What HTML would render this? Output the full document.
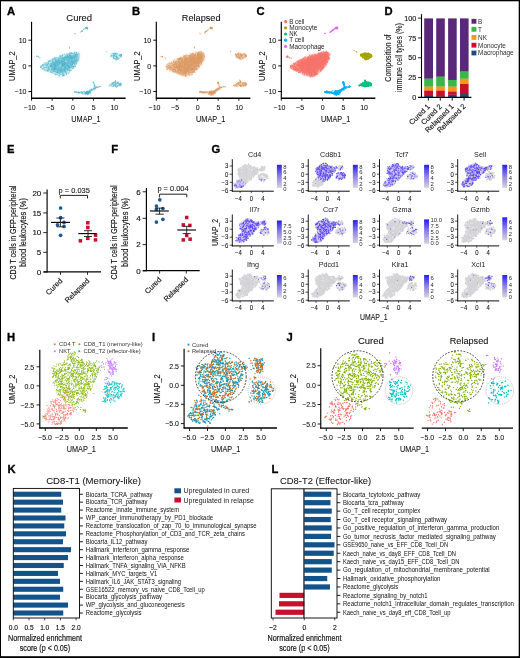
<!DOCTYPE html>
<html lang="en">
<head>
<meta charset="utf-8">
<title>Figure</title>
<style>html,body{margin:0;padding:0;background:#fff;overflow:hidden;}svg{display:block;}text{font-family:"Liberation Sans",sans-serif;}</style>
</head>
<body>
<svg width="520" height="658" viewBox="0 0 520 658" font-family='"Liberation Sans", sans-serif' fill="#111">
<rect x="0" y="0" width="520" height="658" fill="#ffffff"/>
<defs><filter id="bl" x="-10%" y="-10%" width="120%" height="120%"><feGaussianBlur stdDeviation="0.9"/></filter></defs>
<line x1="31.55" y1="21.8" x2="31.55" y2="98.8" stroke="#000" stroke-width="1.15"/>
<line x1="31.25" y1="98.25" x2="125.6" y2="98.25" stroke="#000" stroke-width="1.3"/>
<line x1="28.45" y1="40.2" x2="31.75" y2="40.2" stroke="#000" stroke-width="0.9"/>
<line x1="28.45" y1="65.9" x2="31.75" y2="65.9" stroke="#000" stroke-width="0.9"/>
<line x1="28.45" y1="91.5" x2="31.75" y2="91.5" stroke="#000" stroke-width="0.9"/>
<line x1="31.55" y1="98.2" x2="31.55" y2="100.7" stroke="#000" stroke-width="0.9"/>
<line x1="52.15" y1="98.2" x2="52.15" y2="100.7" stroke="#000" stroke-width="0.9"/>
<line x1="72.8" y1="98.2" x2="72.8" y2="100.7" stroke="#000" stroke-width="0.9"/>
<line x1="93.45" y1="98.2" x2="93.45" y2="100.7" stroke="#000" stroke-width="0.9"/>
<line x1="114.1" y1="98.2" x2="114.1" y2="100.7" stroke="#000" stroke-width="0.9"/>
<text transform="translate(26.45 42.9) scale(0.92 1)" font-size="7.6" text-anchor="end" stroke="#111" stroke-width="0.08">10</text>
<text transform="translate(26.45 68.6) scale(0.92 1)" font-size="7.6" text-anchor="end" stroke="#111" stroke-width="0.08">0</text>
<text transform="translate(26.45 94.2) scale(0.92 1)" font-size="7.6" text-anchor="end" stroke="#111" stroke-width="0.08">−10</text>
<text transform="translate(29.75 110.1) scale(0.92 1)" font-size="7.6" text-anchor="middle" stroke="#111" stroke-width="0.08">−10</text>
<text transform="translate(50.35 110.1) scale(0.92 1)" font-size="7.6" text-anchor="middle" stroke="#111" stroke-width="0.08">−5</text>
<text transform="translate(73 110.1) scale(0.92 1)" font-size="7.6" text-anchor="middle" stroke="#111" stroke-width="0.08">0</text>
<text transform="translate(93.65 110.1) scale(0.92 1)" font-size="7.6" text-anchor="middle" stroke="#111" stroke-width="0.08">5</text>
<text transform="translate(114.3 110.1) scale(0.92 1)" font-size="7.6" text-anchor="middle" stroke="#111" stroke-width="0.08">10</text>
<text transform="translate(85.9 122)" font-size="9.7" text-anchor="middle" textLength="29.2" lengthAdjust="spacingAndGlyphs" stroke="#111" stroke-width="0.1">UMAP_1</text>
<text transform="translate(14.8 66.2) rotate(-90)" font-size="9.5" text-anchor="middle" textLength="29.4" lengthAdjust="spacingAndGlyphs" stroke="#111" stroke-width="0.1">UMAP_2</text>
<text transform="translate(79.2 21.3)" font-size="8.4" text-anchor="middle" textLength="25.8" lengthAdjust="spacingAndGlyphs" stroke="#111" stroke-width="0.08">Cured</text>
<g filter="url(#bl)">
<polygon points="40.3,66.6 42,64.6 44.4,63 47.8,61.1 51.2,59.3 55,57.6 58.8,56.1 63.5,54.5 68.5,53 73,52 76.2,51.5 78.3,52.2 79.7,54.3 79.8,58 78,62.5 75.2,66.5 71.5,70.5 67.5,74 63.5,76.6 60.5,76.5 56,75 50,72.6 45,70.5 41.2,68.6" fill="#88cfdf" fill-opacity="0.3"/>
<polygon points="49,65 55,61 63,57.5 71,54.6 77,53.5 78.5,57 76,62.5 71,67.5 65,72 60,73.5 53,70.5" fill="#88cfdf" fill-opacity="0.42"/>
</g>
<path d="M58.6 65.3h0M60.6 66.7h0M65.5 71.6h0M66.2 67h0M57.1 72.6h0M59.7 68.2h0M70.8 61.2h0M76.7 63.2h0M43.2 67h0M71.4 55.8h0M48.2 70.3h0M49 60.9h0M70.8 59.9h0M43.9 66.7h0M55.4 62.8h0M63.1 73.5h0M49.7 69.9h0M64.1 59.4h0M62.2 72.7h0M76.9 56.7h0M62.4 55.4h0M67.7 66.3h0M40.5 67.5h0M43.2 64.4h0M69.7 68.3h0M54.9 68.2h0M57.1 70.9h0M64.5 60.8h0M44.3 67.5h0M69 60.7h0M58.3 72.9h0M41.2 66.6h0M67.2 63.4h0M52.3 68.8h0M57.5 74.4h0M48.4 61.5h0M74.8 61h0M46.1 63.3h0M58.2 58.8h0M64.7 64.6h0M74.6 52h0M52.7 71.4h0M73.2 57.6h0M64.8 62.3h0M67.1 56.5h0M68.5 56.4h0M67.3 64.1h0M56 71.3h0M44.8 62.3h0M55.7 65.3h0M65.9 55.9h0M65.8 70.3h0M61.1 72.1h0M74.5 60.5h0M61.9 70.8h0M72.3 52.9h0M53.7 71.5h0M61 69.1h0M77.9 54.1h0M51.4 69.4h0M73.5 65.9h0M62.5 56.4h0M55.7 71.4h0M62.5 61.6h0M51.2 63.7h0M59.3 60h0M76.9 54.7h0M67.1 60h0M44.8 70.2h0M61 62.8h0M61.4 56.1h0M65.8 64.4h0M74.1 56.6h0M75.6 60.3h0M75.4 55.5h0M73.2 61.9h0M56.5 68.7h0M77.9 54.4h0M60.2 68.9h0M61.9 64.3h0M77.8 54.3h0M58.3 71.1h0M60.6 62.3h0M68.2 73.1h0M69.6 61.9h0M67.9 72.8h0M64.7 64.1h0M69.9 70.7h0M67.8 70.4h0M68.6 53.6h0M65.6 68.1h0M66.3 59.5h0M61.9 61.3h0M68.1 70.6h0M64.6 70.4h0M62.5 64.1h0M71.7 53h0M46.8 63.8h0M77.1 62h0M54.5 58.2h0M51.5 69.6h0M45.8 71h0M70.8 52.7h0M57.6 63.4h0M60.9 74.6h0M63.8 54.1h0M57.5 68.4h0M63.4 61.5h0M69.9 58h0M71.1 67.4h0M66.9 65.4h0M70.1 57.4h0M50.9 62h0M43.2 68.3h0M55.1 63.9h0M72.3 66.9h0M57.2 57.6h0M53.1 64.4h0M57.9 61.2h0M62.5 63.4h0M71.1 54h0M68.9 69.1h0M54.3 69.9h0M69.1 65.3h0M76.5 62.2h0M53.6 61.2h0M49.9 60.9h0M56.1 61.7h0M72.1 64.6h0M47.5 70.3h0M62.4 65.6h0M71.4 52.9h0M44.1 67.9h0M66.1 58.3h0M60.6 70.9h0M59.7 64.4h0M76.7 61.3h0M61.1 68.9h0M48.1 63.2h0M44.9 67.5h0M63.6 74.4h0M49.4 69.3h0M46.9 71h0M72.5 64.4h0M75.5 59.8h0M60.3 57.3h0M71.5 61.1h0M66.7 57.5h0M54.9 71h0M73.8 63.5h0M51.2 65.5h0M68.2 54h0M74.3 58.7h0M76.6 53.5h0M62.2 65.3h0M52.9 59.5h0M58.4 69.9h0M58.8 75.3h0M67.9 57.3h0M71.6 56.5h0M55 65.4h0M55.8 68.5h0M69.7 59.6h0M69 59.7h0M67.2 69.6h0M73.6 66.5h0M76.1 62.2h0M55.5 59.9h0M56.8 69h0M66.7 66.8h0M54.1 68.1h0M60.7 70.8h0M47 70.5h0M54.6 64.6h0M68.9 73.4h0M65.3 56.6h0M62.6 69.8h0M55.3 63.9h0M61.5 65.5h0M73.1 67.1h0M49.9 65.7h0M66 58.6h0M55.4 66.3h0M48.4 63.6h0M62.5 55.8h0M62.7 59.7h0M67.3 55h0M58.4 61.4h0M69 70.5h0M55.7 62h0M60.3 65h0M69.2 66.2h0M44.8 62.7h0M42.1 68.9h0M52.4 61.6h0M66 73.6h0M48.3 69.9h0M45.2 65h0M55.9 60.4h0M53.5 63.6h0M58.7 57.6h0M75.9 56.1h0M48.6 68.1h0M69.6 58.9h0M68.2 54h0M68.5 56.7h0M66.1 71.8h0M75.3 66.6h0M52.2 68.2h0M57.6 64.7h0M64 59.4h0M70.1 58.2h0M57.8 70.9h0M59.5 55.8h0M54.6 67.6h0M60.1 72.3h0M77.9 55.6h0M63.7 57.7h0M49.7 64.3h0M63.1 69.1h0M57.4 63.3h0M62.8 64.9h0M64.8 65.2h0M47 68.2h0M59.9 70.6h0M58.6 70.3h0M75.2 55.3h0M70.5 70.2h0M61.2 57.8h0M55.2 59.9h0M54.2 68.5h0M74.7 63.6h0M55.4 71.5h0M47.7 65.5h0M48.6 63.6h0M74.3 56.7h0M67.6 60.7h0M55.8 74.4h0M77.4 59.9h0M76 52.4h0M53 70.8h0M56.1 57.5h0M52.4 62.1h0M68.1 57.5h0M51 69.6h0M74.4 57.5h0M40.6 67h0M78.4 58.2h0M48.3 67.9h0M74.5 57.3h0M57.6 61.5h0M53.2 64.2h0M56.5 63.9h0M54.1 62.5h0M68 65.3h0M56.1 60.8h0M63.3 63.5h0M75.5 66.3h0M46.9 62.6h0M55.3 65.7h0M64.7 67.3h0M51.5 72.1h0M76.5 52.8h0M52.7 60.5h0M67.7 57.4h0M55.3 57.5h0M61.3 66.9h0M78.1 60.6h0M52.5 68.9h0M46.1 67.1h0M54.9 58.2h0M44.7 69.5h0M71.2 64.2h0M74.6 53.3h0M71.7 61h0M68.2 60.3h0M62.6 61.5h0M66.8 57.4h0M63.6 75.1h0M67.2 61.7h0M51.8 69.8h0M61.5 63.9h0M51 60.9h0M67.8 65h0M77 57.8h0M62.4 54.9h0M49.1 63.8h0M75.8 59.4h0M59.6 61.5h0M42.3 64.9h0M57.8 72.2h0M54.3 70.9h0M61.3 71.2h0M56.4 71.1h0M79.6 53.9h0M68.2 57.7h0M62.8 57.5h0M65.9 72.3h0M54.6 58.3h0M69.6 56.3h0M67.3 56.1h0M54.6 62.3h0M55.3 59.3h0M53.9 71.2h0M48.9 61.5h0M51.4 68.4h0M79.1 54.9h0M65.1 56.3h0M73.6 67.3h0M67.3 62.5h0M63.9 65.9h0M64.6 62.4h0M75.9 55.6h0M69.4 58.2h0M57 74.1h0M60 56.9h0M72 64.3h0M49.7 71.9h0M74.4 57h0M43.3 65h0M50.3 71h0M62.1 74h0M55 72.2h0M48.9 66.8h0M48 68.3h0M53.5 59.2h0M64.2 69.1h0M67.8 63.4h0M69.2 60.9h0M45.4 67.7h0M55.5 62.9h0M54 69.7h0M51.4 72.6h0M77.2 60.7h0M55.9 58.9h0M51.7 68.7h0M75.3 58h0M64.3 65.7h0M54.9 69.3h0M40.8 67.5h0M58.4 59h0M72.6 66.5h0M56.4 69.2h0M48.8 61.1h0M69.9 54.1h0M64.9 70.9h0M69.5 71.3h0M62 65.3h0M52.6 64.6h0M60.6 58.6h0M48.5 62.7h0M74 53.9h0M57 66.1h0M69.6 69.8h0M66.1 72.9h0M52.8 63.1h0M59.8 74.4h0M69.2 58.3h0M58.7 60.7h0M42.4 64.6h0M54.7 59.4h0M70.3 63.8h0M63.4 76h0M54.5 58.7h0M52.1 63.9h0M72 61.9h0M52.6 69.2h0M72.8 60.4h0M72.1 67.9h0M41.3 66.9h0M68.9 61h0M76.6 53h0M69.6 61.1h0M69.9 53.8h0M66.8 65.4h0M62.5 75.1h0M62.1 73.1h0M56.9 60.2h0M59.3 69.3h0M44.7 70.6h0M63.3 64.9h0M73.2 60.3h0M78.9 59.5h0M50.3 69.7h0M54.7 69.7h0M62.8 75.8h0M59.5 57.1h0M53 72.9h0M62.6 65.5h0M72.2 53.7h0M48 64.8h0M71.2 65.6h0M68.1 60.4h0M51.7 72.7h0M61.4 58.2h0M45.5 64h0M51.4 64.1h0M64.3 64.7h0M66.4 74.3h0M54.7 71.7h0M55.4 69.6h0M62.8 61.2h0M75.7 54h0M74.7 52.9h0M42.1 65.8h0M60.7 56.1h0M59.9 56.1h0M60 65.4h0M54.6 68.7h0M63.2 68.4h0M76.2 53.5h0M72.6 68.7h0M73 62h0M50.3 66.1h0M67 63.7h0M50.4 63.2h0M49.7 68.4h0M52.1 59.2h0M72.1 65.4h0M56 59.8h0M53.4 71.6h0M63 70.2h0M76.7 55.9h0M46.1 69.3h0M46.1 68.1h0M44.6 64.6h0M70.6 64.7h0M52.9 70.4h0M63 57.9h0M58.7 66.3h0M70.7 61.6h0M47.2 70.1h0M48.4 71.6h0M64.2 60.9h0M53.2 60.1h0M56.4 65.1h0M77.1 57h0M74 55.5h0M68.7 57.3h0M78.2 59h0M53.1 65.6h0M61.1 61h0M50.6 65.6h0M43.3 64.1h0M78.5 58.6h0M72.2 56.8h0M59.3 61.9h0M59.5 64.3h0M60.3 60.4h0M67.2 70.8h0M72.1 55.6h0M53.2 70.8h0M43.7 69h0M75 59.9h0M64.9 54.5h0M62.5 74.8h0M55.7 60.4h0M71.3 56.7h0M67.6 64.7h0M47.3 66.9h0M76.8 58.6h0M53 58.4h0M61.4 63.1h0M48.2 66.4h0M54.9 64.5h0M56.7 62.2h0M77.6 54.8h0M69.8 64.7h0M74.6 57.5h0M61.2 56.1h0M46.1 66h0M69.1 58.9h0M68 63h0M59.2 75.4h0M68 62.8h0M62.5 70.5h0M67.8 67.1h0M59.1 67.3h0M59.7 62.3h0M50.4 70.9h0M54.4 62.6h0M64.7 62.5h0M58.6 63.1h0M55.8 73.9h0M56.1 68h0M65.7 68.5h0M48.1 70.6h0M54.2 69.4h0M70.4 57.8h0M43 65.4h0M55.6 65.7h0M69.8 66.7h0M62.7 65.1h0M71 58.7h0M50.7 65.7h0M47.4 66.8h0M51.5 71.8h0M63 62.8h0M62.4 76h0M67.8 68.5h0M51 60.5h0M55.3 68.3h0M71.6 70.5h0M48.5 68.8h0M74.7 57h0M57.3 71.7h0M79.4 57.7h0M53.1 62.9h0M68.8 56.4h0M49.3 61.3h0M42.9 69.3h0M61.9 66.2h0M64.2 73.2h0M66.5 69.4h0M51.5 65.9h0M52.5 66.6h0M73.4 63.2h0M64.7 67.6h0M56.2 61.3h0M61.4 64.1h0M71.7 67.3h0M67.3 68.4h0M56.9 64.5h0M60.9 58.9h0M64.7 53.9h0M57.1 70.3h0M47.6 62.8h0M48.5 62.6h0M63.4 67.4h0M66.8 57.2h0M65.7 57.5h0M71 53.1h0M58.9 75.8h0M72.6 55.7h0M76.9 52.4h0M72.8 57.6h0M59.9 76.1h0M65 60.7h0M55.6 64.9h0M63.9 74.9h0M59.8 70.6h0M48.5 70.1h0M58.3 72.2h0M71.1 69.9h0M75 61.1h0M73.8 66.5h0M48.3 67.8h0M61.8 61.3h0M60.3 61.3h0M64.6 56.4h0M75 66.6h0M77 55.2h0M55.1 69.2h0M69.6 70.3h0M48 60.8h0M55.4 66.5h0M63.9 73.8h0M70.9 52.8h0M53.2 67.1h0M50.6 60.4h0M73.5 56.4h0M67.9 57.4h0M56.7 59.7h0M69.5 62.9h0M48.4 67.1h0M68.7 64.9h0M72.1 68.4h0M64 72.4h0M67.2 69.4h0M62.8 72.2h0M51.3 70.6h0M50.2 66.6h0M65 68.6h0M51 62.9h0M55.5 74.6h0M59.4 60.5h0M67.3 55.6h0M63.8 70.8h0M54.8 73.9h0M75.4 63.8h0M42.9 68.9h0M77.7 60.5h0M66.6 62.9h0M63.9 64.2h0M49.3 68.1h0M53.5 69.3h0M46.6 65h0M50 65.6h0M69.5 70.9h0M67.6 69.8h0M72.7 63.7h0M44.9 68.8h0M71.5 66h0M56.1 68.1h0M54.5 68h0M66.6 73.1h0M76.5 59.2h0M46 67.4h0M50.5 71.4h0M54.3 63.7h0M57.1 58.4h0M65.4 71.9h0M72 66.7h0M64.4 59.6h0M75.1 66.4h0M44 65.6h0M69.6 67.8h0M66.3 55.4h0M60.5 68.9h0M77.8 59.4h0M62.7 58.2h0M70.5 66h0M60.6 56.7h0M67.2 54.4h0M62.5 66.1h0M73.7 61.7h0M78.9 55.2h0M77.5 56.9h0M76.5 63.7h0M49.7 67.1h0M57.2 63h0M58.2 68.4h0M63.1 55.3h0M55.2 59.7h0M73.5 61.2h0M49.5 69.5h0M70.5 70.4h0M54.4 63h0M64.3 75.5h0M79.5 56.3h0M52.6 62.1h0M74.8 64.4h0M52.4 61.8h0M72.7 53.9h0M56.2 65.5h0M66.5 59.9h0M52.1 59h0M74.6 60.7h0M71 65.5h0M70.2 63.4h0M66.4 63h0M61.1 72h0M69.3 66.5h0M47.2 66.2h0M59.3 70.7h0M71.6 58.7h0M69.6 52.8h0M45.1 63.3h0M56 63.6h0M58.2 67.4h0M48.6 69.7h0M68.6 62.7h0M59.8 58.2h0M53.8 68.4h0M69.3 72.4h0M60 73.9h0M66.9 67.8h0M72.1 63.5h0M67.2 65.3h0M56.1 57.9h0M57.2 68.6h0M64.1 69.6h0M67 65.8h0M64.9 67.1h0M73.6 67.1h0M76.1 61.5h0M55.8 58.2h0M52.8 61.8h0M56.4 72.6h0M48 64.9h0M51.5 63.7h0M54.4 58h0M68.4 65.9h0M46.1 65.4h0M60.9 58.2h0M43 68.6h0M52 67.3h0M50.7 72.5h0M77.7 54.2h0M72.5 64h0M61 74.5h0M68.5 69.7h0M62.8 61.8h0M53.9 71.1h0M64.8 67h0M59.1 62.8h0M52.5 72.2h0M41.6 66.7h0M67.7 56.6h0M69.6 58.5h0M55.2 74.5h0M57.3 66.8h0M57.7 72.5h0M49.9 61.3h0M62 64h0M67.9 57.5h0M51.9 65.7h0M47.3 69.6h0M64.7 63.8h0M64 66.9h0M46.8 64h0M66.3 71.9h0M72.1 57h0M70.8 63.4h0M58 73.1h0M51.6 67.2h0M46.5 66h0M73.9 63h0M71.3 65.9h0M73.3 66.4h0M73.1 65.7h0M57.8 72.5h0M62.6 61.7h0M75.2 55.4h0M50.6 66.6h0M51.2 67.4h0M66.5 74.7h0M63.1 57.7h0M65 58h0M45.9 70.8h0M63.8 74.6h0M52.8 60.9h0M65.6 72.9h0M57 72.6h0M64 64.9h0M62.4 57.7h0M51.4 65.9h0M47.6 71.5h0M60.6 55.4h0M64.7 63.3h0M58.8 69.4h0M63 75.6h0M70.3 59h0M69.7 70.5h0M40.9 65.8h0M71.2 61.9h0M65.1 64.8h0M43.8 68h0M46.7 64.5h0M75.3 55.7h0M75.9 62.4h0M58.1 73.7h0M59.1 64.9h0M63.2 58.1h0M41.8 67.8h0M57.3 61.9h0M65 62.7h0M61.9 60.5h0M57.5 69.5h0M57.2 61.3h0M62.6 65.4h0M72.9 58.5h0M60.1 72.7h0M53.3 63.7h0M74.6 66h0M49.6 60.9h0M76.9 64.1h0M72 58.3h0M60.4 69.4h0M63.8 70.3h0M60.9 56.3h0M43.7 65.4h0M71 63.2h0M57.7 64.3h0M71.4 57.5h0M45.6 64.7h0M57.8 71.8h0M70.5 64h0M66.2 74.3h0M60.5 60.9h0M69 58h0M63.7 61.9h0M71.6 65.6h0M69.3 55.3h0M79 60.8h0M70.7 53.9h0M69.9 57.3h0M64.2 64.8h0M47.4 64.4h0M65.2 65.3h0M74.4 64h0M67.6 65.5h0M66 57.4h0M64.3 62.6h0M52.5 59.5h0M65.4 69.8h0M57.8 62.4h0M72.6 61.8h0M51.5 63.4h0M72.4 58.6h0M47.7 64.4h0M59.7 72.6h0M42.1 65.8h0M56.8 74.5h0M74.7 56.5h0M63.9 75.4h0M47.9 70.1h0M61.6 58h0M54.4 66.3h0M60.3 70.5h0M64.1 68.9h0M54.1 73.7h0M67.3 55.7h0M55.3 61.3h0M53.3 69.8h0M76.9 61.8h0M54.7 59.7h0M69.7 53.6h0M73.9 67.8h0M48.7 67.5h0M57.7 59.3h0M61.6 68.3h0M52.7 69.7h0M67.2 53.9h0M70.8 55.9h0M59.8 58.5h0M61.7 61h0M56 72.5h0M62.5 55.8h0M61.4 69.6h0M46.5 67.8h0M59.3 58.2h0M51.9 61.4h0M75.5 65h0M66.7 54.3h0M56.1 68.4h0M48.1 64h0M67.3 55.9h0M64.5 68.9h0M55.6 61.3h0M58.2 58.1h0M74.3 64.1h0M64.2 63.8h0M72.2 64.6h0M73.5 68.7h0M47.3 64.3h0M65.8 69.2h0M57.5 62.7h0M58.7 69.9h0M70.3 67h0M65.2 67.7h0M69.7 54.4h0M74 67.5h0M68 56.6h0M78.4 52.9h0M71.1 58.6h0M69.9 67.2h0M59.7 76.1h0M64.7 70.8h0M75.5 60.3h0M64.2 75.4h0M70.1 55.4h0M54.3 69.8h0M71.3 53.5h0M52.1 72.2h0M41 66.4h0M42.7 65.5h0M58.9 60.4h0M57.1 66.6h0M54.9 64.3h0M65.7 71.6h0M67.6 56.3h0M69.2 60.7h0M64.6 60.5h0M72.1 62.5h0M64.3 66.7h0M59.2 67.2h0M72.1 62.8h0M65.9 57.1h0M61.9 59.2h0M72.5 56.7h0M55 65.1h0M68.6 60.3h0M59.1 71.9h0M52.7 63.6h0M66.2 59.5h0M74.1 62.9h0M75.7 58h0M62.6 73.1h0M65.4 66.6h0M67.7 58.4h0M73.9 58.5h0M66.8 65.9h0M51.7 65.8h0M78.1 56.2h0M60.1 59.9h0M64.3 57.6h0M63.1 70.3h0M71.9 60h0M54.8 62.5h0M56.7 62.7h0M68.9 67.1h0M65.8 66.5h0M77 60.2h0M58.2 67.8h0M54.4 66.4h0M51.1 65.3h0M65.1 63.6h0M61.3 68.8h0M56.4 62.6h0M76.7 55.2h0M67 69.1h0M68.4 68h0M66 60.2h0M53.2 63.7h0M66 69.9h0M59.3 63.3h0M51.8 66.2h0M54.7 62h0M54.8 65h0M61.3 60.4h0M52 66.7h0M67.9 65h0M51.7 65.6h0M75.1 56.7h0M69.9 55.6h0M56.5 62.3h0M76.1 60.5h0M70.9 61.2h0M60.4 70.6h0M62.9 65.7h0M69.9 55.3h0M57.8 61h0M75.4 56.6h0M64.6 69.2h0M59.5 62.1h0M54.6 70.9h0M72.3 60.4h0M68.5 58.3h0M64.5 70.7h0M76.7 58.7h0M64.4 63.5h0M60.9 71h0M56.7 69.2h0M62 65.5h0M63.9 69.4h0M57.7 69.1h0M65.6 55.8h0M65.3 62.3h0M50.9 64.5h0M58.9 62h0M68.9 68h0M54.5 62.3h0M70.2 55.7h0M50.7 65.5h0M67.8 62.3h0M68.6 65.8h0M61.5 71.8h0M72.1 60.4h0M58.4 69.1h0M70 59.8h0M57.9 64.3h0M50.4 63.9h0M55.2 66.2h0M51.9 65.3h0M72.8 60h0M68 60.6h0M55.3 65.4h0M58.9 72h0M72.5 58.6h0M59.3 73.5h0M69.1 62.8h0M56 67.5h0M70.8 57.6h0M59.2 63.2h0M54.7 66.2h0M73.8 58.5h0M68.5 61.3h0M62 70.3h0M55.7 67.5h0M58.6 60.4h0M75.7 56.4h0M64.9 67.6h0M74.5 56.8h0M73.7 56.5h0M69.1 67.1h0M55.6 70.1h0M70.2 64.2h0M74.1 59.8h0M75 52.4h0M58.3 65.4h0M73.8 63.2h0M60.7 70.1h0M71 59.8h0M60.6 62.4h0M61.3 63.1h0M61.3 70.9h0M58.4 68.4h0M63.5 65.5h0M53.4 65.3h0M71.5 58h0M62.5 71.6h0M59.2 62.7h0M53.7 67h0M63.2 61h0M55.4 65.4h0M68 64.3h0M66.7 58.2h0M61.9 59.6h0M62 60.1h0M57 72.2h0M65.5 70.8h0M66.9 64.1h0M60.5 69.6h0M72.1 64h0M69 60.1h0M68.5 62.6h0M74.5 63.7h0M63.8 58.8h0M57.8 64.2h0M67.6 69.1h0M68.2 56.3h0M75.4 54.6h0M52.6 66.2h0M66.2 64.1h0M67 68.1h0M73.2 62.7h0M69.6 58.1h0M63.8 62.8h0M56.1 66.6h0M62.1 66.5h0M52.8 67.7h0M57.5 72.9h0M59.3 64.4h0M63.3 63.5h0M66 64.3h0M61.6 62.9h0M57.7 64.2h0M65.9 67h0M69.3 60.7h0M73.9 55.4h0M74.3 62.6h0M60.9 67.6h0M75.3 58h0M63.2 59.5h0M65.3 61.3h0M61.7 61.9h0M65.2 66.5h0M59.7 71.5h0M66 63.7h0M69.5 65.7h0M76.6 54.3h0M56.3 68.7h0M64.6 64h0M71.8 62.1h0M63.5 61.1h0M64 61.8h0M74 58.2h0M65.8 61.9h0M64.3 60.9h0M62.6 59h0M65.1 58.8h0M77.3 54.8h0M69 58.3h0M63.2 58.8h0M73.3 58.3h0M75.7 62.1h0M61.8 61.5h0M64.1 68.6h0M68.4 58.8h0M70.7 56.9h0M72.7 57.4h0M65.1 56.7h0M56.9 65.7h0M69.6 57h0M68.3 59.9h0M54 64.5h0M75.8 60.2h0M68.8 55.5h0M63.6 58.8h0M66.8 67.8h0M64.9 59h0M71.9 59.5h0M61.9 71.6h0M67.3 60.6h0M69.5 67.9h0M71.2 60.3h0M61.1 72.4h0M76.1 61.9h0M59 67.4h0M69.9 62.8h0M60.8 67.6h0M72.3 63.7h0M70.1 57.1h0M59.1 60h0M62.4 71.3h0M69.8 67.1h0M54 70.5h0M60.6 71.6h0M65.1 62.7h0M59.5 70.5h0M74.4 62.1h0M69.4 55.7h0M71.7 60.8h0M56.9 72.1h0M76.7 57.4h0M62.6 71.6h0M54.7 65.3h0M63.2 69.2h0M63.5 72.1h0M61.8 73.2h0M66.2 63.5h0M53.8 67.5h0M59 60.4h0M60.1 61.9h0M55.4 63h0M55 68h0M64.6 63.4h0M55.5 64.6h0M73.1 60.8h0M55 63.7h0M57.2 66.2h0M69 66.7h0M74.8 62.3h0M76.4 56.9h0M71.6 60.8h0M70 57.3h0M56.6 69.6h0M52.6 65.7h0M67.4 56.9h0M70.7 67h0M56.9 64.3h0M53.4 66.9h0M59.7 67.2h0M66.7 57.2h0M53.8 68.8h0M57.1 71.8h0M56.7 63.9h0M54.4 68.2h0M65.6 62.7h0M63 68.8h0M69.4 58.6h0M67.9 68.9h0M73.6 62.3h0M53.6 63.1h0M56.5 63h0M53.8 62.9h0M69.9 64.4h0M64.4 59.2h0M69.3 67.1h0M70.5 58.1h0M55.5 69.4h0M59.4 73.4h0M59.1 59.9h0M57.7 60.4h0M58.1 67.7h0M74.4 64.6h0M52.3 66.7h0M74.9 60.5h0M65.8 66.3h0M53.5 69.1h0M50.9 65.4h0M77.7 57.1h0M62.2 64.5h0M55.6 68.7h0M56.1 65.6h0M50.3 68.1h0M53.8 66.9h0M55 69.3h0M70.2 54.1h0M54.5 66.3h0M64 60.5h0M75 61.4h0M70.3 55.7h0M60.3 63.9h0M60.9 61.9h0M59.7 69.5h0M73.6 60.9h0M63 63.6h0M62.8 63.3h0M65 58.9h0M63.1 63.8h0M63.1 61.9h0M63.4 62.1h0M66 57h0M57.3 70.1h0M70.5 63.9h0M63.9 59.7h0M64.1 63.5h0M75 63.5h0M54.2 69.5h0M60.7 69.9h0M75.7 60.7h0M60.5 61.7h0M67.7 65.8h0M69.6 67.7h0M67.4 70.3h0M55.9 63.8h0M62.2 66.8h0M69.6 61.3h0M65.2 58.3h0M58.4 62.8h0M56.1 68.1h0M58.1 61.9h0M65.4 59.5h0M62.7 64h0M52.6 68.4h0M63.8 63.7h0M55.4 62.9h0M58.2 64.7h0M60.8 63.4h0M76 61.2h0M55.2 67.1h0M68.7 66.5h0M61.7 62.4h0M63.6 59h0M59.2 70.1h0M54.9 67.4h0M68.5 63.6h0M71.7 56.8h0M51.2 64.6h0M67.2 65.6h0M67 59.5h0M61.5 62.7h0M61.8 69.1h0M59.6 63.5h0M69.7 58.3h0M67.6 58.2h0M72.9 62.1h0M69.1 55.7h0M54.8 69.5h0M64 64h0M74.3 54.7h0M56.9 61.3h0M52.2 68.2h0M49.3 65.9h0M73.9 54.8h0M69.3 61.3h0M65.3 67.3h0M74.6 64.3h0M62.4 62.1h0M70.8 62.8h0M75.2 61.9h0M65.2 58.2h0M68.3 67.7h0M74.2 56.9h0M72.2 57.8h0M72.7 62h0M54.4 65.3h0M70.3 65.3h0M66.1 65.7h0M68.5 56.2h0M63.2 66.7h0M71.3 58.6h0M66.3 64h0M70.2 55.4h0M71.6 58.9h0M63 65.6h0M72.9 66.2h0M71.9 55.7h0M58.5 65.9h0M68.3 67h0M64.3 62.5h0M52.1 63.3h0M65.6 67.9h0M68.2 63.2h0M70.8 61.4h0M74.2 59.6h0M52.7 61.6h0M50.1 66h0M70.1 57.7h0M58.7 59.8h0M76.5 58.8h0M73.5 57.6h0M63.9 65.7h0M71.4 58.1h0M62.8 59h0M65.3 58.6h0M71.4 62.4h0M61 67.9h0M67.7 58.3h0M71.9 60.4h0M64.6 69.8h0M58.8 64.3h0M75.4 54.8h0M68 66.4h0M66.3 56.4h0M72.2 66.1h0M57.1 70.4h0M62.3 65.2h0M58.6 62h0M75.5 54.8h0M55.4 65.2h0M72 57.8h0M69.5 67.8h0M75.3 56.8h0M71.7 56.9h0M62.4 63.3h0M62.2 67.5h0M71 58.6h0M55.7 66.7h0M61.3 63.4h0M58.9 69.4h0M67.9 65.2h0M56.1 61.8h0M77.4 60.1h0M64.3 71.8h0M58.9 61.8h0M64.6 64.6h0M63.7 64.7h0M62.6 58h0M56 62.6h0M70.6 55h0M54.8 69.4h0M62.1 65.5h0M58.2 71.4h0M63.5 64.6h0M71.2 58.9h0M74.9 59.1h0M57.3 63.6h0M64 61h0M73.9 62.3h0M53.7 64.1h0M57.2 66.2h0M71.7 56.9h0M66.2 60.3h0M61.4 70.4h0M76.5 54.4h0M64.4 58h0M69.2 63.3h0M72.7 61.7h0M62.2 62.4h0M53.7 65.9h0M69 68.3h0M73.7 58.8h0M59.9 67h0M72.8 57h0M73 53.7h0M62.2 65.2h0M73.6 55.4h0M78.2 57.4h0M61.9 61.8h0M61.6 71.8h0M64.3 67.3h0M69 57.5h0M65.4 69.9h0M57.8 60h0M63 64.5h0M64.7 57.5h0M62.2 69.1h0M55 68.8h0M63.5 60.5h0M62.7 69.7h0M67 61.1h0M64.9 69.5h0M75.6 59.5h0M72 59.5h0M66.3 62.7h0M57.9 60.3h0M60.9 72.8h0M64.7 66.5h0M75.5 56.3h0M54.1 68.1h0M74.4 56.1h0M63.8 71.5h0M63.2 66.7h0M70.8 56.9h0M70.9 57h0M56 66.3h0M65 63.9h0M73.2 57h0M58.6 69.3h0M69 57.3h0M61.4 60.6h0M70.5 56h0M69.9 55.6h0M75.2 54.1h0M73.1 62.3h0M68.1 62.6h0M57.1 63.3h0M62.4 66.2h0M64.6 62.3h0M54.7 63.6h0M55.7 65.7h0M70.7 62.2h0M69.6 62.7h0M64.3 59.1h0M62.9 69.5h0M70.8 68h0M72.1 58.2h0M56 66.1h0M67.3 65.7h0M53.2 62.2h0M63.3 64.5h0M54.4 64.6h0M68 66.1h0M57.3 62.9h0M60.2 63h0M66.2 68.3h0M66.1 65.6h0M65.8 64.4h0M51.1 65h0M75.1 54.6h0M58.1 65.4h0M67.9 59.2h0M64.8 71h0M61 68.4h0M67.9 65.4h0M59.6 67.7h0M58.2 65.5h0M56.5 66.1h0M53.4 69.3h0M64.8 68.3h0M63.7 65.2h0M50.8 66.3h0M54.5 63.1h0M60.9 70.4h0M69 67h0M74 53.4h0M68.2 58.5h0M64.3 65.1h0M63.1 61.3h0M71.2 64.5h0M53.2 64.4h0M59 61.2h0M50.7 66.8h0M69.4 68.2h0M76.7 60.8h0M52.5 67.9h0M60.6 68.8h0M74.3 57.2h0M59.9 59.4h0M55.2 60.9h0M53.4 64.7h0M68.1 65.9h0M61.4 67.3h0M56.6 59.9h0M60.2 61.9h0M58.1 60.4h0M61.7 59.9h0M38.6 56.6h0M36.4 56h0M37 56.4h0M36.9 56.6h0M38.1 56.2h0M37.9 56.9h0M36.8 56.1h0M38.9 57.2h0M39.9 57.8h0M39.8 57.6h0M69.4 48h0M69.5 47.9h0M69.5 48h0M69.7 47.1h0M75 33.3h0M74.3 33.7h0M75.3 33.7h0M82.5 30.8h0M81.9 31.4h0M82.4 31h0M80.8 31.6h0M83.7 29.6h0M81.6 31h0M84.3 28.9h0M83.6 29.6h0M80.2 32.4h0M84.2 28.9h0M83.6 29.5h0M82 31.1h0M84 28.9h0M81.9 31.1h0M82.1 30.9h0M81.9 31.2h0M86.1 28.2h0M85.9 28h0M86.2 27.7h0M85.7 27.4h0M86.5 28.3h0M85.7 27.7h0M87.6 27.4h0M85.8 28.1h0M86.8 27.4h0M87.1 28.3h0M87.4 28.5h0M86.8 27.3h0M87.3 28.2h0M87.7 28.1h0M86.6 27.7h0M86.5 27.8h0M87.7 28.9h0M86.8 28.7h0M87.8 27.7h0M85.8 28.1h0M86.2 28.2h0M86.8 27.4h0M86.7 27.4h0M86.7 28.4h0M87.5 28.5h0M85.9 28h0M87.3 27.9h0M114.6 54.7h0M116.1 56h0M114 57.3h0M114.9 54.7h0M111.8 54.9h0M119.1 56.3h0M121.1 54.6h0M114.6 55.3h0M117.1 53.5h0M120.8 56.4h0M115.3 56.4h0M113.7 54.4h0M120.3 55.5h0M119 54.2h0M121.4 56h0M116.9 56.6h0M113.8 54.4h0M114.9 56.2h0M116.1 59.2h0M121.1 55.6h0M113.2 56.8h0M121.1 54.9h0M114.7 52.7h0M115.5 57.2h0M117.1 53.8h0M115.2 59h0M112.2 53.7h0M120 55.4h0M113.6 55.7h0M114 58.4h0M113.8 53.5h0M117.2 57.8h0M116.2 58.6h0M116.2 55.8h0M114 55.9h0M116.2 58.8h0M113 55.1h0M119.8 56.9h0M120.2 54.3h0M120.2 54.5h0M117.7 53.9h0M116.9 56.8h0M115 56.4h0M114.7 58.7h0M117 54.4h0M113.8 56.4h0M115.5 54h0M118 58.1h0M118.1 59.1h0M115.2 56h0M116.5 58h0M112.5 55.5h0M113.5 55.2h0M113.4 57.7h0M115.1 53.6h0M120.9 57h0M114 53.8h0M111.2 56.6h0M118.2 57.6h0M115 54.8h0M119.5 55.3h0M119 55.4h0M119.7 55.3h0M116.7 56.9h0M113.7 56.2h0M111.8 56.1h0M113.2 57h0M120.5 54.6h0M116.5 57.5h0M117.8 59.3h0M115.7 53.4h0M121.3 57.2h0M114.2 53.8h0M115 58.6h0M121.2 54.4h0M112.7 57.2h0M112.4 53.7h0M112.9 53.1h0M121.7 55.3h0M120.6 56.9h0M120.9 54.4h0M116.6 56.9h0M121.5 54.7h0M115.9 55.9h0M114.6 54.6h0M115.1 53.6h0M117.9 59.4h0M118.9 55.3h0M111.2 53.5h0M121.7 54.2h0M115.1 58.8h0M112.7 56.1h0M117.9 55.8h0M116.6 57.1h0M116.1 59.2h0M117 54.5h0M116.2 56.4h0M110.7 55h0M115.7 59.9h0M121 55.4h0M113.6 53.6h0M115.2 58.7h0M121.3 56.2h0M117.5 57.7h0M117.9 56.2h0M113.7 57.9h0M113.9 58.7h0M115.5 53.4h0M116.8 58.9h0M110.6 56.6h0M121.2 55.4h0M117 59.7h0M116.4 54.8h0M119.3 57.8h0M117.6 58.2h0M113.6 57.4h0M115.3 54.1h0M111.6 55.7h0M119 58.2h0M114.1 55.2h0M114.7 55.4h0M117.4 57.8h0M116.1 52.5h0M111.7 55.8h0M110.8 56.2h0M116.8 56.4h0M115.8 53.5h0M121.1 54.8h0M120.8 56.5h0M117.1 53.5h0M116 53.6h0M114.7 53.7h0M117.5 58.8h0M114.6 57.9h0M118.7 58.9h0M116.3 56.4h0M114.4 58.7h0M113.5 55.8h0M116.4 56.8h0M116.7 56.9h0M116.6 60.3h0M113.6 58.5h0M111.6 55.6h0M107.3 52.3h0M105.9 51.4h0M114.4 82.7h0M115.7 83.6h0M117.7 86.5h0M111.9 86.3h0M117.4 82.3h0M117.4 85.8h0M116.1 86.9h0M117.9 82.8h0M114.7 85.7h0M111.4 84.4h0M113.4 86.4h0M110 85.2h0M119 84.8h0M116.8 83.6h0M115 85.9h0M115.4 84.2h0M113.3 83.3h0M118.9 85.8h0M113.2 86.1h0M115.4 86.5h0M117.9 83.3h0M117.2 82.1h0M120.6 83.4h0M116.6 84h0M115.5 85.5h0M111.2 86.2h0M119.7 84.2h0M117.9 82.5h0M117.7 83h0M115.9 84.4h0M113.4 84.3h0M119.3 83.8h0M119.9 84.7h0M118.7 83.3h0M118 84.3h0M111.2 83.4h0M116 82.6h0M114 85h0M114.9 82.1h0M118.3 84.8h0M112.2 86.3h0M113.1 82.5h0M115.4 82.8h0M114.7 85.9h0M109 86h0M116.3 85.3h0M112.2 83.4h0M114.5 85.4h0M117.8 86.3h0M120.2 83.8h0M118.6 83h0M121 85.7h0M118.1 82.5h0M120.3 83.1h0M113.2 82.8h0M119.8 83.7h0M119.5 84.2h0M120.6 84.3h0M114.2 84.7h0M115 85.2h0M118.7 82h0M115.3 82.8h0M120 85.2h0M109.2 85.9h0M121.3 83.5h0M112.1 83.1h0M121.1 84.5h0M111.9 84.8h0M115.8 84.7h0M113.3 84.2h0M114.8 84h0M121.5 85.2h0M112.7 84h0M112.7 83.6h0M112 83.7h0M117.4 85.4h0M120.2 85.4h0M121.2 82.9h0M119.1 85.5h0M113.7 86.1h0M119.2 84.1h0M117.1 83.5h0M110.2 84.9h0M111.5 85.2h0M113.4 83.6h0M113.5 85.9h0M113.6 82.8h0M109.6 84.9h0M114.7 82h0M112.9 86.1h0M117.1 85.2h0M114.9 84.1h0M116.4 86.9h0M118.8 84.8h0M114 82.7h0M120.5 85.1h0M115.2 84.4h0M115.2 83.3h0M119.4 85.9h0M115.3 86h0M113.8 82.5h0M116 81.9h0M115.8 86.3h0M113.2 85.7h0M115.8 86.2h0M110 83.9h0M116.6 83h0M112.9 83h0M120.3 84.8h0M117.2 83.4h0M112.3 83.8h0M115.5 81.5h0M116.2 87.4h0M120.8 85.4h0M116.8 86.6h0M117.2 81.9h0M116.9 86.9h0M114.8 81.9h0M113.2 86.1h0M115.6 83.4h0M121.1 83.9h0M120 84.2h0M110.8 85h0M112.6 84.4h0M117.6 85.9h0M120.3 84.3h0M115.4 81.1h0M115.2 81h0M115.4 80.5h0M115 81.1h0M79.9 92.1h0M77.1 92.3h0M78.1 91.2h0M76.3 91.7h0M78.8 92.5h0M81.4 91.9h0M82.4 92.8h0M80.7 92.8h0M78.5 92.6h0M76.5 92h0M79.1 93h0M81.3 91.9h0M79.5 92.8h0M77.2 92.4h0M75 91.9h0M75 92h0M80.8 92h0M78.9 92.7h0M82.8 93.2h0M75.1 91.8h0M77.9 92.7h0M77.1 92.6h0M82 92.4h0M76.7 92.3h0M82.1 92.3h0M81.6 92.6h0M80 92h0M77 91.9h0M80.8 92.7h0M79.1 93h0M84 92.2h0M82.1 92.4h0M81.5 92.2h0M76 91.8h0M74.9 92.3h0M77.5 92.6h0M82.3 92.6h0M82.5 92.4h0M79.6 92.6h0M83.3 91.7h0M75.4 92h0M78.7 92.9h0M78.8 92.2h0M79.7 93h0M82.5 92.8h0M82.4 92.3h0M78.8 92.5h0M74.6 91.5h0M74.8 92.4h0M84.3 91.7h0M86.1 92.7h0M87.8 92.6h0M87.1 92.3h0M88.7 93.7h0M84.3 93.9h0M87.5 93h0M88.3 93.3h0M87.3 93.3h0M84.1 93.3h0M87.2 91.8h0M86.1 93.4h0M86.2 91.9h0M86.6 92.3h0M87.1 94h0M90.2 92.9h0M87.7 91.9h0M88.1 93.4h0M86 93.6h0M86 93h0M87.4 92.9h0M87.5 93.3h0M86 93.1h0M88.1 93.8h0M85.6 92.5h0M86.3 91.6h0M87.6 94.7h0M86 92.6h0M86.3 92.8h0M85.6 94.8h0M85.3 93.5h0M88.5 93h0M89.2 91.2h0M82.3 93.5h0M87.6 92.7h0M87.3 92.1h0M85.4 92.1h0M87 93.4h0M90 92.6h0M84.3 93.8h0M86.3 91.9h0M88 91h0M84.9 94.7h0M86.1 93.3h0M89 91.7h0M87.2 94h0M88.3 94.2h0M90.9 94.9h0M88.1 92.3h0M88.3 92.2h0M84.1 91.4h0M87 92.8h0M86 93.9h0M86.7 92.1h0M86.9 92.8h0M87.9 92.8h0M88.4 92.4h0M86.7 93.4h0M85.7 93.1h0M87.2 93.9h0M83 94.1h0M86.4 92.9h0M89.2 93.4h0M84.7 92.6h0M88.1 92.6h0M87.5 93.7h0M90 92.2h0M84.4 92.1h0M86.2 93.8h0M87.3 94.1h0M87.2 91.5h0M87.5 92.2h0M87.4 91.3h0M88.1 91.9h0M86.3 93.7h0M86.5 92h0M89.3 92.5h0M88.5 92.8h0M84.1 92.7h0M87.5 92.7h0M89.6 91.2h0M85.8 93.5h0M88.7 93.7h0M85.4 93.2h0M87.7 94.6h0M90.3 93.3h0M87.9 93.6h0M86.7 93.2h0M87.5 93h0M88 92.9h0M86 94h0M88.4 92.1h0M87.9 92h0M87.4 92.2h0M86 93.3h0M85.5 93.6h0M89.5 92.6h0M85.7 93.3h0M86.5 91.4h0M90.4 92.4h0M89.8 93.7h0M88 93.3h0M86.4 93.5h0M86 93.3h0M85.5 92.9h0M82.4 92.3h0M87.5 93h0M87.4 93.4h0M89.7 92.4h0M81.2 93.4h0M87.2 92.9h0M88.1 94.4h0M87.4 92h0M88.1 92.2h0M84.5 91.8h0M86.9 91.5h0M86.3 93.3h0M83.3 94.1h0M90.1 92.7h0M86.8 92.6h0M82.2 93.1h0M91.3 89.3h0M91.8 89.2h0M91.7 90.3h0M93.1 89.3h0M89.3 91.9h0M89.6 91.4h0M94 87.7h0M95 88.4h0M96.1 87.2h0M90.2 91h0M88.7 91.9h0M89.4 91.8h0M89.3 91.6h0M94 88.7h0M94.3 90h0M88.9 92.3h0M95.1 88.3h0M91.5 90.8h0M91.8 89.5h0M90.7 89.1h0M91.4 90.4h0M89 93h0M95.8 87.7h0M94 88.4h0M90.2 90.2h0M89.8 89.8h0M94.3 89.8h0M89.8 91.7h0M95.6 88.8h0M93.3 88.6h0M93.9 88h0M87.9 92.4h0M91.8 90h0M94.4 88.4h0M93.2 88.2h0M89.5 90.8h0M95.4 88h0M89.3 91.9h0M90.6 90.1h0M88.6 92.3h0M92.4 90.2h0M91 90.3h0M89.9 90.7h0M92.8 89.4h0M90.3 91.2h0M87.7 93.1h0M96.1 86.7h0M90.2 91.8h0M95.9 87.9h0M91 89.7h0M93.8 88.7h0M93.6 88.6h0M88.9 91.2h0M87.7 92.2h0M92.2 89.1h0M94.4 89.2h0M89.8 92.4h0M92.2 89.6h0M93.8 88.6h0M91.2 90.9h0M95.4 88.9h0M88.5 92.4h0M90.6 90.9h0M93 89.5h0M88.1 92.1h0M91.4 90.3h0M98.8 86.4h0M97.7 87.3h0M97.6 87.1h0M97.3 87.3h0M100.4 86.5h0M97 86.8h0M96.4 87.2h0M99.1 86.6h0M99.9 86.4h0M100.1 86.5h0M96.4 87.7h0M98 87.2h0M96 87.6h0M99 87.2h0M97.8 87.4h0M100.2 86.5h0M95.1 86.2h0M93.9 83.6h0M95.2 86.9h0M94.6 84.6h0M95 85.1h0M94.8 85.4h0M94.2 83.3h0M94.5 84.7h0M94.4 87h0M94.4 85.4h0M94.8 87.6h0M93.9 85.3h0M94.8 86.1h0M94.1 86.5h0M94.7 86h0M94.8 86.9h0M93.8 83.1h0M92.9 82.2h0M93.6 82.3h0M93.4 82.7h0M93.4 82h0M93.8 82.5h0" stroke="#4fb6cf" stroke-width="0.84" stroke-linecap="round" fill="none" stroke-opacity="0.66"/>
<line x1="156.3" y1="21.8" x2="156.3" y2="98.8" stroke="#000" stroke-width="1.15"/>
<line x1="156" y1="98.25" x2="250.35" y2="98.25" stroke="#000" stroke-width="1.3"/>
<line x1="153.2" y1="40.2" x2="156.5" y2="40.2" stroke="#000" stroke-width="0.9"/>
<line x1="153.2" y1="65.9" x2="156.5" y2="65.9" stroke="#000" stroke-width="0.9"/>
<line x1="153.2" y1="91.5" x2="156.5" y2="91.5" stroke="#000" stroke-width="0.9"/>
<line x1="156.3" y1="98.2" x2="156.3" y2="100.7" stroke="#000" stroke-width="0.9"/>
<line x1="176.9" y1="98.2" x2="176.9" y2="100.7" stroke="#000" stroke-width="0.9"/>
<line x1="197.55" y1="98.2" x2="197.55" y2="100.7" stroke="#000" stroke-width="0.9"/>
<line x1="218.2" y1="98.2" x2="218.2" y2="100.7" stroke="#000" stroke-width="0.9"/>
<line x1="238.85" y1="98.2" x2="238.85" y2="100.7" stroke="#000" stroke-width="0.9"/>
<text transform="translate(151.2 42.9) scale(0.92 1)" font-size="7.6" text-anchor="end" stroke="#111" stroke-width="0.08">10</text>
<text transform="translate(151.2 68.6) scale(0.92 1)" font-size="7.6" text-anchor="end" stroke="#111" stroke-width="0.08">0</text>
<text transform="translate(151.2 94.2) scale(0.92 1)" font-size="7.6" text-anchor="end" stroke="#111" stroke-width="0.08">−10</text>
<text transform="translate(154.5 110.1) scale(0.92 1)" font-size="7.6" text-anchor="middle" stroke="#111" stroke-width="0.08">−10</text>
<text transform="translate(175.1 110.1) scale(0.92 1)" font-size="7.6" text-anchor="middle" stroke="#111" stroke-width="0.08">−5</text>
<text transform="translate(197.75 110.1) scale(0.92 1)" font-size="7.6" text-anchor="middle" stroke="#111" stroke-width="0.08">0</text>
<text transform="translate(218.4 110.1) scale(0.92 1)" font-size="7.6" text-anchor="middle" stroke="#111" stroke-width="0.08">5</text>
<text transform="translate(239.05 110.1) scale(0.92 1)" font-size="7.6" text-anchor="middle" stroke="#111" stroke-width="0.08">10</text>
<text transform="translate(210.65 122)" font-size="9.7" text-anchor="middle" textLength="29.2" lengthAdjust="spacingAndGlyphs" stroke="#111" stroke-width="0.1">UMAP_1</text>
<text transform="translate(139.55 66.2) rotate(-90)" font-size="9.5" text-anchor="middle" textLength="29.4" lengthAdjust="spacingAndGlyphs" stroke="#111" stroke-width="0.1">UMAP_2</text>
<text transform="translate(201.15 21.3)" font-size="8.4" text-anchor="middle" textLength="38.8" lengthAdjust="spacingAndGlyphs" stroke="#111" stroke-width="0.08">Relapsed</text>
<g filter="url(#bl)">
<polygon points="165.05,66.6 166.75,64.6 169.15,63 172.55,61.1 175.95,59.3 179.75,57.6 183.55,56.1 188.25,54.5 193.25,53 197.75,52 200.95,51.5 203.05,52.2 204.45,54.3 204.55,58 202.75,62.5 199.95,66.5 196.25,70.5 192.25,74 188.25,76.6 185.25,76.5 180.75,75 174.75,72.6 169.75,70.5 165.95,68.6" fill="#e6b084" fill-opacity="0.5"/>
<polygon points="173.75,65 179.75,61 187.75,57.5 195.75,54.6 201.75,53.5 203.25,57 200.75,62.5 195.75,67.5 189.75,72 184.75,73.5 177.75,70.5" fill="#e6b084" fill-opacity="0.55"/>
</g>
<path d="M183.7 67.8h0M175.7 71.3h0M187.4 68.4h0M167.8 69.1h0M199.1 52.3h0M189.6 55.5h0M180.5 61.8h0M178.9 60.1h0M179.6 63.9h0M182.1 64.9h0M180.8 71.2h0M172.4 69h0M179.1 67.6h0M182.9 75.7h0M195.5 60.1h0M168.1 66.9h0M178.1 70.8h0M173.6 64.8h0M200.2 56.4h0M185.3 68.7h0M192.6 69.5h0M180.6 58h0M188.1 66.7h0M194.4 61.5h0M196 66.4h0M194.7 65.7h0M186 71.4h0M179.6 59.1h0M186.8 67.5h0M192.7 61.8h0M177.9 68.8h0M177.4 68.4h0M202.4 60.8h0M191.4 60.4h0M179.4 58.9h0M185.1 69.4h0M189 73.1h0M174.1 64.6h0M192.1 68.1h0M191.9 59.9h0M184.7 60.8h0M174 65.3h0M197.3 58.5h0M180.7 73.2h0M170.3 67.1h0M195.8 61.6h0M180.8 61.3h0M197 56.1h0M179.1 70.1h0M171.4 69.7h0M199.6 67.1h0M185.7 62.7h0M196.4 63.8h0M189.7 61.5h0M193.7 58.3h0M181.4 61.3h0M198.4 54.8h0M168.7 68h0M202.7 53.1h0M183.8 56.3h0M186.5 59.6h0M189.7 75.4h0M201.6 61.5h0M189 68.3h0M184.4 69.2h0M179.3 60.2h0M183.9 56h0M180.6 67.2h0M175.5 62.4h0M189.5 55.7h0M187.7 61.3h0M185.1 63.4h0M179.9 60.2h0M177.8 68.3h0M191.6 54.8h0M171.7 63.3h0M189.9 67.2h0M201.7 61.4h0M193.3 70.9h0M193.5 63.6h0M193.2 60.5h0M200.9 54.9h0M179.3 63.3h0M186.8 71.9h0M200.7 54.1h0M191 62.5h0M180 62h0M186.1 64.9h0M187 64.8h0M200.8 51.6h0M173.9 61.1h0M185.4 70.3h0M190.7 60.8h0M203.4 54.9h0M173.7 61.3h0M187.5 68.4h0M194.7 58.2h0M190 60.7h0M181 59.5h0M186.3 76.1h0M199.6 59.4h0M191.2 69.4h0M203.1 53.5h0M198.1 68.5h0M182.3 74.5h0M191.2 63.8h0M184.4 73.8h0M191.8 62.6h0M192 66.7h0M173.3 62.3h0M191.7 64.6h0M190.5 55.1h0M178 66.5h0M194.1 63.5h0M188.9 68.8h0M200.9 55.7h0M192.2 62.4h0M182.3 73.3h0M200.9 51.5h0M182.7 74.2h0M176.8 71.4h0M175.9 70h0M171.7 65.6h0M192.5 74.4h0M192.2 73h0M192.5 67.8h0M199.6 55.6h0M177.4 58.9h0M199.3 59.6h0M193.3 56h0M170.3 67.1h0M183.2 60.8h0M193.7 54.6h0M194.5 60.4h0M171.9 64.1h0M171.1 62.8h0M193.8 69.8h0M171.5 62.2h0M199.6 52.5h0M195.5 65.7h0M198.4 65.9h0M190.5 66h0M178.1 70h0M186 69.8h0M172.5 67.5h0M200 62.8h0M181.6 63h0M185.7 68.1h0M196.1 57.4h0M182.4 67.4h0M190.6 68.8h0M186.7 55.9h0M182.5 71.7h0M169 68.1h0M187.2 69h0M201.1 56.7h0M195 67.2h0M187.7 62h0M197.8 63.8h0M202.7 59.8h0M184.9 66.8h0M185.3 68h0M199.9 62.4h0M192.3 53.7h0M188.7 66.7h0M180.2 64.6h0M176.8 73.3h0M196.4 61.4h0M180.4 57.9h0M170.7 69.6h0M194.3 70.7h0M197.8 53.8h0M175.4 63h0M178.3 61.6h0M172.2 68.1h0M200.2 58.9h0M197.5 56.2h0M187.3 70.3h0M169.8 62.6h0M194.7 65.9h0M177.3 71.7h0M193.1 61.7h0M183.7 58.9h0M189.1 64.7h0M190.3 63.1h0M170.3 67.4h0M190 59.8h0M193.2 58.5h0M174.2 65.2h0M203.7 58.4h0M179.4 58.7h0M188.4 67.9h0M198.2 62.1h0M169.8 64.2h0M173.7 66.4h0M180.5 71.9h0M202.8 53.7h0M181.9 60.2h0M168.2 63.6h0M192 53.7h0M181.5 65.8h0M185.1 59.3h0M178.6 67.9h0M182.5 74.7h0M185.3 71.3h0M181.4 74.7h0M200.5 61.4h0M197.6 66.3h0M185.7 57h0M177.8 70.7h0M180.8 69.1h0M200.4 53.9h0M188.2 62.6h0M184.6 62h0M200.3 61.3h0M192.4 65.1h0M186.8 68.9h0M176.3 68h0M197.9 58.7h0M187.1 63.8h0M178.6 72.3h0M203.7 59.1h0M182 73h0M194.8 55.9h0M190 56.9h0M179.5 61.5h0M197.6 53.8h0M194.4 63.9h0M201 57.1h0M194 71.5h0M169.3 63.9h0M177.9 63.5h0M173.8 64.5h0M169.4 66.8h0M182.5 58.4h0M184.2 69.4h0M177.7 67.8h0M196.6 68.9h0M178.2 72.4h0M194.2 59.6h0M189.9 72.5h0M198.2 59.6h0M181.7 70.5h0M202.5 56.1h0M177.8 65.7h0M180.2 58.5h0M182.1 58h0M195.3 68.1h0M185.5 62.7h0M175.1 72.2h0M185.1 60.2h0M191 68.9h0M175.4 69.8h0M180.3 70.5h0M197 57.7h0M183.5 63.5h0M186.3 60h0M191.3 57.3h0M190.2 59.1h0M167.1 67.3h0M186.6 75.3h0M194.2 70.3h0M200.6 58.2h0M189.2 67.3h0M175.2 72.3h0M184 62.2h0M173.4 67h0M179.9 74.4h0M174.7 70.9h0M176.3 61.6h0M179 66.9h0M185.9 55.5h0M193.1 70h0M181.6 60.1h0M173.8 69.5h0M189.7 56.6h0M182.5 69.7h0M198.9 58.5h0M173.1 64.1h0M201.5 57.5h0M191.3 70h0M182.2 59.3h0M204.3 56.1h0M187 57h0M186.9 57.8h0M173.7 67.8h0M174.5 62h0M200.3 53.4h0M177.1 59.8h0M201.6 53.1h0M179.9 68.3h0M198.4 57.7h0M173.8 62.3h0M179.8 69.2h0M179.6 73.3h0M194.6 56.4h0M196.2 57.3h0M192.6 58.1h0M172.6 65.6h0M203.1 52.6h0M197.7 52.8h0M189.4 62.1h0M183.7 57.7h0M168.7 67.8h0M196.8 65.9h0M198.3 61.5h0M174.8 67.1h0M198.8 55.9h0M170.7 66h0M179.8 69.8h0M198.3 61.9h0M174.3 67.5h0M188.7 73.9h0M179.9 73h0M197.5 57.9h0M178.2 73.1h0M184.8 75.6h0M171.5 70.4h0M199.2 65.8h0M178.8 73.4h0M185.7 64.2h0M192.5 57.2h0M198.3 66.5h0M178 58.7h0M192.9 72.5h0M189.1 68.8h0M188.5 73.4h0M198 55.6h0M187.1 62.8h0M203.7 54.2h0M192 62.2h0M199.1 58.3h0M182.3 62.4h0M181 75.1h0M175.7 68.1h0M197.9 54.1h0M198.6 65.5h0M173.9 69.7h0M176 61.3h0M187.4 69.4h0M173 63.7h0M198.2 53.8h0M171.8 68.6h0M173.5 66.4h0M202.4 60.5h0M204.2 57.1h0M193.9 68.5h0M195.9 57.4h0M184.9 71.6h0M184.5 72.9h0M168 66h0M179.9 70.8h0M194 58.2h0M173.4 70h0M187.6 65.1h0M196.3 68.3h0M178.8 71.1h0M179.8 58.1h0M174.1 72.3h0M184.2 73.3h0M197.9 59.4h0M185.7 57.5h0M173.6 65.3h0M196.4 59.8h0M193.6 65.1h0M188.5 71.9h0M176.1 68h0M193.5 69.2h0M172.5 70.1h0M186.9 74.8h0M192.9 53.1h0M191.2 63.2h0M170.5 66.9h0M190.1 72.7h0M175.1 65.1h0M182.2 74.2h0M195.3 57.3h0M178.7 58.9h0M178.9 59.2h0M173.4 61.5h0M198.6 65.9h0M189.3 55.6h0M198.9 66.6h0M172.8 71.1h0M200.4 54.2h0M183.4 72.2h0M172.4 71h0M186.9 70.8h0M179.9 68.3h0M189.4 57.5h0M182.5 61.6h0M183.2 56.9h0M171.2 67.5h0M178.1 73.7h0M184.2 73.6h0M202.3 55.8h0M190.9 67.6h0M177.3 71.7h0M179.4 66.8h0M188.5 57.6h0M193.2 53.8h0M199.2 59.3h0M190.7 59.6h0M191.1 70.4h0M185.8 58.4h0M190.1 65.3h0M181.2 66.5h0M195 58.5h0M178 59.6h0M176.4 62.1h0M178.4 60.7h0M178 72.4h0M201.4 62.7h0M174.2 67.5h0M168.5 65.5h0M190.6 60.7h0M195.5 69.3h0M166.6 67.1h0M197 61.5h0M191.1 64.8h0M181.3 58.5h0M182.4 62.3h0M203.9 57.8h0M200.1 63.2h0M185.8 74.6h0M191.9 58.4h0M196.5 57.6h0M197.7 55.7h0M193.2 72.5h0M195 54.7h0M183.1 67.3h0M171.4 67.8h0M169.2 65.4h0M190.4 53.3h0M196.8 69.7h0M198.8 66.1h0M201.4 57.6h0M197.4 54.9h0M191.6 68.4h0M192.9 65.8h0M195.9 69h0M202.2 56.9h0M184.1 61.3h0M189.8 68.7h0M194.3 62.7h0M190 75.4h0M204.1 55.7h0M175.3 70.1h0M189.4 58.4h0M182.4 59.5h0M202.5 57.6h0M190.3 62h0M192 59h0M185.8 57.4h0M189.9 70.8h0M192.2 61.4h0M194.5 71.9h0M169.3 69.7h0M186.8 63h0M180.3 66.4h0M175.8 63.2h0M178.7 60.9h0M202.3 61h0M195.1 69.7h0M174.9 62.4h0M190.3 60.1h0M189 67.1h0M174.8 71.4h0M169.1 68.3h0M183.2 67.8h0M177.2 68.1h0M196.8 60.8h0M193.3 53.4h0M193.6 68.3h0M195.3 66.4h0M200.3 55.6h0M190.3 63.4h0M192.4 71.4h0M200.9 61.4h0M181.1 67.5h0M172.8 69h0M189.6 74.3h0M204.3 60.3h0M197.7 54.2h0M181.2 62.1h0M203.1 56.1h0M197.9 64h0M201.4 64.3h0M192.9 71.4h0M197.7 59h0M188.4 61h0M202.3 61.5h0M182.4 72h0M189.9 73.3h0M174.6 66.5h0M192.4 54.3h0M192.5 53.9h0M203.5 59.6h0M197.7 53.6h0M197.5 61.7h0M190 65.8h0M188.9 56.8h0M198.2 62.8h0M174 71.6h0M184 69.2h0M181.3 60.5h0M199.6 53.9h0M201.2 62.9h0M190.2 58.4h0M185.1 58.5h0M198.9 57.5h0M192.4 69.1h0M201.6 59.9h0M185.6 74.6h0M197.5 54.3h0M192 69h0M186.4 57.8h0M200.4 58.2h0M199.1 59.1h0M173.9 65.4h0M167.1 66.4h0M174.8 69.5h0M201.9 58.5h0M197.9 54.8h0M175.3 63.7h0M174.6 66.3h0M192.2 72.1h0M179.1 70.1h0M186.4 71.7h0M194.1 70.8h0M182.3 63.5h0M193.4 71.1h0M192.4 63.6h0M191.6 69.6h0M171.7 65.6h0M176.9 62h0M192.1 71.6h0M179.4 59.8h0M189.2 59.9h0M188.3 68h0M174.5 67.4h0M192.5 71.3h0M177.5 66.5h0M191.3 57.4h0M177.7 70.9h0M172.8 66.9h0M199 63.6h0M201 59.6h0M196.5 62.9h0M180 59.7h0M187.3 55.4h0M168.4 66h0M193.6 61.4h0M195.2 54.7h0M186.5 72.3h0M198.6 52.3h0M183 65.7h0M172.7 70.1h0M190.4 57.9h0M191.6 72.5h0M190.5 67.6h0M195.2 64.1h0M174.2 70.1h0M172.4 64.8h0M194.9 53.9h0M198.7 64h0M199.4 51.9h0M184.4 66h0M185 73.3h0M182.2 58.6h0M170.1 71.1h0M195.1 69.7h0M184.7 74.6h0M200 57.8h0M188.2 61.7h0M200.2 56.9h0M196.4 68.8h0M184 73h0M187.5 65.1h0M179.9 68.5h0M188.1 69.2h0M193.7 65.9h0M175.1 68.8h0M186 69.4h0M166.4 67h0M186 57.9h0M201.5 56.2h0M187.6 69.2h0M179.3 61.5h0M191.2 65.1h0M181.8 74h0M192.1 70.9h0M170.2 63.9h0M191.4 55.8h0M174.9 63.8h0M193.5 56.4h0M187.7 63.9h0M175.3 69.7h0M195.3 57.7h0M180.5 71.1h0M185.3 56.6h0M166.8 65h0M197.9 55.1h0M177.7 73.2h0M179.7 61.6h0M197.3 53.8h0M199.4 62.2h0M188.6 73.9h0M185.2 61.7h0M179.7 69.8h0M198.4 57.9h0M193.4 59.5h0M175.8 63.4h0M198.3 55.9h0M180.5 58.6h0M179.8 58.7h0M188 66.6h0M184.8 59.4h0M191.3 61.6h0M179.2 67h0M167.8 64.8h0M176.8 63.8h0M193.7 66.4h0M201.6 63.9h0M190.3 72.2h0M188.1 63h0M167.4 68.9h0M172.9 71.9h0M196.6 60.9h0M170.4 68.2h0M190.6 55.4h0M182.2 62.7h0M167.8 67.9h0M202.2 57.9h0M194 71.6h0M185.6 61h0M181 73.7h0M185.3 71.1h0M197.3 53.7h0M184.2 67.4h0M186.9 64.8h0M192.7 68.6h0M188.6 73.9h0M194.4 65.9h0M182.4 64.2h0M176.2 72h0M192.7 64.7h0M182.3 60.5h0M167.2 69.2h0M185.2 56h0M174.6 69.4h0M183 75h0M180.7 72.6h0M186.8 74h0M180.3 73.7h0M194.9 59.5h0M180.9 63.1h0M187.2 71.2h0M192.4 56.9h0M198.3 65.3h0M192.6 55.5h0M197.8 62.5h0M191.6 74.8h0M185.2 61.5h0M166.9 65.6h0M177.3 65.9h0M195.7 52.9h0M186.4 55h0M203.5 54.9h0M174.5 68.3h0M191 72.2h0M175.5 62.8h0M197.5 69.2h0M184.6 62.9h0M184.9 68.6h0M172.8 63.6h0M179.8 74.5h0M196.3 66.6h0M188.3 69.2h0M194.5 55.4h0M174.4 63.6h0M180.5 59.4h0M177.7 67.1h0M187.4 66.5h0M187.5 67.7h0M187.2 71.8h0M176.2 61.4h0M192.9 72.5h0M173.6 70.2h0M196.3 69h0M204.6 56.4h0M191.4 54.1h0M175.8 70.7h0M177.3 72.5h0M189.3 63.3h0M171.5 66.8h0M189.4 69.7h0M197.2 65.2h0M202.8 59.7h0M183.8 74.9h0M200.9 57.5h0M183.8 73.1h0M177.5 59.5h0M198.4 66.6h0M196.4 69.4h0M201.5 54.8h0M200.6 64.1h0M201.4 62.4h0M187.7 71.1h0M182.7 65.3h0M193.6 62.8h0M200.1 65.5h0M182.4 67.8h0M182.7 58.4h0M185.6 65.5h0M195.3 54.4h0M182.4 62.5h0M181.6 59.3h0M186.3 62.6h0M196 57.9h0M202.2 54h0M193.4 57.5h0M193.7 59.8h0M195 72.5h0M179.6 60.1h0M189.6 64.6h0M184.8 55.5h0M184.1 72.2h0M176.3 65h0M199.3 66.7h0M198 62h0M195.3 54.4h0M194.8 67.2h0M196.9 63.7h0M184.2 55.9h0M185.1 73.3h0M186.4 71h0M194.7 65.9h0M202.2 55.6h0M196.6 57h0M185.5 75.8h0M191.8 74.1h0M185.6 76h0M179 72.5h0M195 57.8h0M183.7 59.7h0M201.6 63.3h0M204.1 57.2h0M185.5 75.2h0M190.6 55.2h0M179.6 66.1h0M173.7 69h0M178.7 58.4h0M181.5 64.4h0M169.7 67.5h0M182 59.9h0M190.4 69.3h0M188.6 61h0M185.5 76.3h0M190.8 66h0M194.6 71.9h0M198.4 52.2h0M175.6 70.2h0M193.3 54.2h0M171.6 67.4h0M181.5 72.2h0M185.3 60.5h0M175 71.4h0M191.1 59.6h0M179.8 74.2h0M199.6 54.9h0M196.1 60.2h0M190.2 65.4h0M204.1 55.2h0M200.5 53.2h0M168.9 67.7h0M196 63.3h0M177.3 59.8h0M196 61.6h0M184.6 56.6h0M190.2 63.8h0M166.8 69.5h0M183.8 64.3h0M188.9 55.6h0M185.8 70.5h0M190.7 69.1h0M195.6 63.1h0M193.8 67.1h0M179.6 58.9h0M203.2 54h0M201.1 59h0M178.2 69.5h0M170 69.7h0M200.6 60.1h0M178.1 59.4h0M174.8 64.8h0M191.1 68.5h0M182.9 64.4h0M170.4 69.2h0M190 72.7h0M182.8 74.3h0M184.3 67.4h0M198.8 62.9h0M171.8 69h0M185.1 56.2h0M172.2 69.2h0M183.4 73.3h0M186 71.5h0M180 70.5h0M185 58.3h0M184 67h0M200.2 53.7h0M185.9 64.7h0M193.7 59.8h0M187.6 59h0M191.3 56.1h0M179.9 59.2h0M178.7 61.8h0M185.9 58.9h0M188.3 68h0M174.5 59.3h0M170.3 63.6h0M185.2 72.3h0M184 67.3h0M199.7 56.2h0M200.3 61.5h0M191.5 71.1h0M183 64.8h0M201.5 52.2h0M194.2 61.1h0M193.6 57.5h0M187.9 63.4h0M201.4 58.8h0M198.6 56.2h0M180 58.9h0M185.4 60.2h0M178.9 64.2h0M197 59.7h0M181.8 66.1h0M186.6 67.8h0M197.2 60.8h0M175.3 68.8h0M185.1 62.4h0M184.8 73.8h0M180.7 71.9h0M196.3 61h0M180 64.4h0M181.2 66.9h0M181.5 69.5h0M185.9 70.6h0M189.3 72.3h0M195 70.3h0M196.5 59.8h0M191.7 68.7h0M170.2 68.3h0M180.5 57.5h0M175.5 61.4h0M182.2 70.6h0M192.4 57.6h0M181.6 57.8h0M195.5 62.1h0M186.2 63.7h0M178.8 70.9h0M186.6 58.7h0M179.8 69.3h0M184.4 68.6h0M169.4 65.5h0M188.2 61.9h0M180.5 70.2h0M197.3 67.8h0M195.8 69.1h0M196.6 52.3h0M178.4 68.6h0M183 66.4h0M188.2 74.4h0M183.8 57.2h0M176.9 65.6h0M184.5 57.6h0M194.3 54.6h0M183.4 73.9h0M184.9 64.2h0M183.3 67.3h0M193.7 63.3h0M179.8 59.4h0M176.2 66.4h0M173.4 71.5h0M180.2 69.5h0M198.7 63.9h0M180.2 67.2h0M187 74.3h0M192.4 58.8h0M191.6 58.4h0M188.3 65.6h0M181.5 71.8h0M193.2 68h0M187.8 68h0M176.4 72.2h0M174.7 64.9h0M186 60.9h0M177.3 62.1h0M195.1 63.4h0M175.1 71.4h0M169.8 67.1h0M187.8 69.1h0M180.9 72.2h0M182.6 60.3h0M196.6 62h0M176.8 70.8h0M180.8 70.3h0M179.8 72.6h0M173.7 68.3h0M170.8 66.3h0M193.9 70.2h0M174 70.4h0M179.5 58.8h0M179.1 65.6h0M195.4 66.9h0M188.1 63.3h0M202.6 57h0M193.5 68.7h0M175.6 67h0M179 67.1h0M188.1 56.1h0M178.4 70.8h0M187.9 71.3h0M197.8 66.4h0M186.9 69.5h0M198.5 55.2h0M201.5 52.2h0M189.8 57.7h0M176.6 64h0M193.1 63.6h0M181 72.6h0M184.4 68.5h0M185.8 58h0M195.8 69.5h0M191.1 66.4h0M188.7 61.4h0M190.9 67.7h0M189.1 67.2h0M186.4 69.7h0M175.4 67h0M180.1 68.8h0M182.3 67.9h0M187 68.7h0M187.3 63.1h0M184.9 65.3h0M182.5 63.1h0M187.9 62.8h0M196.1 64.6h0M184.8 71.9h0M198.5 64.9h0M191.5 59.6h0M184.5 68.4h0M191.6 69.6h0M194 61.2h0M198.4 54.8h0M178.6 69.9h0M196.8 59.6h0M194.2 66.4h0M183.1 64.9h0M195 65.3h0M175.1 64.8h0M182.4 64.2h0M188.1 58.8h0M198.2 62.2h0M188.9 60.6h0M181.9 66.3h0M199 64.3h0M184.3 71.8h0M179.7 68.4h0M198.7 59.3h0M183 60.7h0M179.8 65.9h0M185.6 72.6h0M178.8 66h0M197.5 55h0M175.9 64.2h0M195.7 63.2h0M191 59.2h0M194 59.6h0M189.1 59h0M188.8 67.3h0M180.5 65.9h0M180.5 64.4h0M189.9 61.7h0M187.5 58.6h0M186 61.3h0M179.2 61.7h0M190 68.1h0M179.4 68.5h0M191.5 65.2h0M180.8 65.3h0M188 72.2h0M190.6 67.4h0M184.2 62.1h0M202.4 57.2h0M198.5 60.5h0M198.8 58.5h0M187 68.6h0M178.1 62.4h0M176.5 66.9h0M184.4 65.4h0M188.4 71h0M189.6 64.6h0M194.4 67.8h0M186 60.8h0M200.4 59.7h0M193 68.8h0M177 66.4h0M189.6 59.8h0M185 63.4h0M193.1 69.1h0M197.8 53.3h0M198.5 58h0M189.9 63.8h0M192.9 57.1h0M179.5 67h0M201.7 57.1h0M192.5 63.3h0M199.7 62.7h0M195.8 57.8h0M196.3 58.1h0M188.9 59.3h0M178.3 62.9h0M195.7 58.3h0M187 64.1h0M185.3 70.3h0M197.8 62.6h0M184.7 64.5h0M177.5 67.5h0M188 58.9h0M195.2 55.9h0M182.7 62.3h0M179.6 68h0M178.5 64.5h0M194.2 58.8h0M190.8 56.3h0M180.6 63.6h0M185.2 72.9h0M198.6 56h0M189.1 60.1h0M187.4 59.7h0M184.3 59.4h0M176.3 66.5h0M193.1 67.1h0M181.4 62.9h0M183.8 71.2h0M182.8 70h0M185.6 70.7h0M189.8 56.7h0M180.7 68.4h0M177.7 67h0M185.8 63.2h0M201 55.2h0M190.4 58.1h0M183.1 70.2h0M186.2 63h0M200.2 55.9h0M201.8 59.3h0M200.3 60.5h0M194.1 65.2h0M185.4 61.8h0M181 69.8h0M176.7 63.7h0M190.7 60.2h0M197.5 64.3h0M180.1 71.1h0M189 67.7h0M182.9 60.3h0M193.3 58.2h0M188.6 63.6h0M178.7 63.8h0M194.2 61h0M184.8 59.6h0M178.9 60.8h0M191.6 60.7h0M199.7 61h0M197.6 59.6h0M175.6 66.9h0M181.4 71.9h0M191.7 56.7h0M184.2 71.5h0M191.4 70h0M197.2 64.6h0M186.3 72.2h0M176.8 66.4h0M202.5 56.5h0M190.8 63.3h0M191 58.8h0M191.6 65.2h0M197.8 57.8h0M201.1 61.1h0M198.6 53.7h0M196.7 62.1h0M200.8 57.4h0M184.7 64.1h0M184.6 58.6h0M193.4 66.3h0M187.1 60.7h0M202.4 55.3h0M189.2 64h0M189.1 69.3h0M195.1 65.5h0M180.9 66.3h0M200.9 60.5h0M189.2 68.2h0M186.5 60.7h0M177.1 68.7h0M201.3 57.8h0M186.4 70.3h0M195 56.7h0M180.8 69.8h0M186 65.8h0M183.8 63.2h0M201.7 58.5h0M177.5 65.1h0M182.6 65.7h0M194 62h0M183.4 70.1h0M188.2 66.2h0M199.6 56.5h0M192.6 58.9h0M181.9 67.6h0M192.9 56.9h0M182.5 62.1h0M180.1 63.9h0M189.5 71.5h0M200.3 58.6h0M180.3 70.9h0M184.6 63.1h0M185.2 64.6h0M185.2 70.9h0M187.7 70.9h0M198.4 60.3h0M189.2 67.6h0M177.3 68.2h0M179.7 66.3h0M182.6 69.5h0M197.6 54.2h0M198.2 60.8h0M189.5 61.6h0M176.2 67.5h0M186 68.5h0M192.3 63.1h0M183.9 71.2h0M187.4 62.4h0M195.6 63.4h0M190.8 56.4h0M184.9 61.6h0M194.6 64.1h0M194.5 64.5h0M186.1 71.6h0M188.4 70.2h0M192.1 64.9h0M193.8 67.3h0M200.4 54h0M190.9 60.1h0M192.5 57h0M194.1 57h0M201.5 58.6h0M187.9 59.5h0M178 70.2h0M196.5 66.3h0M200 57.1h0M202.9 59.5h0M177 65.3h0M190 70.4h0M177.5 67h0M178.1 69h0M199.6 54.4h0M199.5 56.9h0M187.6 70h0M183.5 70h0M196.4 65.4h0M190.7 63.9h0M198.9 54.9h0M186.7 58.3h0M201 58.4h0M180.7 64.9h0M198.4 55h0M193.3 61.5h0M186.8 59.2h0M190 58h0M178.4 62.6h0M183.6 68h0M184.6 60.7h0M179.2 65h0M182.3 69.6h0M181.2 67.4h0M191.6 66.5h0M194.2 61.5h0M195.8 68.1h0M195.6 61.5h0M176.6 67h0M192.2 69.4h0M187.2 60.6h0M195 66.2h0M178.7 66.2h0M190.3 62.9h0M196.2 59.6h0M196.7 66.5h0M201.4 57.9h0M185.5 69.7h0M194.1 60.2h0M181.9 65.9h0M196.2 60.7h0M187.7 63.9h0M199.4 59.1h0M190.8 67.3h0M180.5 64.4h0M179.5 69h0M188.7 58.5h0M188.9 64h0M181.8 62.6h0M197.4 61.4h0M186.6 66.5h0M194.5 67.6h0M199 55.4h0M179.5 70.3h0M194.3 59.4h0M185.5 70.3h0M184.4 70.6h0M185.1 60.5h0M194 56.9h0M191.7 60.7h0M189.4 64.5h0M194.2 57.2h0M184.9 62.9h0M192.3 60.6h0M180.6 69.1h0M199 61.1h0M190.1 61.1h0M197.9 63.4h0M196.4 63.2h0M189.3 66.2h0M191 61.5h0M192.9 62.2h0M191.9 69h0M189.7 70.9h0M191 60.8h0M193.1 58.6h0M188 69.3h0M189.5 61.9h0M192.6 66.4h0M182.9 67.1h0M199.4 63.7h0M198.1 55.2h0M194.4 68.6h0M187.3 64.8h0M182.9 62.4h0M194.1 66.5h0M191.4 59.7h0M190.3 65.9h0M190.8 58h0M182.4 65.3h0M196.8 65.2h0M185.4 70.3h0M180.9 70.8h0M177.5 70.2h0M201.4 55.4h0M187.1 61.6h0M197.6 57.4h0M186.8 57.6h0M185.7 63.1h0M194.8 63h0M200.4 62.1h0M186.6 68.4h0M196.8 66.2h0M201.7 55.2h0M184.9 68.4h0M193.7 58.9h0M185 62.8h0M177.9 66.8h0M188.9 64.8h0M187.8 66.2h0M178.4 65.8h0M176.1 64h0M194 62.5h0M200 57.6h0M200.6 58.8h0M185.4 68.4h0M181.8 69.6h0M190.6 70.6h0M183.7 72.4h0M186.3 60.9h0M198.6 59.6h0M200.7 61.1h0M199.6 57.7h0M185.7 64.9h0M185.3 66h0M193 62h0M195.5 61.1h0M195.4 55.4h0M192.1 64.6h0M193.1 55.4h0M185.6 59.9h0M185 65.1h0M201.5 56h0M189 73.1h0M184.8 63.6h0M184 70.7h0M185 63.5h0M180.6 67.8h0M179.1 65.4h0M197.4 62h0M180.8 68.9h0M181.3 61.3h0M201.7 53.9h0M200.3 53.6h0M197.7 61.4h0M179.8 62.4h0M184.6 60.1h0M192.7 67.8h0M196.5 67.3h0M180 65.2h0M199.1 58.8h0M197.1 57.4h0M190.7 61.4h0M195.7 65.1h0M189.1 62h0M184.4 71.8h0M190.3 67.4h0M196.6 66.4h0M197.6 55.9h0M185 61.3h0M194.4 61.6h0M193.2 65.2h0M185.2 67.5h0M180.9 68.3h0M193.2 58.2h0M190.9 67h0M200 58.1h0M182.8 67.7h0M191.7 56.3h0M187.2 65.7h0M177.3 68.5h0M183 67.7h0M195.5 60.6h0M188.6 71.2h0M186.4 60.9h0M193.8 64.4h0M176.4 64.6h0M190.7 63.9h0M185 61.2h0M189.8 70.3h0M185.3 72.8h0M200 62.9h0M202.1 58.4h0M187.1 62.1h0M197 60.6h0M199.5 56.2h0M191.9 63.5h0M185.3 67.7h0M179 70.7h0M196.7 64.2h0M185.1 58.3h0M199.6 59.1h0M196.1 63.6h0M195.8 55.5h0M201.8 53.7h0M182.3 60.5h0M187.3 67.9h0M185.6 63.5h0M178.7 66h0M201.7 59.8h0M191.2 65.3h0M186.4 73.1h0M187.3 59.8h0M193.2 69.4h0M192.5 57.6h0M187.8 59.5h0M197.6 58.6h0M192.7 60.4h0M193.9 59h0M188.6 65.8h0M184.7 68.5h0M184.7 66.8h0M191.8 70.3h0M197 58.6h0M197.2 57.1h0M184.5 71h0M184.2 72.2h0M192.6 61.1h0M174.9 66h0M189.4 69.4h0M198.8 57.4h0M186.7 67.3h0M185 59.5h0M192.8 63.8h0M193.2 68.9h0M178.4 65.1h0M190.4 65h0M187 59.1h0M187.7 65h0M189.2 59.9h0M180.6 63.5h0M187.7 69.8h0M191.5 69.1h0M197.2 66.7h0M188.1 71.2h0M198.6 64.1h0M180.2 70.5h0M194.1 69.4h0M178.7 64.7h0M186.2 65h0M196.9 60.1h0M196.1 61.9h0M181.7 61.2h0M181.9 63.9h0M200.4 59.2h0M180.3 63.6h0M179.4 63h0M191.2 58h0M195 65.7h0M192.3 57.6h0M188.6 67.1h0M185.6 61.3h0M186 67.1h0M190.3 58.5h0M185.2 62.5h0M188.4 70.1h0M181.7 71.6h0M199.4 60.9h0M191.2 60.4h0M183.7 61.9h0M192.2 62.7h0M193.5 61.1h0M197.9 65.2h0M184.2 68.4h0M196.4 57.1h0M192.1 55.8h0M193.6 56.7h0M196.7 62.8h0M184.7 67.9h0M187.3 66h0M196.7 56h0M184 66.7h0M191 59.1h0M183.1 62.4h0M189.1 64.5h0M199.4 55.3h0M187.3 58.7h0M190.8 60.5h0M178.5 67.4h0M196 66h0M180.7 69.8h0M184.5 66.2h0M190.5 71.3h0M192.4 57.3h0M196.9 58h0M188.8 58.4h0M201.1 58.5h0M200.6 55.2h0M198.1 55.6h0M203.2 57.8h0M189.4 65.6h0M187.3 60h0M194.3 56.9h0M199.3 61.9h0M191.7 65h0M196.2 62.8h0M185.4 72.4h0M195.1 67h0M187 72.7h0M191.9 59.9h0M182.8 64.9h0M199.6 54.1h0M199.6 57.3h0M183.2 73.1h0M199.3 53.7h0M188.8 64.7h0M191.4 65.9h0M177.1 64.9h0M197 61.6h0M182.3 70.7h0M176.4 66.6h0M179.7 66.4h0M195.1 63h0M201.6 56.5h0M189.5 57.4h0M182 66.4h0M176 65.5h0M184.7 63.8h0M192.8 58.2h0M177.1 68.3h0M182.9 67.6h0M194 55.4h0M186.5 70.3h0M190 68.7h0M185.7 60.5h0M197.8 60.4h0M182.8 71.5h0M185.3 69.8h0M196.1 58h0M187.6 59.6h0M180.8 68.5h0M199.4 57.2h0M187.5 60h0M196.5 57.5h0M186.2 66.5h0M192.5 65.1h0M186.7 62.8h0M191.4 62.7h0M190.9 69.5h0M201.1 55.7h0M199.6 61h0M193.3 58.9h0M201.5 59.4h0M178.3 66.3h0M193.7 68.3h0M198.1 54.6h0M179.7 65.2h0M184.8 73.5h0M195.6 61.3h0M182 61.8h0M192.5 60h0M181.1 59.6h0M185.2 61.6h0M184.3 69.2h0M177.4 66.8h0M182.6 61.7h0M186.2 59.7h0M193.8 63.4h0M192.2 60.5h0M198 62.2h0M180.4 70.6h0M193.7 59.8h0M181.5 69.2h0M183.7 66.5h0M196.2 64.6h0M177.6 62.6h0M180.6 63.4h0M193.6 56.1h0M198.9 61.5h0M190.1 61.3h0M195.6 65.5h0M194.2 62.6h0M191.3 62.9h0M198.9 59.4h0M191.8 55.1h0M182.3 72.2h0M193.8 59.5h0M193.7 63.7h0M189.9 58.4h0M179.7 69.7h0M192.6 68.7h0M188.8 65.1h0M199.4 60.3h0M201.9 57h0M178.7 70.9h0M196.4 62h0M194.3 60.3h0M179 62.3h0M189.7 65.1h0M178.6 64.3h0M180.2 63.9h0M195.2 59h0M185.9 73.2h0M198.5 54.6h0M161.8 56.6h0M162 56.7h0M162.5 56.3h0M160.9 56.5h0M162.3 57.4h0M162.1 56.5h0M162.5 56.5h0M162.3 56.4h0M166.1 58h0M164.1 57.2h0M165.4 58.1h0M194.1 48h0M194.4 47.7h0M194.3 47.6h0M194.4 47.1h0M199.9 33h0M199.9 33.9h0M200.3 34.1h0M207.5 30.2h0M207.4 30.2h0M206.9 30.8h0M208.8 28.9h0M205.6 32h0M205 32.7h0M209.9 28.7h0M206.4 30.9h0M205.5 31h0M205.6 31.7h0M204.9 32.6h0M205.1 31.7h0M205.7 31.7h0M206.5 31.5h0M206.1 31.5h0M206.1 31.5h0M208.3 29.9h0M204.4 33.3h0M210.6 28.1h0M210.7 28.2h0M211.1 27.1h0M210.7 27.8h0M211 27.9h0M212.1 27.7h0M211.8 28.1h0M210.2 27.6h0M210.6 27.9h0M212 28h0M211.9 28.4h0M210.4 27.2h0M211.7 27.5h0M210.4 27.4h0M212.1 29h0M210.5 28.7h0M209.9 27.8h0M210.7 27.9h0M211.3 28.8h0M212.3 28.2h0M211.3 27.5h0M212.4 28h0M211.2 28.2h0M211.1 28.5h0M210.1 27.9h0M210.7 27.9h0M211.2 27.7h0M210.5 27.5h0M211.3 28.8h0M212.3 27.8h0M239.3 57.5h0M242.8 54.6h0M240.7 54.5h0M245.3 56h0M235.8 53.8h0M243.5 57.2h0M244.7 53.5h0M235.9 57h0M245.4 55h0M244.7 55.7h0M238 57.6h0M241.7 55.8h0M239.9 54.2h0M241.8 57.2h0M242.9 57.3h0M245.4 55.2h0M236.1 57.1h0M242.1 55.5h0M237 56.4h0M245.2 54.1h0M239.5 53.8h0M235.6 54.4h0M237.8 56.5h0M242.8 54.6h0M239.5 58.6h0M236.4 55.5h0M245.1 56h0M240.2 58.9h0M245.2 54.2h0M235.9 55.4h0M242.7 57.2h0M235.9 54.1h0M240.1 56.9h0M238.4 54.1h0M245.5 55.4h0M242.8 57.9h0M239.7 58h0M239.3 58.2h0M239.7 56.9h0M236.9 55.6h0M241.2 55.4h0M236.2 56.3h0M241.7 54.2h0M240.9 56.9h0M246.5 56.5h0M235.7 54h0M237.7 53.7h0M246 56.3h0M241.2 55.4h0M236 55.1h0M240.2 53.7h0M243.2 55.9h0M238.2 54.4h0M245.9 57h0M237.3 58.1h0M240.7 54.2h0M240.2 54.7h0M246.4 55h0M246.6 55.8h0M240.6 57.2h0M236.7 54.6h0M241.2 55.8h0M240.8 56.3h0M239.3 57.5h0M240.4 55.2h0M240.3 59.6h0M238 56h0M237.9 56.8h0M238.6 53h0M245.4 57.6h0M239.9 53h0M244.9 54.8h0M241.2 54.3h0M238.7 58.1h0M240.8 58.2h0M241.5 59.2h0M240 55.7h0M243.9 53.6h0M236.1 54.5h0M238.2 54.3h0M246 55.3h0M244.8 56.5h0M238.9 56.1h0M242.6 59.6h0M239 55.7h0M244.4 57h0M236.9 54.6h0M238.6 58h0M240.7 57.5h0M243.9 54h0M239.7 55.9h0M242.7 55.8h0M242.1 55.5h0M238.5 55.3h0M244.4 54h0M236.5 56.9h0M239.2 59.1h0M236.7 55.1h0M237.8 53.4h0M239.2 56.3h0M246.3 55.6h0M240.2 58.6h0M238.7 55h0M236.6 56.9h0M239.7 57.8h0M244.1 58.7h0M242.2 53.4h0M241.5 54.3h0M237.9 53.6h0M237.5 55.9h0M242.3 55.7h0M238.1 54.8h0M245.3 55.9h0M238.5 55.1h0M241.6 56.6h0M241.3 56.7h0M244.2 56.8h0M241 55.1h0M239.6 57.3h0M237.8 54.8h0M242.6 58.2h0M237.4 57.4h0M237 56.5h0M244.9 55.9h0M240.5 55.6h0M243 57.1h0M245.3 54.7h0M244.2 54.2h0M238.2 55.1h0M236.4 55.9h0M240.7 55.5h0M242.4 57.8h0M235.5 55h0M244.7 56.9h0M243.4 58.4h0M239 56.9h0M242 57.9h0M239.3 54h0M240.3 58.5h0M241.2 53.9h0M238.1 57.1h0M242.5 55.7h0M243.5 54.2h0M241.6 54.7h0M241.6 59.2h0M238.3 56.9h0M246.1 56.5h0M240.4 54.1h0M245.9 54.6h0M242.6 57.5h0M243.8 55.8h0M238 54.2h0M239.6 57.4h0M238.3 52.9h0M241.2 56.5h0M238.6 57.5h0M230.7 51.3h0M230.7 51.7h0M240.5 82h0M242.6 84.7h0M246.5 83.5h0M241.7 84.1h0M246.1 84.7h0M236.2 85.5h0M245.7 83.7h0M240 82h0M237.2 83.6h0M240.4 81.9h0M243.4 83.5h0M236.9 86.1h0M238 83.2h0M240.8 81.6h0M239.9 85.6h0M245.1 83.6h0M239.3 85.3h0M237.6 82.9h0M246.6 84.4h0M240.2 84.5h0M238.8 82.2h0M243.3 86.2h0M240.3 86.4h0M241.9 84.9h0M244.3 84.9h0M243.6 85.3h0M244.1 85.6h0M245.2 85.6h0M240.7 83.2h0M240.2 86.4h0M245.2 83.4h0M246.5 83.9h0M244.7 83.4h0M238.9 82.9h0M240.5 82.3h0M235.3 84.3h0M234 85.6h0M242.9 83.6h0M241.9 84.7h0M242.5 82.6h0M245.2 84.2h0M245.9 84.4h0M243.2 83.1h0M244.9 86.2h0M245 82.6h0M243.9 85.7h0M238.3 83h0M236.3 83.5h0M246.1 84.7h0M243.7 83.9h0M238.5 83.9h0M239.7 83.9h0M239.7 82.4h0M240.4 86.1h0M241.4 86.5h0M246.1 84.3h0M239.1 84.5h0M242.6 86.1h0M245.3 85.1h0M233.7 85.2h0M236.2 83.9h0M235 85.9h0M244.8 83.4h0M245.5 84.8h0M241.1 83.9h0M246.2 83.3h0M237.7 85.3h0M245.1 84.7h0M239.3 82.9h0M236.7 84.6h0M245.3 83h0M242.9 85.6h0M245 85h0M240.7 86h0M233.3 85.6h0M239.9 85h0M239 85.3h0M240.6 85.3h0M235 85h0M238 83.2h0M244 84.9h0M237.9 83.7h0M235.7 85.5h0M242.4 83.8h0M236.9 85h0M240.5 81.7h0M241.5 84.3h0M242.7 84.4h0M238.5 84.6h0M235.6 85.8h0M243.4 82.9h0M238.4 84.1h0M238.4 84.4h0M245.4 82.7h0M240.4 82.2h0M242.6 83.7h0M239.2 83.5h0M243.5 86.3h0M240.3 85.7h0M240.8 81.8h0M243.7 85.6h0M240.3 81.3h0M233.5 85.6h0M241.2 85.9h0M238.1 86.3h0M244.5 82.4h0M237 83.3h0M243.2 82.7h0M235.9 85.5h0M236.5 86.6h0M240.8 85.6h0M244.3 85.2h0M243.2 84.7h0M245.3 86.2h0M246.2 85.5h0M244.7 83h0M238.2 83.1h0M242.9 85.2h0M237.2 84.7h0M240.8 84.2h0M241.8 85.6h0M244.3 85.1h0M240.9 86h0M240.3 81.8h0M242 82.6h0M237.3 83.8h0M235.4 85.2h0M238.8 82.7h0M243.6 85.4h0M240.4 85.7h0M246.8 84.4h0M234.4 86.3h0M240.6 82.5h0M241.3 82h0M234.6 85h0M239.4 85.1h0M236.9 85.9h0M239.3 82h0M240.2 80.4h0M239.5 80.2h0M239.9 80.3h0M240.1 80.4h0M200 91.7h0M201.9 91.7h0M199.5 92.5h0M206.2 92.4h0M203.6 93.3h0M203.4 92.6h0M207.1 91.6h0M200.9 91.6h0M206.2 91.7h0M199.4 91.4h0M202 92.4h0M202.4 93.1h0M207.5 92.4h0M203.7 91.9h0M201.2 91.8h0M200.2 91.9h0M207 93h0M206.6 92h0M202.5 92.7h0M202.2 92.1h0M203.3 92.4h0M205.5 92.2h0M200.9 91.8h0M204.2 92.2h0M206.6 92.7h0M206.3 92.7h0M202.4 91.4h0M201 92.5h0M207 91.5h0M207 92.3h0M199.8 91.6h0M204.3 92.7h0M204.7 92.4h0M204.9 91.9h0M200.9 92.5h0M204.6 92.2h0M203.1 92.4h0M203.5 91.9h0M204.1 91.7h0M202.6 92h0M208.4 92.3h0M203.1 92.7h0M204.3 91.8h0M204.5 92.5h0M201.7 92.7h0M205.6 92.2h0M200.7 91.3h0M205.5 92.8h0M200.3 92.7h0M201.3 91.6h0M202.1 92.2h0M205.2 93.2h0M205.2 92.2h0M201.9 92.1h0M213.2 91.7h0M210.1 92h0M211.7 93.9h0M209.9 92.3h0M212 95.6h0M211.3 94.8h0M209 93h0M211.4 92.7h0M211.6 94h0M212.9 92.9h0M209.6 92.6h0M210.5 93.2h0M210.2 93.1h0M210.6 92h0M211.7 92.9h0M209.8 92.1h0M210.6 93.3h0M211.8 93.1h0M212 94.6h0M211.1 92.5h0M210.1 92.6h0M209.3 93.1h0M208.1 94.2h0M211.9 93.6h0M213.3 93.4h0M210.6 91.8h0M210.2 93.6h0M214.6 93.7h0M211.5 91.9h0M214.5 92.5h0M213.6 93.4h0M209 94.4h0M211.6 94.8h0M211.4 93.6h0M210.1 92.5h0M212 91.7h0M211.1 92.4h0M210.5 94.1h0M213.7 92.5h0M209.4 94.9h0M212.4 92.4h0M213.2 92.3h0M214.3 91.4h0M212.9 93.8h0M211.2 95.3h0M212.4 92.3h0M214.1 92h0M210.3 92.6h0M211 93.9h0M211.6 92.7h0M211.9 93.9h0M211 91.9h0M213.4 95h0M214.6 92.9h0M211.8 92.7h0M210.9 92.7h0M209.8 94.1h0M212.3 91.8h0M213.8 94h0M211.7 93.4h0M212.5 92.3h0M209.3 91.1h0M209.2 91.7h0M215 92.9h0M211.9 93.7h0M213.7 93.1h0M214.1 90.7h0M211.1 93h0M212.4 93.5h0M208.4 93.3h0M211.8 92.6h0M210.4 92.5h0M210.7 91.8h0M211.7 92.6h0M214.7 91.8h0M210.1 92.8h0M209.9 93.4h0M212 91.8h0M214 91.9h0M212.9 92h0M211.5 92h0M215 92.7h0M211.1 92.2h0M210.2 92.2h0M208.6 94.6h0M215 92.2h0M212.8 94.9h0M209 91.8h0M207.7 92.6h0M214.6 91h0M211.2 91.5h0M211.8 90.7h0M208.8 92.4h0M209.8 93.5h0M212.4 91.4h0M209.9 91.7h0M212.9 93.3h0M209.8 91.9h0M213.6 93.8h0M212.2 92.3h0M210.4 95.7h0M211.5 92.6h0M215.4 93.7h0M211.4 93.3h0M209.4 91.5h0M211.7 92.3h0M214.1 93.1h0M210.7 94h0M211.4 93.4h0M212.4 93.2h0M211.3 92.6h0M212.9 94.4h0M210.9 93h0M208.5 93.2h0M210.2 92.2h0M211.9 91.5h0M212.5 92.7h0M210.8 90.9h0M210.9 92.7h0M210.9 90.3h0M214.5 92.5h0M211.3 93.1h0M211.3 92.7h0M212 92.9h0M212.3 91.3h0M212.5 91.5h0M211.6 93.4h0M212.5 92.4h0M212.6 92.3h0M211.9 93.4h0M210.4 93h0M209.9 94.4h0M216.7 88.8h0M213.5 93.4h0M213 91.2h0M213.2 91.9h0M217.1 89h0M218.5 88.2h0M215.6 90.6h0M218.7 88.5h0M218.7 89.1h0M217.5 90.1h0M213.6 91.2h0M214.5 90.9h0M213.1 91.7h0M214.5 91.2h0M218.9 88.9h0M218.8 90.2h0M217.8 89.1h0M216.5 90.2h0M215 91.2h0M213.6 92.3h0M220 89.1h0M215.3 89.3h0M213 92h0M212.9 92.2h0M218.3 87.7h0M216.2 90.4h0M219.8 87.7h0M219.5 88.7h0M217.6 89.9h0M213.4 92.2h0M217.5 90.7h0M215.7 90.1h0M215.7 90.2h0M217.6 89h0M214.3 91.9h0M215.8 91.2h0M215.8 92.2h0M217.9 88.8h0M216.1 89.5h0M215.6 91.1h0M217.2 89.9h0M215.6 91.7h0M220.1 88.7h0M213.1 91.5h0M216.5 90.9h0M214.3 92.6h0M215.1 91.7h0M213.8 92.5h0M216.2 90.8h0M216.1 89.7h0M217.6 88h0M212.8 92.3h0M212.5 92.8h0M214.3 92h0M216.7 89.4h0M213.9 91.5h0M215.2 90.6h0M214.9 91.7h0M217.5 90.4h0M216 90.5h0M218.1 88.8h0M213.1 93h0M215.8 92h0M215.1 91.3h0M213.7 91.1h0M219.3 89.6h0M217.7 89.3h0M217.6 90h0M214.3 91.7h0M214.5 92h0M218.9 88.3h0M218.4 89.4h0M223.1 87h0M223.8 86.6h0M220.8 87.3h0M221.7 87.6h0M221.6 87.6h0M224.7 86.6h0M221.9 87.6h0M220.4 88h0M220.8 87.6h0M221.2 87.5h0M222.1 86.3h0M225.3 86.4h0M224 87.1h0M223.1 86.9h0M225.5 87.1h0M221.5 87.1h0M219.6 87.5h0M220.1 87.1h0M218.4 83.1h0M219.3 84.9h0M218.6 85.1h0M219.6 86.2h0M218 82.2h0M219.7 87.1h0M218.1 83.6h0M218.6 83h0M218.2 83.2h0M218.7 83.5h0M219.8 87.2h0M218.5 82.9h0M218.9 86.7h0M218 83.2h0M218.4 82.8h0M220 86.3h0M218.3 82.8h0M218.6 84.7h0M218.4 82.2h0M217.7 83.2h0M217.5 82.5h0M218.1 82.6h0M217.7 82.3h0M218.1 82.6h0M218.2 82.6h0" stroke="#dc9a62" stroke-width="0.84" stroke-linecap="round" fill="none" stroke-opacity="0.8"/>
<line x1="281.3" y1="21.8" x2="281.3" y2="98.8" stroke="#000" stroke-width="1.15"/>
<line x1="281" y1="98.25" x2="375.35" y2="98.25" stroke="#000" stroke-width="1.3"/>
<line x1="278.2" y1="40.2" x2="281.5" y2="40.2" stroke="#000" stroke-width="0.9"/>
<line x1="278.2" y1="65.9" x2="281.5" y2="65.9" stroke="#000" stroke-width="0.9"/>
<line x1="278.2" y1="91.5" x2="281.5" y2="91.5" stroke="#000" stroke-width="0.9"/>
<line x1="281.3" y1="98.2" x2="281.3" y2="100.7" stroke="#000" stroke-width="0.9"/>
<line x1="301.9" y1="98.2" x2="301.9" y2="100.7" stroke="#000" stroke-width="0.9"/>
<line x1="322.55" y1="98.2" x2="322.55" y2="100.7" stroke="#000" stroke-width="0.9"/>
<line x1="343.2" y1="98.2" x2="343.2" y2="100.7" stroke="#000" stroke-width="0.9"/>
<line x1="363.85" y1="98.2" x2="363.85" y2="100.7" stroke="#000" stroke-width="0.9"/>
<text transform="translate(276.2 42.9) scale(0.92 1)" font-size="7.6" text-anchor="end" stroke="#111" stroke-width="0.08">10</text>
<text transform="translate(276.2 68.6) scale(0.92 1)" font-size="7.6" text-anchor="end" stroke="#111" stroke-width="0.08">0</text>
<text transform="translate(276.2 94.2) scale(0.92 1)" font-size="7.6" text-anchor="end" stroke="#111" stroke-width="0.08">−10</text>
<text transform="translate(279.5 110.1) scale(0.92 1)" font-size="7.6" text-anchor="middle" stroke="#111" stroke-width="0.08">−10</text>
<text transform="translate(300.1 110.1) scale(0.92 1)" font-size="7.6" text-anchor="middle" stroke="#111" stroke-width="0.08">−5</text>
<text transform="translate(322.75 110.1) scale(0.92 1)" font-size="7.6" text-anchor="middle" stroke="#111" stroke-width="0.08">0</text>
<text transform="translate(343.4 110.1) scale(0.92 1)" font-size="7.6" text-anchor="middle" stroke="#111" stroke-width="0.08">5</text>
<text transform="translate(364.05 110.1) scale(0.92 1)" font-size="7.6" text-anchor="middle" stroke="#111" stroke-width="0.08">10</text>
<text transform="translate(335.65 122)" font-size="9.7" text-anchor="middle" textLength="29.2" lengthAdjust="spacingAndGlyphs" stroke="#111" stroke-width="0.1">UMAP_1</text>
<text transform="translate(264.55 66.2) rotate(-90)" font-size="9.5" text-anchor="middle" textLength="29.4" lengthAdjust="spacingAndGlyphs" stroke="#111" stroke-width="0.1">UMAP_2</text>
<g filter="url(#bl)">
<polygon points="290.05,66.6 291.75,64.6 294.15,63 297.55,61.1 300.95,59.3 304.75,57.6 308.55,56.1 313.25,54.5 318.25,53 322.75,52 325.95,51.5 328.05,52.2 329.45,54.3 329.55,58 327.75,62.5 324.95,66.5 321.25,70.5 317.25,74 313.25,76.6 310.25,76.5 305.75,75 299.75,72.6 294.75,70.5 290.95,68.6" fill="#F8766D" fill-opacity="0.55"/>
<polygon points="298.75,65 304.75,61 312.75,57.5 320.75,54.6 326.75,53.5 328.25,57 325.75,62.5 320.75,67.5 314.75,72 309.75,73.5 302.75,70.5" fill="#F8766D" fill-opacity="0.7"/>
</g>
<path d="M300 68h0M318.8 54.7h0M302 61.9h0M308.9 70.3h0M304.4 62.5h0M312.3 70.7h0M298 65.1h0M314.3 61.8h0M293.3 67.7h0M314.6 55.9h0M305.5 70.3h0M314 70.2h0M312.6 66.8h0M303.8 59.4h0M292.3 67.5h0M301.1 66.7h0M304.9 72.5h0M309.2 75.8h0M317 59h0M300.4 68.4h0M313.3 60.8h0M320.1 56.3h0M303 58.9h0M324.3 54.1h0M302.2 61.3h0M305.2 61.7h0M292.3 65.5h0M324 55.3h0M303.8 72.2h0M310.1 74.8h0M314.7 72.5h0M295.7 64.4h0M318.6 53.4h0M307.1 66.6h0M301.8 70.8h0M300.6 71.2h0M324.4 61.9h0M308.3 58.3h0M310.9 56.7h0M298.3 66h0M313.7 58.9h0M310.8 73.1h0M315.8 62.2h0M324.2 54.9h0M326.1 58h0M300.1 64.8h0M320.1 60.2h0M318.3 61.9h0M322.8 68h0M313.8 58.4h0M314.7 66.8h0M324.9 60.6h0M313 61.7h0M327.3 59.2h0M317.5 61.1h0M306.7 70.8h0M307.1 61.5h0M328.7 53.9h0M312 73.1h0M317.9 71.3h0M291.7 67h0M320.8 55.5h0M306.6 58.2h0M311.8 74.9h0M294.3 68.5h0M328.3 57.6h0M317.3 66.2h0M325.7 54.1h0M322.2 62.8h0M325.4 52.5h0M319.5 53.7h0M315.1 74.7h0M319.8 63.6h0M315.2 61h0M303.4 62.8h0M305.5 72.1h0M320.3 62.4h0M319 69.8h0M312 56.7h0M310.1 74.2h0M319.4 62.8h0M320.4 62.3h0M305.9 71.1h0M317.6 62.2h0M306.6 74.2h0M313.7 62.6h0M321.6 67.7h0M307 74.6h0M297 69.9h0M312 57.9h0M316.1 63.7h0M318.3 53.1h0M291 66.4h0M295.5 67.1h0M310.6 70.8h0M292.9 69.6h0M314.3 58.1h0M319.5 54.3h0M316.5 72.6h0M308.3 57.5h0M322.6 66.6h0M313 62.5h0M317.9 58.9h0M324.9 54.7h0M316.5 74.5h0M324.7 62.8h0M303 70.7h0M324.8 66.4h0M312.9 69.5h0M297.6 66.1h0M308.6 68.7h0M314.6 57.2h0M327.6 52.3h0M321.5 69.7h0M326.2 54.8h0M296.2 69.8h0M311.4 57.4h0M304.5 73.3h0M320.2 55.9h0M324.5 63.1h0M316.3 73.8h0M293.4 68.1h0M308.2 62.3h0M301.6 68.9h0M303.6 72h0M303.7 66.3h0M327.6 55h0M324 53.9h0M323.1 61.5h0M298.5 65.4h0M307.5 61h0M304.4 59.4h0M315.8 75.2h0M293.2 66h0M299.1 70.3h0M303 65.2h0M306.2 67.3h0M308.1 58.6h0M308.2 66.8h0M318.5 63.1h0M323.5 66.3h0M306.4 59.7h0M307.2 71.2h0M302 62.1h0M309.9 63.7h0M320.4 59.2h0M311.9 59.9h0M298.8 65.4h0M326.1 64.5h0M318.4 66.3h0M309.6 70.8h0M316.4 60h0M327.1 58.1h0M312.5 59.8h0M314.2 75.6h0M293.2 66.5h0M325.6 53.5h0M327.3 57.8h0M313.1 59.7h0M304.8 60.3h0M323.4 55.1h0M311.3 66.2h0M310.4 61.2h0M319.2 64.3h0M313.1 69.6h0M292.8 66.7h0M316.3 73.3h0M300.2 71.9h0M308.5 69.9h0M316.2 58.8h0M306.7 67.2h0M316 67.8h0M315.7 70.6h0M310.6 62.6h0M305.3 60.1h0M313.1 65.8h0M292.7 65.3h0M308.1 62.3h0M310.7 56.9h0M328.8 59.4h0M314.7 56.6h0M312.2 74.1h0M313.1 69.3h0M312.1 64.4h0M300.5 69h0M311.1 74.2h0M296.3 68.3h0M298.2 65.7h0M309.8 75.3h0M325.3 54.4h0M304.9 63.6h0M316.5 65.1h0M326.5 59.9h0M315.7 60.7h0M312.8 58.3h0M299.4 63.7h0M319.3 59.1h0M304.9 66.1h0M321.6 60.4h0M298.7 64.6h0M311.6 56.6h0M309.5 58.3h0M304.8 70.1h0M308.2 65.1h0M299.9 72.2h0M328.2 58.4h0M310.1 55.6h0M311.4 59.9h0M310.7 75.7h0M300.1 71.8h0M321.3 58.6h0M326.5 56.1h0M313.6 75.2h0M322 63.9h0M315 73.7h0M313 59.9h0M318.3 68.7h0M314.5 73.7h0M290.6 67h0M319.3 54.8h0M297.7 61.2h0M304.5 73.3h0M305.1 66.2h0M303.8 67.4h0M304.2 62.3h0M318.9 57h0M313.4 66.1h0M310.2 70h0M308.3 73.5h0M301.8 65.9h0M293.8 70h0M301.4 59.4h0M325.6 61h0M316.9 56h0M327 55.5h0M295.7 69.2h0M322.6 69.6h0M316.2 66.3h0M323.1 68.7h0M309 72.3h0M305.7 64.1h0M310.5 60.4h0M297.6 66.2h0M320.1 64.1h0M312.2 76.7h0M307.3 70h0M293.2 67.2h0M301 60.3h0M311.5 75.5h0M313.6 72.2h0M298.5 66.5h0M309.1 56.6h0M316.8 61h0M301.1 67.4h0M323.7 64.9h0M325.2 64h0M298.6 69.4h0M321.3 61.5h0M308.9 60.5h0M316.8 73.8h0M321.3 61.4h0M326.4 51.8h0M297.2 69.6h0M305.7 66.6h0M309 62.4h0M316.5 69.3h0M303.5 69.5h0M306.1 62.1h0M307.2 64.7h0M307.8 65.7h0M311 60.1h0M321.8 58.6h0M305.8 67.1h0M312.9 62.5h0M311.4 61.5h0M294.2 66.2h0M295.9 67.7h0M319.2 64.3h0M299 70.6h0M316.3 61h0M317.7 58.8h0M301.7 62.3h0M323.5 60.9h0M304.1 58.7h0M319.3 55.4h0M301 65.2h0M304.2 70.6h0M306.4 73.8h0M297.9 69.8h0M311.1 75.3h0M304.2 62.1h0M317.2 58.6h0M323 60.7h0M304.5 62.5h0M307.6 58.2h0M308.9 61.5h0M318.1 55.6h0M311.5 59.4h0M322.9 58.1h0M316.1 64.2h0M303.1 61.4h0M326.2 59.2h0M309.9 73.4h0M321.9 56.3h0M309.9 60.2h0M301.7 70.3h0M316.5 61.4h0M321.1 55.7h0M327.9 59.3h0M296.3 67.3h0M325.1 62.8h0M313.3 58.1h0M309.8 65.6h0M315.3 58.2h0M313.5 63.7h0M291.4 66.4h0M315.1 69.7h0M319.4 55.8h0M307 68.6h0M312.5 74.4h0M312.6 62.6h0M323.3 66.5h0M298.8 64.6h0M310.2 62.2h0M312.5 66.9h0M319 67.1h0M325.9 64.1h0M315.3 69.7h0M308.1 67.6h0M302.3 68.3h0M313.3 59.1h0M321.4 53.5h0M294.8 68.8h0M315.1 54.9h0M326.9 57h0M306.9 70.3h0M314.6 60.7h0M312.5 73.6h0M310.6 68.3h0M320.3 67.8h0M329.1 54.2h0M309.8 72.3h0M319.8 72.1h0M305 65.3h0M308.8 74.7h0M313.1 69.4h0M307.6 57.4h0M317.4 63h0M304.5 72.2h0M322 62.6h0M319.3 69.4h0M300.2 65.6h0M321.5 63.8h0M299.6 70.5h0M325.9 63.2h0M312.9 57.5h0M325.2 53.3h0M308.2 59.1h0M310.1 69.5h0M318 68h0M303.6 66.1h0M307.5 62.7h0M321.8 66.8h0M311.1 74.6h0M302.8 71.5h0M314.8 60.4h0M320.1 67.3h0M311.9 58.2h0M326.4 58.7h0M326.9 55.7h0M321.1 70.7h0M298.4 63.1h0M312.3 65.6h0M322.1 52.6h0M305.4 64.8h0M320.1 57h0M298.5 63h0M305.2 57.1h0M321.7 53.1h0M312.3 67.4h0M299.6 67.4h0M294.2 66.5h0M295.4 67.5h0M325.3 55.2h0M323.6 67h0M297.7 69.4h0M317.7 66.5h0M323.6 65.2h0M305.4 59.4h0M317.8 70h0M316.9 62.6h0M318.8 67.3h0M300.9 66.3h0M323.1 61.9h0M325.4 54.3h0M317 61.4h0M313.8 75.4h0M322.8 66.6h0M319.7 62.9h0M301 64h0M325.2 51.4h0M309.7 62.4h0M303.9 58.5h0M306.8 60h0M330.2 54.5h0M315.7 65.3h0M309.1 74.1h0M309.2 60.7h0M307.7 59.7h0M302.6 62.8h0M328 52.6h0M311.3 70.6h0M310.3 75.3h0M318.1 69.8h0M324.2 67.6h0M317 73.8h0M302.6 67.4h0M327.4 59h0M298.2 72h0M308.5 58.7h0M314.5 60.3h0M320.8 71.1h0M312.5 59h0M313.2 59.4h0M310.6 67.7h0M308 69.3h0M321.7 65.1h0M323.3 68.1h0M301.8 61.6h0M290.2 67.8h0M317.2 74h0M312 74.6h0M323.5 66.3h0M323.3 60.8h0M311.8 58.7h0M323.9 65h0M318 62.3h0M312.1 75.7h0M323.1 61.3h0M327.3 62h0M304.5 69.2h0M316.3 60.1h0M304.1 64.3h0M320.7 70.4h0M307.3 61h0M298.8 61.5h0M315.6 64.3h0M303.3 68.7h0M299.7 62.8h0M307.6 71.9h0M308.3 63.1h0M303 71.9h0M316.3 74.4h0M314.2 64.7h0M323.4 67.6h0M316.1 59.1h0M306.6 74.9h0M319 61.7h0M325.8 53.9h0M315.1 71.6h0M327.4 55.1h0M322.2 56.2h0M310.1 60h0M314.7 55.4h0M314.5 61.5h0M308.7 64h0M314.8 61.9h0M303.3 72.2h0M296.5 65.4h0M326.1 57.1h0M321.1 58.1h0M325.3 52.6h0M323.8 62.7h0M297.7 64.1h0M317.8 54.9h0M306.1 73.7h0M324.2 60.5h0M316.9 65.2h0M303.8 68.9h0M297.3 64.4h0M325.1 62.4h0M326.4 60h0M315 63h0M303.2 59h0M295.6 70h0M303 64.1h0M308.2 69.5h0M325 63.6h0M316.5 59h0M301.6 64h0M319.9 65.4h0M308 61.8h0M316.1 57.8h0M329.1 55.6h0M306.1 74.2h0M319.2 69.3h0M303.1 65.3h0M307.5 69.6h0M323 52.8h0M314.5 59.7h0M320 64.4h0M296.2 68.7h0M316.1 63.4h0M314.8 72.3h0M325.2 53h0M321.6 53.3h0M327.1 60.9h0M299.2 60.4h0M320.1 69.1h0M310.7 57.6h0M308.4 69.4h0M326.4 60.4h0M294.4 64.2h0M318.5 57.8h0M304.9 69h0M322.3 67.9h0M291.4 67.9h0M311.9 65.4h0M315.5 72.8h0M314 70.5h0M313.2 67.4h0M309.4 55.4h0M298.3 69.3h0M303 73.4h0M294.7 69.7h0M311.1 59.1h0M314.1 65.1h0M302.3 59.6h0M311.8 65.3h0M314.7 60.9h0M300.3 64.1h0M304.5 65.8h0M311.4 59.8h0M315.4 67.5h0M326.8 58h0M328.7 56.7h0M320.4 57h0M297 68h0M327.7 58.1h0M316.1 60.3h0M311.6 65.1h0M328.7 56.4h0M308.3 60.7h0M322.3 56.8h0M316.2 65.4h0M309.7 68.5h0M311.2 69.6h0M313.6 68.1h0M307.3 75.4h0M302.5 61h0M298.3 68.5h0M316.1 71.9h0M316.2 68.2h0M299.1 72.6h0M312.4 68.6h0M324.7 64.7h0M311.1 62.2h0M307.2 61.6h0M313.4 62.9h0M306.2 64.2h0M322.6 54.9h0M304.1 71h0M319 56.7h0M306.1 60.6h0M316.6 72.9h0M321.7 63.2h0M318.6 65.7h0M295.7 67.4h0M299.1 69.2h0M317.6 65h0M302 63.5h0M298.6 62.9h0M323.2 54.4h0M309.1 57h0M328.1 59.2h0M309 65.5h0M308.9 66.8h0M298.8 71.9h0M302.7 61.3h0M316.5 56.8h0M323 57.9h0M313.9 57.3h0M301.8 62.4h0M299.9 59.9h0M295.1 66.3h0M310.9 69.6h0M322.5 62.2h0M311.3 70.4h0M313.6 61.1h0M305.1 65.6h0M310.8 59h0M323 60h0M323 64.4h0M314.7 71.5h0M293.4 68.7h0M297.4 65.8h0M311.5 57.7h0M324.2 57h0M304.5 74.1h0M327.7 53.4h0M295.6 63h0M312.2 66.4h0M316 69.9h0M310.1 72.6h0M305.8 66.1h0M328 54.6h0M312.6 73.9h0M321.9 57.1h0M322.4 59.4h0M316.6 61.2h0M298.9 70.5h0M304.9 61.7h0M312.6 56.8h0M301.9 66.5h0M299.2 68.5h0M309.4 58.8h0M307.6 61.8h0M294.3 65.9h0M310.8 77h0M311 72h0M313.6 65.6h0M322.1 58.6h0M327.7 58.9h0M304.5 61.3h0M315.8 73.8h0M290.6 65.6h0M327.6 58.4h0M307.5 72h0M304.9 57.3h0M310.3 66.7h0M307.3 69.8h0M313.8 65.3h0M311.3 67.4h0M316.2 55.3h0M314.4 62h0M315.3 62.3h0M300.9 66.3h0M329.1 55.4h0M314.7 55.6h0M293.3 65.4h0M323.8 52.6h0M314.4 72.3h0M318.2 53.8h0M298.3 63.1h0M303.4 67.8h0M308.3 58.7h0M317.5 64.7h0M314.2 59.1h0M309.3 62.3h0M303.1 71.4h0M327.2 57.9h0M311.8 62.9h0M319.4 53.9h0M318.8 67.1h0M327.5 55.8h0M318.8 56.5h0M307 63.7h0M290.5 66h0M301.6 64.9h0M302.5 73.6h0M312.6 67.1h0M294.8 64.3h0M300.4 63.3h0M306.7 61.5h0M320.1 55.3h0M312.3 57.9h0M321.6 62.2h0M320.4 56.9h0M305.1 61.8h0M319.7 66h0M305.1 65.3h0M312.7 61.3h0M299.8 67.2h0M324.3 64.1h0M304.7 65.5h0M327.5 58h0M322.7 56.1h0M303.6 72.1h0M305 67.7h0M300.3 68h0M299.3 64.5h0M298.7 61.7h0M304.2 62.5h0M308.8 65.7h0M306.2 68.5h0M319.5 59.5h0M309.7 68h0M313.2 67.1h0M314.9 61.3h0M309.7 76.2h0M323.2 59.6h0M314.3 56.9h0M305.2 57h0M319.9 53.2h0M320.3 53h0M315.4 74.8h0M314.4 74.1h0M311.6 72.4h0M313.4 64.1h0M311.3 66h0M322.3 69.2h0M321 60.1h0M314.5 63.9h0M320.4 70.9h0M319.4 54.6h0M301.3 66.2h0M315 58.3h0M311 59.2h0M323.8 60.9h0M299.9 65h0M299.6 66.2h0M318.4 63.3h0M325.8 55.8h0M311.1 72.6h0M302.7 72.8h0M311.9 54.9h0M307.8 62.6h0M324.1 66.4h0M327.4 60.3h0M295.7 66.5h0M323.5 60.9h0M323.3 60.7h0M312.4 69.8h0M313.8 60.5h0M311 65.5h0M306.2 68.6h0M304.5 68.4h0M312.2 62.3h0M305.5 72.8h0M309.9 72.9h0M307.6 65.1h0M318.5 62.6h0M315.7 73h0M305.5 69h0M320.7 55.9h0M303 60h0M295.8 68.4h0M306.7 74.7h0M301 69.8h0M311 63.7h0M300.7 62.6h0M326.8 52.7h0M295.1 70h0M312.8 59.7h0M302 69.3h0M327.5 61.9h0M298.1 62.9h0M309.2 62.2h0M325.3 63.2h0M320 59.6h0M308.1 57.2h0M323.1 56.3h0M311.7 75.3h0M313.7 66.6h0M300.5 60.8h0M321.9 62.5h0M304.6 59.7h0M315.5 65.5h0M317 54.4h0M314.6 65.6h0M315.5 54.9h0M300.2 68h0M297.2 70.5h0M293.7 69.3h0M308.1 63.5h0M308.1 70.1h0M295.3 66.4h0M315.4 57.9h0M297.2 71.3h0M297.7 62.9h0M308.7 70.9h0M312 58.6h0M298.6 72.5h0M314.5 71.8h0M324.8 52.8h0M313.2 67.7h0M317.9 73.8h0M323.1 56.3h0M312.6 59.1h0M322.6 60.3h0M318.3 56.9h0M322.2 55h0M300.9 71.7h0M317.3 58.2h0M325.3 61.2h0M308 62.7h0M311.2 68.1h0M317 60.1h0M318.2 65.9h0M321.2 68h0M329.3 58h0M320.9 70.8h0M311.7 56.5h0M305.6 66.1h0M305 71.4h0M323.6 66.9h0M298.8 62h0M317.2 66.4h0M303.3 72.8h0M296.1 67h0M309.5 65.8h0M319.6 61.6h0M317.1 68.1h0M315.2 55.3h0M326.6 64.1h0M301.2 59.9h0M302.9 71.3h0M307.9 73h0M315.2 66.9h0M314.4 59.2h0M314.5 67.1h0M315.1 55.8h0M316 64.5h0M300.3 66h0M316 74.8h0M307.5 68.7h0M308 73.1h0M318.4 59.7h0M322.3 66.9h0M312 63h0M304.4 72.6h0M296.8 68.3h0M310.7 68.8h0M299.8 60.3h0M314 67.5h0M324 52.1h0M323.4 66.2h0M309 70.9h0M315.5 69.9h0M317.7 59h0M326.4 51.5h0M325.1 62.8h0M313.3 65.9h0M310.4 59h0M312.8 69.2h0M302.7 64.3h0M317.3 72.2h0M321.8 65.9h0M318.6 52.8h0M314.1 69.9h0M296.8 69.3h0M322.5 61.8h0M301.4 68.2h0M325.3 59.2h0M323.5 64.3h0M306.7 66.8h0M323.8 57.6h0M312.5 69.8h0M321 69.2h0M310.5 64.9h0M298.9 66.3h0M314.4 56.2h0M327 53.9h0M316.9 67.3h0M305.5 57.8h0M293.8 67.4h0M312 57.9h0M314.7 73.7h0M312.9 65.9h0M316.2 56h0M301 62.1h0M323.2 55h0M308.7 68.5h0M311.7 67.9h0M324.6 54.9h0M299.5 66.1h0M302.6 62.9h0M296 63h0M307.8 65.2h0M316 74.5h0M324.4 53h0M295.7 68.4h0M319.2 62.8h0M299.2 71.9h0M306.2 71.4h0M308 67.6h0M308.8 75.8h0M307 74.6h0M297.3 68.9h0M310.8 65.7h0M306.1 58.6h0M308.5 71h0M310.7 65.8h0M313.4 56.2h0M301.3 67.5h0M301.9 63.8h0M307.7 59.8h0M301.3 61.3h0M310.3 71.4h0M314.8 64h0M297.8 68.6h0M305.7 68.7h0M313.4 68.8h0M320.9 58.8h0M316 70.3h0M293.9 69.5h0M304.5 61.3h0M323.7 62.7h0M306.1 64.4h0M310 73.1h0M319.4 56.8h0M319.6 65.3h0M310.6 76.7h0M295.7 63.3h0M315.8 58.6h0M310.2 67.9h0M310.2 63.7h0M326.3 56.5h0M318.7 60.4h0M308.1 65.7h0M314.4 65.1h0M301.2 68.1h0M324.1 55.8h0M320.2 53.7h0M325.7 52.9h0M305.3 68h0M307.5 69.7h0M328.2 60.9h0M315.9 71.4h0M308.5 69.7h0M315.6 64.8h0M305.3 73h0M318.5 59.8h0M302.2 71.6h0M305.5 71.4h0M316.1 64.9h0M311.6 73.8h0M318 72.5h0M310.8 69.6h0M304.2 61.9h0M328.3 56.6h0M323 64.9h0M319.6 63.6h0M308.1 72.1h0M295.6 68.4h0M325.8 55.3h0M314.9 74.4h0M308 58.6h0M320.1 61.4h0M314.8 58.7h0M302.4 74h0M316.9 61.1h0M321.5 56h0M322.9 67h0M304.3 69.9h0M321.5 55h0M309.4 60.2h0M314.8 62.1h0M304.4 70.2h0M322.6 53h0M320.5 67.3h0M314.1 76.1h0M312.1 74h0M316.2 54.9h0M293.9 63.5h0M313.2 59.7h0M314.2 68.7h0M291.7 66.3h0M302.6 62.4h0M321.4 67.4h0M304.4 67.3h0M304.3 70.6h0M302.9 65.2h0M300.2 62.3h0M303.8 64h0M307.7 64.3h0M309.7 56.6h0M326 58.4h0M323 54.2h0M306 72h0M313.2 61.8h0M310.1 66.3h0M296.7 61.7h0M300.4 66.1h0M297.3 63.6h0M297.1 70.1h0M303.9 58.1h0M305.3 66.7h0M321.5 60.6h0M316.2 72.4h0M303.7 67.5h0M312.9 76.3h0M319 66h0M306.9 70h0M304.4 64.5h0M321.1 52.5h0M326 58.9h0M312.1 57.3h0M295 69h0M293.3 68.7h0M325.1 53.2h0M327.6 56.9h0M310.1 65.6h0M315.5 54.5h0M323.2 66.5h0M325.3 65.8h0M325.2 53.2h0M313.6 72.5h0M299.7 66.7h0M316.9 61.3h0M314.8 57.7h0M318.5 63.7h0M315.4 74.9h0M305.9 64.6h0M303.5 63.5h0M323.7 64.9h0M307.9 68.7h0M330 53.6h0M320.6 63.8h0M322.1 68.4h0M323.7 64.9h0M327.5 58.3h0M321.8 54.6h0M328.2 53.1h0M313.9 57.1h0M299.1 64.4h0M325.5 59.2h0M307.7 61.8h0M325.7 62.6h0M299.9 70.7h0M314.1 61.9h0M304.9 65.4h0M299 70.4h0M327.2 57.5h0M299.3 62.8h0M318 67.9h0M318.7 58.5h0M325 61.2h0M305.3 61.8h0M315.8 70.2h0M306.9 71.9h0M300.1 64.6h0M306.4 70.3h0M311.2 60.9h0M312.2 73.3h0M304.3 64.5h0M302.5 66.7h0M304.7 65.3h0M301.1 59.6h0M313.4 72.1h0M306.9 66h0M295.9 70.9h0M302.6 73.1h0M323.5 55.4h0M318.3 53.4h0M306.1 65.2h0M301.2 70.9h0M320.6 63.9h0M302 61.1h0M297.3 67.6h0M316 73.9h0M301.2 61.9h0M304.4 74.4h0M325.3 59.2h0M322.1 56.4h0M312.2 71h0M321.4 65.4h0M324.9 65.5h0M315.6 57.2h0M326.6 56.8h0M307.6 73.2h0M301.5 71h0M309.5 58.8h0M313.5 65h0M313.4 58h0M301.4 70.4h0M310.7 60.4h0M301.8 65.2h0M303.5 63.7h0M307.5 65.8h0M315.1 58.1h0M306.7 69.2h0M310.5 67.7h0M318.3 69.1h0M308.3 57.7h0M298.6 64.5h0M303.2 65.9h0M294.8 69.5h0M297.6 66.1h0M315.9 73.5h0M323.2 57.1h0M317.9 67.8h0M320.9 60h0M314 72.5h0M303.9 66.3h0M307.5 62.3h0M300 68.9h0M308.3 65.8h0M307.1 61.8h0M323.6 67h0M321.8 67.9h0M311.8 57.2h0M301.7 63.4h0M310.6 61.1h0M323 59.7h0M304.3 59.1h0M297.4 65.4h0M319.3 59.5h0M303.5 59.2h0M320.3 60.9h0M295.5 70.1h0M298.9 61.2h0M316.8 73.5h0M313.1 72.7h0M297.9 61h0M310 66.4h0M316.9 69.3h0M316.8 66.5h0M298.5 67h0M299.2 63h0M322.4 59.4h0M322.4 65h0M316 65.3h0M312.4 71.8h0M308.2 68h0M309.2 58.2h0M328 53.6h0M317 59.1h0M320.9 56.2h0M300 61.6h0M326.7 56.3h0M295.1 68.6h0M301.5 61.3h0M297.7 70.1h0M295.2 67h0M317.2 55.2h0M301.9 64.6h0M316.2 60.7h0M305.9 69.7h0M317.9 73.9h0M315.2 64.5h0M303.1 59.8h0M298.5 70.6h0M314.5 73.9h0M319.4 63.7h0M300.9 72.7h0M314.8 65.8h0M315.6 74.1h0M311.5 67.9h0M304 70.7h0M321.8 65.2h0M303.8 67.8h0M312.3 56.8h0M301.5 59.4h0M312.5 63.6h0M322.6 69h0M310.6 74.7h0M323.7 66.9h0M328.7 56.1h0M302.7 66.3h0M324.5 52.5h0M304.5 59.4h0M322.2 67.6h0M320.6 56.1h0M327.6 56.3h0M320.1 56.4h0M308.4 61.3h0M308.4 71.6h0M323 68h0M311.1 56.7h0M325.9 61.5h0M302.4 67.8h0M310.6 59.1h0M313.3 71.4h0M296.6 69.1h0M319.2 63.8h0M327.1 55.9h0M306.2 75.2h0M311.7 61.8h0M304.5 63.5h0M322.6 68.2h0M310.9 73.1h0M307.8 60.7h0M312.4 61.6h0M320.7 62.3h0M309 73.5h0M323.8 58.1h0M324.7 61.4h0M314.9 66.7h0M322.1 58.8h0M311.6 76.4h0M293.3 65.9h0M298.7 64.7h0M315.5 55.8h0M323.5 55.5h0M302.5 58.9h0M320.5 53.5h0M290.9 68h0M295.7 69.8h0M325.5 58.7h0M309.5 57.7h0M305 61.6h0M316.4 61.8h0M328.7 55.2h0M319.8 57.2h0M328.1 54.1h0M316.5 60.6h0M302.1 67.1h0M307.7 71.7h0M302.2 59.9h0M319.8 55.6h0M326.1 65.6h0M296.5 71.2h0M322.5 53.4h0M300 66.7h0M307.8 68.5h0M311.3 68.1h0M320.3 60.8h0M311.1 58.4h0M307.1 72.4h0M309.8 72.2h0M323.7 63.7h0M322.3 66.2h0M321.7 66.5h0M311.8 66.3h0M308.8 70.6h0M302 63.2h0M311.3 58.6h0M321.7 60.8h0M300.7 62.3h0M314.2 69.3h0M316.4 69.7h0M303.7 61.8h0M313.4 74.4h0M295.1 63.8h0M328.3 57.8h0M311 69h0M301.4 67.7h0M298.7 61.7h0M296.8 70.7h0M329.5 58.5h0M308.7 58.7h0M308.3 66.2h0M304 58.1h0M301 67.3h0M322.1 59h0M308.9 69.1h0M296.8 65.4h0M325.7 62.7h0M317.1 60.1h0M321.8 67.1h0M318.4 71.5h0M301.7 67.7h0M326.3 56.2h0M316.6 60.9h0M311.4 69.1h0M306.5 58.2h0M305 70.8h0M306.2 64.4h0M293.1 68.8h0M301.1 69.7h0M322.9 59.7h0M307.4 71.1h0M317.1 64.8h0M294.9 70.2h0M302.2 70.7h0M317.8 70.8h0M297.3 62.1h0M327.9 53.3h0M308.8 65h0M298.7 60.7h0M304.6 61.1h0M312.1 65.4h0M317.4 64.1h0M325.3 62.4h0M296.4 67.5h0M314.9 64.6h0M298.6 63.1h0M307.4 68h0M302.5 73.2h0M315.5 57.5h0M300.6 71.8h0M294.6 68.2h0M300.3 63.2h0M301.1 65.6h0M326.5 52.5h0M295.2 68.9h0M313.8 72.9h0M322.7 56.9h0M300.5 70.7h0M318.6 54.9h0M310.6 61h0M316.8 60.1h0M313.4 71.8h0M314.3 69.8h0M308.9 70.6h0M310.1 75.7h0M320.3 57.8h0M296.1 64h0M313.7 58.2h0M312.3 54.9h0M314.6 59.7h0M307.3 60.1h0M325 56.9h0M310.3 67h0M327.1 61.9h0M324.2 58.7h0M312.1 71.1h0M315.2 64.3h0M301.5 60.2h0M305.7 72.1h0M316.3 67.4h0M312.6 71h0M304.8 75.5h0M302.2 65.4h0M298.6 65.1h0M315 72.7h0M308.5 62.6h0M294.7 66.7h0M298 64.3h0M321.5 67.8h0M318.7 55.1h0M298.8 65.9h0M308.6 67.4h0M311.5 63.2h0M311.9 68.8h0M319.8 65.3h0M306.2 64.9h0M314.2 74.5h0M324.6 64.1h0M309.5 69.8h0M317.9 60.9h0M321.1 61.7h0M304.5 59.2h0M306.6 68.6h0M307.1 70.5h0M313 67.3h0M314.8 57.1h0M312 75.1h0M302.1 69.1h0M301.9 62.8h0M299.8 69.1h0M301 67.7h0M313.2 69.3h0M295.9 65.1h0M304.7 65.7h0M321.2 52.8h0M291.9 68.2h0M318.9 65.3h0M325.4 61.9h0M300.9 64.6h0M328.2 58h0M312 58.4h0M307 60.9h0M303.3 62.3h0M312.3 55.1h0M321.6 53.6h0M312.2 59.8h0M312.2 57.5h0M313 58.8h0M323.5 56.6h0M309.1 72.7h0M321.8 68h0M302.7 65h0M314.9 64.9h0M313.4 74.1h0M315.2 69.7h0M319.5 57.2h0M320.6 61.5h0M306.8 58.8h0M299.3 65.7h0M294 63.6h0M310.6 74.5h0M321.2 70.4h0M304.2 65.5h0M313 69.4h0M305.1 61.4h0M307.3 67.8h0M322.6 67.7h0M309 73h0M316.2 61.9h0M310.6 65.9h0M317.2 70.7h0M311.7 69h0M311.5 73h0M291.4 68.4h0M309.1 75h0M311.6 55.8h0M317.2 57.9h0M316.7 56.4h0M296.1 66.5h0M292.3 65.6h0M290.4 66.9h0M306.7 66.9h0M307.6 70.3h0M313.4 61.4h0M299.5 64.8h0M296.9 64.2h0M320.3 64.7h0M310.4 74.6h0M298.3 67.6h0M329 58.9h0M326.6 62.3h0M321.4 68.3h0M317.3 70.7h0M298.5 66.5h0M309.3 67.2h0M305.7 69.8h0M302.2 69.5h0M312 55.3h0M315 67.3h0M309.4 55.1h0M303.7 75h0M310.5 72.3h0M326.3 57.6h0M308.5 57h0M320 57.8h0M324.5 63.6h0M309.7 62.5h0M322.8 62.8h0M306.1 65.3h0M327.3 62.5h0M308.8 62.5h0M305.7 62.1h0M320.9 68.9h0M323.5 57h0M311.4 63.4h0M309.1 61.7h0M297.4 70.3h0M325.5 63.2h0M315.4 56.5h0M315.5 72.3h0M313.5 59.9h0M320.5 54.5h0M301.1 70.7h0M316.2 69.5h0M321.6 68.1h0M294.1 69.4h0M322.3 67h0M311.8 57h0M317.8 66.1h0M320.5 70.9h0M302.8 63.4h0M305.2 68.1h0M296.4 64.9h0M325.3 56.9h0M314.4 68.5h0M310.5 60.1h0M316.1 66.2h0M293 66.3h0M314.9 70.7h0M298.6 70h0M300 62.3h0M313.4 62.8h0M327.3 53h0M292.9 65.4h0M299.3 71.3h0M322.1 61.8h0M296.2 62.4h0M301.1 62.8h0M306.2 68.8h0M303.3 70.5h0M310.8 70.5h0M314.7 74.9h0M304.3 63h0M313.2 65h0M322.5 64.4h0M312 66.2h0M324.9 53.6h0M294.7 66.4h0M323.4 52.8h0M315.2 72.3h0M320.7 55h0M325.8 63.3h0M311.5 56.4h0M296.3 70.8h0M308 66.3h0M306.2 73.1h0M316.4 62.6h0M294.6 66h0M300.3 60.6h0M311.1 56.5h0M310.8 56.3h0M307.7 61.2h0M318.5 67.2h0M323.4 56.1h0M309.7 68.9h0M314.8 54.1h0M296.7 65.5h0M314.8 64.8h0M322.8 60h0M308.8 70.7h0M319.6 57.6h0M307 64h0M320.9 54.6h0M319.2 60.7h0M310.7 75.2h0M321.1 64.8h0M307.8 74.7h0M310.4 71.9h0M326 62.9h0M321.9 62.5h0M308.7 62h0M314.5 64h0M316 73.1h0M314.5 68h0M325.3 54.1h0M323 61.4h0M302.6 68h0M321.1 61.5h0M325.5 61.3h0M321.7 64.3h0M307.3 63.9h0M302.9 60.1h0M309.8 59.6h0M295.7 68.1h0M313.3 55.3h0M314.1 54.7h0M321.9 64.8h0M310.2 62.4h0M293.3 63.6h0M309.6 57.7h0M316.4 67h0M302.5 62.2h0M307.1 63.2h0M312.8 76.4h0M324.9 58.7h0M305.8 63.2h0M315.7 61.3h0M311.6 68.9h0M314.4 76h0M313.7 60.6h0M304.8 64.9h0M307.7 57.1h0M323.6 64.7h0M312.5 60.2h0M311.3 64h0M306.2 60h0M308 63.5h0M303.5 60.9h0M321.7 61.5h0M291.4 65.3h0M302.7 60.6h0M313.4 67.6h0M313.8 58.2h0M311 65.8h0M316.5 60.6h0M312 74.7h0M308.2 68h0M323.4 51.5h0M312.9 69.6h0M303.4 69.3h0M319.8 67.2h0M328.3 58.2h0M303.2 67.2h0M323.6 66.9h0M312.9 69.7h0M300 69.6h0M324.4 58h0M293.8 64.6h0M308.1 69.2h0M320.2 68.1h0M319.4 56.1h0M307.7 60.7h0M319.4 68.1h0M305.6 64.9h0M328.2 57.9h0M321.6 52.1h0M298.4 69.7h0M294.4 63.8h0M316.3 57.8h0M304.8 70.1h0M323.5 62.9h0M320.8 57.6h0M309.4 70.2h0M324.7 55.6h0M313.3 62.8h0M312.7 57.5h0M306 63.5h0M320.2 57.9h0M313.5 63.1h0M322.6 60.7h0M304.5 63.7h0M317.4 62.9h0M309.4 58.4h0M321.8 57h0M324.8 53.8h0M324.5 57.8h0M308.6 65.1h0M300.9 66.1h0M325.8 60.3h0M319.7 64.1h0M313.6 65.2h0M319.8 59.8h0M319.8 63.1h0M316.9 70.1h0M325.1 61.4h0M315.7 67.6h0M308.5 71.9h0M303.6 65.9h0M313.8 67.2h0M328.1 54.6h0M320.9 57.6h0M315.9 63.8h0M315.1 66h0M302.7 69.3h0M304 70.1h0M319 65.9h0M308.8 70.9h0M314.9 61.5h0M318.8 56.7h0M304.7 65.2h0M310.4 73h0M306.4 61.1h0M308.7 65.1h0M323.1 66.3h0M306.9 64h0M306.8 62.5h0M313 69.9h0M316.2 64.6h0M314.1 71.2h0M311.1 65.5h0M315.2 60.9h0M312.1 64.9h0M324.1 63.1h0M317.7 66.4h0M311 71.1h0M322.2 58.7h0M325.4 55.9h0M314.2 61.6h0M305.4 63.6h0M308.4 68.6h0M319 63.5h0M300.1 64.2h0M318.6 62.1h0M312.7 61.1h0M326.8 54.4h0M314.1 70.5h0M311.1 68.7h0M318.6 55.9h0M306.5 62.2h0M323.6 64h0M311.7 69.3h0M323.7 63.1h0M319.4 60.8h0M310.4 72.2h0M312.1 69.2h0M311.1 65.4h0M313.5 72.6h0M324.1 58.2h0M313.8 67h0M319.9 56.1h0M307 69.3h0M314.3 64.6h0M320.5 62.3h0M304.9 66.1h0M320.2 65.7h0M317.5 64.2h0M324 63.4h0M315.7 68.7h0M314.4 67.1h0M303.7 68.5h0M302.8 70.4h0M308.7 70.3h0M326.2 56.9h0M307 61h0M320.4 59.4h0M320.7 68.9h0M323.8 63.1h0M313.6 64.6h0M315.3 57.1h0M316.5 64.8h0M310.7 59.4h0M310.3 67.7h0M311.9 63.8h0M316.5 67.6h0M306.4 71.9h0M323.7 63.3h0M323.8 54.6h0M314 66.3h0M317.5 62.7h0M321.6 64.3h0M308.2 59.7h0M325.5 56.4h0M309.7 72.7h0M303.4 70.1h0M306 69.5h0M325.5 59h0M312.1 64.6h0M317.9 60.9h0M314.4 69.9h0M315.4 62.2h0M320.6 64.3h0M321.8 55.6h0M325.5 57.6h0M318.1 66.7h0M309.9 60.4h0M313 69.2h0M322 55.2h0M325.3 54.9h0M325.6 54.3h0M312 62.2h0M318 67.5h0M320.6 56.2h0M313.8 64.4h0M308.8 70.9h0M316.9 64.1h0M314.1 70.1h0M310.7 64.4h0M319.8 67.6h0M322.3 59.9h0M323.3 62.6h0M309 63.3h0M304.3 70.2h0M308.9 60.2h0M302.9 64.5h0M307.1 69.1h0M318.8 63h0M299.7 65.1h0M317.3 60.3h0M327.3 55h0M306.9 66.6h0M313.6 60.6h0M301.7 66.7h0M319.7 59.4h0M302.1 69.8h0M306.6 62.2h0M315.2 63.8h0M321.3 63.3h0M316.5 66.3h0M314 59.8h0M318.4 58.1h0M306.7 62.2h0M316.8 62.7h0M306.5 65.2h0M314.1 56h0M320 66h0M310.4 70.5h0M305.7 68.5h0M311.8 72.7h0M315.7 67.6h0M318.3 64.1h0M304.3 62.3h0M317.8 58.5h0M325.3 53.4h0M314.9 57.3h0M320 66.1h0M302.7 63.9h0M315.9 70.8h0M310.7 64.2h0M320 64.5h0M319.5 64.5h0M314 71.5h0M326 56.8h0M302.4 70.7h0M302.7 68.2h0M322.8 60.1h0M317.2 60.9h0M305.7 72.2h0M310.8 71.6h0M312.7 66h0M326.6 60.3h0M327.3 55.7h0M303 63.6h0M311.7 70.3h0M314.2 61.8h0M302 66.3h0M310 68.3h0M321.4 57.4h0M325.9 59.3h0M322.6 62.9h0M302.9 64.6h0M320.1 69.5h0M317.5 62.3h0M306.8 72.3h0M308.6 70.9h0M326.6 58.3h0M302.5 69.7h0M312.5 59.3h0M312.8 67h0M310.7 61.3h0M309.6 66.7h0M318.1 61.2h0M308.8 68.9h0M307.3 64.6h0M315.6 62.8h0M316.4 68.4h0M322 60.8h0M309.3 63.9h0M311.3 73.7h0M321.4 64h0M306.4 61h0M323.8 57.3h0M323.7 54.9h0M301.7 69.6h0M314 65.1h0M307.4 64.8h0M313 64.4h0M323.1 55.9h0M321 64.2h0M328 57h0M317.1 59.9h0M303.4 67.3h0M310.7 62.5h0M307.9 69.9h0M314 69h0M324 54.4h0M309 59.7h0M312.5 63h0M308.8 68.9h0M313.8 69.7h0M308.4 60.8h0M308.6 58.3h0M307.9 61.6h0M306.6 68.4h0M303.5 69h0M320.9 54.3h0M316.9 68h0M325.1 57.8h0M319.2 67.9h0M311.6 57.7h0M308.9 63.8h0M315.7 67.8h0M320.7 55h0M314.6 64.6h0M319.9 63.6h0M307.1 61.3h0M321.3 61.6h0M320 65.2h0M315.1 62.8h0M305.9 65.5h0M311.8 67.6h0M324.3 61.8h0M303.9 67.9h0M306.6 64.5h0M314.5 69.6h0M318.5 55.5h0M315.7 59.9h0M312 70.2h0M307.6 70.6h0M318.7 63.8h0M308.9 70.1h0M321.4 64.5h0M321.6 56.3h0M311.3 69.7h0M309 68.4h0M315 71.8h0M310.2 68.6h0M301.5 64.5h0M317.5 65.1h0M315.3 63.5h0M325.1 56.7h0M300.8 66.6h0M313 67.9h0M324.6 54.9h0M321.6 59.1h0M324.1 57.4h0M319.7 59.9h0M305.7 68.9h0M309.7 66.8h0M321.4 61.1h0M327.4 58.6h0M310.3 72.3h0M320.6 54.5h0M310.2 70.8h0M307.2 63.2h0M326.6 59.6h0M307.6 60.8h0M303.2 65.2h0M322.2 63.8h0M319.6 56.2h0M318.6 65.3h0M310.2 69.4h0M311 62.1h0M307.5 66.5h0M311.5 70.1h0M320.9 58.4h0M317.7 56.9h0M318.5 66.5h0M304.5 67.8h0M309.7 59.4h0M317.5 55.8h0M321.8 56.6h0M306.5 67.8h0M299.1 64h0M307.4 65.3h0M322.7 61.3h0M308.2 59.5h0M311.3 65.2h0M310.5 68.4h0M311.8 70.8h0M304 69.4h0M311.1 72h0M317.3 55.6h0M320.4 64.9h0M325.9 57.1h0M312.6 59.4h0M319.6 55.9h0M303.2 65.2h0M325.9 61.2h0M313.9 65.5h0M305.7 60.9h0M306.8 62.9h0M316.9 61h0M317.7 62.3h0M307.6 65.2h0M310.5 61.2h0M317.3 67.1h0M313 60.6h0M306.4 64.9h0M309.1 61.9h0M304.8 66.2h0M323.1 58.7h0M324 59.1h0M308.6 65.6h0M305.1 65.7h0M324.5 56.8h0M317 67h0M311.7 69.2h0M307.2 61.1h0M309.1 64.5h0M311.6 72.5h0M317.6 68.1h0M310.1 73h0M317.6 67.5h0M303.1 64.1h0M303.8 64.3h0M321.5 54.9h0M315.8 65.8h0M307.8 66.1h0M309.3 69.9h0M299.9 65.8h0M308.5 71.2h0M307.4 61.6h0M305 62.2h0M316.8 66.8h0M311.1 68.7h0M310.2 65h0M316.5 61.2h0M311.7 71.2h0M312.2 59.8h0M320.3 59.6h0M312.7 67.3h0M318 67.8h0M323.9 62.1h0M310.4 63.5h0M312.9 63.9h0M324 59.7h0M308.4 61h0M317.2 56.6h0M320.4 59.6h0M315 66.6h0M323.7 59h0M308.4 71.2h0M301.7 64.6h0M314.9 66.3h0M313.4 63.2h0M306.7 67.7h0M315.4 67.8h0M312.3 58.9h0M309.7 59.9h0M309.1 71.2h0M313.1 62.2h0M327.3 58.1h0M304.7 69.4h0M317.3 67.1h0M308.2 65.2h0M305.3 62.2h0M320.6 56.2h0M312.5 59.2h0M324.3 57.5h0M305 60.5h0M320.4 59.6h0M324.5 56.3h0M325.1 60.5h0M316.4 61.7h0M320.6 66.2h0M322.5 56.1h0M301.2 65.9h0M308.6 67h0M317.5 56h0M306.5 71.9h0M299.3 65.5h0M317.3 61.6h0M310.6 62h0M315 64.1h0M316 64.2h0M309.9 66.5h0M311.5 61.4h0M311.2 64.1h0M313 67.8h0M301.6 70.1h0M303 67.7h0M299.8 65.7h0M319.9 66.4h0M317.9 59.1h0M308.1 72.8h0M316.8 66.9h0M319.9 55.6h0M318.7 58.5h0M316.6 62.6h0M308.8 70.3h0M324.2 59.6h0M306.5 60.8h0M320.3 61.2h0M322.7 55.1h0M306.9 63.4h0M324.8 59.5h0M313.6 61.5h0M316.7 58.2h0M309.5 72.8h0M321.4 55.3h0M317.7 60.1h0M316.9 59.5h0M311.2 61.7h0M315.9 69.7h0M305.1 64h0M320.3 55.3h0M304.9 63.3h0M304 62.3h0M322.2 62.5h0M320.7 60.8h0M314.6 65.8h0M313.3 58.3h0M314.8 69.3h0M319.8 66.9h0M319.8 62.4h0M321 64h0M320.5 65.4h0M304.9 64.3h0M312.3 58.8h0M320.3 66.6h0M314.4 65.1h0M311.4 74.9h0M315.8 57.9h0M307.5 66.9h0M316.2 56.7h0M307.9 63.7h0M313.1 60.7h0M322.2 62.6h0M309.9 67.9h0M310.9 70h0M313 59.5h0M319 62.4h0M301.4 63.6h0M318.2 68.5h0M320.8 61.4h0M313.5 72.1h0M312.5 61h0M312.5 65.5h0M322.8 59h0M311.6 62.7h0M318.7 66.8h0M310.4 67h0M307.7 62h0M321.4 59.3h0M309.8 58.5h0M323.6 61h0M305.2 70h0M323 57.2h0M303.1 62.5h0M307.3 70.2h0M324.5 56.9h0M303.6 62.8h0M326.7 57.3h0M307 71.2h0M302.3 69.5h0M324.4 55.3h0M305 66.3h0M314.6 59.1h0M312.7 65.7h0M304.5 69h0M302.7 69.9h0M325.1 63.3h0M311.2 58.6h0M307.6 64.3h0M320 65.1h0M317.1 58.6h0M310.4 70.5h0M313.4 66.6h0M311.9 73.3h0M306.4 69.9h0M322.3 58.5h0M309.2 70.4h0M309.7 64.1h0M322.2 66.4h0M311.7 69.8h0M313.5 68.9h0M315.9 57.3h0M312.3 63.3h0M314.6 68.1h0M315.7 64.4h0M325.3 59.7h0M323.9 56.3h0M304.3 66.8h0M308.3 59.7h0M327.5 55h0M317.5 65h0M309.5 61.9h0M305.2 62.5h0M319.8 58.6h0M326.6 62.4h0M315.1 63.6h0M317.7 64.6h0M313.6 69.5h0M319.7 59.7h0M301.7 68.7h0M302.9 68.4h0M312.8 71h0M304.6 66h0M308.1 70.4h0M318.2 58.7h0M310.4 64.5h0M317.6 66.3h0M311.8 72.4h0M318.2 65.3h0M313.6 64.4h0M309.6 71.8h0M316.6 63.4h0M309.3 64.4h0M314.2 60.6h0M311.7 64.4h0M319.1 63.6h0M314.2 70.2h0M314.5 72h0M310.3 71.5h0M322.2 56.2h0M306.9 71.4h0M309.5 61h0M307.1 68.5h0M305.8 62.2h0M310 60h0M313.5 63h0M306.3 69.8h0M309.8 68.5h0M301.3 66.7h0M308.6 63.2h0M325.2 55h0M309.5 62.5h0M316.1 63.5h0M321.3 64.1h0M308.5 70.7h0M325 59h0M307.1 63.4h0M320 64.7h0M317.2 66.1h0M321.4 54.5h0M321.8 60.9h0M305.8 62.2h0M302.1 65h0M307.5 61.8h0M301.3 66.1h0M315 69.7h0M323 62.2h0M305.5 64h0M315.3 67.2h0M311.4 61.9h0M309 72.2h0M315.7 61.9h0M313.3 62.7h0M321.4 56.6h0M308.4 61.9h0M309.8 65.4h0M308.8 60.9h0M302.9 65.2h0M317.2 64.8h0M309.4 69.4h0M302 66.3h0M311.5 64.3h0M308.7 72.4h0M323.1 56.8h0M314.2 58.9h0M303 70.5h0M322.5 62.9h0M327.2 57.6h0M313.1 62.6h0M313.4 68.6h0M306.8 67.3h0M320.4 65h0M304.7 62.1h0M314.7 67.5h0M318 58h0M306.9 67.5h0M311 61.5h0M313.3 58.6h0M309.2 65.3h0M317.6 67.7h0M318.8 60.1h0M309.4 62.2h0M308.9 58.9h0M327.3 57.4h0M322 61.6h0M312.1 66.9h0M303.4 66.6h0M321.3 56.1h0M324 59.9h0M315 59.5h0M316.6 61.6h0M314.6 61.6h0M321.6 58.1h0M312.3 68.3h0M310.3 66.1h0M312.7 64.7h0M313.6 65.7h0M322.4 58.6h0M320.8 59.1h0M314.6 70.6h0M314.3 70.1h0M325.9 54.2h0M321.1 56.3h0M324.2 55.3h0M316.2 67.2h0M323.8 62.1h0M310.8 74h0M314 67.6h0M319.3 60.9h0M314.9 60.1h0M313.3 58.1h0M312.4 68.8h0M313.2 63.6h0M316.6 56.3h0M317.6 60.6h0M307.7 70.4h0M306.1 61.2h0M301.5 64.9h0M315.1 57.7h0M310.1 73.7h0M322.8 65.1h0M322.4 54.3h0M303.1 66.3h0M305.7 61.9h0M319.8 64h0M320.7 55.9h0M315.3 64.9h0M312.2 66.4h0M322.9 58.1h0M304.2 68.3h0M307.9 72.4h0M324.1 62.8h0M317.5 63.7h0M299.8 64.3h0M324.3 63h0M309.1 61.2h0M309 63.9h0M310.6 59.8h0M325.1 58.8h0M305.2 64.2h0M319.7 64.6h0M315.5 57.7h0M304.4 67.7h0M317.5 56.9h0M322.3 61.7h0M320.1 64.4h0M309.9 65.8h0M323.4 60.4h0M325.5 58h0M318.5 55.5h0M311.8 71.4h0M325.6 60.8h0M318 66.2h0M311.5 61.6h0M311.3 58.5h0M315.4 70.8h0M320.2 64.9h0M308.7 59.5h0M313.6 58.9h0M318.8 58.9h0M310.5 59.9h0M316.2 58.5h0M312.9 69.8h0M325.5 58.7h0M319.4 56.1h0M326.6 56.9h0M306 60.8h0M314 57h0M301.1 63.3h0M326.8 53.1h0M307.9 69.7h0M322.3 61h0M309.2 67.9h0M316 69.6h0M301.1 66.9h0M316.4 60.6h0M326.6 58.9h0M309 64.1h0M308.8 64.6h0M311.7 67.6h0M314.8 68.9h0M301.9 64.3h0M308 67.2h0M328.3 58.9h0M305.8 70.5h0M327.1 56h0M324.1 56.3h0M304.3 64.1h0M315.4 58.7h0M318 56.4h0M310.2 62.6h0M327.5 57.2h0M307.4 66.5h0M320.4 63.4h0M314.2 61.1h0M304.6 62.6h0M317.4 61.4h0M307.1 67.2h0M317.5 59.9h0M309.7 61.7h0M305.8 62.6h0M324.9 60.8h0M307.9 69.7h0M307.1 70.6h0M307.8 64.7h0M305.7 63.7h0M309.2 65.9h0M310.8 57.4h0M326.5 56.9h0M309.7 70h0M315.5 56.7h0M315.5 68.5h0M315.7 70.2h0M312.6 70.2h0M326.2 55.1h0M324.7 60.6h0M321.5 61.5h0M313.4 68.6h0M305.4 60.8h0M320.4 58.9h0M312.7 59.9h0M308.6 67.5h0M307.3 65.8h0M320.5 60.8h0M314.1 62.7h0M309.2 60.1h0M304.8 69.3h0M325.7 56.8h0M313.2 58.4h0M317.2 65.6h0M314.7 59h0M323.1 55.8h0M320.1 59.3h0M304.4 65.5h0M308.5 65.5h0M326.5 59.8h0M306.4 64.3h0M301.6 64.6h0M320.7 59h0M312.6 60.8h0M313.9 59.4h0M303.9 68.5h0M325.4 58.1h0M318.3 62h0M321.1 67.6h0M324.8 56.9h0M312.6 59.1h0M320 57.6h0M326.3 57h0M322.2 61.3h0M323.7 64.4h0M315.9 66.5h0M307.5 67.3h0M320.2 59.1h0M309 64.7h0M316.9 68.4h0M311.9 72.3h0M297.9 65.6h0M309.8 60.6h0M322.9 58.4h0M313.3 60h0M315.3 67.9h0M305.6 62.8h0M324.1 59.4h0M320.5 63.3h0M307 68.7h0M316.7 59.3h0M313.5 61.6h0M313.5 70.1h0M308.7 65.9h0M313.3 65.3h0M319.9 64.5h0M310.2 67.6h0M325.1 57.8h0M313.4 59.9h0M307.4 65.3h0M302.7 64.5h0M312.9 71.1h0M318.6 65.1h0M305 65.5h0M320.4 56.2h0M306.9 64.7h0M319.9 58.7h0M323.9 60.4h0M300.2 64.8h0M317.9 60.6h0M326.5 57.5h0M312.8 65.6h0M325.3 57.4h0M315.3 59.6h0M315.3 62h0M328.5 56.5h0M323.5 62.5h0M321 59.4h0M310.9 64.4h0M313.3 63.7h0M325.9 53.8h0M315.1 63.6h0M309.6 66.1h0M320 62.7h0M311.8 66.3h0M318.7 66h0M305.4 61.6h0M323.4 63.8h0M308.7 68.8h0M307.6 67h0M322.5 64.4h0M324.6 58.6h0M310.2 61.7h0M301.7 68.1h0M306.1 64.9h0M312.7 63.3h0M316.7 63.1h0M319.9 55.2h0M311.1 70.4h0M323.2 55.4h0M323.5 53.6h0M306.4 61.2h0M318.1 64.4h0M307.2 63.5h0M310.8 63.5h0M309.4 59.5h0M325.5 55.7h0M314.9 66.6h0M320.7 54.3h0M320.8 64.9h0M310.9 58.4h0M317.6 57.6h0M313.7 66.2h0M303 64.9h0M320.1 64.2h0M324.5 63.8h0M306.5 69h0M315.8 68.5h0M300.4 63h0M309 69.9h0M327 58.2h0M319.4 59.4h0M314.2 72h0M322.3 56.6h0M315.9 55.9h0M315.5 69.9h0M307.4 60.9h0M323.7 57.7h0M319.2 60.4h0M319.2 55.8h0M305.5 67.6h0M316.3 62.9h0M308.2 61.7h0M304.4 69.1h0M313.1 59.1h0M306.3 61.3h0M308.9 63.3h0M319.4 55.6h0M322 58h0M311.3 60.6h0M311 60.4h0M322 65.4h0M317.9 60.6h0M314.5 64.4h0M317 63.3h0M307.6 62.8h0M313 70.8h0M322.6 63h0M308.8 68.8h0M316.6 68.5h0M320.8 55.9h0M319.8 56.9h0M309.7 66.9h0M321.3 58.2h0M314.9 71.2h0M319.8 66.1h0M311.3 58h0M321 65.2h0M327.6 53.2h0M313.8 64.5h0M326.4 55.2h0M321.1 63.8h0M316.5 66.7h0M315.2 67.6h0M318.6 65.6h0M317.5 64.9h0M322 61.6h0M318.7 56.1h0M315.8 61.2h0M325.4 58.7h0M299.5 64.8h0M304.5 71.1h0M317.9 70.6h0M323.4 57.1h0M306.6 64.2h0M319.2 58.5h0M309.8 67.7h0M313.3 67.8h0M325.8 61.4h0M312.7 71.9h0M306.5 69.8h0M313 61.4h0M313.9 64.3h0M301.1 68h0M324.6 62.3h0M305.1 69.8h0M317 57.8h0M305.2 65.8h0M316.7 71.4h0M320.3 64.9h0M303.4 65.6h0M306.9 68.9h0M305.6 59.8h0M316.4 70.4h0M327.2 54.7h0M314.2 59.6h0M314.4 63h0M312.5 64.8h0M310.5 66.5h0M304.6 69.8h0M309.4 64.2h0M311.1 70.1h0M329.4 58.1h0M319.9 64.9h0M322.5 55h0M318.7 65.4h0M310.4 68.3h0M307.5 62.5h0M300.3 66.3h0M307.6 73.4h0M310.1 65.2h0M318.9 55.9h0M309.4 67.2h0M308.4 63.6h0M321 58.2h0M312.6 71.9h0M307.9 67.6h0M312.9 69.5h0M313.1 56.5h0M323.7 59.7h0M316.7 65.3h0M303.3 66.2h0M315.6 56h0M300.8 68.3h0M321.4 63.9h0M324.2 62.1h0M305 64h0M317.2 58.6h0M320.2 60.5h0M319.4 64h0M325.7 55.7h0M300.3 65.3h0M306.4 67.6h0M317.1 61.6h0M323.9 55.8h0M316.6 59.3h0M323.5 57.9h0M315.6 62.3h0M318.1 57.7h0M315 64.4h0M310 64.3h0M308.8 63.7h0M327.7 55.4h0M300.7 66.6h0M326.4 59.5h0M313.9 70.3h0M320.2 61.8h0M318.1 63h0M303.9 68.7h0M312.2 64.2h0M308.7 67.4h0M322.8 62.2h0M313 73h0M321.8 55.1h0M316.5 64.8h0M302.2 69.5h0M309.1 66.1h0M314.8 70.9h0M324.9 55.9h0M311.4 63.5h0M309.1 63.5h0M309.4 70.8h0M319.4 60.8h0M313.8 68.2h0M315.9 58h0M310.1 63.1h0M307.6 71h0M309.9 60h0M313.5 58.5h0M317.2 65.8h0M318.8 64.6h0M303.2 66.7h0M307.6 71.8h0M320.1 63.2h0M317.2 68.5h0M319 61.5h0M316.1 60.2h0M316.3 61h0M310.6 69.6h0M321.5 54.8h0M306.7 63.5h0M304.8 65.2h0M306.4 71.6h0M304.4 66.5h0M313.8 69.3h0M319.7 63.1h0M311.7 71.9h0M287.4 57.4h0M287.5 56.8h0M287.4 56.1h0M287.2 55.8h0M286.9 56.7h0M287.7 56.4h0M286.6 56.9h0M288 56.2h0M287.3 56.8h0M287.1 56.3h0M287.7 56.6h0M286.2 57h0M287.7 56.8h0M286.7 56.9h0M289.2 58h0M288.3 56.9h0M289.5 57.7h0M291.5 58.2h0M290.9 58h0M289.1 57.1h0M319.5 47.8h0M319.3 47.9h0M319.8 48.1h0M318.9 48.4h0M319.1 47.9h0M319.5 47.8h0M318.9 48.5h0M319.6 48.3h0" stroke="#F8766D" stroke-width="0.9" stroke-linecap="round" fill="none" stroke-opacity="0.9"/>
<path d="M325.3 33.2h0M324.6 33.5h0M325 33.4h0M324.4 33.6h0M324.4 33.5h0M324.4 33.4h0M330.4 31.5h0M332.5 29.9h0M334.8 28.6h0M332.8 29.7h0M331.5 30.9h0M331.9 31.4h0M333.8 30.1h0M333.1 30.1h0M330.2 32.6h0M333.3 29.5h0M331.8 30.5h0M332.7 30.1h0M334.2 28.6h0M333.4 29.7h0M333.8 29.5h0M331.2 31.5h0M331.9 30.5h0M333.6 29.5h0M330.9 31.8h0M334.5 28.5h0M332.2 30.8h0M330.9 31.4h0M330.7 31.6h0M329.8 32.3h0M334.2 29.3h0M331.6 31.5h0M334.7 28.8h0M332.3 30.3h0M333.3 30h0M330.3 32.3h0M336.7 28.4h0M336.9 27.4h0M335 28.6h0M336.6 28.1h0M336.9 28.2h0M336.7 28.4h0M337.1 27.3h0M336.8 28.2h0M336.1 28.2h0M338.1 27.4h0M336.8 28.1h0M336.4 27.1h0M336.7 27.9h0M337.6 28.5h0M337 27.9h0M335.8 28.5h0M336.2 27.4h0M336.2 27.4h0M337.5 28.3h0M336.1 27.9h0M336.6 28.6h0M336.5 28.1h0M337.7 27.7h0M336 28.3h0M336 28.2h0M335.3 27.8h0M336.6 28.5h0M337.5 28.8h0M336.3 27.8h0M336.2 29.1h0M336 28.3h0M336 27.9h0M336.4 27.2h0M336.2 28h0M335.8 28.3h0M335.2 28.2h0M337.1 28.8h0M335.1 27.5h0M336.2 28.2h0M336.2 27.6h0M337.3 27.5h0M336.8 27.1h0M336.8 27.7h0M337.6 28.7h0M336.9 27.4h0M335.8 27.7h0M335.1 28.9h0M336.6 28.1h0M337.3 27.8h0M337.3 28.8h0" stroke="#E76BF3" stroke-width="0.9" stroke-linecap="round" fill="none"/>
<path d="M368.8 58.1h0M362.7 58.1h0M370.6 57.5h0M362.8 56h0M368.5 53.3h0M362.9 54.5h0M362.9 55.2h0M363.7 54.3h0M363 53.6h0M366.9 53.4h0M371 55.6h0M366.7 56.4h0M367.8 58.7h0M368.4 53.5h0M366.3 59.3h0M367.2 53.8h0M365.2 60.2h0M365.4 57.6h0M362.7 56h0M364.3 55.9h0M369.8 55.1h0M367 58.6h0M367.1 55.1h0M368.3 58.4h0M371.3 56.4h0M369.4 57.9h0M365.3 58.9h0M361 55.8h0M361.8 54.1h0M366 59.4h0M366.8 55.1h0M364.6 57.7h0M365.7 58.1h0M366.4 53.4h0M368.7 58h0M361.6 54.5h0M360.9 54.7h0M367.9 58.1h0M363.2 56.1h0M366.1 59.5h0M363.2 54.6h0M364.1 56.1h0M368.5 57.7h0M366.4 54.1h0M367.3 56.6h0M363.1 54.3h0M369.5 54.4h0M368.8 57.7h0M368.9 58.3h0M363.9 57.5h0M365.8 53.3h0M367.2 55.6h0M362.2 57h0M365.6 55.7h0M361 54.5h0M365 57.2h0M366.8 59.4h0M363.5 57h0M361.4 56h0M362.9 56.5h0M369.3 54.9h0M366.2 57.9h0M363.5 55.1h0M366.9 58.8h0M367.5 55.9h0M365.6 58.9h0M362.7 56.6h0M365.5 54.9h0M364.6 53.4h0M368.5 56h0M363 57.3h0M367.4 54.5h0M363.5 53.7h0M365.7 54.1h0M367.4 59h0M367.1 54.2h0M364 53.4h0M367.7 57.9h0M369.3 54.1h0M361.7 54.5h0M365.9 53.4h0M365.2 58.9h0M372 56.2h0M365 55.8h0M371.6 55.3h0M362 53.6h0M364.6 54.6h0M363.3 56.4h0M366.9 54.2h0M362.4 57.4h0M369.4 56h0M362.7 56.7h0M368.7 53.4h0M366.6 54.5h0M370.8 55.3h0M366.6 54.1h0M368.6 53.7h0M367.8 53.4h0M363.3 55.7h0M365.6 58.7h0M367.8 58.8h0M370.5 56.1h0M371.4 54.6h0M370.9 56.1h0M362.9 54.5h0M367 57.2h0M361.2 54.6h0M367.4 54.7h0M361.8 54.7h0M369.8 54.4h0M364.4 57.6h0M369.5 58.1h0M366.5 57.8h0M369.2 57.7h0M367.7 53.8h0M370.2 54.4h0M367.2 56.8h0M367.9 57.3h0M368.3 54.1h0M371.5 55.4h0M363.6 54.5h0M360.5 55.2h0M368.5 55h0M360.7 54.5h0M361.1 56.4h0M365.3 59.4h0M364.7 55.3h0M369 54.3h0M366.1 57.4h0M365 58.3h0M371.9 56.1h0M367.9 59.2h0M370 55.4h0M369.2 54h0M369.2 53.9h0M369.3 54.8h0M367.6 55.8h0M366.6 59.8h0M366 54.2h0M368.1 53.3h0M365 56.5h0M366.2 58.3h0M366.9 54.2h0M367.4 56.5h0M366.8 53.5h0M371.2 56.8h0M360.5 54.4h0M365.7 54.3h0M364 57.7h0M370.4 55.8h0M363.2 56.5h0M363.8 56.1h0M362.1 55.4h0M369 54.2h0M369.5 57.3h0M365.7 58.7h0M367.5 57.1h0M370.1 53.9h0M368.2 54.6h0M369.3 56.6h0M368.5 54.3h0M369.5 55.1h0M362.1 56h0M365.6 56.7h0M364.6 55.3h0M364.8 58.7h0M370 57h0M361.1 55.7h0M365.7 56.7h0M361.1 54.9h0M362.6 55.2h0M370.7 55.1h0M369.5 57h0M364.8 53h0M364.4 55.8h0M361.1 55.8h0M367.7 54.6h0M363.2 56h0M369.8 56.5h0M367.1 55.1h0M362.4 57h0M366.7 53.1h0M370.1 56.6h0M368.3 57.9h0M368.7 57.2h0M366.6 57.4h0M365.7 57.8h0M362.6 53.8h0M365.9 53.7h0M365.7 55h0M368.9 56h0M368.3 53.1h0M367 56.1h0M370.2 57.7h0M361.5 56h0M365.2 56.2h0M360.4 55.5h0M364.5 54.8h0M360.4 54.8h0M370.4 55.3h0M368.6 59.1h0M369.1 55.1h0M367.7 58.9h0M365.3 54.3h0M368.1 53.3h0M370.9 55h0M369.2 56.5h0M361.8 54.2h0M366.6 56.1h0M365.6 55.4h0M366.3 58.1h0M364 53h0M371.6 57.3h0M371 54.6h0M366.4 58.5h0M362.1 54.7h0M366 55.5h0M368.4 58.3h0M368.2 54.9h0M363.6 55.5h0M370.7 54.5h0M368.6 55.8h0M364.3 54.4h0M365.1 55.9h0M367.1 59h0M366.4 56.6h0M367.1 56.5h0M364.5 53.1h0M368.9 54.7h0M364.6 59.2h0M365.3 57.7h0M365.8 53.5h0M362.7 55.6h0M371.5 56.8h0M368 57.3h0M366.7 55.4h0M364.4 57.1h0M364.8 56.3h0M368.7 58.1h0M371.6 55h0M365 58.9h0M363.8 58.2h0M368.4 56.5h0M364.3 53h0M366.7 56.5h0M370.2 56.1h0M360.8 54.2h0M365.3 55h0M362.9 57.5h0M369.7 56.1h0M366.5 58h0M362.5 55.3h0M366.4 56.9h0M366 57.8h0M368.3 53.6h0M369.8 53.5h0M371.9 56h0M369.5 58.4h0M365.3 53.2h0M365.7 54.8h0M356.9 52.1h0M354.3 50.6h0M356.4 51.9h0M355.9 51.4h0" stroke="#A3A500" stroke-width="1" stroke-linecap="round" fill="none"/>
<path d="M360.9 84.9h0M368.3 84.2h0M368.9 83.3h0M363.6 85.8h0M361.2 84h0M367 85.1h0M371.5 84.3h0M366.1 82.4h0M361.9 84.2h0M365.2 84.6h0M361.1 84.4h0M369.6 82.5h0M366.7 85.5h0M367.7 85.7h0M370.8 83.7h0M364.8 85.7h0M369.1 84.7h0M364.3 84.5h0M365.9 85.6h0M366.6 84.1h0M362.5 84.2h0M367.7 82.3h0M362.6 84h0M368.2 82.5h0M369.1 84.6h0M365.7 86.6h0M362 84.5h0M362 85.2h0M365.6 81.8h0M365 83.1h0M367.6 83.6h0M363.5 85h0M371.4 85h0M367.8 84.7h0M365.1 84.7h0M366.6 85.2h0M361.8 84.7h0M366.8 82.3h0M370.4 83h0M364.4 82.5h0M369.6 83.9h0M365.8 84.8h0M370.5 85h0M368.2 86.1h0M364.7 85.3h0M365.7 86h0M365.7 84.3h0M366.9 86.2h0M364.3 82.7h0M361.7 84.8h0M360.5 84.8h0M367.6 85h0M364.2 84.7h0M366.2 82.8h0M366 85.5h0M360.3 84.4h0M368.8 85.1h0M363 84.2h0M368.2 83.8h0M363.1 85.8h0M361 85.1h0M363.3 84.1h0M366.3 85.6h0M368.9 83.4h0M368.5 85.8h0M365.5 82h0M367.2 85.3h0M369.3 84.9h0M363.7 86.4h0M362.9 83.9h0M359.6 85.4h0M364.9 84.8h0M366.5 81.8h0M361.9 83.6h0M359.2 84.3h0M366.7 84.4h0M368 82.8h0M364.9 85.8h0M364.9 83.3h0M364.7 84.1h0M364.5 85.9h0M361.5 86h0M371.1 84.5h0M364.7 83.4h0M363.6 86.3h0M362.9 86.3h0M362.7 85.6h0M362.5 85.2h0M366.2 83.3h0M369.4 82.2h0M367.4 83.5h0M365.9 86.5h0M363.2 84.4h0M366.2 85.6h0M368.6 85h0M370.9 86.4h0M366.5 82.3h0M366.8 84.5h0M366.5 84.7h0M364.2 85.8h0M370.5 84.4h0M368.9 83h0M366.5 85.1h0M361.8 85.2h0M366.8 85.8h0M365.5 85.6h0M366 86.2h0M363.2 82.2h0M363.1 84h0M361.1 84.4h0M364.7 85.2h0M368.3 84.7h0M363.1 85.1h0M366.6 82.3h0M368.9 84.3h0M364.3 85.2h0M361.8 84.5h0M364.9 82.8h0M366.6 82.9h0M363.7 85.8h0M370.8 84.3h0M370.8 84.6h0M360.3 85.3h0M368.8 85.5h0M365.9 85.3h0M364.4 81.6h0M365.3 84.6h0M368.1 84.2h0M362.7 83.1h0M360.6 84.5h0M366.9 84.3h0M366.7 84.4h0M364.9 87h0M367 86h0M367.6 84.9h0M367 84h0M370.4 85.8h0M360.9 83.9h0M362.8 82.5h0M364.5 83h0M370.2 83.5h0M364.8 86.3h0M368 83.2h0M362.2 84h0M368.3 82.1h0M367.1 83.8h0M362.4 85.5h0M365.3 86.1h0M363.5 83.4h0M364.4 82.5h0M366.2 86.1h0M366.6 85h0M364.4 84.7h0M366.7 82.7h0M365.8 82.9h0M370.3 83.1h0M370.4 82.8h0M368 86.5h0M366.1 83.4h0M368.3 84.1h0M366.7 81.9h0M365.8 83.3h0M366.1 81.6h0M368.6 83.7h0M362.5 84.2h0M363.3 84.6h0M369.3 83.1h0M364.7 82.8h0M366.8 84.2h0M370.7 85.2h0M367.4 83.7h0M371.2 84.6h0M364.8 82h0M364.6 83.5h0M363.7 82.9h0M365.9 86.2h0M360.5 85h0M358.8 85.3h0M364.7 86.4h0M370.9 83.2h0M361.9 85h0M368 82h0M369.8 85.6h0M363 86.2h0M365.8 81.7h0M371.4 83.8h0M369.7 83h0M362.8 84.3h0M367.9 85.9h0M364.2 84.9h0M368.3 82.4h0M363.6 85.6h0M365.2 85h0M365.5 82.9h0M360.9 85.5h0M366.1 82.8h0M368.3 85.8h0M359.4 86h0M366.9 86h0M371.4 85.5h0M365.6 84.8h0M359 85.8h0M363 85.3h0M360.3 85.2h0M365.9 83.6h0M364.7 82.1h0M359 85.7h0M368.7 82.9h0M370 85.7h0M361.9 83.7h0M370.7 85.2h0M368.5 85.8h0M364.9 83.7h0M366.6 85.5h0M362 83.9h0M366.4 81.8h0M368.9 85.3h0M369.5 86h0M366.1 83.7h0M367.3 82.8h0M371.1 84.7h0M368.3 86.1h0M365.1 86.6h0M364.5 85.3h0M359.5 85.5h0M366.7 85.4h0M362.7 84.7h0M371.7 83.4h0M367.8 82.3h0M364.3 85.4h0M364.9 80.4h0M364.7 80.3h0M364.5 80.4h0M365.3 80.1h0M364.7 80.6h0M365.2 81.3h0M365.3 80.5h0M365.2 81.1h0" stroke="#00BF7D" stroke-width="1" stroke-linecap="round" fill="none"/>
<path d="M327.6 92.5h0M332.1 92.2h0M332.3 92.6h0M329.6 92.8h0M327.7 91.5h0M329.9 92.4h0M327.6 92.1h0M325.1 92.7h0M328.4 92.4h0M329.8 92.2h0M331.3 92.9h0M331.9 93.5h0M326.4 91h0M330 92.4h0M325.1 91.6h0M326.2 91.6h0M329.4 92.8h0M326.6 92h0M328 92.4h0M328.7 92.5h0M326.7 92h0M329.2 92.7h0M325.5 92.2h0M328 92.8h0M328 92.6h0M329.8 92.8h0M328.8 92.6h0M324.6 91.9h0M331.2 93.2h0M329.1 92.1h0M331.3 92.3h0M329.6 92.8h0M331.9 92.3h0M328.9 91.9h0M326.4 92.6h0M327.1 91.2h0M328 92h0M329.9 92.3h0M331.9 91.1h0M328 91.6h0M328.7 92.4h0M331.2 92.3h0M331.6 92.3h0M329.4 92.6h0M330.5 92.1h0M327.6 91.3h0M332.4 92.6h0M326.4 91.9h0M326.7 92.6h0M326.9 92.9h0M326.1 91.9h0M331.6 92.4h0M330.2 92.3h0M330 92.9h0M326.9 91.8h0M327.9 93.3h0M328.4 91.5h0M329.2 92.3h0M326.3 92h0M329.1 91.7h0M329.6 92.4h0M329.2 91.6h0M330.9 93.1h0M331.4 92.4h0M332.2 93h0M326.6 92.8h0M330.7 92.6h0M325.9 91.7h0M326.8 92.4h0M325.8 92.8h0M328.1 91.7h0M325.5 92.2h0M324.5 91.4h0M326.5 92.4h0M330.3 92.7h0M329.7 92.3h0M330.6 92.2h0M329.3 92.7h0M330.5 92.5h0M328.6 92.5h0M329.6 92.9h0M326.8 91h0M328.9 92h0M331.3 92h0M327 91.6h0M327.3 91.9h0M329.4 92.3h0M325 92.1h0M325.2 92.2h0M328 92.4h0M337.5 94h0M336 93.3h0M335.3 92.4h0M334 94.3h0M335.5 90.6h0M335.6 91.5h0M337 93.8h0M334.7 92.6h0M333.2 93.6h0M337.4 92h0M337.7 92.9h0M333 93.6h0M339.3 93h0M337.1 92h0M336.1 93.5h0M335.1 94.4h0M337.1 93.9h0M338.4 92.2h0M334.4 92.2h0M334.7 92.4h0M337.2 92.2h0M336.5 91.4h0M336.4 93.3h0M338.5 91.8h0M338.1 93.9h0M335.2 91.1h0M334.8 91.6h0M334.1 93.6h0M337.7 92.1h0M338.6 93.8h0M335.1 92.5h0M335.3 92.4h0M336.1 94.3h0M336 93.7h0M337.4 91.1h0M335.5 93.4h0M337.8 94.3h0M337.1 93.5h0M337.7 93.7h0M339.1 92.7h0M334.8 94h0M333.8 93h0M335.8 91.9h0M334.1 92.5h0M334.1 92.4h0M337.4 92.3h0M336.4 91.5h0M338.9 93.1h0M337.1 93.2h0M337.1 93h0M335.8 93.6h0M337.2 92.4h0M337.8 93.2h0M337.7 92.4h0M337.6 93.8h0M335.9 93.2h0M337.7 92h0M337.7 92h0M336.3 93.2h0M336.4 92.7h0M337 92.6h0M335.9 92.7h0M338.8 94.3h0M340.4 91.4h0M334.6 92.4h0M338.5 93.2h0M337.2 93.9h0M336.1 93.8h0M336.8 92.8h0M336.4 93.3h0M337.9 92.9h0M336.1 92.6h0M336.1 91.5h0M337.7 92.5h0M336.6 91.4h0M336.1 92.2h0M332.9 90.5h0M338.7 91h0M335.2 94h0M335.3 92.4h0M338.1 93.1h0M335.7 93.6h0M335.1 92.3h0M338.3 92.7h0M336 93h0M336.1 92.4h0M334.8 94.3h0M333.9 93.5h0M336.2 94.8h0M338.1 92.4h0M337.6 93.2h0M338.6 92.2h0M336.9 93.4h0M334.8 93h0M338.7 91.1h0M338.3 94.5h0M339 93.6h0M338.9 93.6h0M335 93h0M334.9 94.4h0M338.6 93.4h0M338.3 93.6h0M334.9 92.9h0M337.1 92.6h0M335.5 94.3h0M337.2 93.6h0M337.7 91.3h0M335.4 92.7h0M337 92.5h0M336.2 94.3h0M335.3 93.8h0M335.4 91.8h0M337.6 93.5h0M335.2 91.9h0M337 94.3h0M335.4 92.8h0M338.2 93.7h0M334.4 94.5h0M339.9 90.3h0M339.9 94.6h0M338.6 92.4h0M336.5 95.4h0M336.5 93.9h0M336.8 94h0M336 92.5h0M334 92.2h0M336.1 93.4h0M335 93h0M336.7 92.3h0M336.6 92.4h0M338.5 93.8h0M333.6 93.7h0M334.9 93.3h0M335.1 95.2h0M337.3 92h0M334.2 92.5h0M337.2 93.8h0M337 92.5h0M335.8 91.5h0M335.9 92.8h0M337.4 92.9h0M333.9 93h0M337.1 91.8h0M333.9 92.7h0M337.8 94.3h0M336.2 92.4h0M336.5 92.5h0M335.1 93.7h0M337.6 94.5h0M336.7 91.9h0M336.4 92.2h0M337.1 92.1h0M336.2 92.3h0M338 93.9h0M336.5 92.7h0M335.5 93.5h0M336 92.1h0M336.4 93.5h0M335.9 92.8h0M337.4 92.7h0M334.8 94h0M338.9 91.2h0M337.7 92.7h0M337.7 93.4h0M338.3 92h0M336.2 93.2h0M337.3 93.4h0M335.7 94.3h0M333.1 92.8h0M335.6 92.4h0M335.7 93.5h0M336.1 92.8h0M336.8 92.7h0M339.5 91h0M338.5 92.4h0M334.7 92.5h0M336.7 93.2h0M337.8 92.4h0M335.5 91.2h0M336.2 93.4h0M334.3 93.5h0M334.4 93.1h0M339.1 93.4h0M336.9 90.9h0M338.2 92.2h0M336.7 93.8h0M334.5 93.2h0M337.4 93.2h0M337.5 92.2h0M336.5 91h0M337.2 93.2h0M335.1 93.1h0M334.8 91.1h0M337.1 92.3h0M334.7 92.1h0M340.1 90.9h0M338.7 92.3h0M338.1 93.7h0M334.1 92h0M338.1 90.9h0M336.3 93.1h0M336.3 93.4h0M337.4 92.6h0M337.5 91.2h0M337.5 92.1h0M336.1 92.4h0M338.8 91.1h0M340.2 92.5h0M337.3 93.3h0M336.6 91.5h0M335.4 93.6h0M336.2 95.1h0M338.6 92h0M337.9 93.6h0M338.6 93.5h0M335.3 92.7h0M335.7 93.2h0M338.4 93.1h0M336.8 93.8h0M338.7 91.4h0M341.1 90.4h0M342.8 88.8h0M344.4 89.2h0M343.6 87.4h0M341.2 89.8h0M343.1 90.1h0M342.1 89.4h0M343.1 88.7h0M344.8 88.4h0M338 91.9h0M339 92.1h0M338.9 91.5h0M338.3 91.7h0M339.4 91.2h0M343.7 89h0M339.6 91.1h0M338.4 91.6h0M338.7 92.2h0M343.3 88.1h0M342 88.7h0M345 87.6h0M340.2 90.1h0M343.7 88.4h0M340.6 90.7h0M345.8 87.6h0M337.2 93.4h0M336.9 93h0M338.4 91.5h0M338.9 91.6h0M339.9 89.8h0M342.5 88.6h0M342.2 89.1h0M340.8 90.8h0M341.4 89h0M338.9 91.7h0M340 92.3h0M345 87.5h0M342.6 88.6h0M341.4 89.6h0M342.9 88.2h0M343.3 88.7h0M342.7 89.3h0M344 88.4h0M338.7 90.6h0M345.4 87.7h0M344.3 88.1h0M339.2 91h0M340.2 91.4h0M343.9 87.7h0M339.6 90.6h0M344.9 88.3h0M344.5 88.3h0M344 90.8h0M343.4 88.9h0M337.3 90.5h0M342.2 89.4h0M346.1 88.4h0M343.4 88.6h0M337.3 92.4h0M337.7 91.5h0M338.7 91.9h0M341.5 89.5h0M340.1 91.1h0M339.9 89.6h0M341.2 91.5h0M343.6 88.8h0M341.3 90.1h0M339.4 92.6h0M339.2 91.8h0M344.8 87.3h0M340.2 90.4h0M338.5 92.7h0M342.4 89.7h0M345.3 88.5h0M339.1 92.3h0M339.9 90.7h0M340.6 90h0M344.2 88.4h0M344.4 88.8h0M338.4 92.6h0M341.5 89.4h0M342.6 88.9h0M344.6 87.5h0M340.9 89.9h0M340.2 91.4h0M344.6 88.7h0M342.7 89.5h0M339.1 91.5h0M338.6 91.3h0M343.4 89.5h0M340.8 91h0M343.5 88.6h0M339.9 91.8h0M343.3 89.5h0M340.8 90.1h0M337.7 92.4h0M340.5 90.6h0M340.5 90.4h0M339.5 91h0M338.2 91.7h0M339.3 91.7h0M339.3 91.7h0M339.8 91.4h0M341.3 90.9h0M338.1 92.4h0M345.5 87.4h0M342.2 90h0M340.3 91.5h0M342.6 89.7h0M340.1 93.3h0M339.7 90.6h0M344 87.6h0M340.3 90.2h0M345.2 88.5h0M343.5 88.5h0M343.3 89.6h0M345.4 88.2h0M343.4 89.5h0M344.2 88.6h0M342.2 89.9h0M346.7 87.7h0M345.8 87.4h0M346.9 87.1h0M346.7 87.3h0M346.2 87.5h0M349.7 86.2h0M346.7 87.3h0M349 87.4h0M347 87.3h0M346.7 87h0M349.8 87.1h0M350.2 86.5h0M348.7 87.2h0M349.8 86.7h0M347.9 87.1h0M348.9 86.8h0M346.3 87.2h0M350.3 86.4h0M349.1 86.8h0M346.9 87h0M349.5 86.6h0M349.2 85.9h0M345.5 87.2h0M349.1 87.1h0M346.6 87.2h0M346 87h0M349.5 87.4h0M345.9 87h0M347.9 86.9h0M349.5 85.8h0M344.5 85.5h0M343.7 83.9h0M344.3 86.8h0M344.7 85.7h0M344 86.3h0M344.7 86.9h0M343.8 85.2h0M343.5 83.3h0M344.3 86.6h0M343.3 83.2h0M344.6 86.6h0M344.6 84.2h0M343.8 82.7h0M343.4 83.2h0M343.7 84.9h0M344.5 85.6h0M343.1 84h0M343.6 83.1h0M344.1 84.7h0M343.9 83.3h0M344.1 85.7h0M342.9 82.7h0M343.9 82.7h0M344.1 85h0M343.3 83.3h0M344.5 83.8h0M344.1 84.9h0M344 84.9h0M343.3 82.8h0M344.2 83.8h0M342.8 82.1h0M343.7 82.9h0M343 82.8h0M343.7 81.7h0M343.1 81.7h0M344.1 82.3h0M343.1 82.2h0M343.8 84h0M343.2 82h0M343.1 82.2h0M342.3 83.1h0M343.1 81.8h0" stroke="#00B0F6" stroke-width="1" stroke-linecap="round" fill="none"/>
<circle cx="285.6" cy="21.6" r="1.6" fill="#F8766D"/>
<text transform="translate(289.2 23.75)" font-size="6.4" fill="#262626" textLength="15.3" lengthAdjust="spacingAndGlyphs">B cell</text>
<circle cx="285.6" cy="27.8" r="1.6" fill="#b7a000"/>
<text transform="translate(289.2 29.95)" font-size="6.4" fill="#262626" textLength="28.3" lengthAdjust="spacingAndGlyphs">Monocyte</text>
<circle cx="285.6" cy="34" r="1.6" fill="#00BF7D"/>
<text transform="translate(289.2 36.15)" font-size="6.4" fill="#262626" textLength="8.4" lengthAdjust="spacingAndGlyphs">NK</text>
<circle cx="285.6" cy="40.2" r="1.6" fill="#00B0F6"/>
<text transform="translate(289.2 42.35)" font-size="6.4" fill="#262626" textLength="15" lengthAdjust="spacingAndGlyphs">T cell</text>
<circle cx="285.6" cy="46.4" r="1.6" fill="#E76BF3"/>
<text transform="translate(289.2 48.55)" font-size="6.4" fill="#262626" textLength="35.4" lengthAdjust="spacingAndGlyphs">Macrophage</text>
<text transform="translate(7 15.4) scale(1.1 1)" font-size="10.2" font-weight="bold" fill="#000" stroke="#000" stroke-width="0.3">A</text>
<text transform="translate(132 15.4) scale(1.1 1)" font-size="10.2" font-weight="bold" fill="#000" stroke="#000" stroke-width="0.3">B</text>
<text transform="translate(256.6 15.4) scale(1.1 1)" font-size="10.2" font-weight="bold" fill="#000" stroke="#000" stroke-width="0.3">C</text>
<text transform="translate(384.6 15.4) scale(1.1 1)" font-size="10.2" font-weight="bold" fill="#000" stroke="#000" stroke-width="0.3">D</text>
<rect x="424.2" y="95.03" width="8.8" height="2.57" fill="#1a4c86"/>
<rect x="424.2" y="90.29" width="8.8" height="4.94" fill="#c8102e"/>
<rect x="424.2" y="86.34" width="8.8" height="4.15" fill="#f8951d"/>
<rect x="424.2" y="78.44" width="8.8" height="8.1" fill="#3cb54a"/>
<rect x="424.2" y="18.4" width="8.8" height="60.24" fill="#5a2878"/>
<line x1="428.4" y1="97.4" x2="428.4" y2="100.6" stroke="#000" stroke-width="0.9"/>
<rect x="436.2" y="96.45" width="8.6" height="1.15" fill="#1a4c86"/>
<rect x="436.2" y="90.29" width="8.6" height="6.36" fill="#c8102e"/>
<rect x="436.2" y="86.34" width="8.6" height="4.15" fill="#f8951d"/>
<rect x="436.2" y="76.47" width="8.6" height="10.07" fill="#3cb54a"/>
<rect x="436.2" y="18.4" width="8.6" height="58.27" fill="#5a2878"/>
<line x1="440.3" y1="97.4" x2="440.3" y2="100.6" stroke="#000" stroke-width="0.9"/>
<rect x="448.1" y="94.64" width="8.6" height="2.97" fill="#1a4c86"/>
<rect x="448.1" y="91.24" width="8.6" height="3.6" fill="#c8102e"/>
<rect x="448.1" y="86.34" width="8.6" height="5.1" fill="#f8951d"/>
<rect x="448.1" y="79.78" width="8.6" height="6.76" fill="#3cb54a"/>
<rect x="448.1" y="18.4" width="8.6" height="61.58" fill="#5a2878"/>
<line x1="452.2" y1="97.4" x2="452.2" y2="100.6" stroke="#000" stroke-width="0.9"/>
<rect x="460" y="94" width="8.6" height="3.6" fill="#1a4c86"/>
<rect x="460" y="83.58" width="8.6" height="10.63" fill="#c8102e"/>
<rect x="460" y="78.44" width="8.6" height="5.34" fill="#f8951d"/>
<rect x="460" y="70.94" width="8.6" height="7.7" fill="#3cb54a"/>
<rect x="460" y="18.4" width="8.6" height="52.73" fill="#5a2878"/>
<line x1="464.1" y1="97.4" x2="464.1" y2="100.6" stroke="#000" stroke-width="0.9"/>
<line x1="421.5" y1="14.2" x2="421.5" y2="98" stroke="#000" stroke-width="1.1"/>
<line x1="418" y1="97.45" x2="471.4" y2="97.45" stroke="#000" stroke-width="1.2"/>
<line x1="418" y1="77.59" x2="421.5" y2="77.59" stroke="#000" stroke-width="0.85"/>
<line x1="418" y1="57.78" x2="421.5" y2="57.78" stroke="#000" stroke-width="0.85"/>
<line x1="418" y1="37.96" x2="421.5" y2="37.96" stroke="#000" stroke-width="0.85"/>
<line x1="418" y1="18.15" x2="421.5" y2="18.15" stroke="#000" stroke-width="0.85"/>
<text transform="translate(416.3 99.95) scale(0.95 1)" font-size="7.6" text-anchor="end" stroke="#111" stroke-width="0.14">0</text>
<text transform="translate(416.3 80.14) scale(0.95 1)" font-size="7.6" text-anchor="end" stroke="#111" stroke-width="0.14">25</text>
<text transform="translate(416.3 60.33) scale(0.95 1)" font-size="7.6" text-anchor="end" stroke="#111" stroke-width="0.14">50</text>
<text transform="translate(416.3 40.51) scale(0.95 1)" font-size="7.6" text-anchor="end" stroke="#111" stroke-width="0.14">75</text>
<text transform="translate(416.3 20.7) scale(0.95 1)" font-size="7.6" text-anchor="end" stroke="#111" stroke-width="0.14">100</text>
<text transform="translate(430.4 107) rotate(-45)" font-size="7.3" text-anchor="end" stroke="#111" stroke-width="0.14">Cured 1</text>
<text transform="translate(442.3 107) rotate(-45)" font-size="7.3" text-anchor="end" stroke="#111" stroke-width="0.14">Cured 2</text>
<text transform="translate(454.2 107) rotate(-45)" font-size="7.3" text-anchor="end" stroke="#111" stroke-width="0.14">Relapsed 1</text>
<text transform="translate(466.1 107) rotate(-45)" font-size="7.3" text-anchor="end" stroke="#111" stroke-width="0.14">Relapsed 2</text>
<rect x="471.5" y="18.9" width="4.9" height="4.8" fill="#5a2878"/>
<text transform="translate(478.1 23.6)" font-size="6.4" fill="#2e2e2e">B</text>
<rect x="471.5" y="26.9" width="4.9" height="4.8" fill="#3cb54a"/>
<text transform="translate(478.1 31.6)" font-size="6.4" fill="#2e2e2e">T</text>
<rect x="471.5" y="35" width="4.9" height="4.8" fill="#f8951d"/>
<text transform="translate(478.1 39.7)" font-size="6.4" fill="#2e2e2e">NK</text>
<rect x="471.5" y="42.8" width="4.9" height="4.8" fill="#c8102e"/>
<text transform="translate(478.1 47.5)" font-size="6.4" fill="#2e2e2e">Monocyte</text>
<rect x="471.5" y="50.6" width="4.9" height="4.8" fill="#1a4c86"/>
<text transform="translate(478.1 55.3)" font-size="6.4" fill="#2e2e2e">Macrophage</text>
<text transform="translate(391 58.1) rotate(-90)" font-size="8.2" text-anchor="middle" textLength="47.3" lengthAdjust="spacingAndGlyphs" stroke="#111" stroke-width="0.1">Composition of</text>
<text transform="translate(401.5 57.6) rotate(-90)" font-size="8.2" text-anchor="middle" textLength="68.7" lengthAdjust="spacingAndGlyphs" stroke="#111" stroke-width="0.1">immune cell types (%)</text>
<text transform="translate(6.9 152.7) scale(1.1 1)" font-size="10.2" font-weight="bold" fill="#000" stroke="#000" stroke-width="0.3">E</text>
<text transform="translate(111.3 152.7) scale(1.1 1)" font-size="10.2" font-weight="bold" fill="#000" stroke="#000" stroke-width="0.3">F</text>
<text transform="translate(211.4 152.9) scale(1.1 1)" font-size="10.2" font-weight="bold" fill="#000" stroke="#000" stroke-width="0.3">G</text>
<line x1="47.1" y1="189.4" x2="47.1" y2="272.5" stroke="#000" stroke-width="1.15"/>
<line x1="43.5" y1="271.8" x2="101" y2="271.8" stroke="#000" stroke-width="1.3"/>
<line x1="43.3" y1="193" x2="46.9" y2="193" stroke="#000" stroke-width="0.85"/>
<text transform="translate(41.3 195.8)" font-size="8" text-anchor="end" stroke="#111" stroke-width="0.14">20</text>
<line x1="43.3" y1="212.9" x2="46.9" y2="212.9" stroke="#000" stroke-width="0.85"/>
<text transform="translate(41.3 215.7)" font-size="8" text-anchor="end" stroke="#111" stroke-width="0.14">15</text>
<line x1="43.3" y1="232.6" x2="46.9" y2="232.6" stroke="#000" stroke-width="0.85"/>
<text transform="translate(41.3 235.4)" font-size="8" text-anchor="end" stroke="#111" stroke-width="0.14">10</text>
<line x1="43.3" y1="252.3" x2="46.9" y2="252.3" stroke="#000" stroke-width="0.85"/>
<text transform="translate(41.3 255.1)" font-size="8" text-anchor="end" stroke="#111" stroke-width="0.14">5</text>
<line x1="43.3" y1="272" x2="46.9" y2="272" stroke="#000" stroke-width="0.85"/>
<text transform="translate(41.3 274.8)" font-size="8" text-anchor="end" stroke="#111" stroke-width="0.14">0</text>
<line x1="60.5" y1="272" x2="60.5" y2="274.8" stroke="#000" stroke-width="0.8"/>
<text transform="translate(62.8 281.3) rotate(-45)" font-size="7.35" text-anchor="end" stroke="#111" stroke-width="0.14">Cured</text>
<line x1="87.5" y1="272" x2="87.5" y2="274.8" stroke="#000" stroke-width="0.8"/>
<text transform="translate(89.8 281.3) rotate(-45)" font-size="7.35" text-anchor="end" stroke="#111" stroke-width="0.14">Relapsed</text>
<circle cx="60.6" cy="208" r="1.85" fill="#1f5a96"/>
<circle cx="60.6" cy="217.7" r="1.85" fill="#1f5a96"/>
<circle cx="57.5" cy="224.8" r="1.85" fill="#1f5a96"/>
<circle cx="64" cy="222.4" r="1.85" fill="#1f5a96"/>
<circle cx="64" cy="226.4" r="1.85" fill="#1f5a96"/>
<circle cx="60.6" cy="235.3" r="1.85" fill="#1f5a96"/>
<rect x="86.05" y="221.05" width="3.5" height="3.5" fill="#c8102e"/>
<rect x="86.05" y="225.75" width="3.5" height="3.5" fill="#c8102e"/>
<rect x="78.65" y="239.05" width="3.5" height="3.5" fill="#c8102e"/>
<rect x="86.05" y="236.55" width="3.5" height="3.5" fill="#c8102e"/>
<rect x="93.85" y="233.45" width="3.5" height="3.5" fill="#c8102e"/>
<rect x="93.75" y="238.15" width="3.5" height="3.5" fill="#c8102e"/>
<line x1="51" y1="222.4" x2="70" y2="222.4" stroke="#0a0a0a" stroke-width="1.15"/>
<line x1="60.4" y1="218" x2="60.4" y2="226.8" stroke="#1a1a1a" stroke-width="0.9"/>
<line x1="56.4" y1="218" x2="64.4" y2="218" stroke="#1a1a1a" stroke-width="0.9"/>
<line x1="56.4" y1="226.8" x2="64.4" y2="226.8" stroke="#1a1a1a" stroke-width="0.9"/>
<line x1="78.3" y1="233.6" x2="96.8" y2="233.6" stroke="#0a0a0a" stroke-width="1.15"/>
<line x1="88" y1="230.7" x2="88" y2="236.5" stroke="#1a1a1a" stroke-width="0.9"/>
<line x1="84" y1="230.7" x2="92" y2="230.7" stroke="#1a1a1a" stroke-width="0.9"/>
<line x1="84" y1="236.5" x2="92" y2="236.5" stroke="#1a1a1a" stroke-width="0.9"/>
<path d="M60.3 198.4V195.4H87.5V198.4" fill="none" stroke="#222" stroke-width="1"/>
<text transform="translate(74.2 192.8)" font-size="7.5" text-anchor="middle" textLength="31.2" lengthAdjust="spacingAndGlyphs" stroke="#111" stroke-width="0.08">p = 0.035</text>
<text transform="translate(15.6 232.6) rotate(-90)" font-size="9.8" text-anchor="middle" textLength="94" lengthAdjust="spacingAndGlyphs" stroke="#111" stroke-width="0.15">CD3 T cells in GFP-peripheral</text>
<text transform="translate(26.4 232.6) rotate(-90)" font-size="9.8" text-anchor="middle" textLength="69" lengthAdjust="spacingAndGlyphs" stroke="#111" stroke-width="0.15">blood leukocytes (%)</text>
<line x1="146.4" y1="188.1" x2="146.4" y2="271.3" stroke="#000" stroke-width="1.15"/>
<line x1="142.8" y1="270.6" x2="199.7" y2="270.6" stroke="#000" stroke-width="1.3"/>
<line x1="142.6" y1="191.8" x2="146.2" y2="191.8" stroke="#000" stroke-width="0.85"/>
<text transform="translate(140.6 194.6)" font-size="8" text-anchor="end" stroke="#111" stroke-width="0.14">6</text>
<line x1="142.6" y1="218.3" x2="146.2" y2="218.3" stroke="#000" stroke-width="0.85"/>
<text transform="translate(140.6 221.1)" font-size="8" text-anchor="end" stroke="#111" stroke-width="0.14">4</text>
<line x1="142.6" y1="244.6" x2="146.2" y2="244.6" stroke="#000" stroke-width="0.85"/>
<text transform="translate(140.6 247.4)" font-size="8" text-anchor="end" stroke="#111" stroke-width="0.14">2</text>
<line x1="142.6" y1="270.8" x2="146.2" y2="270.8" stroke="#000" stroke-width="0.85"/>
<text transform="translate(140.6 273.6)" font-size="8" text-anchor="end" stroke="#111" stroke-width="0.14">0</text>
<line x1="159.6" y1="270.8" x2="159.6" y2="273.6" stroke="#000" stroke-width="0.8"/>
<text transform="translate(161.9 280.1) rotate(-45)" font-size="7.35" text-anchor="end" stroke="#111" stroke-width="0.14">Cured</text>
<line x1="186.3" y1="270.8" x2="186.3" y2="273.6" stroke="#000" stroke-width="0.8"/>
<text transform="translate(188.6 280.1) rotate(-45)" font-size="7.35" text-anchor="end" stroke="#111" stroke-width="0.14">Relapsed</text>
<circle cx="159.8" cy="199.8" r="1.85" fill="#1f5a96"/>
<circle cx="156.4" cy="206" r="1.85" fill="#1f5a96"/>
<circle cx="156.4" cy="209.4" r="1.85" fill="#1f5a96"/>
<circle cx="162.9" cy="208.5" r="1.85" fill="#1f5a96"/>
<circle cx="156.4" cy="222.1" r="1.85" fill="#1f5a96"/>
<circle cx="162.9" cy="219.3" r="1.85" fill="#1f5a96"/>
<rect x="184.95" y="215.75" width="3.5" height="3.5" fill="#c8102e"/>
<rect x="181.55" y="223.15" width="3.5" height="3.5" fill="#c8102e"/>
<rect x="188.15" y="223.65" width="3.5" height="3.5" fill="#c8102e"/>
<rect x="184.95" y="233.75" width="3.5" height="3.5" fill="#c8102e"/>
<rect x="181.55" y="238.15" width="3.5" height="3.5" fill="#c8102e"/>
<rect x="188.35" y="237.45" width="3.5" height="3.5" fill="#c8102e"/>
<line x1="149.9" y1="211" x2="168.8" y2="211" stroke="#0a0a0a" stroke-width="1.15"/>
<line x1="159.6" y1="208.1" x2="159.6" y2="214.2" stroke="#1a1a1a" stroke-width="0.9"/>
<line x1="155.5" y1="208.1" x2="163.7" y2="208.1" stroke="#1a1a1a" stroke-width="0.9"/>
<line x1="155.5" y1="214.2" x2="163.7" y2="214.2" stroke="#1a1a1a" stroke-width="0.9"/>
<line x1="177.3" y1="230" x2="196" y2="230" stroke="#0a0a0a" stroke-width="1.15"/>
<line x1="186.7" y1="226.3" x2="186.7" y2="233.6" stroke="#1a1a1a" stroke-width="0.9"/>
<line x1="182.7" y1="226.3" x2="190.7" y2="226.3" stroke="#1a1a1a" stroke-width="0.9"/>
<line x1="182.7" y1="233.6" x2="190.7" y2="233.6" stroke="#1a1a1a" stroke-width="0.9"/>
<path d="M159.6 197.4V194.2H186.8V197.4" fill="none" stroke="#222" stroke-width="1"/>
<text transform="translate(173 191.2)" font-size="7.5" text-anchor="middle" textLength="31.2" lengthAdjust="spacingAndGlyphs" stroke="#111" stroke-width="0.08">p = 0.004</text>
<text transform="translate(117.4 232.4) rotate(-90)" font-size="9.8" text-anchor="middle" textLength="94" lengthAdjust="spacingAndGlyphs" stroke="#111" stroke-width="0.15">CD4 T cells in GFP-peripheral</text>
<text transform="translate(128.3 232.4) rotate(-90)" font-size="9.8" text-anchor="middle" textLength="69" lengthAdjust="spacingAndGlyphs" stroke="#111" stroke-width="0.15">blood leukocytes (%)</text>
<g filter="url(#bl2)">
<polygon points="237.18,169.32 241.55,166.82 244.68,164.7 248.43,164.32 250.93,166.82 255.3,167.45 259.05,168.7 257.8,172.2 255.3,174.95 252.8,177.2 250.93,179.95 248.43,181.82 245.3,183.32 242.8,181.2 240.3,178.45 238.05,174.32" fill="#dadadc" fill-opacity="0.6"/>
<polygon points="233.43,185.95 235.3,183.07 237.8,179.95 240.3,178.2 243.05,180.7 245.93,182.7 246.55,183.7 245.3,185.57 241.55,188.07 236.55,188.57" fill="#a094f0" fill-opacity="0.41"/>
<polygon points="258.8,168.32 261.55,166.2 264.68,166.82 264.8,169.95 262.18,171.82 259.68,170.7" fill="#dcdcde" fill-opacity="0.35"/>
<polygon points="258.43,174.95 261.55,173.07 265.93,173.7 268.43,176.2 267.18,179.32 264.05,181.2 259.68,180.2 257.8,179.32" fill="#dcdcde" fill-opacity="0.35"/>
</g>
<path d="M251.1 177.4h0M246.9 168.9h0M254 167.1h0M251.6 166.7h0M242.7 168.3h0M249.3 178.2h0M256.6 170.2h0M244.4 175.8h0M244.8 169.7h0M244 173.3h0M245.3 175.3h0M242.4 178.2h0M243.9 170.9h0M238.4 170.2h0M244.2 181.8h0M244.3 167.8h0M245.4 168.4h0M248.1 172.7h0M251.3 179.6h0M244.5 172.9h0M247.5 178.2h0M245 168h0M248.4 170.9h0M245.2 178.6h0M251.2 179.3h0M243.4 172.9h0M252 175.4h0M241.9 177.3h0M244.7 175.7h0M245.3 179.8h0M248.9 175.1h0M253.3 167h0M251.2 171.8h0M251.4 178.1h0M247 177.3h0M247.7 168.7h0M244.2 167.9h0M246.9 171.2h0M243.9 172.7h0M245.2 164.9h0M248.1 170.2h0M255.3 171.7h0M244.8 166.7h0M250.5 171h0M239.3 174.9h0M245.5 172.9h0M250.7 169.2h0M246.8 170.3h0M243.9 173.8h0M247 169.1h0M254.3 169.3h0M250.1 172.9h0M253.4 170h0M243.3 174.5h0M253.8 175.6h0M247.6 181.4h0M246.4 174.6h0M247.4 181.9h0M255.6 168.9h0M252.2 173.3h0M247.2 174.8h0M240.6 175.3h0M242.4 179.3h0M254.9 167.6h0M243.9 182.3h0M246.1 167.3h0M239.7 171.6h0M249.9 178.3h0M246.2 170h0M258.4 171.7h0M239.5 176.3h0M249.3 176.7h0M242.5 178.6h0M242.3 171.1h0M253.4 177.1h0M250.5 168.5h0M245 179.6h0M242.7 166.4h0M250.9 171.5h0M250.4 171.1h0M255.1 172.1h0M250.1 174.8h0M256.6 173.5h0M247.1 180.9h0M247.5 166.4h0M245.6 171.5h0M242.9 169.9h0M243.3 173.7h0M245 181.5h0M239.6 177.7h0M253.2 167.5h0M245.7 183.1h0M247.3 169h0M240.2 168h0M251.4 172.5h0M244.8 164.8h0M248.7 171.1h0M245.9 165.9h0M245 165.6h0M240.6 174.3h0M239.5 170.6h0M256.5 168.5h0M247.4 175.6h0M244.1 172.6h0M240.4 170.7h0M255.2 170.4h0M246.6 175.4h0M241.4 169.9h0M253 175.5h0M242.9 179.9h0M242.9 177.3h0M254 174.9h0M240.7 170.3h0M250.2 168.9h0M249.9 179.8h0M248.7 167.1h0M240.2 170.1h0M246.8 171.7h0M250.4 165.9h0M247.5 181.3h0M242.8 168h0M253.4 169.2h0M246.2 166.6h0M257 167.7h0M250.8 179.6h0M248.5 175.9h0M243.3 171.7h0M246.3 182.1h0M251.5 176.9h0M244.9 175.1h0M243.8 166h0M249.8 178.4h0M253.5 176.5h0M257.3 168.8h0M245.2 166.9h0M245.4 165.9h0M243.2 168.7h0M240.9 176h0M239 174.3h0M252.6 172.5h0M256.8 170.7h0M249.6 176.1h0M249.9 175.9h0M239.1 172.6h0M243.5 179.7h0M242.5 177.1h0M241.1 176.5h0M245.1 172.4h0M238.6 171.9h0M239.3 176.2h0M243.2 166.6h0M244.8 169.9h0M254.3 175.7h0M256.2 174.3h0M242.7 177.1h0M239.8 173.3h0M246 182.3h0M254.3 171.2h0M247.1 171.6h0M247.2 173.5h0M247.7 165.8h0M247.2 175.2h0M246.7 180h0M246 169.5h0M241.3 173.2h0M250.4 167.9h0M241.1 173.2h0M245.6 179.5h0M250.9 171.8h0M242.4 175.7h0M248.5 177.8h0M245.7 173.4h0M238.8 173.9h0M244.6 165.2h0M245 173.4h0M243.9 167.4h0M246.6 178.2h0M256.6 169.7h0M239.6 171h0M241.9 173h0M245 167h0M243.2 178.9h0M245.7 176.6h0M256.6 172.5h0M253.5 175h0M255.3 173.6h0M249.9 165.9h0M250.8 168.5h0M247.8 176.2h0M253.7 169.3h0M254.2 173.8h0M240.5 169.5h0M244.3 166.1h0M251.7 168h0M251.3 172.4h0M239.8 169.4h0M251.8 171.5h0M243.6 166.8h0M256.2 168.9h0M254.5 171.1h0M245.5 176.1h0M246.2 170.7h0M253 172h0M244.5 167.5h0M239.5 172.3h0M250 170.2h0M247.4 166.1h0M249.5 165.9h0M245.6 169.1h0M245.5 168.2h0M245.9 176.2h0M255 174.5h0M246.4 181.5h0M243.4 179h0M254 176h0M238.5 172.2h0M241.2 178h0M243.4 171.3h0M244.2 175.2h0M243.5 170.5h0M246.6 172.2h0M251.5 178.7h0M258.2 169.7h0M246.2 179.9h0M253 173.3h0M254.6 167.4h0M249.1 173.6h0M242.1 179.7h0M251.3 168.7h0M251.5 174.8h0M246.6 169.7h0M249.6 179h0M238.7 169.1h0M247.4 172.2h0M248.8 164.1h0M251 177.4h0M239 171h0M239.6 168.5h0M243.5 178.3h0M251.8 168.7h0M245.4 165h0M254.2 171.7h0M246.7 168.3h0M241.6 174.1h0M239.1 176h0M240.5 172.4h0M255.6 170.4h0M253.9 172.9h0M248.5 167.8h0M254.9 169.5h0M238.9 175.2h0M250.1 165.7h0M244.3 180.2h0M247.9 165.1h0M248.2 173.3h0M243.9 173.2h0M242.8 170h0M257.9 170.1h0M244.5 167.8h0M243.5 177.6h0M238.4 169h0M254.9 174.3h0M246.7 176.5h0M245.6 167.2h0M243.4 170.9h0M241 172.7h0M243.9 176.9h0M240.5 170.1h0M240.8 173.9h0M246.3 178.8h0M245.9 180.6h0M247.4 170h0M257.5 172.6h0M246.4 176.1h0M251 169h0M248.3 181.1h0M245.1 176.8h0M238.1 174.4h0M242.2 173h0M244.2 169.1h0M254.5 169.5h0M253.3 173.7h0M245.5 175.3h0M243 173.1h0M243.1 171.2h0M249.8 170.7h0M254.5 170h0M250.3 168.7h0M241.9 167.7h0M243.6 179.2h0M239.6 174.9h0M247.4 180.4h0M248 175.1h0M243.9 173.2h0M243.3 174.6h0M243.4 169.7h0M247 175.2h0M237.5 187.9h0M235.9 186h0M236.8 180.4h0M241.6 183.1h0M241.6 185.1h0M245.9 183h0M236.9 182h0M240.3 179.8h0M240.5 185.8h0M235.6 186.1h0M238.9 182h0M236.6 182.9h0M245.6 182.1h0M241.1 181.5h0M235.4 183.8h0M236.2 184.6h0M237.7 183.5h0M241.9 180.9h0M238.7 183.6h0M238.5 182.9h0M235.4 184.8h0M244.1 185.1h0M260.4 170.4h0M262.3 170.7h0M259.9 169.1h0M262.5 169.4h0M262.3 167.1h0M262.6 168.5h0M261.7 169.3h0M264.8 166.5h0M260.7 170.8h0M263.1 169.8h0M261 170.6h0M260.8 169h0M261.6 167.9h0M264.5 168.9h0M261.8 166.5h0M260.7 170h0M261.4 169.7h0M259.8 169.4h0M263.1 168.6h0M259.9 170.3h0M261.5 169h0M264.2 169.4h0M262.5 169.4h0M259.8 170.4h0M261.1 170.3h0M262.1 166.6h0M263.8 170.1h0M264.7 167.5h0M263.5 167.5h0M264.3 168h0M266.3 177h0M260.4 179.5h0M258.6 177.1h0M261.5 174.4h0M261.9 177.6h0M258.7 175.7h0M263.1 179.4h0M259.7 179.4h0M259.8 177.8h0M264.2 176.8h0M263.9 181.3h0M265.9 175.7h0M260.9 175.3h0M260.1 176.5h0M267 175.3h0M263.4 174.3h0M263.7 175.4h0M266.6 175.8h0M258.3 174.9h0M261.9 174h0M261 175h0M263.2 179.6h0M263.4 174.1h0M266.3 175.3h0M265.7 177.6h0M261.8 174.2h0M265 175.6h0M263.4 174.7h0M260.7 174.2h0M260.5 173.8h0M260.5 175.7h0M267.1 178h0M259 177.8h0M266.7 178h0M264.3 174.2h0M264.7 174.3h0M263.7 174.2h0M260.2 174.6h0M266.9 177.3h0M263.1 173.2h0M267.3 176.4h0M267.6 178.2h0M264.1 180.1h0M259.8 177.5h0M266.8 174.9h0M265.5 174.8h0M263.3 175.3h0M260.5 174.8h0M261.6 178.2h0M267.2 177.8h0M265.6 177.3h0M260.6 174.5h0M267.6 176.7h0" stroke="#d4d4d7" stroke-width="1.64" stroke-linecap="round" fill="none"/>
<path d="M246.4 169.7h0M257.5 169.4h0M253.1 171.2h0M233.8 183.5h0M238.4 183.6h0M242.2 185.5h0M240.1 185.7h0M244.7 184.5h0M237.7 181.2h0M239.6 187.5h0M236.9 184h0M238.4 182.7h0M242.2 180h0M241 186.9h0M234.8 185.6h0M242.1 180.9h0M235.5 188h0M243.2 184.5h0M237.6 186.7h0M241 186.7h0M237.5 183.5h0M239 186.6h0M234.9 186.5h0M239.3 185.7h0M236.5 186.6h0M264.3 180.5h0M261.7 181h0M262.2 179.3h0" stroke="#c4bcf0" stroke-width="1.16" stroke-linecap="round" fill="none"/>
<path d="M241.4 186.2h0M240.8 185.2h0M241.5 179.3h0M242.8 183.6h0M243.6 182.4h0M243.1 186.3h0M234.9 186.4h0M241.4 180.4h0M238.2 180.9h0M239.8 186.1h0M237.4 181.8h0M235.5 184.3h0M237.2 182h0M239.1 180.3h0M235.2 185.2h0M239.5 184.6h0M238.1 186.9h0M240.2 187.3h0M240 183.1h0M241 180.9h0M234.9 184.3h0M240.7 182h0M239 181.8h0M235.1 186.1h0M245.8 183.5h0M234.4 185.5h0M236.6 185.4h0M234 185h0M240 186.4h0M265 179.5h0M261.7 180.1h0M259.2 179.1h0M261 180.2h0M260 179h0M264.2 179.9h0M261.9 179.2h0M261.2 180.7h0" stroke="#8f80f0" stroke-width="1.16" stroke-linecap="round" fill="none"/>
<path d="M242.1 187h0M241.3 186.7h0M236.7 187.1h0M236.2 185.3h0M241.8 186.6h0M241.1 187.3h0M243.1 185.9h0" stroke="#5a46ee" stroke-width="1.16" stroke-linecap="round" fill="none"/>
<line x1="232.3" y1="159.2" x2="232.3" y2="191.65" stroke="#000" stroke-width="0.9"/>
<line x1="231.85" y1="191.2" x2="273.8" y2="191.2" stroke="#000" stroke-width="0.95"/>
<line x1="229.7" y1="166" x2="232.3" y2="166" stroke="#000" stroke-width="0.7"/>
<text transform="translate(228.4 168.3) scale(0.92 1)" font-size="6.5" text-anchor="end" stroke="#111" stroke-width="0.06">3</text>
<line x1="229.7" y1="174.2" x2="232.3" y2="174.2" stroke="#000" stroke-width="0.7"/>
<text transform="translate(228.4 176.5) scale(0.92 1)" font-size="6.5" text-anchor="end" stroke="#111" stroke-width="0.06">0</text>
<line x1="229.7" y1="182.3" x2="232.3" y2="182.3" stroke="#000" stroke-width="0.7"/>
<text transform="translate(228.4 184.6) scale(0.92 1)" font-size="6.5" text-anchor="end" stroke="#111" stroke-width="0.06">−3</text>
<line x1="229.7" y1="190.5" x2="232.3" y2="190.5" stroke="#000" stroke-width="0.7"/>
<text transform="translate(228.4 192.8) scale(0.92 1)" font-size="6.5" text-anchor="end" stroke="#111" stroke-width="0.06">−6</text>
<line x1="240.1" y1="191.2" x2="240.1" y2="193.2" stroke="#000" stroke-width="0.6"/>
<text transform="translate(238.5 200.7) scale(0.92 1)" font-size="6.5" text-anchor="middle" stroke="#111" stroke-width="0.06">−4</text>
<line x1="251.4" y1="191.2" x2="251.4" y2="193.2" stroke="#000" stroke-width="0.6"/>
<text transform="translate(251.4 200.7) scale(0.92 1)" font-size="6.5" text-anchor="middle" stroke="#111" stroke-width="0.06">0</text>
<line x1="262.8" y1="191.2" x2="262.8" y2="193.2" stroke="#000" stroke-width="0.6"/>
<text transform="translate(262.8 200.7) scale(0.92 1)" font-size="6.5" text-anchor="middle" stroke="#111" stroke-width="0.06">4</text>
<text transform="translate(254.7 156.9)" font-size="7.2" text-anchor="middle" fill="#1a1a1a">Cd4</text>
<rect x="276.9" y="164.8" width="4.9" height="23.1" fill="url(#cb)"/>
<text transform="translate(283.3 168.5)" font-size="5.9" fill="#2a2a2a">8</text>
<text transform="translate(283.3 174.2)" font-size="5.9" fill="#2a2a2a">6</text>
<text transform="translate(283.3 179.8)" font-size="5.9" fill="#2a2a2a">4</text>
<text transform="translate(283.3 185.5)" font-size="5.9" fill="#2a2a2a">2</text>
<text transform="translate(283.3 191)" font-size="5.9" fill="#2a2a2a">0</text>
<g filter="url(#bl2)">
<polygon points="315.12,168.12 319.5,165.62 322.62,163.5 326.38,163.12 328.88,165.62 333.25,166.25 337,167.5 335.75,171 333.25,173.75 330.75,176 328.88,178.75 326.38,180.62 323.25,182.12 320.75,180 318.25,177.25 316,173.12" fill="#a094f0" fill-opacity="0.52"/>
<polygon points="311.38,184.75 313.25,181.88 315.75,178.75 318.25,177 321,179.5 323.88,181.5 324.5,182.5 323.25,184.38 319.5,186.88 314.5,187.38" fill="#dadadc" fill-opacity="0.6"/>
<polygon points="336.75,167.12 339.5,165 342.62,165.62 342.75,168.75 340.12,170.62 337.62,169.5" fill="#dcdcde" fill-opacity="0.35"/>
<polygon points="336.38,173.75 339.5,171.88 343.88,172.5 346.38,175 345.12,178.12 342,180 337.62,179 335.75,178.12" fill="#a094f0" fill-opacity="0.52"/>
</g>
<path d="M329.9 172.6h0M319.7 174.8h0M327 167.5h0M323 177h0M332 171.5h0M325.9 164h0M332.4 167.8h0M321.4 164.5h0M330.7 170.8h0M320.2 165.7h0M320.7 173h0M331 173.4h0M327.9 167.9h0M330.3 167.4h0M319.3 178.9h0M316.7 183.4h0M321.3 180.8h0M319.4 184.7h0M319.4 184.4h0M321.3 185.1h0M315.9 183.2h0M316.6 183.7h0M318.7 183.5h0M316.9 183.3h0M319.6 180.8h0M314.9 185.3h0M313.8 185h0M318 181.8h0M318.3 185.9h0M319.6 180.1h0M316.9 179.8h0M313.1 185h0M318 182.6h0M315.7 180.3h0M320.8 182.2h0M322.1 183.8h0M313.9 185.9h0M316.6 178.1h0M320.9 182.5h0M322 183.9h0M317.1 182.1h0M316.8 182h0M317.9 187.8h0M319.7 184.6h0M322.9 181.8h0M317.4 181.6h0M314.5 180.9h0M318.6 180.1h0M320.7 180.5h0M313.1 185.6h0M317.9 186.1h0M313.7 186.2h0M314.9 181.3h0M318.1 186.3h0M320.2 182.2h0M321.1 180.5h0M317.1 182.3h0M320.8 184.5h0M317.3 177.8h0M317.7 181h0M312.8 182.4h0M321.9 182.6h0M320 183.7h0M316.4 185.2h0M312.6 185.4h0M322.4 181.7h0M318.8 184.7h0M315.9 181.6h0M320.4 178.8h0M320.1 182.7h0M318.4 184.1h0M317.2 181h0M315.5 179.8h0M314.7 180.6h0M319.3 183.7h0M317.3 184.8h0M318.7 186.3h0M316.5 186.1h0M319.9 180.9h0M313.7 182.8h0M319.7 179.2h0M321.1 180.8h0M320.7 184.8h0M322.7 183.2h0M313.3 180.7h0M322.7 184.8h0M323.7 181.5h0M320.1 184.9h0M322.1 184.7h0M318.4 182.4h0M313.8 185.3h0M339.3 170h0M340.2 169.3h0M341.8 166.8h0M338.2 168.6h0M338.9 166.8h0M342.1 168.1h0M341.4 165.9h0M340.1 168.7h0M340 165.7h0M340.3 166.8h0M342.3 167.4h0M341.3 167h0M340.3 170.5h0M342.5 169.2h0M337.6 168.5h0M338.3 168.1h0M342.4 167.9h0M338.6 168.9h0M343.3 167.5h0M339.3 170.1h0M341.5 167.2h0M343 167.9h0M336.5 178h0M340.7 176.3h0M339.9 174.6h0M344.5 176.2h0M343.2 177.4h0" stroke="#d4d4d7" stroke-width="1.64" stroke-linecap="round" fill="none"/>
<path d="M328 174.9h0M329.4 171.3h0M318.7 170.1h0M326.7 174.3h0M334 169.2h0M326.1 166h0M321.6 173.1h0M323.8 164.9h0M319.5 166.9h0M317.2 170.3h0M332.6 167.3h0M325 177.7h0M333.3 169.6h0M325.9 166.5h0M320.5 167.9h0M320.6 177.6h0M332.7 168.6h0M321.8 165.9h0M329.6 167.9h0M321.9 174.7h0M321.8 165.1h0M326.3 178.8h0M322.9 170h0M326.5 178.6h0M334.5 172.4h0M330.9 168.1h0M320.8 165.9h0M329 175.5h0M330.4 171.3h0M328.6 171h0M328.7 170.8h0M316.1 170.6h0M327.9 175h0M329 176.8h0M330.3 166.5h0M334.1 172.5h0M322.9 175.7h0M327.7 176.5h0M320.4 168.6h0M323.1 179.8h0M328.9 176.2h0M321.2 164.7h0M318.9 172.7h0M322.8 171.1h0M334.8 171h0M322.5 177.7h0M323.6 167h0M328.5 173.2h0M342.4 167.9h0M343.4 173.1h0M338.4 177.3h0M339.2 175.9h0M338.1 173.6h0M339.2 178.9h0M338.1 177h0M340.6 176.4h0M338.1 178.5h0M343.5 177.6h0" stroke="#c4bcf0" stroke-width="1.16" stroke-linecap="round" fill="none"/>
<path d="M318.5 167.5h0M327.9 169.2h0M316.8 172.9h0M326.4 163.7h0M323.7 169.7h0M317.9 169.2h0M336.9 168.5h0M326.6 166.5h0M316.7 171.7h0M323.9 176.2h0M320.6 177.6h0M328 171.4h0M322.8 181.2h0M325.3 177.8h0M331 173.2h0M331.4 171.1h0M323.3 174.6h0M335.7 168.2h0M329.6 170.2h0M323 174.9h0M319.5 176.3h0M323.2 163.2h0M316 169.8h0M326.3 165.5h0M317 170h0M329.3 175.7h0M332.1 170h0M331.5 173.4h0M323.4 178.6h0M327.8 176.9h0M324.5 181.5h0M326.8 168.5h0M329.1 170.5h0M325.6 179.7h0M322.9 175h0M330.1 177.6h0M317.2 168.1h0M327.6 168.8h0M321.9 166.3h0M330.5 167.6h0M321.6 174h0M318.8 168.9h0M327.7 166.5h0M320.5 179.2h0M326.2 169.7h0M326 166.8h0M330.9 170.7h0M326.1 174.9h0M316.6 173.5h0M327.5 165.4h0M322 178.3h0M325.5 166.2h0M331.3 172.1h0M329.3 168h0M319.7 167.6h0M321.9 174.1h0M320.5 175.8h0M319.5 167.5h0M332.8 170.1h0M325.7 171.7h0M323.5 176.1h0M320.3 171.8h0M328.4 166.3h0M321.5 167.2h0M316.3 168.2h0M332.2 166h0M323.5 167.8h0M331 173h0M319.8 170.2h0M329.3 170h0M325.7 171h0M315.2 183.5h0M318.9 180h0M340.1 168.7h0M342.3 166.5h0M340.9 167.3h0M336.2 178.5h0M339 178.2h0M338 175.5h0M342.1 177.8h0M337.6 172.8h0M340.1 174.6h0M340.2 174.5h0M344.9 175.2h0M344.7 176.8h0M342.2 174.4h0M336.8 176.2h0M341.9 174.1h0M339.6 174h0M338 173.4h0M340.4 173.4h0M344 177.4h0M344.6 178.3h0" stroke="#8f80f0" stroke-width="1.16" stroke-linecap="round" fill="none"/>
<path d="M320.6 172.1h0M317.3 174.7h0M320.1 165.7h0M329.1 177.3h0M326.8 170.4h0M321.5 171.9h0M320.5 174h0M335.1 170.8h0M317.9 174.3h0M329.4 175h0M330.6 174.9h0M324.3 174.9h0M334.3 168.2h0M330 175.1h0M320 174.8h0M318.8 175h0M336.5 166.9h0M318.1 172.9h0M317.4 167.9h0M323.1 167.8h0M324.6 165.8h0M318 168.2h0M322.3 177.1h0M319.9 172.4h0M319.1 169h0M327 175.4h0M337 167.4h0M327.6 174.5h0M331 170h0M329.6 166.1h0M317.2 169.5h0M323.4 173.1h0M325.7 174.7h0M331.2 171.2h0M315.4 171.6h0M330.6 167.7h0M320.7 179.4h0M326.5 167.5h0M320.3 173.3h0M321.6 166.3h0M317.8 169.7h0M319.5 166.7h0M329.1 177.7h0M329 176.8h0M320.9 170.8h0M326.7 167.8h0M320.9 169.7h0M325.9 173.4h0M329.9 171.7h0M327.4 179.4h0M317.7 172.7h0M321.7 176h0M330.2 175.5h0M323.2 163.4h0M318.6 174.9h0M327.8 176.2h0M327 175h0M324 173.7h0M329.2 175.2h0M332 175.5h0M327.5 174.5h0M326.2 170.8h0M325.5 163.5h0M318.1 176.7h0M325.1 175.8h0M327.5 164.9h0M328.8 168.2h0M321.6 166.2h0M326.3 171.7h0M319.3 171.2h0M323.1 172.4h0M330.1 175h0M328.2 172.4h0M319.3 169.6h0M326.8 165.8h0M325 172.1h0M335.3 170.7h0M324.9 169.3h0M332.1 169h0M321.9 166.9h0M318.6 168.6h0M324 169.4h0M333.7 171.1h0M331.2 166.9h0M319.6 169.1h0M327.5 180.2h0M324.2 167.8h0M316.8 169.9h0M325 177.6h0M319.7 177h0M324.9 167.5h0M324.2 167.8h0M331 172.4h0M328.5 177.4h0M317.9 169.3h0M330.6 176.5h0M324.2 176.1h0M323 175.7h0M332.3 174.9h0M328.9 178.9h0M324.8 167.8h0M325.4 165.8h0M325.5 179.6h0M326.1 170.8h0M325.6 178.2h0M334.1 168h0M325.8 163h0M318.3 177.9h0M320.8 170.1h0M334.8 169h0M326 168.1h0M332.6 171.4h0M330 176h0M331.2 171.9h0M326.2 176.1h0M326.6 171.8h0M321.3 178.5h0M321.7 166.9h0M329.1 169.8h0M317.2 174.5h0M320.8 175.1h0M336.1 166.4h0M323.8 165.6h0M319.9 166.9h0M320 165.2h0M317.7 171.9h0M325.6 176.8h0M325 172.1h0M322.5 167.9h0M317.8 172.5h0M331.6 167.8h0M328.3 178.2h0M321.2 168.7h0M322.5 176.4h0M323.4 173.8h0M323.2 179.1h0M322.4 169.2h0M321.7 170.7h0M321.9 168h0M321.2 173.3h0M319.1 166.7h0M323.1 180.9h0M326.1 174.5h0M318.3 168.3h0M323.4 163.8h0M325.6 167.5h0M328.8 176.9h0M330.8 170.9h0M324.2 179.8h0M325.2 170.4h0M334 167.6h0M325.3 175.6h0M321.6 164.5h0M327.8 178h0M328.3 178.1h0M325.4 179.8h0M330.8 166.4h0M319.8 173.8h0M329.1 172.8h0M327.4 168.6h0M323.6 168.6h0M323 174h0M330.4 176.8h0M334.9 170.8h0M317.8 172.6h0M332.5 173.6h0M319.8 175.4h0M315.9 179.1h0M342.3 166.2h0M340.9 168.5h0M340.5 169.4h0M341.6 167.6h0M342.5 175.4h0M342.2 178.5h0M341.5 172.5h0M343.2 172.5h0M342.7 173.8h0M343.5 175.3h0M339.1 179.7h0M343.1 172.9h0M344.5 173.9h0M336.1 177.2h0M336.8 176.8h0M341 172.5h0M339 179.8h0M339.2 178.6h0M339.1 178.5h0M342.1 175.3h0M336.7 177.5h0M340.6 172.9h0M341.4 179.5h0M341.9 173.7h0M337.5 176.2h0M341.6 174.5h0M336.7 173.6h0M344.8 177.3h0M345.2 175.5h0M344.7 175.7h0M343.9 175.4h0M340.8 178h0M345.4 174.9h0M340.2 178.2h0M342.6 177h0M338.4 172.8h0M344 176.3h0" stroke="#5a46ee" stroke-width="1.16" stroke-linecap="round" fill="none"/>
<line x1="308.25" y1="159.2" x2="308.25" y2="191.65" stroke="#000" stroke-width="0.9"/>
<line x1="307.8" y1="191.2" x2="349.75" y2="191.2" stroke="#000" stroke-width="0.95"/>
<line x1="305.65" y1="166" x2="308.25" y2="166" stroke="#000" stroke-width="0.7"/>
<text transform="translate(304.35 168.3) scale(0.92 1)" font-size="6.5" text-anchor="end" stroke="#111" stroke-width="0.06">3</text>
<line x1="305.65" y1="174.2" x2="308.25" y2="174.2" stroke="#000" stroke-width="0.7"/>
<text transform="translate(304.35 176.5) scale(0.92 1)" font-size="6.5" text-anchor="end" stroke="#111" stroke-width="0.06">0</text>
<line x1="305.65" y1="182.3" x2="308.25" y2="182.3" stroke="#000" stroke-width="0.7"/>
<text transform="translate(304.35 184.6) scale(0.92 1)" font-size="6.5" text-anchor="end" stroke="#111" stroke-width="0.06">−3</text>
<line x1="305.65" y1="190.5" x2="308.25" y2="190.5" stroke="#000" stroke-width="0.7"/>
<text transform="translate(304.35 192.8) scale(0.92 1)" font-size="6.5" text-anchor="end" stroke="#111" stroke-width="0.06">−6</text>
<line x1="316.05" y1="191.2" x2="316.05" y2="193.2" stroke="#000" stroke-width="0.6"/>
<text transform="translate(314.45 200.7) scale(0.92 1)" font-size="6.5" text-anchor="middle" stroke="#111" stroke-width="0.06">−4</text>
<line x1="327.35" y1="191.2" x2="327.35" y2="193.2" stroke="#000" stroke-width="0.6"/>
<text transform="translate(327.35 200.7) scale(0.92 1)" font-size="6.5" text-anchor="middle" stroke="#111" stroke-width="0.06">0</text>
<line x1="338.75" y1="191.2" x2="338.75" y2="193.2" stroke="#000" stroke-width="0.6"/>
<text transform="translate(338.75 200.7) scale(0.92 1)" font-size="6.5" text-anchor="middle" stroke="#111" stroke-width="0.06">4</text>
<text transform="translate(330.65 156.9)" font-size="7.2" text-anchor="middle" fill="#1a1a1a">Cd8b1</text>
<rect x="352.85" y="164.8" width="4.9" height="23.1" fill="url(#cb)"/>
<text transform="translate(359.25 168.5)" font-size="5.9" fill="#2a2a2a">8</text>
<text transform="translate(359.25 174.2)" font-size="5.9" fill="#2a2a2a">6</text>
<text transform="translate(359.25 179.8)" font-size="5.9" fill="#2a2a2a">4</text>
<text transform="translate(359.25 185.5)" font-size="5.9" fill="#2a2a2a">2</text>
<text transform="translate(359.25 191)" font-size="5.9" fill="#2a2a2a">0</text>
<g filter="url(#bl2)">
<polygon points="386.38,168.12 390.75,165.62 393.88,163.5 397.62,163.12 400.12,165.62 404.5,166.25 408.25,167.5 407,171 404.5,173.75 402,176 400.12,178.75 397.62,180.62 394.5,182.12 392,180 389.5,177.25 387.25,173.12" fill="#a094f0" fill-opacity="0.45"/>
<polygon points="382.62,184.75 384.5,181.88 387,178.75 389.5,177 392.25,179.5 395.12,181.5 395.75,182.5 394.5,184.38 390.75,186.88 385.75,187.38" fill="#a094f0" fill-opacity="0.45"/>
<polygon points="408,167.12 410.75,165 413.88,165.62 414,168.75 411.38,170.62 408.88,169.5" fill="#dcdcde" fill-opacity="0.35"/>
<polygon points="407.62,173.75 410.75,171.88 415.12,172.5 417.62,175 416.38,178.12 413.25,180 408.88,179 407,178.12" fill="#dcdcde" fill-opacity="0.35"/>
</g>
<path d="M388.6 173.6h0M408.1 168h0M398 178.9h0M398.4 177.9h0M393 173h0M402.8 171.9h0M403.1 170.7h0M387.3 169.2h0M392.4 174.8h0M394.4 179.8h0M399.3 167.8h0M389.7 171.9h0M396.9 171.1h0M401.7 169.9h0M398.6 168.2h0M398.3 167.2h0M393 178.1h0M391.4 173.8h0M401.2 168.8h0M407.1 167.5h0M404.5 169.9h0M407 170.1h0M394 172.2h0M402.9 169.2h0M393.6 169.9h0M392.2 183.3h0M384.6 182.2h0M384.9 184.8h0M392.6 181.4h0M387 187.2h0M384.9 184.4h0M388.5 184h0M391.9 181.9h0M386.5 186.2h0M394 182.8h0M410 167.9h0M411.3 169h0M412.2 167.3h0M412.3 168.4h0M413.9 166.9h0M409.8 167.6h0M410.9 166.9h0M413.1 165.4h0M411.2 166.8h0M412.7 166.5h0M413.6 166.9h0M409.9 166.8h0M412.1 169.3h0M408.1 174.9h0M412.6 172h0M410 176.1h0M410.5 174.2h0M408 176.5h0M408.6 176.3h0M413.6 173.6h0M408.2 175.4h0M411.2 174h0M409.7 178.7h0M414.9 178.7h0M414.6 174.8h0M415.3 173.2h0M416.2 175.4h0M416.7 176.5h0M407.2 175.2h0M417.1 175.2h0M413.7 172.6h0M411.6 174h0M411.6 173h0M415.3 176.5h0M415.4 177.4h0M413.7 176.8h0M411.9 174.9h0M410.3 174.8h0M413 179.1h0M414.7 177.6h0M416.9 177.7h0M406.9 178.6h0M415.3 172.9h0M409.9 174.6h0M410.4 179.1h0M410 179h0M407.4 175.9h0M408.1 177.7h0M413.2 172.9h0M415.3 176.3h0M408.2 178.2h0M410.5 177.8h0M411.4 176h0M412.1 173.4h0" stroke="#d4d4d7" stroke-width="1.64" stroke-linecap="round" fill="none"/>
<path d="M398.7 174.3h0M392.7 170.5h0M399.7 165.7h0M403.7 169.3h0M394.4 163.3h0M395.9 172h0M391.6 175.9h0M397.2 173.8h0M387.3 172.8h0M389.2 167h0M393.1 180.3h0M393.2 177.9h0M402 176.7h0M394.9 173.3h0M393.7 177.1h0M390.9 176.2h0M395.7 176.4h0M394.5 170.9h0M398.7 178.6h0M387.6 173.1h0M403 174.2h0M395.3 168.9h0M397.1 179.9h0M390.2 170.6h0M397.5 179h0M396.8 170.4h0M393 172.6h0M396.4 179.7h0M404 168.2h0M387.9 170h0M399.2 174.2h0M394.9 173.9h0M390.2 174.6h0M397.5 178.4h0M395.2 167h0M398.4 180.1h0M394.2 175.7h0M403.7 169.1h0M387.5 168h0M398.7 179.1h0M397.7 175.5h0M398.1 171.5h0M398.8 178.3h0M398.9 168.8h0M392.6 180.2h0M392 180h0M397.9 176.8h0M397.9 166h0M394.4 170.1h0M391.9 166.5h0M391.4 168.9h0M408.8 167.9h0M396.4 164.3h0M401.3 167.5h0M403.9 171.7h0M393.5 180.7h0M396.4 165.2h0M393.5 175.3h0M393 167.7h0M389.5 171.7h0M397.8 169.4h0M399.6 166.8h0M391.9 179.1h0M389.6 170.3h0M400 168.6h0M389.5 168.2h0M392.7 176.7h0M383.3 184.1h0M391.8 179.3h0M388.6 185.5h0M383.4 185.5h0M389 184.7h0M391.2 180.3h0M387.8 180.2h0M390.7 179.2h0M386.6 178.4h0M389.5 182.6h0M394.3 184.2h0M392.3 184.8h0M392.7 183.9h0M395.4 182.4h0M389.9 177.6h0M389.2 182.5h0M392.8 184.7h0M391.9 184.2h0M392.1 183.1h0M390.6 181.6h0M391.7 184.8h0M408.3 168.7h0M414.1 167.4h0M410.7 168.2h0M411.9 168.4h0M410.6 172.4h0M410.2 179.1h0M411.4 174.2h0" stroke="#c4bcf0" stroke-width="1.16" stroke-linecap="round" fill="none"/>
<path d="M402 175h0M395.6 168h0M399 172.1h0M395.1 180.3h0M395 174.4h0M389.7 176.3h0M387.6 173h0M393.9 177.5h0M398.3 165.5h0M397.6 171.9h0M388.3 168.1h0M395.7 166.1h0M399.1 173.9h0M392.4 166.7h0M392.3 164.7h0M387.8 166.3h0M392.6 177.3h0M399.7 175.4h0M405.1 168.4h0M393.1 166.1h0M391.9 168.4h0M391.8 166.9h0M395 165.6h0M400.9 176.3h0M402.3 170.1h0M397.3 165.8h0M398.5 176h0M396.2 170.4h0M390.2 177.8h0M393.4 179.8h0M395.9 177.5h0M402.7 171.4h0M399 178h0M392.5 167h0M388.2 169.1h0M395.8 170.2h0M398.9 172.8h0M400.8 167h0M395.7 164.5h0M391.2 173.5h0M405.1 168.5h0M398 180.2h0M393.8 170.7h0M394.6 169.6h0M390.1 168.4h0M398.3 170.5h0M392.1 175h0M391.4 168h0M397.2 179.4h0M406.2 166.6h0M399.3 173.6h0M386.8 173.4h0M396.4 173.7h0M393.9 166.6h0M393.8 164.7h0M398.4 164.1h0M399.7 172.8h0M396.4 177.9h0M396.7 174.3h0M404.8 168.2h0M405.5 171.2h0M393.3 177.3h0M389.2 172.9h0M401.8 168h0M404.7 167.3h0M396.1 175.2h0M393.3 181.4h0M401.1 176.4h0M400.7 169.5h0M399.6 171.9h0M398.2 173.3h0M395 169.5h0M401.6 172.2h0M397.3 167.9h0M400.3 177.2h0M389.8 171.3h0M404.1 173.2h0M395.5 181h0M397.7 175h0M404.4 170.6h0M400.6 175.7h0M402.3 170.9h0M398.7 174.9h0M398.6 172.1h0M391.4 173.4h0M406.8 168.5h0M399.2 178h0M393.3 177.9h0M397.2 163.4h0M391.4 176.1h0M402.4 169.2h0M407.4 169.5h0M399.5 177.5h0M390.8 168.6h0M398.9 175.6h0M389.8 168.9h0M402.4 169.3h0M392.2 175.7h0M393.5 176.5h0M389.3 173.5h0M399.6 178.8h0M388.5 170.8h0M405.4 166.9h0M401.8 170.7h0M397.3 171h0M403.9 168.7h0M396.6 169.4h0M400.2 170.8h0M391.8 172.3h0M395.9 177.5h0M389 172h0M396.6 168.8h0M397.3 167.2h0M395.5 169.8h0M390.3 173.4h0M391 176.5h0M399.9 168.6h0M395.3 166.7h0M396.1 168.9h0M389 181h0M391.6 182.4h0M385.3 183.3h0M392.3 184.3h0M390 177.7h0M390.5 178.3h0M384.6 185.4h0M393.9 180.3h0M392.3 183h0M388.3 184.7h0M389.8 182.2h0M394.9 183.6h0M390.5 181.8h0M392.4 181.3h0M389 180h0M385 185.1h0M383.5 185.2h0M385.5 181.6h0M387.4 185.5h0M389.8 180.7h0M389.3 183h0M386 182.3h0M389.9 178.9h0M389.7 180.1h0M386.8 185.7h0M389.1 183.7h0M391.9 184.2h0M388 179.9h0M389.4 182.1h0M410.6 169.8h0M408.7 167.1h0M410.8 165.6h0M410 169.6h0M410.8 169.1h0M411.3 166.3h0M409.8 165.7h0M413.3 179h0M413.7 174.2h0M412.2 176.1h0M410.5 174.5h0M411.2 177.2h0M417.1 176.7h0M411.3 178.7h0M411.5 177.9h0M412.4 172.8h0M408.8 176.6h0M409.7 174.9h0M413.2 178.5h0" stroke="#8f80f0" stroke-width="1.16" stroke-linecap="round" fill="none"/>
<path d="M394.4 175.9h0M407 171.2h0M394.3 170h0M397.2 167h0M390 168h0M395.6 174.3h0M402.4 172.1h0M390.2 178.3h0M407.5 166.6h0M394.3 170.9h0M393.1 176.5h0M396.9 166.2h0M407.6 168.3h0M392.9 178.6h0M396.1 170.3h0M403.7 174.3h0M392.6 166h0M407.4 169.3h0M395.4 165.2h0M388 171.8h0M405.2 172.2h0M402.5 172.9h0M390.2 167.9h0M391.7 174.1h0M394.4 167h0M398.6 170h0M393.7 165.4h0M403.9 172.6h0M392.3 171.7h0M389.2 171.9h0M402 167.6h0M392.1 166.1h0M405 168.6h0M390.1 174.7h0M400.6 170.8h0M393.1 177.8h0M390.8 172.8h0M397.4 167.3h0M395.4 173.3h0M388.6 168.1h0M394.5 171.7h0M401.8 168.5h0M404.9 171.7h0M403.1 173.4h0M388.1 168h0M398.2 177.9h0M397.3 163.8h0M396.6 163.9h0M389.3 166.5h0M402.5 169.3h0M396.5 178.3h0M389.1 173.8h0M388 173.2h0M398.1 172.9h0M387.6 170.3h0M389.8 172.8h0M398.5 168.3h0M394.1 175.2h0M395 175.2h0M391.3 178.2h0M392.4 178.8h0M404.1 171.8h0M398.5 166h0M395.8 170.3h0M398.3 175.2h0M398.5 175.2h0M396 168.4h0M390.8 168.9h0M401 167.7h0M389.5 169.4h0M395.6 181.4h0M394.6 177.8h0M396.9 167.4h0M395.9 178.3h0M402.3 166.4h0M402.3 175.2h0M393.5 169h0M396.3 178.1h0M402.7 167.8h0M392.6 173.9h0M392.3 166.4h0M398.3 164.4h0M403.6 170h0M403 172.8h0M394.7 172.3h0M399.7 166.5h0M388.3 171.9h0M392.8 164.6h0M405.9 171.7h0M392.1 181.5h0M391.9 180.6h0M389.1 182.9h0M385.1 181.9h0M390.8 177.6h0M384.4 183h0M388.1 180.6h0M385 186.2h0M392.3 184.9h0M389.1 178.8h0M393.1 180.7h0M386.2 184.8h0M390.6 184.2h0M393.1 181.4h0M390.1 186.2h0M388.5 178.3h0M387.8 184.2h0M386.1 185.5h0M388.7 182.7h0M390 179.4h0M409.9 167.6h0M411.1 166.1h0M413.1 167.7h0M408.6 168.9h0M408.4 167.9h0M408.7 169.3h0M414.9 174.9h0M414.8 176.8h0M413.2 178.4h0M412.5 173.3h0M411.6 176h0M412.7 175.8h0M407.6 176.7h0M413.9 174.1h0" stroke="#5a46ee" stroke-width="1.16" stroke-linecap="round" fill="none"/>
<line x1="379.5" y1="159.2" x2="379.5" y2="191.65" stroke="#000" stroke-width="0.9"/>
<line x1="379.05" y1="191.2" x2="421" y2="191.2" stroke="#000" stroke-width="0.95"/>
<line x1="376.9" y1="166" x2="379.5" y2="166" stroke="#000" stroke-width="0.7"/>
<text transform="translate(375.6 168.3) scale(0.92 1)" font-size="6.5" text-anchor="end" stroke="#111" stroke-width="0.06">3</text>
<line x1="376.9" y1="174.2" x2="379.5" y2="174.2" stroke="#000" stroke-width="0.7"/>
<text transform="translate(375.6 176.5) scale(0.92 1)" font-size="6.5" text-anchor="end" stroke="#111" stroke-width="0.06">0</text>
<line x1="376.9" y1="182.3" x2="379.5" y2="182.3" stroke="#000" stroke-width="0.7"/>
<text transform="translate(375.6 184.6) scale(0.92 1)" font-size="6.5" text-anchor="end" stroke="#111" stroke-width="0.06">−3</text>
<line x1="376.9" y1="190.5" x2="379.5" y2="190.5" stroke="#000" stroke-width="0.7"/>
<text transform="translate(375.6 192.8) scale(0.92 1)" font-size="6.5" text-anchor="end" stroke="#111" stroke-width="0.06">−6</text>
<line x1="387.3" y1="191.2" x2="387.3" y2="193.2" stroke="#000" stroke-width="0.6"/>
<text transform="translate(385.7 200.7) scale(0.92 1)" font-size="6.5" text-anchor="middle" stroke="#111" stroke-width="0.06">−4</text>
<line x1="398.6" y1="191.2" x2="398.6" y2="193.2" stroke="#000" stroke-width="0.6"/>
<text transform="translate(398.6 200.7) scale(0.92 1)" font-size="6.5" text-anchor="middle" stroke="#111" stroke-width="0.06">0</text>
<line x1="410" y1="191.2" x2="410" y2="193.2" stroke="#000" stroke-width="0.6"/>
<text transform="translate(410 200.7) scale(0.92 1)" font-size="6.5" text-anchor="middle" stroke="#111" stroke-width="0.06">4</text>
<text transform="translate(401.9 156.9)" font-size="7.2" text-anchor="middle" fill="#1a1a1a">Tcf7</text>
<rect x="424.1" y="164.8" width="4.9" height="23.1" fill="url(#cb)"/>
<text transform="translate(430.5 168.5)" font-size="5.9" fill="#2a2a2a">8</text>
<text transform="translate(430.5 174.2)" font-size="5.9" fill="#2a2a2a">6</text>
<text transform="translate(430.5 179.8)" font-size="5.9" fill="#2a2a2a">4</text>
<text transform="translate(430.5 185.5)" font-size="5.9" fill="#2a2a2a">2</text>
<text transform="translate(430.5 191)" font-size="5.9" fill="#2a2a2a">0</text>
<g filter="url(#bl2)">
<polygon points="464.57,168.12 468.95,165.62 472.07,163.5 475.82,163.12 478.32,165.62 482.7,166.25 486.45,167.5 485.2,171 482.7,173.75 480.2,176 478.32,178.75 475.82,180.62 472.7,182.12 470.2,180 467.7,177.25 465.45,173.12" fill="#a094f0" fill-opacity="0.48"/>
<polygon points="460.82,184.75 462.7,181.88 465.2,178.75 467.7,177 470.45,179.5 473.32,181.5 473.95,182.5 472.7,184.38 468.95,186.88 463.95,187.38" fill="#a094f0" fill-opacity="0.48"/>
<polygon points="486.2,167.12 488.95,165 492.07,165.62 492.2,168.75 489.57,170.62 487.07,169.5" fill="#a094f0" fill-opacity="0.48"/>
<polygon points="485.82,173.75 488.95,171.88 493.32,172.5 495.82,175 494.57,178.12 491.45,180 487.07,179 485.2,178.12" fill="#dcdcde" fill-opacity="0.35"/>
</g>
<path d="M474.1 176.8h0M480 172.9h0M467.7 169.7h0M467 167.9h0M485.8 166.5h0M482.7 166.8h0M467.8 174.5h0M467 176.6h0M470.8 170.4h0M480.7 166.4h0M480.6 167.4h0M468.8 175.4h0M477.5 175.1h0M475.6 179.1h0M478.1 169h0M480 174.9h0M468.8 165.1h0M479.6 171.6h0M471.8 180.9h0M472.5 181.8h0M465.2 182.9h0M473.1 183.1h0M471.4 182.2h0M461.3 183.7h0M464.2 181.5h0M464 181.1h0M490.1 166.3h0M488.7 167.6h0M488.9 166.7h0M487.7 167.6h0M487.7 167.4h0M487.7 168.3h0M489.2 171.1h0M491 166.1h0M491.5 166.1h0M487.4 169.5h0M492.9 173h0M494.3 178.1h0M492.4 174.8h0M490.3 172.9h0M489.8 173.1h0M486.4 177.2h0M486.9 173.5h0M488.7 178.9h0M488.7 171.5h0M487.5 177.3h0M489.8 172.8h0M486.7 175.5h0M486 176.5h0M489.1 174.8h0M490.1 178.3h0M492.8 177.2h0M493.3 177.7h0M486 173.5h0M489.9 179.9h0M490.8 173.5h0M489.5 176.9h0M489.5 172.8h0M489.8 176.2h0M487.8 173.6h0M492.2 172.2h0M487.9 178.6h0M488.2 177h0M490.1 179.4h0M491.9 175.7h0M491.4 174.8h0M488.7 176.4h0M493.7 176.2h0M493.7 172.8h0M486.4 176h0M493.1 176.5h0M489.4 179.4h0M490.6 179.9h0M487.5 178.1h0M490 176.8h0M491 177.9h0M489.3 172.9h0M489.5 172.3h0M490.4 172.9h0M491.4 174.4h0M489.1 179.4h0M491.8 175h0M486.2 175.5h0M488.1 174.5h0M494.3 177.9h0M493.7 177.1h0M491.6 178.7h0M486.9 179.6h0M494.6 175.5h0M490.1 174.9h0" stroke="#d4d4d7" stroke-width="1.64" stroke-linecap="round" fill="none"/>
<path d="M471.6 171.1h0M477.8 170.4h0M475.2 167.6h0M465.2 170h0M480 175.7h0M467.3 167.7h0M472.5 169.1h0M473.4 170.3h0M475.5 180.6h0M478.5 169.6h0M470.2 173.6h0M475.5 173.6h0M473.4 166.4h0M472.5 166h0M477.5 177.2h0M474 170.8h0M467.9 170.4h0M478.7 168.2h0M476.5 168.9h0M470.1 176.2h0M473.1 180.4h0M474.2 172.4h0M474.7 165.7h0M473.9 172.2h0M470.1 166h0M482.6 173.2h0M473.1 180.1h0M482.9 168.9h0M472.8 178.9h0M473.8 172.4h0M475.3 167.7h0M469.9 170.9h0M472 165h0M472.3 181.8h0M469.6 170.3h0M477 165.9h0M474.2 173.5h0M478.8 172.2h0M470.7 174.8h0M476.6 164.9h0M472.2 175h0M479.8 169.7h0M470.6 178.2h0M472.2 175.9h0M476.4 164.7h0M473 167.3h0M466.5 173.2h0M465.5 171.2h0M471.8 184h0M463.3 184.4h0M469.6 179.6h0M470.7 181.3h0M467.8 181h0M464 185.5h0M465.8 181.1h0M466.1 178.5h0M472.9 182.7h0M464 183.2h0M463.7 181.6h0M488.4 169.1h0M489.4 165.8h0M490.5 165.5h0M489.5 165.5h0M490.3 166.9h0M487.3 175.9h0" stroke="#c4bcf0" stroke-width="1.16" stroke-linecap="round" fill="none"/>
<path d="M474.5 167h0M470.4 167.8h0M467.7 172.9h0M471.2 167.9h0M472.4 180.1h0M477.5 167.3h0M474.6 174.6h0M476 165.7h0M474.3 180.2h0M485.9 168.3h0M472.5 175.1h0M470.7 173.9h0M471.2 169.9h0M475.2 178.4h0M475.6 175.2h0M466.7 171.4h0M479.9 169.7h0M473.3 166.4h0M475.1 180h0M470.1 168.7h0M480 177.9h0M477.8 169.9h0M476.5 178.9h0M483.2 171.5h0M483.7 171.2h0M477.3 178h0M472.7 175.5h0M469.5 178.5h0M472.8 173.2h0M474.8 172.1h0M478.4 178.1h0M470.5 178h0M471.5 166.7h0M479.2 165.5h0M470.4 167.3h0M472.4 169.4h0M484.7 169.9h0M481.2 170.3h0M472.9 177.8h0M479.3 172.4h0M475.3 174h0M469.4 169.7h0M471.8 178h0M471.1 172.5h0M469 170.8h0M473.9 173.6h0M477.1 170.5h0M471.6 167.3h0M479.7 172.3h0M479 166.8h0M471.5 167.4h0M474.5 165.2h0M467.4 172.7h0M482.1 173.5h0M476.1 178.2h0M469.9 167.1h0M476.9 172.2h0M466.3 171.2h0M477.5 169.2h0M469.6 170.9h0M476.8 173.7h0M467.6 172.2h0M474.1 178.9h0M476.4 169.2h0M482.4 173.2h0M471.8 166.2h0M479.3 176.6h0M476.5 174.1h0M465.4 169.5h0M475.2 168.4h0M473.7 175.3h0M478.6 165.8h0M485.3 170.8h0M483.7 171.9h0M470.3 176.8h0M471.5 175.3h0M467.5 168.3h0M473.3 171.1h0M481.7 168.6h0M472.2 166.8h0M478.4 171.1h0M474.2 180h0M472.9 179.3h0M471.1 178.5h0M471.1 178.3h0M475 177.6h0M476.3 175.6h0M471.8 165.8h0M473.1 172.4h0M475.4 167.9h0M474.8 180.4h0M474.9 167.8h0M478.7 175.7h0M476 165.2h0M472.4 169.5h0M475.4 162.8h0M475.1 164.4h0M472.4 184.4h0M468.2 186.6h0M462.7 183.1h0M467.7 185.7h0M463.4 184.7h0M463.9 185.9h0M461.9 184.3h0M464.6 184.9h0M462.6 185.5h0M467.9 178.9h0M468.5 181.4h0M466.9 186.1h0M468 180.4h0M466.2 178.6h0M465.8 181.4h0M462.5 185.6h0M469.2 186.4h0M467.8 182.6h0M466.2 180.9h0M466 185.3h0M466.7 185.6h0M463.4 186.7h0M465.1 180.5h0M468.3 178.1h0M468.6 178.7h0M490 166.9h0M490.5 167.3h0M487.5 170.2h0M491.2 168.1h0M488.2 167.9h0M490.5 169.1h0M491.6 166.2h0M487.3 167.1h0M491.7 173.7h0M492.8 176.9h0M490.6 173.4h0M489.5 179h0" stroke="#8f80f0" stroke-width="1.16" stroke-linecap="round" fill="none"/>
<path d="M476.5 176.5h0M474.6 170.8h0M472.1 170h0M481.8 168.1h0M476.6 175.2h0M478.5 176.2h0M467.9 170.2h0M465.7 170.8h0M480.5 174.6h0M475.6 177.4h0M470.9 175.4h0M468.8 177.5h0M476.4 167.2h0M475.6 170.3h0M475.9 175.2h0M478.1 168.9h0M482.2 168.2h0M472.6 178.3h0M469.4 168.9h0M477.9 171.4h0M470.3 166.9h0M479.2 172.4h0M479.5 171.4h0M477.6 164.4h0M470.8 173.9h0M485.2 170.6h0M467.6 168.6h0M478.6 169.4h0M484.4 168.6h0M485.8 169.3h0M468.6 167h0M473.6 175.6h0M468.4 172.9h0M481.7 168.3h0M476 163.3h0M473.7 174.4h0M470 166.1h0M468 173h0M475.5 177.2h0M479 167.6h0M477.3 168h0M470.2 174h0M474.1 166.1h0M480.3 169.7h0M479.1 176.5h0M476 165h0M479.4 173.7h0M472.3 171.3h0M469.6 177.8h0M474.6 168.5h0M478.9 173.9h0M477.6 173.4h0M470.8 178.6h0M483.6 172.5h0M468.2 173h0M472 180.2h0M474 165.3h0M479.1 174h0M478.4 165.9h0M485.2 168.7h0M474.8 165.1h0M469.7 173.1h0M471.5 171h0M474.2 165.2h0M470.4 169.8h0M477.1 172.1h0M477.5 176.8h0M469.8 178h0M472.7 172.2h0M479.2 171.6h0M476.2 168.8h0M477.4 172.6h0M484.2 170.2h0M475.8 175.5h0M479 172.9h0M474.5 177.4h0M479.5 171.7h0M473.4 167.3h0M474 166.5h0M484.2 172.1h0M473.1 178.1h0M475.9 180.5h0M474.6 177.6h0M480.7 174.7h0M476.2 179.1h0M477.7 171.8h0M473.8 169.9h0M471.7 179.4h0M465.5 169.2h0M483.8 168.8h0M486.8 169.1h0M467.9 173.5h0M465.5 168.6h0M471.8 172.8h0M470.9 175.7h0M485.3 167.7h0M474 178.1h0M478.6 177.9h0M474.2 178.3h0M473.4 180h0M471.1 166.9h0M470 178.3h0M485.2 167.7h0M473.2 174.7h0M474 165.1h0M469.6 175.5h0M467 167.8h0M468.2 170.4h0M475.1 170.4h0M467.3 174.9h0M476.9 176.1h0M481 167.1h0M481 168.2h0M473.5 176.8h0M476.9 176.5h0M471.2 165.4h0M466.8 169.5h0M466.3 168.8h0M476.5 164.7h0M477.6 173.4h0M469.7 169.6h0M476.4 171.3h0M472.2 166.6h0M477.7 172.1h0M479.6 167.8h0M483.2 172.9h0M476.4 172.7h0M468.7 178.5h0M478.3 172.4h0M466.8 175.6h0M472.4 175.6h0M477.6 168.5h0M476.1 170.8h0M470 172.6h0M483.3 171.8h0M468.9 176.5h0M468.9 180.8h0M468.6 179.2h0M465.7 181.3h0M463.9 186.7h0M466 181.8h0M467.6 181.4h0M467.1 179.1h0M472.3 183.9h0M464.2 184.3h0M465.7 183.4h0M472.7 183.4h0M463.9 186.9h0M470.7 183.5h0M466.6 181.8h0M472.3 182.3h0M473 183.1h0M462.6 181.8h0M467.7 186.3h0M467 179.8h0M467.3 180.4h0M468.3 179.7h0M465.1 183.2h0M463.1 184.6h0M468.9 178.1h0M471.1 185.5h0M463.2 182.1h0M469 186.5h0M468 178.6h0M462.7 182.9h0M471.1 184.7h0M469 179.2h0M463 183.2h0M462.9 183.2h0M469.4 183.7h0M466.6 183.5h0M467.8 180.5h0M464.4 186.2h0M490.2 165.7h0M490.8 169.1h0M486.6 168h0M486.5 167.3h0M489.2 166.3h0M491.9 165.9h0M491.6 166.3h0M488 176.4h0M492.1 175.6h0M485.9 177.5h0M490.2 176.8h0M488.5 177h0" stroke="#5a46ee" stroke-width="1.16" stroke-linecap="round" fill="none"/>
<line x1="457.7" y1="159.2" x2="457.7" y2="191.65" stroke="#000" stroke-width="0.9"/>
<line x1="457.25" y1="191.2" x2="499.2" y2="191.2" stroke="#000" stroke-width="0.95"/>
<line x1="455.1" y1="166" x2="457.7" y2="166" stroke="#000" stroke-width="0.7"/>
<text transform="translate(453.8 168.3) scale(0.92 1)" font-size="6.5" text-anchor="end" stroke="#111" stroke-width="0.06">3</text>
<line x1="455.1" y1="174.2" x2="457.7" y2="174.2" stroke="#000" stroke-width="0.7"/>
<text transform="translate(453.8 176.5) scale(0.92 1)" font-size="6.5" text-anchor="end" stroke="#111" stroke-width="0.06">0</text>
<line x1="455.1" y1="182.3" x2="457.7" y2="182.3" stroke="#000" stroke-width="0.7"/>
<text transform="translate(453.8 184.6) scale(0.92 1)" font-size="6.5" text-anchor="end" stroke="#111" stroke-width="0.06">−3</text>
<line x1="455.1" y1="190.5" x2="457.7" y2="190.5" stroke="#000" stroke-width="0.7"/>
<text transform="translate(453.8 192.8) scale(0.92 1)" font-size="6.5" text-anchor="end" stroke="#111" stroke-width="0.06">−6</text>
<line x1="465.5" y1="191.2" x2="465.5" y2="193.2" stroke="#000" stroke-width="0.6"/>
<text transform="translate(463.9 200.7) scale(0.92 1)" font-size="6.5" text-anchor="middle" stroke="#111" stroke-width="0.06">−4</text>
<line x1="476.8" y1="191.2" x2="476.8" y2="193.2" stroke="#000" stroke-width="0.6"/>
<text transform="translate(476.8 200.7) scale(0.92 1)" font-size="6.5" text-anchor="middle" stroke="#111" stroke-width="0.06">0</text>
<line x1="488.2" y1="191.2" x2="488.2" y2="193.2" stroke="#000" stroke-width="0.6"/>
<text transform="translate(488.2 200.7) scale(0.92 1)" font-size="6.5" text-anchor="middle" stroke="#111" stroke-width="0.06">4</text>
<text transform="translate(480.1 156.9)" font-size="7.2" text-anchor="middle" fill="#1a1a1a">Sell</text>
<rect x="502.3" y="164.8" width="4.9" height="23.1" fill="url(#cb)"/>
<text transform="translate(508.7 168.5)" font-size="5.9" fill="#2a2a2a">8</text>
<text transform="translate(508.7 174.2)" font-size="5.9" fill="#2a2a2a">6</text>
<text transform="translate(508.7 179.8)" font-size="5.9" fill="#2a2a2a">4</text>
<text transform="translate(508.7 185.5)" font-size="5.9" fill="#2a2a2a">2</text>
<text transform="translate(508.7 191)" font-size="5.9" fill="#2a2a2a">0</text>
<g filter="url(#bl2)">
<polygon points="239.18,223.43 243.55,220.93 246.68,218.8 250.43,218.43 252.93,220.93 257.3,221.55 261.05,222.8 259.8,226.3 257.3,229.05 254.8,231.3 252.93,234.05 250.43,235.93 247.3,237.43 244.8,235.3 242.3,232.55 240.05,228.43" fill="#a094f0" fill-opacity="0.49"/>
<polygon points="235.43,240.05 237.3,237.18 239.8,234.05 242.3,232.3 245.05,234.8 247.93,236.8 248.55,237.8 247.3,239.68 243.55,242.18 238.55,242.68" fill="#a094f0" fill-opacity="0.49"/>
<polygon points="260.8,222.43 263.55,220.3 266.68,220.93 266.8,224.05 264.18,225.93 261.68,224.8" fill="#a094f0" fill-opacity="0.49"/>
<polygon points="260.43,229.05 263.55,227.18 267.93,227.8 270.43,230.3 269.18,233.43 266.05,235.3 261.68,234.3 259.8,233.43" fill="#dcdcde" fill-opacity="0.35"/>
</g>
<path d="M258.5 224.6h0M244.7 228.9h0M245.2 219.3h0M247.1 236.4h0M248 227.8h0M250.6 232h0M248.1 237.2h0M259.3 224.3h0M243.5 222.5h0M252.9 228.1h0M253.4 225.7h0M246.1 234.2h0M246 232h0M242.2 223h0M246.8 236.8h0M253 224.7h0M247.6 237.4h0M245.3 238.6h0M238.3 239.5h0M265.2 224.4h0M265.6 224h0M264.7 220.9h0M263.1 223.9h0M262.7 222.1h0M262.7 222.7h0M267.8 234.6h0M266.6 232.8h0M268.2 231.7h0M267.6 232.7h0M261.8 230.3h0M266.3 233.1h0M268.3 231.8h0M266.3 232.1h0M262.1 231.4h0M265 233.6h0M265.7 233.4h0M268.5 230.7h0M260.2 230.7h0M269.3 233.2h0M266.9 230.5h0M266.5 232.8h0M264.5 233.5h0M265.2 228.2h0M262.7 229.6h0M262.6 229.9h0M267.1 231.4h0M267.7 232h0M266 228h0M267.3 233h0M268 232.4h0M265.4 233h0M267.9 234.1h0M267.4 230.1h0M267.3 232h0M261.1 229.6h0M268 230.4h0M266.3 230.2h0" stroke="#d4d4d7" stroke-width="1.64" stroke-linecap="round" fill="none"/>
<path d="M255.8 228.9h0M248.8 219.1h0M246.5 234h0M255.1 223.4h0M242 225.3h0M254.6 224.7h0M247.7 220.7h0M246.4 226.3h0M244.5 229.3h0M240.4 228.8h0M248.1 234.2h0M250.9 225.1h0M244.2 229.6h0M244.1 223.3h0M244.7 227.7h0M255.8 225.9h0M255 228.8h0M249.8 223.7h0M250.7 222.6h0M248.5 224.2h0M251.4 232.6h0M252.8 221.3h0M247.4 229.6h0M247.1 237.1h0M256.4 223.8h0M251.1 230.2h0M246.8 219h0M252.2 231.8h0M249.3 234.5h0M242.9 234.2h0M253.8 230.8h0M250.9 234.1h0M255.9 223.3h0M253 225.2h0M246.7 221.7h0M249.7 234.3h0M250.1 232.3h0M255.4 228.6h0M253.5 228.8h0M245.6 223.8h0M246.5 221.9h0M253.2 231.7h0M247.8 221.1h0M255.8 227.6h0M240.6 226.3h0M245.7 235.9h0M254.8 226.9h0M252.7 233.1h0M250.6 233.4h0M246.8 222.9h0M248.1 218.9h0M250.2 227.1h0M257 227h0M256.9 224.2h0M243.3 234.1h0M256.4 222.1h0M243.8 224.3h0M255.3 226.6h0M243.6 228.9h0M252 229.1h0M248.2 231.3h0M242.9 228.4h0M248.4 237.7h0M242.9 229.3h0M245.2 240.2h0M240.8 241.7h0M241.4 236.3h0M244.5 239.5h0M241.1 242.6h0M244.3 238.2h0M236.9 242h0M244.2 239.3h0M236.9 241.1h0M240 236.7h0M241.6 232.6h0M243 239.1h0M243.9 238.7h0M263.5 220.3h0M265.1 220.4h0M264 227.7h0M260.8 231.2h0M260.8 231.4h0M265.7 230h0M263.7 229.2h0M265.7 229.2h0M266.4 230h0M262.3 231.6h0M262.2 233h0" stroke="#c4bcf0" stroke-width="1.16" stroke-linecap="round" fill="none"/>
<path d="M252.2 233.1h0M246.1 220.7h0M258 225h0M253.8 221.9h0M247.2 224.8h0M256.1 224.2h0M246.8 224.7h0M247.2 235.8h0M254.3 228.4h0M246.1 220.7h0M255 227.9h0M248.4 232.7h0M256.9 224.3h0M244.2 221.3h0M247.9 234.8h0M249.3 222.6h0M252.2 234.7h0M248 234.2h0M242.1 229h0M248.7 232.7h0M245 234.4h0M251.7 231.8h0M245.8 226.4h0M251.5 232.3h0M247.8 219.5h0M253.3 234.1h0M259 224.7h0M254.8 230.1h0M248.6 225.9h0M244.9 232.8h0M251.7 225h0M244.9 231.7h0M250.5 235.2h0M251.6 230.3h0M252 225.2h0M250 236.3h0M250.7 221.2h0M244 220.9h0M250.6 224.1h0M258.6 221.6h0M246.2 232.7h0M252.4 222.1h0M254.2 221.6h0M250.2 226.3h0M252.1 220.7h0M253.7 222h0M254.8 227.9h0M245.1 230.8h0M256 225h0M258.9 224.1h0M256.1 224.4h0M242.4 226.1h0M247.4 218.7h0M243.5 234h0M245.9 229.8h0M258.1 226.1h0M244.8 229.6h0M240.1 224.1h0M258.1 222.3h0M249.4 222.2h0M253.7 223.3h0M248.8 220.6h0M249.1 226.7h0M249.7 225.1h0M249 228.1h0M241.4 224.2h0M252.6 225h0M243 222.8h0M256 224.8h0M247.8 226.8h0M245.8 220.1h0M240.2 226.9h0M246.6 222.7h0M260.1 224.6h0M247.4 232.9h0M250.7 227h0M252.8 233.4h0M245.6 235.2h0M251.4 224.8h0M244.6 225.1h0M252.4 229.6h0M243.6 225.6h0M258.6 227.6h0M247.6 219.9h0M252.4 228.2h0M245.1 234.8h0M242.1 230.1h0M245.8 229.2h0M246.1 234.4h0M247.7 224.9h0M239.7 241.7h0M238.2 240h0M240.2 239.5h0M237.8 239h0M242.2 232.8h0M245 235.6h0M241.5 240.6h0M240.1 235.4h0M237.4 240.9h0M236.5 240.4h0M240.8 240.8h0M242.8 237.5h0M240 238.3h0M237.9 240.3h0M243.4 237.6h0M247.8 238.5h0M238.3 237.1h0M235.5 240.7h0M237.6 240.7h0M242.9 237.6h0M240.4 239h0M244.2 233.4h0M240.8 236.9h0M242.1 234h0M245.1 238.5h0M243.5 241.7h0M262.6 221.9h0M261.9 224h0M262.2 222.4h0M264.1 221.8h0M264.3 225.2h0M263.1 222.1h0M262.3 224h0M262.5 223h0M261.8 231.1h0M260.6 232.2h0M261.3 229.3h0M264.1 231.8h0M263.9 229.7h0M262.9 234h0M267.9 228.7h0M260.5 233.4h0M262.2 231h0M263.1 229.9h0" stroke="#8f80f0" stroke-width="1.16" stroke-linecap="round" fill="none"/>
<path d="M255.8 228.3h0M247.9 225.8h0M251.1 219.7h0M250.5 226.9h0M246.1 231.8h0M256.1 228.1h0M246.4 222.1h0M251.7 230.8h0M245 230.5h0M249.2 221.4h0M250 234.7h0M256.7 224h0M254.9 226h0M254.3 231.5h0M246.9 220.4h0M250 225h0M252.2 233.6h0M245.6 220.8h0M244.5 228.6h0M257.6 225.3h0M248.7 226.8h0M252 220.8h0M253.5 230.4h0M248.1 223.9h0M251 220.7h0M258.2 223h0M254 230.2h0M244.5 232.1h0M244.1 228.8h0M242.1 227h0M249.1 232.9h0M245.2 222h0M252.6 226.4h0M246.8 221h0M254.4 226.2h0M251.2 221.4h0M244.7 224.7h0M253.7 228.6h0M243.4 231.3h0M249 222.2h0M249.9 228.9h0M247.9 232.2h0M245.7 228.3h0M258.4 222.9h0M254.1 229.8h0M252.4 224.6h0M245.6 236.6h0M251 225h0M242.9 227.6h0M250.9 226.7h0M245.8 223.4h0M255 228h0M247.6 220.8h0M247.1 233.8h0M252.8 224.6h0M243.3 225.6h0M246 228h0M239.5 225h0M252.5 222.7h0M255.9 223.9h0M246.4 234.3h0M253.4 231.4h0M249.4 226.9h0M251.7 220.5h0M243.2 223.8h0M248 223.7h0M255.4 228.8h0M257.1 224.4h0M246.9 236.6h0M248.7 234.7h0M246.7 225.8h0M241.9 223.8h0M248.9 228.1h0M249.7 230.9h0M254.9 223.7h0M246.9 219.3h0M249.2 232.9h0M251.9 222.3h0M239.9 228.6h0M258.6 223.7h0M243.5 230.2h0M252.7 227.5h0M245.4 234.7h0M243.5 222.4h0M249.8 233.8h0M258 225.2h0M252.1 221h0M247.8 223.4h0M251.7 226.1h0M247 235.7h0M250.9 230.2h0M245.4 229.1h0M252.4 228.6h0M241.4 228.9h0M255.8 223.9h0M257.6 223.5h0M248.6 221h0M252.6 233h0M246.5 227.6h0M250.4 227.4h0M256.6 225.1h0M253.8 225.5h0M257.1 223.1h0M246.3 232.3h0M250.3 225.6h0M243 223.7h0M250.3 230.4h0M256 229.7h0M242.2 231.5h0M251.9 227.5h0M240.5 228.6h0M256.9 225.3h0M243.5 226.4h0M246.3 222.1h0M253.4 221.9h0M250.5 220.8h0M245.4 231.9h0M242.4 229.6h0M243.6 223.3h0M253.9 222.4h0M248.6 231.4h0M246.6 228.7h0M246.4 225.5h0M250.7 226.6h0M250.3 226h0M243.2 231.2h0M254.6 228.8h0M250.5 231.1h0M247.1 220.5h0M255.7 228.9h0M239.7 242h0M246.4 239.3h0M239.2 237.4h0M244.1 237h0M238.5 238.4h0M239 240.1h0M240.5 237.9h0M244.6 236.6h0M242.8 240.3h0M244.4 239.6h0M244.8 239.8h0M239.8 239.9h0M246.4 237.5h0M240.5 234.1h0M239.1 234.7h0M236.3 237.6h0M245.6 237.3h0M246.3 237.2h0M246.6 240.4h0M241 239.6h0M246.9 235.6h0M245.5 238.8h0M243.9 241.7h0M242.3 233.6h0M242.7 235.5h0M238.8 235.4h0M243.2 239.9h0M247.9 238.4h0M246.4 237.9h0M242.4 235.1h0M243.9 236.4h0M240.6 234.7h0M238.5 239.1h0M240.3 235.4h0M242.7 240.7h0M242.5 234.3h0M247.2 236.9h0M241.8 235.2h0M263.3 223.8h0M265.7 223.8h0M262.7 222h0M264.4 224.1h0M263.2 221.8h0M264.6 224h0M264.3 221.9h0M264.8 223.1h0M262.1 223.3h0M261 221.8h0M265 224.2h0M263.9 222.1h0M263.8 222.2h0M264.5 221.4h0M267.6 229.3h0M265.4 232.7h0M264.6 228.2h0M266.6 228h0M263.8 229.8h0M263.9 235.2h0M261.4 233.2h0M268.2 232.2h0M265.5 226.8h0M260.1 232.5h0M264.6 227.4h0M268.3 229.2h0M265.3 229.3h0" stroke="#5a46ee" stroke-width="1.16" stroke-linecap="round" fill="none"/>
<line x1="232.3" y1="214.5" x2="232.3" y2="246.35" stroke="#000" stroke-width="0.9"/>
<line x1="231.85" y1="245.9" x2="273.8" y2="245.9" stroke="#000" stroke-width="0.95"/>
<line x1="229.7" y1="221.17" x2="232.3" y2="221.17" stroke="#000" stroke-width="0.7"/>
<text transform="translate(228.4 223.47) scale(0.92 1)" font-size="6.5" text-anchor="end" stroke="#111" stroke-width="0.06">3</text>
<line x1="229.7" y1="229.22" x2="232.3" y2="229.22" stroke="#000" stroke-width="0.7"/>
<text transform="translate(228.4 231.52) scale(0.92 1)" font-size="6.5" text-anchor="end" stroke="#111" stroke-width="0.06">0</text>
<line x1="229.7" y1="237.17" x2="232.3" y2="237.17" stroke="#000" stroke-width="0.7"/>
<text transform="translate(228.4 239.47) scale(0.92 1)" font-size="6.5" text-anchor="end" stroke="#111" stroke-width="0.06">−3</text>
<line x1="229.7" y1="245.21" x2="232.3" y2="245.21" stroke="#000" stroke-width="0.7"/>
<text transform="translate(228.4 247.51) scale(0.92 1)" font-size="6.5" text-anchor="end" stroke="#111" stroke-width="0.06">−6</text>
<line x1="240.1" y1="245.9" x2="240.1" y2="247.9" stroke="#000" stroke-width="0.6"/>
<text transform="translate(238.5 255.4) scale(0.92 1)" font-size="6.5" text-anchor="middle" stroke="#111" stroke-width="0.06">−4</text>
<line x1="251.4" y1="245.9" x2="251.4" y2="247.9" stroke="#000" stroke-width="0.6"/>
<text transform="translate(251.4 255.4) scale(0.92 1)" font-size="6.5" text-anchor="middle" stroke="#111" stroke-width="0.06">0</text>
<line x1="262.8" y1="245.9" x2="262.8" y2="247.9" stroke="#000" stroke-width="0.6"/>
<text transform="translate(262.8 255.4) scale(0.92 1)" font-size="6.5" text-anchor="middle" stroke="#111" stroke-width="0.06">4</text>
<text transform="translate(254.7 212.2)" font-size="7.2" text-anchor="middle" fill="#1a1a1a">Il7r</text>
<rect x="276.9" y="220.5" width="4.9" height="23.2" fill="url(#cb)"/>
<text transform="translate(283.3 228.35)" font-size="5.9" fill="#2a2a2a">7.5</text>
<text transform="translate(283.3 234.1)" font-size="5.9" fill="#2a2a2a">5.0</text>
<text transform="translate(283.3 239.6)" font-size="5.9" fill="#2a2a2a">2.5</text>
<text transform="translate(283.3 245.1)" font-size="5.9" fill="#2a2a2a">0.0</text>
<g filter="url(#bl2)">
<polygon points="315.12,223.43 319.5,220.93 322.62,218.8 326.38,218.43 328.88,220.93 333.25,221.55 337,222.8 335.75,226.3 333.25,229.05 330.75,231.3 328.88,234.05 326.38,235.93 323.25,237.43 320.75,235.3 318.25,232.55 316,228.43" fill="#a094f0" fill-opacity="0.52"/>
<polygon points="311.38,240.05 313.25,237.18 315.75,234.05 318.25,232.3 321,234.8 323.88,236.8 324.5,237.8 323.25,239.68 319.5,242.18 314.5,242.68" fill="#a094f0" fill-opacity="0.52"/>
<polygon points="336.75,222.43 339.5,220.3 342.62,220.93 342.75,224.05 340.12,225.93 337.62,224.8" fill="#dcdcde" fill-opacity="0.35"/>
<polygon points="336.38,229.05 339.5,227.18 343.88,227.8 346.38,230.3 345.12,233.43 342,235.3 337.62,234.3 335.75,233.43" fill="#dcdcde" fill-opacity="0.35"/>
</g>
<path d="M332.4 223.1h0M322.7 225.5h0M326.1 219.4h0M332.1 230.3h0M324.8 223.4h0M327.6 219.4h0M330.7 229.1h0M325.1 221.3h0M321.8 226.4h0M333.1 226.8h0M318.6 231.8h0M330.2 223.6h0M330.8 230.5h0M323.6 220.4h0M325.6 218.9h0M323.6 230.2h0M317.6 226.7h0M319.2 230.5h0M321.8 232.4h0M329.4 222h0M316.8 236.6h0M313.6 240.8h0M314.1 238.1h0M340.3 224.3h0M337.8 222h0M339.7 222.6h0M339.5 225.3h0M342.9 223.5h0M338.3 224.5h0M338.3 223h0M339.1 224.8h0M342.7 222.6h0M341.3 221.3h0M336.9 223.9h0M341.2 224.2h0M341.6 220.8h0M341.5 222.3h0M338.5 224.3h0M339.1 222.6h0M341.6 222.5h0M340 223.5h0M342.5 223.7h0M342.5 222.3h0M341.8 222.7h0M336.6 232.3h0M341.7 232.5h0M345.3 232.6h0M336 230.8h0M341.7 231.3h0M339.6 230.2h0M340.3 228.6h0M344.2 231.9h0M342 234.4h0M337.8 230.6h0M339 231.6h0M337 233.2h0M343.3 233.2h0M342.3 228.1h0M335.6 232.9h0M344.6 227.5h0M336.8 230h0M343.7 229.8h0M339.2 234.4h0M343.4 231.9h0M339.7 234.6h0M344 229.9h0M340.3 231h0M345.4 228.7h0M338.3 229.4h0M342.1 229.4h0M342.9 230.6h0M345.8 229.2h0M339.5 229.8h0M337.2 233.8h0M345.2 229h0M343.9 229h0M344.2 231.9h0M339.8 230.6h0M341.2 232.6h0M343.1 229h0M338.6 232.9h0M339 230.6h0M339.5 233.7h0M339.9 230.1h0M342.2 230.3h0M343.1 230.4h0M342.4 235.7h0M338.1 232.1h0M336.1 232.3h0M338 233h0M338.7 232.9h0M341.4 230.8h0M336.9 232h0M340 232.2h0M338.2 227.8h0M337.5 233.6h0M342.9 229h0" stroke="#d4d4d7" stroke-width="1.64" stroke-linecap="round" fill="none"/>
<path d="M336.1 223h0M325.5 226.6h0M335 226.6h0M326.8 230.2h0M333.3 225.6h0M329.8 225.4h0M327.2 228.3h0M334.2 222.7h0M329.8 226.2h0M321.3 222.9h0M326.1 223.3h0M326 224.9h0M325.8 220.9h0M326.3 226.8h0M327.3 229.1h0M331.8 223.1h0M323.2 231.9h0M334.3 226h0M323 229h0M326.3 235.4h0M322.8 231.9h0M330.7 231.9h0M328.5 228.6h0M322 220.6h0M335.7 226.8h0M327 229.2h0M316.6 223.5h0M324.8 236.2h0M328.3 223.4h0M317.9 222.6h0M321.9 228.8h0M325.9 231.8h0M325.7 227.1h0M326.6 220.9h0M326.9 228.5h0M327.2 231.2h0M322.1 224.5h0M316.3 227.6h0M333.9 223.9h0M321.9 233.3h0M319.5 231.8h0M318.9 227.9h0M334.3 223.3h0M320.9 236.5h0M318.4 239.1h0M320.4 238.7h0M317.4 237.2h0M316 241.7h0M311.9 239.7h0M315.7 240.6h0M322 236.1h0M317.5 233h0M319.1 239.3h0M313.1 238.3h0M338.7 221.9h0M343.4 233h0M340.4 233.6h0" stroke="#c4bcf0" stroke-width="1.16" stroke-linecap="round" fill="none"/>
<path d="M323.6 224.6h0M330.7 226.4h0M334.4 225h0M317.1 224.3h0M328.3 230.3h0M330.5 229.9h0M335 223.5h0M336.2 224.5h0M333.3 226.9h0M324.4 234.1h0M323.1 231.5h0M328.3 227.4h0M333.3 223.3h0M325.9 233.7h0M332.5 222.1h0M323.4 224.5h0M330.7 226.8h0M328.4 223.8h0M319.5 225h0M323.1 222.4h0M322.9 227.2h0M320.8 225.2h0M324.7 225.3h0M323.4 219.3h0M321.3 231.6h0M327.7 223.5h0M324.8 228h0M318 229.1h0M318.2 222.5h0M334.9 223.9h0M315.3 225.3h0M329.4 226.2h0M333.7 222.8h0M330.4 223.6h0M324.4 223.6h0M317.2 222.7h0M332.3 223h0M328.6 224.9h0M323.9 219.4h0M327.9 233.6h0M315.9 224.4h0M328.4 224.3h0M329.2 230.8h0M328.7 231h0M332.8 227.6h0M322.8 235.1h0M328.5 222.6h0M329.2 229h0M321.9 224.8h0M320.7 235.1h0M331.6 223.4h0M327.7 224h0M326.1 231.4h0M334.2 224.4h0M335.1 224.2h0M322.1 221.8h0M323.1 223.5h0M330.5 226.4h0M325 230.5h0M328 221.3h0M333.6 222.7h0M333.5 227.3h0M323.7 234.9h0M321.1 220.9h0M323.1 229.9h0M329.3 224.8h0M317.3 231.7h0M327 218.4h0M335.7 223h0M322.8 235.6h0M318.3 226.9h0M326.1 226.3h0M316 227.7h0M319.3 221.2h0M326.3 219.6h0M324.2 223.6h0M323.7 234.2h0M327.6 226.5h0M327 219.9h0M312.9 238.7h0M316.7 235.9h0M320.6 235h0M316.7 242.5h0M315.4 234.9h0M314.3 239.2h0M315.7 234.2h0M320.1 241.6h0M316.2 240.7h0M318.4 236.2h0M311.8 240.5h0M316 241.2h0M316.1 239.6h0M313.1 241.1h0M320 237.6h0M318.7 235.1h0M312.8 237.1h0M321.3 240.7h0M320.1 236.1h0M314.7 236.8h0M315.5 236h0M320.7 239.5h0M315 241.7h0M319.1 234.8h0M322.9 235.8h0M312.1 239.4h0M342.6 224.2h0M339.3 225.2h0M340.5 224.2h0M338.2 224.2h0M342.9 230.3h0M342.5 230.7h0M340.5 229.8h0" stroke="#8f80f0" stroke-width="1.16" stroke-linecap="round" fill="none"/>
<path d="M319.7 231.1h0M323.5 230.6h0M321.6 221.7h0M324.4 229.1h0M326.5 231.7h0M318.9 225.8h0M335.1 223.1h0M332.9 229.3h0M323.6 225.5h0M325.8 225.4h0M317.1 223.8h0M321.9 233.3h0M324.8 222.6h0M323.9 234.4h0M324.7 231.3h0M335 224.1h0M319.6 225.5h0M323.4 225.4h0M328.6 225.8h0M324.8 229.1h0M326.9 229.3h0M323.2 219.5h0M331.6 223h0M317.1 227.2h0M326.2 230.2h0M330.4 229.4h0M332.2 224.9h0M320.3 229.6h0M326.2 226.5h0M329.9 233.5h0M325.8 223.5h0M334.2 227.5h0M323 233.9h0M330.6 225.6h0M320.1 224.3h0M319.3 229.3h0M325.5 230.7h0M328.4 231.2h0M333.8 226.8h0M334.7 224h0M330.6 227.5h0M321.4 221.8h0M331 226.5h0M325.3 227.5h0M328.1 228.8h0M324.9 233.1h0M320.1 226.8h0M321 228.8h0M327.7 220.4h0M321.1 227.8h0M321.1 226.6h0M333.7 226.9h0M317.6 227.9h0M319.7 224.9h0M321.1 228.3h0M322.8 219.5h0M334.2 224.8h0M333.1 228.6h0M327.3 227.4h0M324.5 222.2h0M323.4 220.1h0M323.4 219.3h0M324.8 227.1h0M323.7 230h0M333.4 225.4h0M326.2 232.6h0M324.1 222h0M328.5 232.4h0M331 224.8h0M322.3 225.7h0M325.6 223.8h0M328 230.9h0M334 221.5h0M323 219.6h0M332.1 230.3h0M321.3 227.3h0M323.3 227.9h0M322.4 232.1h0M318.3 228.7h0M320.4 231.4h0M323.7 221.1h0M321.2 227.6h0M333.7 224.5h0M322.8 232h0M323.6 228.4h0M326.6 229.6h0M316.5 224.6h0M319.7 234.6h0M316.4 223.7h0M324.4 235.5h0M331 231h0M334.3 224.9h0M321 232.9h0M329 232.6h0M317.4 228h0M329.4 226.7h0M324.7 231.5h0M327.6 225h0M325.4 218.1h0M317.6 229.6h0M321.2 229.9h0M332.2 223.7h0M329.1 225.3h0M322.6 227.6h0M326.8 233.7h0M328.6 230.4h0M327.9 221.7h0M329.8 223.6h0M326.7 223.7h0M332.4 227.9h0M322.1 232.3h0M325 226.7h0M323.1 228.5h0M325.3 224.3h0M329.2 222.1h0M323.9 236.7h0M318.2 227.6h0M333.2 227.4h0M321.4 226.2h0M335.7 225h0M318.7 221.7h0M336.3 222.1h0M327.8 233.3h0M317.8 223.6h0M325.3 224.8h0M323.2 225.4h0M315.7 224.4h0M320.7 232.9h0M326.5 234.1h0M335.4 227.4h0M328.1 222.4h0M330.6 228.6h0M320 225.2h0M325.9 229.4h0M324.1 229.5h0M322.2 233.6h0M323.2 232.5h0M328.1 220h0M321.8 227h0M330.6 227h0M317.8 223.4h0M319.6 223.9h0M318.3 226.8h0M328.2 221.8h0M337.6 223h0M327.9 224.5h0M333.7 222.6h0M322.9 228.6h0M324.3 224.4h0M320.1 229.8h0M325.5 220.7h0M320.5 235.8h0M334.5 224.8h0M323.9 234h0M322.5 221.7h0M324.2 229.6h0M335.1 222.7h0M323.5 223.6h0M320.6 239.4h0M316 240.8h0M320 236.7h0M315 236h0M318.6 233.7h0M314.8 238.8h0M322.4 237.2h0M316.5 241.8h0M314.9 242.1h0M315.8 238.2h0M320.8 238.3h0M320.3 236.5h0M317.8 232.8h0M315.7 239.1h0M315.9 242.4h0M320.6 234.6h0M314.1 238h0M319.8 237.4h0M313.9 238.6h0M320.7 238.5h0M317.9 242.1h0M315.8 237.1h0M315.6 235.5h0M322.3 236.6h0M320 234.2h0M323.3 238.7h0M311.5 239.9h0M321.5 237.3h0M321.1 240.7h0M314 239.5h0M320.5 236h0M320.3 235.6h0M319.8 234.2h0M315.6 241.9h0M318.3 238.9h0M322.5 238.4h0M314.1 240.4h0M317.8 242.3h0M320.6 235.9h0M318.7 236.9h0M338.3 224.4h0M339.5 224.8h0M338.4 224.1h0M338.8 221h0M338.2 232.6h0M345.5 230h0M342.6 233.8h0M340.8 231h0M341.7 233.1h0M339.8 228.8h0" stroke="#5a46ee" stroke-width="1.16" stroke-linecap="round" fill="none"/>
<line x1="308.25" y1="214.5" x2="308.25" y2="246.35" stroke="#000" stroke-width="0.9"/>
<line x1="307.8" y1="245.9" x2="349.75" y2="245.9" stroke="#000" stroke-width="0.95"/>
<line x1="305.65" y1="221.17" x2="308.25" y2="221.17" stroke="#000" stroke-width="0.7"/>
<text transform="translate(304.35 223.47) scale(0.92 1)" font-size="6.5" text-anchor="end" stroke="#111" stroke-width="0.06">3</text>
<line x1="305.65" y1="229.22" x2="308.25" y2="229.22" stroke="#000" stroke-width="0.7"/>
<text transform="translate(304.35 231.52) scale(0.92 1)" font-size="6.5" text-anchor="end" stroke="#111" stroke-width="0.06">0</text>
<line x1="305.65" y1="237.17" x2="308.25" y2="237.17" stroke="#000" stroke-width="0.7"/>
<text transform="translate(304.35 239.47) scale(0.92 1)" font-size="6.5" text-anchor="end" stroke="#111" stroke-width="0.06">−3</text>
<line x1="305.65" y1="245.21" x2="308.25" y2="245.21" stroke="#000" stroke-width="0.7"/>
<text transform="translate(304.35 247.51) scale(0.92 1)" font-size="6.5" text-anchor="end" stroke="#111" stroke-width="0.06">−6</text>
<line x1="316.05" y1="245.9" x2="316.05" y2="247.9" stroke="#000" stroke-width="0.6"/>
<text transform="translate(314.45 255.4) scale(0.92 1)" font-size="6.5" text-anchor="middle" stroke="#111" stroke-width="0.06">−4</text>
<line x1="327.35" y1="245.9" x2="327.35" y2="247.9" stroke="#000" stroke-width="0.6"/>
<text transform="translate(327.35 255.4) scale(0.92 1)" font-size="6.5" text-anchor="middle" stroke="#111" stroke-width="0.06">0</text>
<line x1="338.75" y1="245.9" x2="338.75" y2="247.9" stroke="#000" stroke-width="0.6"/>
<text transform="translate(338.75 255.4) scale(0.92 1)" font-size="6.5" text-anchor="middle" stroke="#111" stroke-width="0.06">4</text>
<text transform="translate(330.65 212.2)" font-size="7.2" text-anchor="middle" fill="#1a1a1a">Ccr7</text>
<rect x="352.85" y="220.1" width="4.9" height="23.1" fill="url(#cb)"/>
<text transform="translate(359.25 223.8)" font-size="5.9" fill="#2a2a2a">8</text>
<text transform="translate(359.25 229.5)" font-size="5.9" fill="#2a2a2a">6</text>
<text transform="translate(359.25 235.1)" font-size="5.9" fill="#2a2a2a">4</text>
<text transform="translate(359.25 240.8)" font-size="5.9" fill="#2a2a2a">2</text>
<text transform="translate(359.25 246.3)" font-size="5.9" fill="#2a2a2a">0</text>
<g filter="url(#bl2)">
<polygon points="386.38,223.43 390.75,220.93 393.88,218.8 397.62,218.43 400.12,220.93 404.5,221.55 408.25,222.8 407,226.3 404.5,229.05 402,231.3 400.12,234.05 397.62,235.93 394.5,237.43 392,235.3 389.5,232.55 387.25,228.43" fill="#dadadc" fill-opacity="0.6"/>
<polygon points="382.62,240.05 384.5,237.18 387,234.05 389.5,232.3 392.25,234.8 395.12,236.8 395.75,237.8 394.5,239.68 390.75,242.18 385.75,242.68" fill="#dadadc" fill-opacity="0.6"/>
<polygon points="408,222.43 410.75,220.3 413.88,220.93 414,224.05 411.38,225.93 408.88,224.8" fill="#dcdcde" fill-opacity="0.35"/>
<polygon points="407.62,229.05 410.75,227.18 415.12,227.8 417.62,230.3 416.38,233.43 413.25,235.3 408.88,234.3 407,233.43" fill="#dcdcde" fill-opacity="0.35"/>
</g>
<path d="M391.1 232.3h0M398.1 223.4h0M392.4 230h0M393.8 224.9h0M393.4 223.8h0M401.3 230.6h0M398.1 235h0M402.7 228.5h0M403.4 227.8h0M393.1 234h0M405.6 226.5h0M402.4 221.5h0M399.4 222.2h0M387.8 228h0M405.7 224.5h0M398.4 234.1h0M398.5 230h0M394.3 237.1h0M395.1 226h0M398.8 228.9h0M399.1 228.4h0M388.7 231.3h0M398 231h0M393.9 223.6h0M395.1 231.4h0M402.9 229.1h0M394 223.4h0M390.7 225.6h0M401.5 224.9h0M399.6 232.5h0M397.5 221h0M391 228.5h0M399.6 224.5h0M401.6 221h0M399.4 225.8h0M406.5 225h0M401.8 225h0M390.5 231.8h0M392.6 234.7h0M395 229.3h0M405.9 224.6h0M406.3 223.2h0M399.8 227.7h0M391 224.6h0M396.2 230.4h0M395.9 230.6h0M395.3 230h0M395.5 227.8h0M403.2 230.1h0M388.6 225.2h0M397.4 231.5h0M394.3 232h0M391.7 230.7h0M393.1 223.4h0M390.5 224.8h0M402.4 222.5h0M403.4 229.4h0M398.1 229.8h0M402.4 227.9h0M398.3 235.8h0M394.4 231.1h0M396.1 233.4h0M390 225.7h0M394.1 235.8h0M390.3 226.5h0M395.7 222.9h0M398.9 224.3h0M406.5 226h0M393.2 231.1h0M404.1 226h0M393.3 223.6h0M395.9 218.8h0M396 233.9h0M389.7 224.1h0M393.7 223.1h0M391.1 220.8h0M402.6 231.2h0M391.1 234.3h0M402.9 222.6h0M388 227.8h0M388.9 227.1h0M394.5 224.1h0M391.1 231.1h0M390.9 224.6h0M401.9 225.6h0M399.6 229.8h0M398.3 233.1h0M395.6 236.4h0M398.4 229h0M395 232.9h0M394.8 233.9h0M401.2 231.3h0M395.1 229.7h0M397.1 233.2h0M406.1 224h0M389.6 226.6h0M387.6 228h0M397.3 221.3h0M398.5 223.4h0M395.5 234.1h0M392.1 229.9h0M395.2 231.7h0M398.3 220.3h0M395.1 221h0M389.1 231.2h0M394.9 236.4h0M405.7 224.5h0M406 225.9h0M395 224.1h0M392 223.1h0M388.8 225.2h0M391.6 232.2h0M398.1 233.5h0M389.9 221.9h0M398.5 233.3h0M395.2 228.4h0M391.7 222.6h0M394.6 226.4h0M393 224.5h0M386.7 224.1h0M399.4 225.1h0M405.6 223.6h0M397.2 228.2h0M394.9 218.3h0M403.2 225.4h0M397.9 230.3h0M387.3 229.6h0M395.5 222.2h0M391.8 223.8h0M387.7 224.3h0M401.7 226h0M391.2 232.4h0M396.2 228.7h0M393 225.2h0M400.4 220.5h0M401.6 224.2h0M407.1 224.6h0M397 222.7h0M401.3 229.9h0M399.3 224.4h0M396.7 231.7h0M397.8 227.9h0M398.7 235.1h0M394.2 229.6h0M402.1 230.2h0M398.4 231.1h0M398.7 225.9h0M396.9 222h0M395.3 224.3h0M395.9 232.8h0M398.6 225h0M392.5 219.9h0M390.6 232.5h0M407.3 224.1h0M404.6 225.9h0M389.1 225.6h0M399.3 220.5h0M394.3 224.4h0M388.9 228.4h0M395.8 233.9h0M394.2 234.9h0M402.1 222.6h0M399.4 222.9h0M391.6 221.9h0M396.1 228h0M389.6 224.8h0M395.6 231.9h0M390.9 233.1h0M387.7 226.5h0M396.2 222.6h0M395 235.9h0M397.1 226.2h0M386.9 225.1h0M388.7 228.6h0M393.8 233.4h0M395.1 233.7h0M399.1 219.3h0M390.7 230.2h0M398.2 233.8h0M389.1 222.5h0M397.2 226.9h0M393.3 234.9h0M401.2 231.4h0M387.9 228h0M406 226.2h0M400.3 230.3h0M401 229.4h0M395.8 229.1h0M407.6 222.9h0M395.6 234.7h0M386.9 226.4h0M399.7 229.6h0M392.1 227.6h0M402.1 223.4h0M397.8 228h0M390.2 230.5h0M391.9 229.6h0M395.3 227.4h0M402 230.1h0M393.7 233.2h0M406.3 222.9h0M389.5 226h0M398.6 220.6h0M408.7 223.1h0M401.3 228.4h0M390.5 233h0M386.9 227.9h0M402.1 226.8h0M390.1 232.5h0M393.1 234.6h0M396.2 225.7h0M392.1 227.3h0M393.1 221.2h0M404.2 227.7h0M405.2 222h0M399.6 234h0M387.6 224.2h0M389.9 223.1h0M389.5 228.1h0M403.6 224.3h0M400.2 224.4h0M402.7 221.8h0M400.4 224.9h0M395.4 235.5h0M390.7 223.8h0M398.1 223h0M391.8 227.1h0M386.7 224.1h0M401 226.9h0M396.3 233.5h0M397.9 229h0M396.5 226.3h0M391.1 230.7h0M388.9 224.7h0M390.8 232.1h0M393.9 231.6h0M397.2 232.4h0M395.6 222.5h0M390 227.4h0M403.2 229.3h0M397.6 227h0M392.1 225.8h0M402.7 227.4h0M386.4 223.8h0M398.5 220h0M392.3 231.6h0M392.2 226.9h0M395.7 235.5h0M399.9 229.5h0M390 222.8h0M394.3 232.8h0M400.7 229h0M392.8 222.5h0M401.9 226.2h0M394.1 234h0M389 230.6h0M398 228.4h0M388.7 228h0M391.8 228.9h0M398.1 224.7h0M397.4 222.8h0M388.8 224h0M391.1 232.3h0M394.7 225.8h0M391.6 233.5h0M388.7 226.8h0M402.6 226.7h0M393.3 224.8h0M407.2 226.2h0M388.7 227.4h0M389.8 224.2h0M403.4 224.3h0M391.1 224.2h0M397.8 228.3h0M393.4 234.9h0M397.4 225.1h0M398.7 233.5h0M391.5 226.5h0M393.2 223.9h0M394.1 221.7h0M393.4 219.8h0M388.8 231.2h0M395.2 221.6h0M394.3 237.4h0M391.2 240.8h0M384.4 241h0M387.3 236.9h0M386.2 237.8h0M388 240.2h0M384.8 238.1h0M388.5 239.5h0M391.4 237h0M390.8 234.6h0M387.5 239.1h0M383.5 238.4h0M389 237.7h0M384.5 240.2h0M391.4 241.5h0M391.8 239.7h0M389.6 242h0M390.8 240.8h0M389.8 234.2h0M390.3 240.5h0M385.3 237.2h0M387.3 237h0M392.3 235.8h0M391.8 239h0M386.7 237.5h0M388 235.8h0M388.1 240.8h0M387.4 240.5h0M392 241.2h0M387.8 238.9h0M388 239h0M388.9 236.8h0M385.7 241.3h0M390.6 236.1h0M388.8 233.3h0M388.7 233.1h0M388.6 232.1h0M390.5 241.4h0M386 238.5h0M393.8 238.1h0M393.8 238.5h0M386.6 235.9h0M385.2 239h0M383.1 239.7h0M391.4 241.7h0M385.7 240.3h0M391.2 240.2h0M391.2 240.1h0M388.9 235.7h0M387.6 237.3h0M386.7 238.9h0M392.2 235.2h0M384.1 235.5h0M387.6 235.5h0M385.2 242.5h0M390.6 237.1h0M391.9 238.2h0M388.5 236.1h0M391.8 238.2h0M394.2 235.6h0M390.8 241.1h0M384 240.6h0M391 239.3h0M392.7 240.1h0M391.6 241.1h0M391.9 236h0M388.2 241.5h0M388.8 233.2h0M386.9 242.4h0M387.5 237.5h0M389 241.8h0M388.1 233.5h0M389.4 238.5h0M386.2 238h0M412 223.1h0M410.5 225.5h0M412.7 225.4h0M410.4 222.1h0M410.6 225h0M411.6 221.7h0M408.5 222.8h0M411.1 223.6h0M412.2 221.6h0M410.4 220.3h0M410.8 223.8h0M412.3 224.5h0M413.1 223.3h0M409.4 222.3h0M413.1 221.1h0M411.1 224.9h0M411.6 223.4h0M412.4 223.9h0M409.5 223.6h0M411.6 235h0M408.8 230.4h0M413.7 230.3h0M408.1 231.8h0M416.4 231.5h0M407.9 231.8h0M416.8 232.8h0M414 232.1h0M410.7 232.8h0M415.7 229.9h0M407.9 231.7h0M412.6 227h0M408.8 233.5h0M413.9 234.7h0M408.4 230.6h0M408.2 232.1h0M408.3 232.4h0M408.5 231.6h0M406.8 232.6h0M413.8 230.1h0M418 229.7h0M413.7 232.4h0M411.7 227.6h0M416.5 232.7h0M411.8 231.7h0M408.2 232.6h0M411.8 230.1h0M411.2 233h0M408.3 229.5h0M415.7 230.7h0M410.9 232.1h0M415.5 232.9h0M412.6 228.3h0M412.2 232.8h0M415.4 230.5h0M414.2 233.5h0M415.4 228.7h0M413.1 234h0M414.1 231.4h0M415.7 229.2h0M412.9 233.4h0M411.9 232.1h0M415.5 231.1h0M409.6 233.7h0" stroke="#d4d4d7" stroke-width="1.64" stroke-linecap="round" fill="none"/>
<path d="M405.1 221.7h0M390.7 232h0M403.1 223.6h0M396 234.2h0M388.5 241.8h0M392.7 234.8h0M389.2 242.2h0M408 221.9h0M411.6 222.6h0M412.2 222h0M412 233.3h0M408.5 227.8h0M411.6 227.2h0M415.8 229.3h0" stroke="#c4bcf0" stroke-width="1.16" stroke-linecap="round" fill="none"/>
<path d="M408 223.3h0M405.8 223h0M402.2 223h0M402.5 222.3h0M399.9 233.6h0M399.7 222.1h0M384.8 237.2h0M394.6 237h0M410.7 224.6h0M411.4 221.8h0M410.8 223.2h0M411.2 223.2h0M413.8 234.5h0M412.9 227.8h0M413 234.5h0M410.6 228.5h0M408.7 233.5h0M414.3 230.5h0M406.8 233.6h0" stroke="#8f80f0" stroke-width="1.16" stroke-linecap="round" fill="none"/>
<path d="M406.8 222.5h0M404.2 221.8h0M387.7 224.8h0M395 221.7h0M406.1 223.7h0M390.4 229h0M403.9 223.2h0M386.8 239.3h0M408.9 223.2h0M409.9 223.4h0M413.3 223.4h0M411.4 224.7h0M410.2 232.7h0M416.5 229.5h0M413.6 231.2h0M414.2 230.6h0M412.3 227.6h0M407.5 231.5h0M415.5 229.7h0M412.3 231.1h0M411.4 233.6h0" stroke="#5a46ee" stroke-width="1.16" stroke-linecap="round" fill="none"/>
<line x1="379.5" y1="214.5" x2="379.5" y2="246.35" stroke="#000" stroke-width="0.9"/>
<line x1="379.05" y1="245.9" x2="421" y2="245.9" stroke="#000" stroke-width="0.95"/>
<line x1="376.9" y1="221.17" x2="379.5" y2="221.17" stroke="#000" stroke-width="0.7"/>
<text transform="translate(375.6 223.47) scale(0.92 1)" font-size="6.5" text-anchor="end" stroke="#111" stroke-width="0.06">3</text>
<line x1="376.9" y1="229.22" x2="379.5" y2="229.22" stroke="#000" stroke-width="0.7"/>
<text transform="translate(375.6 231.52) scale(0.92 1)" font-size="6.5" text-anchor="end" stroke="#111" stroke-width="0.06">0</text>
<line x1="376.9" y1="237.17" x2="379.5" y2="237.17" stroke="#000" stroke-width="0.7"/>
<text transform="translate(375.6 239.47) scale(0.92 1)" font-size="6.5" text-anchor="end" stroke="#111" stroke-width="0.06">−3</text>
<line x1="376.9" y1="245.21" x2="379.5" y2="245.21" stroke="#000" stroke-width="0.7"/>
<text transform="translate(375.6 247.51) scale(0.92 1)" font-size="6.5" text-anchor="end" stroke="#111" stroke-width="0.06">−6</text>
<line x1="387.3" y1="245.9" x2="387.3" y2="247.9" stroke="#000" stroke-width="0.6"/>
<text transform="translate(385.7 255.4) scale(0.92 1)" font-size="6.5" text-anchor="middle" stroke="#111" stroke-width="0.06">−4</text>
<line x1="398.6" y1="245.9" x2="398.6" y2="247.9" stroke="#000" stroke-width="0.6"/>
<text transform="translate(398.6 255.4) scale(0.92 1)" font-size="6.5" text-anchor="middle" stroke="#111" stroke-width="0.06">0</text>
<line x1="410" y1="245.9" x2="410" y2="247.9" stroke="#000" stroke-width="0.6"/>
<text transform="translate(410 255.4) scale(0.92 1)" font-size="6.5" text-anchor="middle" stroke="#111" stroke-width="0.06">4</text>
<text transform="translate(401.9 212.2)" font-size="7.2" text-anchor="middle" fill="#1a1a1a">Gzma</text>
<rect x="424.1" y="219.4" width="4.9" height="24.4" fill="url(#cb)"/>
<text transform="translate(430.5 221.6)" font-size="5.9" fill="#2a2a2a">10.0</text>
<text transform="translate(430.5 227.9)" font-size="5.9" fill="#2a2a2a">7.5</text>
<text transform="translate(430.5 233.9)" font-size="5.9" fill="#2a2a2a">5.0</text>
<text transform="translate(430.5 239.7)" font-size="5.9" fill="#2a2a2a">2.5</text>
<text transform="translate(430.5 245.2)" font-size="5.9" fill="#2a2a2a">0.0</text>
<g filter="url(#bl2)">
<polygon points="464.57,223.43 468.95,220.93 472.07,218.8 475.82,218.43 478.32,220.93 482.7,221.55 486.45,222.8 485.2,226.3 482.7,229.05 480.2,231.3 478.32,234.05 475.82,235.93 472.7,237.43 470.2,235.3 467.7,232.55 465.45,228.43" fill="#dadadc" fill-opacity="0.6"/>
<polygon points="460.82,240.05 462.7,237.18 465.2,234.05 467.7,232.3 470.45,234.8 473.32,236.8 473.95,237.8 472.7,239.68 468.95,242.18 463.95,242.68" fill="#dadadc" fill-opacity="0.6"/>
<polygon points="486.2,222.43 488.95,220.3 492.07,220.93 492.2,224.05 489.57,225.93 487.07,224.8" fill="#dcdcde" fill-opacity="0.35"/>
<polygon points="485.82,229.05 488.95,227.18 493.32,227.8 495.82,230.3 494.57,233.43 491.45,235.3 487.07,234.3 485.2,233.43" fill="#dcdcde" fill-opacity="0.35"/>
</g>
<path d="M479.6 230.8h0M483.9 224.9h0M478.3 232h0M477.4 229.7h0M471.8 222.2h0M475 236h0M464.5 225.6h0M478.8 223.1h0M478.7 225.7h0M467.2 222.4h0M474.8 220.8h0M466.7 229.1h0M481.7 223.7h0M480.8 223.6h0M474.6 225.4h0M470.9 226.7h0M474.2 232.1h0M470.2 221.3h0M471.1 232.7h0M481.4 222.5h0M479.3 225.5h0M470 228.7h0M469.5 221.1h0M470.9 231.7h0M469.3 228.7h0M477.5 229.9h0M467.2 222.7h0M473 221h0M466.5 231.6h0M473.1 231h0M484.9 226.3h0M465.6 231.1h0M470.4 221.1h0M470.5 229.9h0M479.1 222.4h0M467.9 222.7h0M470.9 236.5h0M475.7 227h0M481.1 229.9h0M473.3 235.2h0M477.1 228.2h0M471.6 231.2h0M474.3 234.1h0M477.4 224.8h0M468.7 230.3h0M478.5 225h0M480.1 224.3h0M472.9 229h0M476.3 224.7h0M480 224.3h0M469.6 230h0M478.7 230.1h0M471.7 226.2h0M475.4 233.2h0M481.7 224.8h0M469 232.4h0M470.9 231.1h0M474.2 219.1h0M468.7 229.6h0M475.5 219.4h0M468.2 225.1h0M475.5 235.4h0M476.9 230.6h0M474.3 224.8h0M470.5 221.1h0M470.1 219.7h0M474.4 234.9h0M480.1 225.7h0M485.5 224.6h0M471.9 229.6h0M470.8 225.4h0M472.5 229.8h0M479.5 222.8h0M469.9 219.9h0M485 223.9h0M478.7 228.5h0M470.4 221.8h0M470 225.4h0M478.1 234h0M484.7 227.6h0M480.3 221.5h0M480.1 232.4h0M481.3 227h0M485.8 222.7h0M480.8 227.3h0M472.5 233h0M471.3 232.1h0M472.9 230.9h0M476.1 222h0M467.4 231.8h0M467.5 226.8h0M476.7 222.3h0M470.7 233.7h0M477.3 227.4h0M478.2 221.4h0M475.8 227.2h0M475.3 232.5h0M478.1 227.7h0M484.5 225.5h0M476.6 228.5h0M473.6 225.2h0M480.5 223.9h0M480.3 225h0M478.1 221.8h0M473.3 223.5h0M473.8 220.6h0M474.6 225.2h0M479.1 224h0M476.3 230.3h0M472 232.7h0M472.3 224.8h0M478 223.9h0M466.1 227.6h0M472.5 232.1h0M471.5 235h0M465.6 222.6h0M476.5 225h0M476.4 228.2h0M477.1 228.1h0M467.3 227.9h0M474.5 233.6h0M472.1 226.1h0M479.1 227.9h0M478.4 227.4h0M475.6 225.9h0M478.6 228.9h0M469.5 223.6h0M475.2 219.3h0M474.7 220.5h0M485 223.3h0M474.1 226.1h0M470.4 232.5h0M471.7 234.6h0M485 225.4h0M476.2 235.3h0M473.4 224.3h0M469.7 231.2h0M464.9 225.1h0M484 227.2h0M475.2 227.1h0M472.9 221.2h0M469.2 231h0M469.3 231.9h0M480.5 226.7h0M473.5 220h0M478 226.3h0M479.6 226.2h0M481.9 225.4h0M468.4 228.8h0M475 231.9h0M474.9 226.5h0M474.6 221.7h0M465.8 225.2h0M477 223.2h0M466.5 227.8h0M469 221.3h0M471.3 221.4h0M468.6 228.5h0M475.4 226.9h0M470 232.1h0M469.9 230.3h0M470.6 229.1h0M481.5 226h0M483.4 222.3h0M479.4 230.4h0M469.7 231.3h0M478.8 228.4h0M474.5 224h0M467 225.8h0M476.2 234h0M481.1 228.8h0M477.1 224.2h0M471.7 229.8h0M479.5 225.4h0M481.9 227.5h0M467.9 224.3h0M469 232.6h0M471 229.9h0M474.8 235h0M474.4 223.2h0M483.2 224.1h0M478.7 223.9h0M479.1 228.3h0M474.8 223.4h0M482.3 229.5h0M478.8 229.2h0M474.9 225.9h0M474.6 225h0M476.4 236.4h0M469.3 229.3h0M471.4 224.4h0M480.1 224.6h0M484.3 225.6h0M479.4 229.6h0M476.2 233.6h0M470.2 220.8h0M475.2 222.4h0M470.5 224.6h0M473.5 233h0M472.9 224.5h0M473.2 230.5h0M476 228.8h0M469.6 231.1h0M468.7 228.5h0M475.4 225.2h0M472.8 225h0M474.3 235.1h0M467.6 221.3h0M466.3 225.1h0M475.4 225.2h0M468.4 230.3h0M470.1 230h0M479 231h0M472.4 232.8h0M473.4 226.4h0M479.1 228.3h0M475.1 230.6h0M474.1 225.1h0M476.3 222.6h0M467.1 222.6h0M468.8 228.4h0M467.5 229.4h0M466.6 227.2h0M473.7 230.2h0M473.7 222.7h0M469.9 222.3h0M478.4 225.8h0M480.5 231.1h0M482.9 227.2h0M471.8 221.1h0M473.7 223.4h0M483.5 221.9h0M473.4 220.9h0M478.5 225.2h0M470.4 227.6h0M474.5 218.9h0M474.9 231h0M475 228.6h0M475.4 221.6h0M468.1 225.7h0M470.9 221.4h0M483.8 226h0M474.6 234h0M466.8 227.8h0M474.6 232.1h0M472.6 233.3h0M474.2 230.3h0M473.2 228.5h0M481.1 223.1h0M483.1 222.5h0M465.8 227.8h0M471 234.4h0M482.3 224.3h0M469.8 220.3h0M476 229.6h0M469.9 229.4h0M478.1 232h0M480.8 228.9h0M467.3 228.4h0M478.9 226h0M479.1 231h0M484.5 227.6h0M471.4 227h0M476.1 223.7h0M475.3 236.2h0M476.9 224.8h0M468.1 223h0M479.7 225h0M473.3 222.9h0M476.1 229.8h0M470.9 232.9h0M483.7 225h0M482.6 223.5h0M476.6 224.5h0M470.5 224.7h0M471.6 225.6h0M475.2 231.2h0M479.7 223.3h0M471 227.6h0M479.6 226.6h0M472.3 233.1h0M478.4 229.1h0M467.7 228.8h0M475.7 219.3h0M467.7 226h0M476 231.2h0M475.9 219.4h0M483 227.9h0M477.8 223.2h0M469.1 229.9h0M476.9 233h0M470 220.2h0M468.9 227.5h0M478.6 230.6h0M468.8 238.8h0M463.3 240.5h0M467.6 240.6h0M469.6 241h0M466.8 238.9h0M466.9 236.1h0M467.4 236.9h0M468.5 242.1h0M468.2 233.9h0M464 239h0M464.2 241.9h0M471.8 238.7h0M466.8 239.8h0M470.1 240.9h0M464.3 238.6h0M468.3 235.1h0M469 237.3h0M464.4 241.3h0M464.8 235.7h0M470.2 237.3h0M467.6 239.4h0M465.8 239.9h0M469.2 234.1h0M469.1 238.9h0M472 239.5h0M470.6 237.7h0M464.9 240.7h0M465.4 240.6h0M471.2 240.8h0M463.6 240.7h0M467.6 233.2h0M472.1 238.7h0M472 239.6h0M463.3 239.1h0M467.1 237.6h0M467.4 238.4h0M462.9 237.9h0M469.7 240.6h0M465.1 241.6h0M463.8 242.1h0M464.9 240.9h0M464.5 236.9h0M465.4 236.9h0M468 236h0M472.6 236.4h0M467.4 237.6h0M473.8 238.6h0M466.2 232.5h0M467.4 237.5h0M461.6 237.5h0M470 237.6h0M466.8 239.2h0M463.3 240.9h0M462.3 241.7h0M463.7 237.8h0M467.7 240.2h0M469.8 238.4h0M462.9 238h0M466.6 241.3h0M464.9 240.4h0M465.7 235.4h0M464.3 239.5h0M471.4 238.5h0M466.9 239.6h0M468.1 235.5h0M465.9 238.7h0M468.5 241.6h0M467 238.3h0M465.6 241.2h0M463.2 240.8h0M473.5 238.5h0M468.9 236.3h0M471.9 235.7h0M464.2 235.9h0M468.2 238.8h0M471.8 237.7h0M465.3 234.1h0M467.4 233.6h0M488.2 225.5h0M487.9 225.5h0M488.3 224h0M486.2 224.3h0M487.4 222.5h0M486.3 222.3h0M488.8 220.9h0M490.4 223.6h0M487.4 224.3h0M488.2 223.9h0M489.8 225h0M489.3 223.6h0M491.8 223h0M487.1 222.7h0M490.4 220.5h0M488.4 222.5h0M489.7 222.9h0M491.3 221.8h0M488.4 221.2h0M491.3 223.4h0M490.6 223.8h0M489.9 227.7h0M488.2 232.7h0M488.5 230.3h0M487.6 234.3h0M492.9 232.3h0M490.2 233.8h0M491.4 229.4h0M489.6 233.3h0M488 229.6h0M489.1 231.5h0M488.1 234.9h0M490.9 228.9h0M486.5 229.4h0M486.1 233.3h0M494 230.6h0M491 233h0M490.3 228.1h0M485.3 233.2h0M494.8 229.8h0M488.7 229.4h0M491.7 234.3h0M491.7 229.1h0M488.6 231.9h0M489.8 229.2h0M492.2 229.5h0M488 230.6h0M485.9 231.6h0M486.1 230.5h0M493.6 227.4h0M494.4 232.4h0M490.9 234.9h0M494.9 231h0M494.9 229.2h0M493.1 231.4h0M489.6 228.9h0M488.3 230.5h0M492.5 233.1h0M491.7 227.2h0M493.4 229.5h0M489 233.4h0M486.7 229.8h0M493.2 232.9h0M486.6 229.7h0M488.2 230.9h0M494.3 232.8h0M486.8 231.4h0M492.3 230.4h0M494.2 232.9h0M486.6 230.3h0M488.2 233h0M489.5 232.6h0M489.9 234h0M489.4 232.6h0" stroke="#d4d4d7" stroke-width="1.64" stroke-linecap="round" fill="none"/>
<path d="M468.9 236.5h0M466.5 237.3h0M487.5 221.6h0M490.1 232.2h0M490.8 231.7h0M487.5 229.3h0" stroke="#c4bcf0" stroke-width="1.16" stroke-linecap="round" fill="none"/>
<path d="M473.5 229.8h0M468 227.6h0M476 229.8h0M483 221.9h0M481.3 228.1h0M487.3 223.4h0M489.8 222.6h0M490.2 224.8h0M487.4 221.5h0M492.3 229.1h0M486.4 231.3h0M488.5 234.4h0M495.1 231h0M491.4 229.1h0M491.6 229.6h0" stroke="#8f80f0" stroke-width="1.16" stroke-linecap="round" fill="none"/>
<path d="M482.6 223.3h0M491.2 223.5h0M490.3 220.7h0M492.3 223.1h0M490 223.6h0M490.7 232.4h0M491 236.1h0" stroke="#5a46ee" stroke-width="1.16" stroke-linecap="round" fill="none"/>
<line x1="457.7" y1="214.5" x2="457.7" y2="246.35" stroke="#000" stroke-width="0.9"/>
<line x1="457.25" y1="245.9" x2="499.2" y2="245.9" stroke="#000" stroke-width="0.95"/>
<line x1="455.1" y1="221.17" x2="457.7" y2="221.17" stroke="#000" stroke-width="0.7"/>
<text transform="translate(453.8 223.47) scale(0.92 1)" font-size="6.5" text-anchor="end" stroke="#111" stroke-width="0.06">3</text>
<line x1="455.1" y1="229.22" x2="457.7" y2="229.22" stroke="#000" stroke-width="0.7"/>
<text transform="translate(453.8 231.52) scale(0.92 1)" font-size="6.5" text-anchor="end" stroke="#111" stroke-width="0.06">0</text>
<line x1="455.1" y1="237.17" x2="457.7" y2="237.17" stroke="#000" stroke-width="0.7"/>
<text transform="translate(453.8 239.47) scale(0.92 1)" font-size="6.5" text-anchor="end" stroke="#111" stroke-width="0.06">−3</text>
<line x1="455.1" y1="245.21" x2="457.7" y2="245.21" stroke="#000" stroke-width="0.7"/>
<text transform="translate(453.8 247.51) scale(0.92 1)" font-size="6.5" text-anchor="end" stroke="#111" stroke-width="0.06">−6</text>
<line x1="465.5" y1="245.9" x2="465.5" y2="247.9" stroke="#000" stroke-width="0.6"/>
<text transform="translate(463.9 255.4) scale(0.92 1)" font-size="6.5" text-anchor="middle" stroke="#111" stroke-width="0.06">−4</text>
<line x1="476.8" y1="245.9" x2="476.8" y2="247.9" stroke="#000" stroke-width="0.6"/>
<text transform="translate(476.8 255.4) scale(0.92 1)" font-size="6.5" text-anchor="middle" stroke="#111" stroke-width="0.06">0</text>
<line x1="488.2" y1="245.9" x2="488.2" y2="247.9" stroke="#000" stroke-width="0.6"/>
<text transform="translate(488.2 255.4) scale(0.92 1)" font-size="6.5" text-anchor="middle" stroke="#111" stroke-width="0.06">4</text>
<text transform="translate(480.1 212.2)" font-size="7.2" text-anchor="middle" fill="#1a1a1a">Gzmb</text>
<rect x="502.3" y="217.3" width="4.9" height="22.9" fill="url(#cb)"/>
<text transform="translate(508.7 224.4)" font-size="5.9" fill="#2a2a2a">6</text>
<text transform="translate(508.7 230.2)" font-size="5.9" fill="#2a2a2a">4</text>
<text transform="translate(508.7 235.9)" font-size="5.9" fill="#2a2a2a">2</text>
<text transform="translate(508.7 241.7)" font-size="5.9" fill="#2a2a2a">0</text>
<g filter="url(#bl2)">
<polygon points="239.18,278.43 243.55,275.93 246.68,273.8 250.43,273.43 252.93,275.93 257.3,276.55 261.05,277.8 259.8,281.3 257.3,284.05 254.8,286.3 252.93,289.05 250.43,290.93 247.3,292.43 244.8,290.3 242.3,287.55 240.05,283.43" fill="#dadadc" fill-opacity="0.6"/>
<polygon points="235.43,295.05 237.3,292.18 239.8,289.05 242.3,287.3 245.05,289.8 247.93,291.8 248.55,292.8 247.3,294.68 243.55,297.18 238.55,297.68" fill="#dadadc" fill-opacity="0.6"/>
<polygon points="260.8,277.43 263.55,275.3 266.68,275.93 266.8,279.05 264.18,280.93 261.68,279.8" fill="#dcdcde" fill-opacity="0.35"/>
<polygon points="260.43,284.05 263.55,282.18 267.93,282.8 270.43,285.3 269.18,288.43 266.05,290.3 261.68,289.3 259.8,288.43" fill="#dcdcde" fill-opacity="0.35"/>
</g>
<path d="M242.2 281.9h0M248 275.5h0M242.4 279.8h0M257.5 280.3h0M251 278.2h0M251 281h0M243.1 285.8h0M246.2 281.5h0M247.1 288.8h0M251.4 275.6h0M241.4 283.5h0M246.2 277.1h0M253.3 285h0M253.7 279.2h0M247.8 278.3h0M250.3 287.2h0M253.1 283.9h0M246.2 276.9h0M247 286.6h0M251.7 289.2h0M253.1 287.2h0M244.2 275.4h0M246.7 291.6h0M250.9 281h0M242.3 284.3h0M249.5 288h0M249.6 289h0M256.5 281.8h0M241.8 281.8h0M243 278h0M247.9 289.6h0M249.5 274.5h0M252.8 283.9h0M240.4 282.8h0M251.6 288.3h0M251.7 282.9h0M243.9 286.2h0M249.7 275.9h0M252.5 281.1h0M246 290.9h0M245 277.8h0M239.2 278.8h0M248.7 288.3h0M245.5 276.3h0M252.6 282.2h0M249 284.2h0M244.7 279.1h0M248.4 286.8h0M251.9 281.4h0M245.2 282.8h0M242.9 279.4h0M252 283.9h0M254.1 277.2h0M250.9 280.8h0M256.5 281.9h0M243.9 285.3h0M246.4 283.4h0M255.6 285.7h0M244.5 282.7h0M259.3 278.3h0M251 276h0M248.9 282.1h0M249.2 282.4h0M246.7 287.8h0M246.5 287.3h0M257.7 276.9h0M245.9 277.6h0M247.5 279.3h0M249.2 288.9h0M250.8 284.9h0M249.3 276.2h0M249.5 280.8h0M257.1 277.8h0M247.5 285.9h0M252.6 280.8h0M248 284.3h0M249 291.7h0M242.4 287h0M246.7 277.9h0M242.5 281.3h0M255.8 283h0M253.4 287.7h0M256.5 283.5h0M239.9 279.7h0M240.9 281.6h0M250.6 290h0M249.3 282.6h0M248.1 286.6h0M244.2 278.8h0M241.8 280.6h0M245.9 281.2h0M248 274.3h0M244.8 278.2h0M253.1 287h0M250.8 282.6h0M252 283.6h0M248.2 284.3h0M246 286.3h0M253 280.8h0M251.7 285.9h0M245.1 281.4h0M251 278.8h0M243 285.7h0M251 289.4h0M255.6 281.2h0M251.9 287.9h0M247.6 291.4h0M248.8 281.7h0M247.2 290.7h0M242.3 278h0M245.1 284.9h0M242 281.3h0M255.6 278.2h0M242.6 277.3h0M249.2 285.5h0M251.6 287.7h0M247.5 279.8h0M242.6 288.3h0M251.5 280.9h0M248.4 287.6h0M254.5 279h0M248.5 280.5h0M253.8 280.1h0M251.5 278.7h0M253.7 284.9h0M259.3 282.1h0M243.7 282.5h0M249.8 290.3h0M255.9 285h0M251.2 282.8h0M245.1 281.1h0M242.2 284h0M244.8 284.7h0M240.7 283.9h0M249 275.4h0M247.8 287.3h0M243.9 277.5h0M247.2 289.1h0M256.8 284.7h0M249.6 278.9h0M248.3 288.1h0M247.8 287.3h0M247.7 289.6h0M255.5 282.3h0M247.2 281.3h0M248.5 285.3h0M247.8 282.3h0M245.9 279.5h0M252.8 282.5h0M252.6 280.4h0M248.9 290.8h0M244.8 285.7h0M246.6 285.2h0M256.6 283.7h0M246.5 281.7h0M252 277.1h0M250.5 284.7h0M248.6 277.6h0M247.9 283.4h0M247.3 289.4h0M248.2 291.1h0M248.2 281.3h0M250.8 280.5h0M246.1 286.4h0M243.4 281h0M240.2 279.4h0M258.2 281.7h0M260.9 277.4h0M250.4 275.8h0M255.7 278.5h0M250.3 274.5h0M249 290.6h0M254.2 284.4h0M249.3 287h0M242.8 281.6h0M243.9 284.4h0M248.5 278.2h0M245.3 287.9h0M247.6 290.3h0M245.4 288.2h0M247.2 278.6h0M253.1 281.3h0M252.8 280.7h0M242.4 284.1h0M242.3 281.6h0M255.7 285.2h0M251.6 287.9h0M253.3 280h0M246.1 291.4h0M258 281.9h0M244.5 285.7h0M256.3 283.2h0M243 287h0M253.1 278.9h0M248.8 285.8h0M258.3 280.8h0M259 278.5h0M250.2 279.1h0M245.7 280.4h0M243.6 288.3h0M245.4 283.3h0M244.9 282h0M248.9 278.7h0M242.8 286.3h0M247.2 278.4h0M245.5 287.5h0M250 281.8h0M256.9 276.1h0M241.4 281.4h0M246.9 276.4h0M249.9 286.5h0M245.1 275.2h0M251.1 277.1h0M246.9 283.6h0M249.5 287.1h0M252.3 284.8h0M242.6 282.4h0M246.8 286.7h0M246.5 277.4h0M251.6 290.6h0M256.8 282.8h0M255.6 278.5h0M248.3 287.3h0M249.6 274.4h0M250.8 277.7h0M251.6 281.8h0M243.7 276.7h0M256.1 277.9h0M248.1 285.5h0M247.8 288.3h0M247.8 282.7h0M254.5 282.5h0M245.5 281.3h0M243.3 277h0M248.6 286.8h0M242.6 285.6h0M254.1 285.2h0M245.6 285.1h0M250.4 281.3h0M248.8 289.5h0M250.8 277.2h0M247 288h0M248.5 291.4h0M248.2 275.2h0M247.8 280h0M248.8 281.4h0M253 283.2h0M249.2 275.2h0M246.6 284.8h0M251.3 275.9h0M248.9 285.5h0M248.5 288.9h0M240.6 284.3h0M251.1 282.6h0M251.6 284.7h0M251.3 288.5h0M246.1 290.2h0M246.3 280.9h0M250.2 283.7h0M251 289.5h0M255.2 282.3h0M255.1 286.9h0M249.5 286.8h0M244.9 277.6h0M244 282.4h0M252.2 285.3h0M256.8 278.4h0M252.4 288.7h0M253.4 283.4h0M246.8 282.3h0M244.5 286.3h0M251 286.5h0M244.6 285.4h0M252 278.5h0M252.4 289h0M244.5 275.5h0M243.8 280.8h0M250.7 287.5h0M255.4 279.5h0M241.2 280.9h0M244.2 286h0M245 286.1h0M250.4 277.8h0M242.8 277.2h0M242.3 281.4h0M259.9 281.5h0M260.4 278h0M244.5 285.3h0M248.8 279.2h0M255.6 278.8h0M253.4 279.5h0M244.1 277.1h0M241.5 290.5h0M241.7 293.7h0M242.1 290h0M237.7 293.7h0M239.9 297.3h0M244 291.8h0M239.6 298.2h0M236.6 295.6h0M242.1 291.5h0M239.2 293.3h0M242.3 291.7h0M243.8 294.2h0M238.8 290.6h0M244.4 290.2h0M240.6 294h0M239.6 296.2h0M247.1 294.2h0M236.2 294.4h0M238.3 297.6h0M247 295.4h0M241.8 289.4h0M247 292.1h0M237.2 293.8h0M245.4 295.1h0M242.8 296.6h0M239.4 291.8h0M244.9 289.9h0M239.6 297.6h0M237.9 294.9h0M235.8 294.8h0M242.3 291.4h0M241.9 292h0M247.4 294.6h0M239 296h0M248 292.8h0M237.3 297.8h0M241.5 289h0M244.4 289.9h0M237.7 296.4h0M244.7 294.8h0M240.6 293.4h0M244.3 294h0M242.9 289.2h0M244.6 295.6h0M239.8 295.3h0M248.1 291.4h0M240.9 292.5h0M245 294.5h0M246.2 291.9h0M246.9 291.9h0M240.9 291.1h0M244.2 294h0M243.6 291.8h0M246.2 293.4h0M246.3 294.9h0M244.1 291.9h0M239.3 295.6h0M237.7 292.8h0M240 293.4h0M245.2 292.5h0M237.6 290.8h0M239.1 289.8h0M244.2 294h0M245.8 291.7h0M238.8 290.4h0M244.7 293.8h0M238 294.7h0M238.7 290.1h0M240.6 294.9h0M242.3 296.3h0M243.2 292.4h0M237.2 294.8h0M243.5 294h0M245.8 291.3h0M240.3 293.5h0M246.4 294.6h0M246.1 294.5h0M239 291.3h0M240.3 293.6h0M264.8 276h0M262.5 279.2h0M265.3 280.3h0M265.1 277.1h0M262 279.5h0M263.8 278.8h0M263.7 279.8h0M264.2 278.8h0M264.2 278.5h0M265.9 276.8h0M266.7 278.5h0M263.6 276.4h0M261.4 278.1h0M263.2 279.1h0M264.7 279.8h0M262.7 280h0M261.4 279.1h0M259.7 287.8h0M268.2 284.4h0M267.6 282.9h0M265.6 285.8h0M269.7 287.2h0M264.7 284.7h0M261.2 289.1h0M267.4 284.2h0M261.9 286.8h0M261.9 288.7h0M267.5 284.1h0M261.1 289h0M265.2 284.8h0M266.6 289.3h0M262.3 287h0M264.9 283.9h0M263.4 283.9h0M263.1 283.3h0M260.5 288.1h0M267.9 284.4h0M266 288.8h0M265 285.3h0M266.2 288.6h0M264.7 283.5h0M263.7 283.8h0M267.4 287.7h0M264.8 281.9h0M268.5 286.3h0M264.8 284.8h0M263.5 284h0M262.6 285.3h0M269.4 284.8h0M263.2 285h0M269.1 284.7h0M262.7 283h0M264.6 287.9h0M268.3 287.8h0M264.9 284.3h0M267.1 287.1h0M263.5 283h0M267.8 285.4h0M264.7 285.7h0M261.6 286.9h0" stroke="#d4d4d7" stroke-width="1.64" stroke-linecap="round" fill="none"/>
<path d="M254.8 277.1h0M256.7 278.5h0M248.9 283.7h0M256 277.6h0M243.2 283.8h0M246.4 279.2h0M264.4 279.2h0M264.3 278.9h0M263.3 275.7h0M263.9 277.1h0M268.9 288.2h0M261 283.9h0M267.4 283.5h0M267.2 290h0M264.1 288.4h0M265 282.6h0M264.4 285.8h0" stroke="#c4bcf0" stroke-width="1.16" stroke-linecap="round" fill="none"/>
<path d="M258.5 279.4h0M263.5 277.4h0M263 279.7h0M264.8 278.6h0M261.4 278.1h0M264.5 278.8h0M262.2 288.4h0M264.9 287.3h0M266.1 289.8h0M267 285.1h0M267.6 288h0M263.1 286.5h0M263.1 289.6h0M268.8 283.3h0M263.7 283.5h0M265.6 286.2h0M262.5 286.1h0" stroke="#8f80f0" stroke-width="1.16" stroke-linecap="round" fill="none"/>
<path d="M254.7 276.5h0M239.8 290.7h0M265.4 277h0M265.3 278.6h0M265.1 276.1h0M264.9 278.9h0M269.5 286.4h0M264.4 283h0M263 288.6h0" stroke="#5a46ee" stroke-width="1.16" stroke-linecap="round" fill="none"/>
<line x1="232.3" y1="269.5" x2="232.3" y2="301.35" stroke="#000" stroke-width="0.9"/>
<line x1="231.85" y1="300.9" x2="273.8" y2="300.9" stroke="#000" stroke-width="0.95"/>
<line x1="229.7" y1="276.17" x2="232.3" y2="276.17" stroke="#000" stroke-width="0.7"/>
<text transform="translate(228.4 278.47) scale(0.92 1)" font-size="6.5" text-anchor="end" stroke="#111" stroke-width="0.06">3</text>
<line x1="229.7" y1="284.22" x2="232.3" y2="284.22" stroke="#000" stroke-width="0.7"/>
<text transform="translate(228.4 286.52) scale(0.92 1)" font-size="6.5" text-anchor="end" stroke="#111" stroke-width="0.06">0</text>
<line x1="229.7" y1="292.17" x2="232.3" y2="292.17" stroke="#000" stroke-width="0.7"/>
<text transform="translate(228.4 294.47) scale(0.92 1)" font-size="6.5" text-anchor="end" stroke="#111" stroke-width="0.06">−3</text>
<line x1="229.7" y1="300.21" x2="232.3" y2="300.21" stroke="#000" stroke-width="0.7"/>
<text transform="translate(228.4 302.51) scale(0.92 1)" font-size="6.5" text-anchor="end" stroke="#111" stroke-width="0.06">−6</text>
<line x1="240.1" y1="300.9" x2="240.1" y2="302.9" stroke="#000" stroke-width="0.6"/>
<text transform="translate(238.5 310.4) scale(0.92 1)" font-size="6.5" text-anchor="middle" stroke="#111" stroke-width="0.06">−4</text>
<line x1="251.4" y1="300.9" x2="251.4" y2="302.9" stroke="#000" stroke-width="0.6"/>
<text transform="translate(251.4 310.4) scale(0.92 1)" font-size="6.5" text-anchor="middle" stroke="#111" stroke-width="0.06">0</text>
<line x1="262.8" y1="300.9" x2="262.8" y2="302.9" stroke="#000" stroke-width="0.6"/>
<text transform="translate(262.8 310.4) scale(0.92 1)" font-size="6.5" text-anchor="middle" stroke="#111" stroke-width="0.06">4</text>
<text transform="translate(252.9 267.2)" font-size="7.2" text-anchor="middle" fill="#1a1a1a">Ifng</text>
<rect x="276.9" y="275" width="4.9" height="22.5" fill="url(#cb)"/>
<text transform="translate(283.3 280.35)" font-size="5.9" fill="#2a2a2a">6</text>
<text transform="translate(283.3 286.6)" font-size="5.9" fill="#2a2a2a">4</text>
<text transform="translate(283.3 292.85)" font-size="5.9" fill="#2a2a2a">2</text>
<text transform="translate(283.3 299.4)" font-size="5.9" fill="#2a2a2a">0</text>
<g filter="url(#bl2)">
<polygon points="315.12,278.43 319.5,275.93 322.62,273.8 326.38,273.43 328.88,275.93 333.25,276.55 337,277.8 335.75,281.3 333.25,284.05 330.75,286.3 328.88,289.05 326.38,290.93 323.25,292.43 320.75,290.3 318.25,287.55 316,283.43" fill="#dadadc" fill-opacity="0.6"/>
<polygon points="311.38,295.05 313.25,292.18 315.75,289.05 318.25,287.3 321,289.8 323.88,291.8 324.5,292.8 323.25,294.68 319.5,297.18 314.5,297.68" fill="#dadadc" fill-opacity="0.6"/>
<polygon points="336.75,277.43 339.5,275.3 342.62,275.93 342.75,279.05 340.12,280.93 337.62,279.8" fill="#dcdcde" fill-opacity="0.35"/>
<polygon points="336.38,284.05 339.5,282.18 343.88,282.8 346.38,285.3 345.12,288.43 342,290.3 337.62,289.3 335.75,288.43" fill="#dcdcde" fill-opacity="0.35"/>
</g>
<path d="M321.5 284.5h0M320.8 279.1h0M319.9 284.6h0M328.1 284.6h0M327.1 279.6h0M330.3 276.9h0M320.2 281.4h0M329.7 283.7h0M330.3 280.3h0M324.2 275.9h0M325.7 277.7h0M327.2 282.5h0M327.6 290.2h0M328.9 278h0M323.3 291h0M323.6 286.2h0M319.6 284.7h0M323.9 277.4h0M320.8 278.9h0M323.2 276h0M330 279.2h0M333.5 281.5h0M326 275.9h0M332 283.7h0M318.9 287.9h0M321.8 276.2h0M320.8 283.2h0M320.8 280.1h0M329.5 277.7h0M319.7 281.4h0M322.5 290.7h0M320.5 284.6h0M322.4 288.4h0M322.5 281.9h0M320.9 287.9h0M321.2 281.9h0M326.3 286h0M327.2 287h0M319.6 283.1h0M326.4 285h0M316.8 283.2h0M330.9 279.2h0M328.6 287.9h0M324.7 278.8h0M326.5 286.3h0M327.4 284.8h0M321.3 287.1h0M333.2 279.7h0M328.1 281.9h0M328.8 285h0M318.3 277.5h0M317.6 282.3h0M334.4 276.9h0M331.9 279.5h0M328.8 287h0M335 278.9h0M326.2 285.6h0M317.5 277.4h0M327.5 282.4h0M322.1 285h0M319.7 277.3h0M323 279.9h0M322.8 284.9h0M328 285.2h0M327.9 280.7h0M320.7 285.1h0M320.8 285.3h0M325.6 289h0M320.4 278.8h0M321.4 279.2h0M332.5 279.6h0M332.6 277.2h0M327.6 280.9h0M321 282.8h0M321.1 288.5h0M324.5 276.9h0M327.6 284h0M331.5 282.4h0M319.1 277.9h0M320 280.1h0M326.5 283.4h0M327.5 274.9h0M326 277.2h0M318 277.5h0M323.7 275.1h0M329.7 278.6h0M317.6 286h0M322.4 283h0M325.9 290.1h0M324.1 287.9h0M318 285.7h0M320.1 276.9h0M323.8 286.9h0M316 284.1h0M323.7 282.5h0M324.9 286.5h0M336.3 278.5h0M320.1 282.3h0M320.4 279.5h0M331 279.5h0M333.7 276.3h0M327.6 277h0M323.8 283.1h0M330.6 280.6h0M322.6 284.8h0M330.4 280.3h0M318.4 283.8h0M328.9 282.4h0M319.2 276.5h0M325.9 282.5h0M315.7 280.7h0M315.8 280.9h0M324.1 281.8h0M321.6 289.2h0M331.7 284.2h0M331.3 286.2h0M329.5 286.5h0M323 287.2h0M331.8 283.8h0M324.6 277.8h0M328 284.6h0M325.1 281.1h0M316.4 276.9h0M326.3 284.7h0M329 283.5h0M323.8 287.1h0M327.5 278.9h0M318.3 279.9h0M329.9 284.1h0M332 276.4h0M333.6 277.8h0M319.1 281.2h0M324.5 275.5h0M326.8 283.9h0M318.3 282.7h0M322.5 282.4h0M321.2 275.5h0M323.5 277.2h0M330.5 283.6h0M326.8 284.7h0M321.2 284.4h0M318.7 287.2h0M334.9 280h0M319.2 277.8h0M334.7 282.2h0M332.9 277.2h0M325 285.2h0M322.1 281.7h0M332.6 280.1h0M325.7 278h0M329.5 276.5h0M328.5 286.3h0M318.8 276.1h0M325.3 281.2h0M325.7 275.8h0M332.8 282.5h0M322 278.4h0M323.8 283.5h0M328 285.4h0M324.4 277.5h0M325.8 275.6h0M316 279.5h0M333.8 281.4h0M326.5 277.7h0M320.4 280.6h0M322.4 284.6h0M324 288.8h0M331 282.8h0M315.9 278.5h0M322.5 289.1h0M325.4 288.7h0M318.3 284.5h0M326.5 280.3h0M330.1 276.7h0M324.4 275.9h0M325.6 274.5h0M329.8 281.2h0M326.2 287.9h0M329 286.3h0M333.6 282.9h0M318.3 284.1h0M324.8 285.6h0M330.1 278.8h0M317 281h0M327.4 274.9h0M325.1 288.5h0M328.6 285h0M320.1 279.8h0M316.3 282h0M333.7 278.8h0M321.2 287h0M328.6 276.6h0M323 274.5h0M324.1 291.5h0M321 278.3h0M320.3 275.8h0M317.9 278.5h0M335.1 281.2h0M317.5 280.4h0M323.1 285.4h0M327.8 282.6h0M321.7 284h0M325.3 278.5h0M321.6 282.8h0M327.3 278.6h0M330.1 282.7h0M329.4 278.7h0M326.8 280.1h0M329.1 287.2h0M333.4 282h0M320.1 287.9h0M320.6 288.8h0M334.3 278.1h0M323.7 279.6h0M318.8 279.8h0M322.9 290.1h0M326.7 279.3h0M323.1 288.2h0M319.5 286h0M330.5 278.1h0M325.3 279.9h0M330 279h0M322.5 279.7h0M319.8 275.1h0M329.4 279.5h0M328.3 280h0M320.8 276.6h0M327.9 281.1h0M336.4 280.3h0M326.6 284.8h0M328.1 283.8h0M321.5 278.7h0M323.1 288.4h0M318.7 288.7h0M326.1 289.2h0M331 279.5h0M329.1 284.3h0M322.4 274h0M331.3 279.1h0M322.3 291.2h0M318.7 286h0M331.7 280.8h0M323.8 289.5h0M321 281.4h0M325 287.2h0M319.5 286.6h0M329.7 283.8h0M324.6 277.6h0M318.3 278h0M319.7 282.6h0M321.8 283.7h0M320.5 276.4h0M319 279h0M328.1 277.6h0M328 286.2h0M326.3 273.7h0M328.1 276.9h0M331.9 281.4h0M320.4 285.5h0M320.3 287.6h0M324.6 284.2h0M330.3 278.3h0M329.5 285.7h0M332.7 283.8h0M320.3 275.9h0M330.1 285.9h0M329.8 281h0M324.9 281h0M318.1 276.5h0M316.2 279.9h0M323.6 289.7h0M320.8 288h0M321.3 287.9h0M329.5 288.2h0M315.6 278.7h0M326 284.9h0M320 276.5h0M325.5 281.8h0M321.3 287.4h0M328.3 278.2h0M321.6 288.7h0M328.2 278.9h0M320.2 280.4h0M328.6 289h0M324.1 288.4h0M327.2 285.8h0M324.2 284.9h0M325 283.8h0M320.2 289.1h0M321.8 281.9h0M327 276.3h0M331.7 284h0M323.6 289.2h0M333.3 281.9h0M330.5 280.4h0M332.8 276.9h0M324.4 288.9h0M317.1 294.5h0M315.9 295.3h0M319.6 292.6h0M313.3 294.7h0M322.7 292h0M315.9 295.3h0M315.5 292.7h0M314.7 296.4h0M321.3 290h0M315.5 291h0M312.7 293.2h0M314.4 292.9h0M321.2 295.4h0M316.2 295h0M320.9 290.7h0M314.1 293.1h0M319.1 294.5h0M313.5 295.2h0M320 292.2h0M315.4 296.2h0M319.5 288.7h0M313.9 293.4h0M319.7 295h0M320 291.1h0M317.7 295.2h0M319.2 289.9h0M321.6 294.3h0M315.2 291.1h0M316.1 290.9h0M317.5 293.1h0M317.4 297.6h0M323.7 293.8h0M320.8 291.7h0M314.5 292.3h0M316.8 289.9h0M314.7 292.9h0M317.5 289.1h0M317 290.6h0M317.3 288.9h0M318.4 296.3h0M313 294.5h0M324.4 292.8h0M324 293h0M318.5 291h0M319.8 294.9h0M311.4 294h0M312.6 293.9h0M319.4 291h0M320.6 293.6h0M318.1 294.3h0M316.1 289.6h0M314.8 296.6h0M315.9 295.1h0M318.8 293h0M317.4 293.4h0M313.8 293.6h0M317.4 296.1h0M319.2 294h0M317.7 288.3h0M319.4 294.3h0M316.1 292.1h0M321.4 292.1h0M322.5 293.6h0M317.9 288h0M322.6 293.1h0M318.4 287.7h0M316.7 292.4h0M314.5 295.1h0M316.6 296.1h0M317.1 289.2h0M321.3 293.8h0M316.1 293.5h0M317.7 294.2h0M316.2 291.9h0M317.1 294.3h0M320 291.5h0M315.4 292.4h0M312.7 296.6h0M319.7 294.4h0M339 280.1h0M338.4 277.6h0M338.7 279.6h0M338.8 275.8h0M340.6 278.8h0M337.6 278.5h0M339.7 276.4h0M340.9 279.2h0M339.4 279.9h0M339.8 278.2h0M342.3 278.8h0M338.9 277.5h0M338.8 277.7h0M338 277.9h0M339.4 279.5h0M340.7 279.4h0M337.3 279.8h0M338 277.2h0M338.2 278.1h0M341 279.5h0M339.4 279.2h0M342.1 277.9h0M340.4 279.3h0M342.9 277.7h0M339.8 277.3h0M340.2 280.3h0M338.6 278.9h0M341.9 288.4h0M340.9 286.2h0M341.2 284.2h0M342.8 282.7h0M342.2 283.4h0M340.2 283.9h0M341 284.5h0M340.3 284.5h0M342.5 289h0M340.4 289.2h0M344.1 284.5h0M337.3 287.7h0M341.4 284.5h0M343.5 286.7h0M346.3 285h0M342.8 283.9h0M338 287.9h0M342.6 287.6h0M345.1 286.3h0M342.4 286.7h0M343.8 287.4h0M343.1 286.7h0M343.3 289.1h0M342.1 286.2h0M343.5 285.7h0M337.4 288.4h0M340.2 282.8h0M341.5 287.1h0M338.9 282h0M345.2 283.8h0M338.8 289.5h0M343.7 284.6h0M339.6 286.5h0M340.9 289.5h0M337.4 283.5h0M343.7 288.9h0M339.2 282.5h0M339.3 283.9h0M341.8 286.8h0M346.4 285.6h0M337.9 285.4h0M338.2 287.9h0M342.7 288.5h0M340.8 287.8h0M338.9 283.6h0M339.7 285.8h0M345 284.6h0" stroke="#d4d4d7" stroke-width="1.64" stroke-linecap="round" fill="none"/>
<path d="M329.8 282h0M323.7 290.6h0M333 281.2h0M341.6 278h0M341.8 276.4h0M338.4 283.3h0M340.7 286h0M345.2 285.8h0M341 289.8h0M339.2 289h0" stroke="#c4bcf0" stroke-width="1.16" stroke-linecap="round" fill="none"/>
<path d="M317.5 293.2h0M340.3 278.7h0M342.2 289.6h0M343.8 284.5h0M342.4 289.8h0M337.7 283.8h0M339.9 290.5h0M339.2 284.7h0M344.6 285.9h0" stroke="#8f80f0" stroke-width="1.16" stroke-linecap="round" fill="none"/>
<path d="M342 287.6h0M340 283.3h0M336.5 285.7h0M339.4 285.4h0M338.3 283.3h0" stroke="#5a46ee" stroke-width="1.16" stroke-linecap="round" fill="none"/>
<line x1="308.25" y1="269.5" x2="308.25" y2="301.35" stroke="#000" stroke-width="0.9"/>
<line x1="307.8" y1="300.9" x2="349.75" y2="300.9" stroke="#000" stroke-width="0.95"/>
<line x1="305.65" y1="276.17" x2="308.25" y2="276.17" stroke="#000" stroke-width="0.7"/>
<text transform="translate(304.35 278.47) scale(0.92 1)" font-size="6.5" text-anchor="end" stroke="#111" stroke-width="0.06">3</text>
<line x1="305.65" y1="284.22" x2="308.25" y2="284.22" stroke="#000" stroke-width="0.7"/>
<text transform="translate(304.35 286.52) scale(0.92 1)" font-size="6.5" text-anchor="end" stroke="#111" stroke-width="0.06">0</text>
<line x1="305.65" y1="292.17" x2="308.25" y2="292.17" stroke="#000" stroke-width="0.7"/>
<text transform="translate(304.35 294.47) scale(0.92 1)" font-size="6.5" text-anchor="end" stroke="#111" stroke-width="0.06">−3</text>
<line x1="305.65" y1="300.21" x2="308.25" y2="300.21" stroke="#000" stroke-width="0.7"/>
<text transform="translate(304.35 302.51) scale(0.92 1)" font-size="6.5" text-anchor="end" stroke="#111" stroke-width="0.06">−6</text>
<line x1="316.05" y1="300.9" x2="316.05" y2="302.9" stroke="#000" stroke-width="0.6"/>
<text transform="translate(314.45 310.4) scale(0.92 1)" font-size="6.5" text-anchor="middle" stroke="#111" stroke-width="0.06">−4</text>
<line x1="327.35" y1="300.9" x2="327.35" y2="302.9" stroke="#000" stroke-width="0.6"/>
<text transform="translate(327.35 310.4) scale(0.92 1)" font-size="6.5" text-anchor="middle" stroke="#111" stroke-width="0.06">0</text>
<line x1="338.75" y1="300.9" x2="338.75" y2="302.9" stroke="#000" stroke-width="0.6"/>
<text transform="translate(338.75 310.4) scale(0.92 1)" font-size="6.5" text-anchor="middle" stroke="#111" stroke-width="0.06">4</text>
<text transform="translate(328.85 267.2)" font-size="7.2" text-anchor="middle" fill="#1a1a1a">Pdcd1</text>
<rect x="352.85" y="275" width="4.9" height="22.5" fill="url(#cb)"/>
<text transform="translate(359.25 280.35)" font-size="5.9" fill="#2a2a2a">6</text>
<text transform="translate(359.25 286.6)" font-size="5.9" fill="#2a2a2a">4</text>
<text transform="translate(359.25 292.85)" font-size="5.9" fill="#2a2a2a">2</text>
<text transform="translate(359.25 299.4)" font-size="5.9" fill="#2a2a2a">0</text>
<g filter="url(#bl2)">
<polygon points="386.38,278.43 390.75,275.93 393.88,273.8 397.62,273.43 400.12,275.93 404.5,276.55 408.25,277.8 407,281.3 404.5,284.05 402,286.3 400.12,289.05 397.62,290.93 394.5,292.43 392,290.3 389.5,287.55 387.25,283.43" fill="#dadadc" fill-opacity="0.6"/>
<polygon points="382.62,295.05 384.5,292.18 387,289.05 389.5,287.3 392.25,289.8 395.12,291.8 395.75,292.8 394.5,294.68 390.75,297.18 385.75,297.68" fill="#dadadc" fill-opacity="0.6"/>
<polygon points="408,277.43 410.75,275.3 413.88,275.93 414,279.05 411.38,280.93 408.88,279.8" fill="#a094f0" fill-opacity="0.46"/>
<polygon points="407.62,284.05 410.75,282.18 415.12,282.8 417.62,285.3 416.38,288.43 413.25,290.3 408.88,289.3 407,288.43" fill="#dcdcde" fill-opacity="0.35"/>
</g>
<path d="M403.1 279.9h0M395.7 284.2h0M391.1 289.7h0M392.8 283.4h0M407.2 278.8h0M404.5 280.6h0M404.7 282.2h0M391 279.4h0M394 281.3h0M392.5 277.6h0M400 276.2h0M395.3 277h0M405 282.2h0M401.3 287h0M398.6 277.6h0M395.6 288.8h0M391.8 278.7h0M393.3 289.6h0M399.7 279.7h0M405.8 281.8h0M397.2 285.4h0M395.3 278.1h0M389.6 281.9h0M395 281.4h0M399.2 284.1h0M397.5 289.5h0M396.3 280.3h0M400.2 284.8h0M400.8 288.2h0M401.5 279.3h0M391.5 280.3h0M403.8 281.9h0M397.8 287.5h0M405.5 277h0M388.8 278.3h0M392.7 286.1h0M398.7 275.6h0M390.5 287h0M403.2 277.4h0M398 274.8h0M400.2 275.9h0M387.4 281.5h0M394.9 288.6h0M397.6 280.6h0M385.7 277.9h0M393.7 285.3h0M402.6 276.9h0M399.3 287.9h0M400.8 281.7h0M394.8 284.8h0M399.6 289.1h0M395.9 276h0M392.8 287.4h0M390 280.3h0M395.1 286.7h0M388.6 278.5h0M389.7 278.5h0M401.1 280.6h0M399.2 278.2h0M404 281.1h0M397.4 274.4h0M392.5 288.4h0M390.5 280.7h0M399.7 284.7h0M395.6 281.1h0M396.7 290.7h0M396.1 280.1h0M397.6 277h0M395 290h0M405.3 280.1h0M393.9 289.5h0M394.6 283.5h0M396.7 284.9h0M400.6 284.2h0M398.8 281.8h0M394.6 275.3h0M395 289.4h0M388.8 285.4h0M402.6 281h0M392.6 289.4h0M400.7 284.4h0M393.7 287.2h0M399.6 286.5h0M389.8 278.4h0M403.2 276.5h0M393.1 282.9h0M395.4 279.3h0M391.3 276.6h0M396.9 284.2h0M398.9 279.9h0M389.6 281.8h0M391.2 284h0M398 279.2h0M399.6 276.1h0M402 283.2h0M393 284.9h0M392.5 277.7h0M401.9 282.1h0M388.8 281.8h0M398.1 289h0M405.1 277.7h0M395 287.1h0M388.4 285.4h0M396.5 289.4h0M396.3 288h0M396.7 286.1h0M390.8 285.1h0M397.8 283.1h0M407 277.8h0M395 291.3h0M403.7 279.4h0M387.4 282.7h0M403.2 282.3h0M406.5 279h0M399 277.7h0M397.6 285.9h0M390 287.3h0M398.1 288.6h0M402 285.3h0M396.5 290.1h0M401.2 284.1h0M393.6 277.5h0M387.5 277h0M397.6 289.1h0M402 285.5h0M395.1 281h0M396.5 281h0M401.7 286.7h0M406.9 280.6h0M400.5 279.5h0M387 277.9h0M389 278h0M403.3 282.2h0M403.7 281.5h0M401.9 285h0M391.4 282.6h0M398.4 281.8h0M397.2 274.6h0M400.8 286.1h0M401.5 283.2h0M394.3 282.1h0M405 280.4h0M391.4 286h0M397.2 280.6h0M388.8 281.2h0M401.1 279.6h0M401.1 286.5h0M402.6 285.6h0M406.1 279.4h0M403.1 284.8h0M399.2 277h0M404.7 278.6h0M391.1 285.8h0M400.2 288.4h0M393.7 281.1h0M396.6 273.9h0M396.2 288.9h0M392.9 291.3h0M399.6 287.5h0M399.5 285.2h0M396.5 275.7h0M394.6 292h0M392.5 280.1h0M399.8 279.5h0M389.3 283.7h0M396 286.5h0M392.5 277h0M388.9 277.5h0M397.3 291.7h0M394.4 287.4h0M389.4 283.1h0M398.7 284.7h0M392 281h0M388.9 280.6h0M397.8 289.8h0M392.8 290.2h0M390.6 282.3h0M393.9 291.2h0M398.4 276.8h0M396.5 278.5h0M393.4 283.3h0M402.2 276.3h0M391.3 287.4h0M394.3 280h0M393.3 277.7h0M399.4 281.2h0M391 280.6h0M394.1 280.2h0M387.8 280.2h0M399.6 283.3h0M389.1 284.4h0M401.3 280.2h0M396.1 281.8h0M391.9 277.6h0M392.4 281.2h0M398.1 290.4h0M388.5 279h0M407 279.4h0M406.7 281.4h0M388.6 277.5h0M402.2 281.6h0M391.2 289.6h0M394.4 279.2h0M394.9 276.8h0M395.2 283.6h0M390.7 283.6h0M388.6 282.4h0M396.5 278.7h0M400.3 278.1h0M399.3 278.1h0M403.6 282.8h0M389.6 276.6h0M391.8 277.3h0M395.9 287.1h0M399.9 281.9h0M396.2 277.2h0M393.8 284.3h0M397.2 285.4h0M390.9 283.8h0M393.2 288.1h0M397.2 284.3h0M396.9 288.2h0M398.6 289.9h0M405.2 278.3h0M403 282.6h0M404 277.8h0M406.8 280.5h0M392.6 280.3h0M392.6 279.8h0M402 283.9h0M395.9 274.8h0M397.3 284.7h0M391.3 281.6h0M387.8 277.7h0M388.8 279.4h0M397 277.1h0M396.3 280.8h0M403.3 282.7h0M406 278.4h0M401.2 282.3h0M394.2 279.5h0M408.2 278.9h0M393.4 276.9h0M394.4 277.3h0M400.7 285.5h0M397.1 276.5h0M401.8 277.1h0M394.6 274.5h0M403.2 276h0M400.4 284h0M394 287.5h0M400.6 277.2h0M396.4 279.8h0M397.9 284.7h0M397.1 279.2h0M396 289.9h0M387.3 281.1h0M405.3 282.7h0M396 287.5h0M397.1 278.2h0M392.3 277.2h0M392.2 281.8h0M400.2 282.8h0M396.1 284.3h0M396.5 289.7h0M390.9 285.7h0M399.2 289h0M388.4 285.9h0M387.8 279.9h0M398.8 289.3h0M392.9 279.3h0M400.6 278h0M398.4 283h0M397.6 286.6h0M397 285.6h0M398.5 277.8h0M401 277.8h0M405.7 279h0M393.7 274.2h0M396.9 276.2h0M397.4 285.9h0M400.1 279.9h0M396.9 288.2h0M388.8 281.4h0M394.4 276.4h0M394.3 274.7h0M393.2 283.2h0M393 282h0M404.7 280.8h0M397.8 286.6h0M406.4 281h0M398.8 285.3h0M387.7 283.5h0M394.9 285h0M389.7 280.3h0M394.4 291.6h0M395.9 283h0M392.5 276.5h0M387.9 293.4h0M389.8 288h0M385.5 296h0M386.4 290.9h0M388.9 292h0M389.5 290.9h0M390.1 297h0M383.9 295.6h0M387.7 293.7h0M392.6 291.3h0M386.7 296.1h0M382.5 295.9h0M386.7 291.6h0M386.3 296.3h0M393.4 291.5h0M383.9 293.3h0M387.4 298.1h0M389.5 289.9h0M383.5 295.7h0M389.8 293.4h0M390.6 297.3h0M390.2 293.3h0M387.4 292.2h0M391.8 292.2h0M391.6 296.4h0M390.9 290.9h0M391.5 291.6h0M385.7 297h0M385.2 297.6h0M389 294h0M385.9 298.1h0M393.9 294.8h0M390.8 289.9h0M386.1 297.3h0M392 296.3h0M391.1 292h0M387.1 294.9h0M389.3 292.2h0M390.3 292.6h0M388.1 290.2h0M391.5 295h0M384.2 293.1h0M391.2 296.8h0M384.7 294.9h0M390.3 290.1h0M394.2 295.3h0M387.3 294.1h0M389.9 287.4h0M385.6 293.8h0M388.4 288.6h0M386.3 294.2h0M393.2 290.2h0M390.4 293.3h0M384.9 292.1h0M388.8 295.8h0M394.1 292.9h0M391.2 295.8h0M387.5 289.5h0M388.7 294h0M391.2 294h0M389.9 291.4h0M391.1 296.9h0M394.2 292h0M389.9 294.3h0M390.6 292.6h0M394.6 294.2h0M389.3 290.3h0M394 292.3h0M386.6 290.2h0M384.4 295h0M392.1 291.8h0M392.3 294.9h0M391.4 291.3h0M390.2 291.4h0M391.2 291.8h0M388.5 289.7h0M392.5 295.9h0M389.9 296h0M388.2 290.6h0M391 293.8h0M410.5 276.3h0M412.7 279.3h0M410 280.2h0M411.5 278.6h0M410.5 279.1h0M411.5 279.7h0M414 278.2h0M408 277.2h0M412.5 278.3h0M411.9 280.3h0M409.9 278.7h0M411.1 280.3h0M410.5 283.8h0M410 285.6h0M408.5 286.3h0M415.8 283.8h0M412.8 285.5h0M411.5 283.8h0M410.5 284.3h0M414.9 286.4h0M409 285.3h0M407.4 288.9h0M416.5 285.8h0M411.1 288.6h0M409.9 286.5h0M415.2 283h0M411 286h0M412.9 287.2h0M411.5 286.2h0M415.6 285.5h0M416.4 285.9h0M414 289.6h0M413.3 290.2h0M413.1 290h0M411 288.4h0M412.6 290.4h0M414.9 283.9h0M413.4 287.7h0M413.6 286.4h0M414.2 285.2h0M411.1 283.8h0M411.7 283.1h0M414 289.2h0M409.7 285.2h0M414 286.7h0M410.2 290.3h0M414.5 285.8h0M411.9 284.2h0M416.1 283.4h0M408.2 286.1h0M410.2 284.4h0M415.8 288.7h0M414.7 285.6h0M414.1 289.7h0M413.3 288.4h0M411.9 286h0M410.7 286h0M412.5 283h0M410.8 288.4h0M408.3 287.6h0M414 285.8h0M416.5 285.7h0M409.1 286.9h0M412.9 289.4h0M411.6 284h0M412.5 283.7h0M413.6 289.7h0M411.6 282.7h0M408.2 286h0M410.8 286.2h0M413.3 287.1h0M414.7 284.9h0M409.1 284h0M411.5 283.4h0" stroke="#d4d4d7" stroke-width="1.64" stroke-linecap="round" fill="none"/>
<path d="M395.7 279.5h0M407.8 277.1h0M414.2 276.5h0M409 288.6h0" stroke="#c4bcf0" stroke-width="1.16" stroke-linecap="round" fill="none"/>
<path d="M397.5 280.5h0M409.6 280.7h0M410.7 279.5h0M410.9 279h0M409.7 280.1h0M409.7 280.2h0M411.6 280.4h0M411.3 278.1h0" stroke="#8f80f0" stroke-width="1.16" stroke-linecap="round" fill="none"/>
<path d="M411.2 280.2h0M410.9 279.7h0M410.8 276.4h0M409.8 278.8h0M413.2 277.8h0M409.9 277.9h0M413.9 277.4h0M410.5 276.4h0M412.8 276.6h0M411.6 287.6h0" stroke="#5a46ee" stroke-width="1.16" stroke-linecap="round" fill="none"/>
<line x1="379.5" y1="269.5" x2="379.5" y2="301.35" stroke="#000" stroke-width="0.9"/>
<line x1="379.05" y1="300.9" x2="421" y2="300.9" stroke="#000" stroke-width="0.95"/>
<line x1="376.9" y1="276.17" x2="379.5" y2="276.17" stroke="#000" stroke-width="0.7"/>
<text transform="translate(375.6 278.47) scale(0.92 1)" font-size="6.5" text-anchor="end" stroke="#111" stroke-width="0.06">3</text>
<line x1="376.9" y1="284.22" x2="379.5" y2="284.22" stroke="#000" stroke-width="0.7"/>
<text transform="translate(375.6 286.52) scale(0.92 1)" font-size="6.5" text-anchor="end" stroke="#111" stroke-width="0.06">0</text>
<line x1="376.9" y1="292.17" x2="379.5" y2="292.17" stroke="#000" stroke-width="0.7"/>
<text transform="translate(375.6 294.47) scale(0.92 1)" font-size="6.5" text-anchor="end" stroke="#111" stroke-width="0.06">−3</text>
<line x1="376.9" y1="300.21" x2="379.5" y2="300.21" stroke="#000" stroke-width="0.7"/>
<text transform="translate(375.6 302.51) scale(0.92 1)" font-size="6.5" text-anchor="end" stroke="#111" stroke-width="0.06">−6</text>
<line x1="387.3" y1="300.9" x2="387.3" y2="302.9" stroke="#000" stroke-width="0.6"/>
<text transform="translate(385.7 310.4) scale(0.92 1)" font-size="6.5" text-anchor="middle" stroke="#111" stroke-width="0.06">−4</text>
<line x1="398.6" y1="300.9" x2="398.6" y2="302.9" stroke="#000" stroke-width="0.6"/>
<text transform="translate(398.6 310.4) scale(0.92 1)" font-size="6.5" text-anchor="middle" stroke="#111" stroke-width="0.06">0</text>
<line x1="410" y1="300.9" x2="410" y2="302.9" stroke="#000" stroke-width="0.6"/>
<text transform="translate(410 310.4) scale(0.92 1)" font-size="6.5" text-anchor="middle" stroke="#111" stroke-width="0.06">4</text>
<text transform="translate(400.1 267.2)" font-size="7.2" text-anchor="middle" fill="#1a1a1a">Klra1</text>
<rect x="424.1" y="275" width="4.9" height="22.5" fill="url(#cb)"/>
<text transform="translate(430.5 280.35)" font-size="5.9" fill="#2a2a2a">6</text>
<text transform="translate(430.5 286.6)" font-size="5.9" fill="#2a2a2a">4</text>
<text transform="translate(430.5 292.85)" font-size="5.9" fill="#2a2a2a">2</text>
<text transform="translate(430.5 299.4)" font-size="5.9" fill="#2a2a2a">0</text>
<g filter="url(#bl2)">
<polygon points="464.57,278.43 468.95,275.93 472.07,273.8 475.82,273.43 478.32,275.93 482.7,276.55 486.45,277.8 485.2,281.3 482.7,284.05 480.2,286.3 478.32,289.05 475.82,290.93 472.7,292.43 470.2,290.3 467.7,287.55 465.45,283.43" fill="#dadadc" fill-opacity="0.6"/>
<polygon points="460.82,295.05 462.7,292.18 465.2,289.05 467.7,287.3 470.45,289.8 473.32,291.8 473.95,292.8 472.7,294.68 468.95,297.18 463.95,297.68" fill="#dadadc" fill-opacity="0.6"/>
<polygon points="486.2,277.43 488.95,275.3 492.07,275.93 492.2,279.05 489.57,280.93 487.07,279.8" fill="#a094f0" fill-opacity="0.44"/>
<polygon points="485.82,284.05 488.95,282.18 493.32,282.8 495.82,285.3 494.57,288.43 491.45,290.3 487.07,289.3 485.2,288.43" fill="#dcdcde" fill-opacity="0.35"/>
</g>
<path d="M466.8 281.5h0M469.3 287.5h0M475.4 283.2h0M474.7 281.2h0M471.9 284.3h0M472.8 275.8h0M469.7 283.8h0M480.4 277.2h0M484.1 280.7h0M477 284.6h0M474.1 287.9h0M468.8 275.9h0M475 278.8h0M474.5 275.1h0M477.2 278h0M468.6 286h0M476.2 276.2h0M470.3 279.9h0M466.1 279.5h0M473.4 292.1h0M472.2 291.3h0M469.7 287.2h0M472.9 280.4h0M470.9 279.3h0M484.6 281.2h0M476.8 276.2h0M479.4 284.3h0M468.6 278.4h0M480.7 286h0M485.2 278.7h0M475.1 288.3h0M474.8 284.6h0M476.9 275.1h0M484.3 278.5h0M475.2 284.5h0M478.8 278.1h0M478 277.3h0M475.8 274.7h0M469.5 277.1h0M466.3 283.9h0M476.1 282.6h0M471.6 283.3h0M483 280.4h0M469.3 285.1h0M477 281.6h0M471.8 289.4h0M481 280.5h0M476.8 290h0M469.1 284.5h0M466.8 278.3h0M469 281.3h0M471.5 288.2h0M477.6 289.4h0M479.9 277.5h0M476.5 282.5h0M474.4 287.6h0M471.6 275.2h0M466.9 279.1h0M480 284.6h0M481.2 283.2h0M473.9 286.4h0M470.4 277.8h0M478.5 275.6h0M477.3 285.2h0M486.2 277.5h0M471.9 285.9h0M470.9 286.1h0M478.3 279.4h0M484.4 279.3h0M470.7 281.1h0M472.9 287.8h0M473.2 275.1h0M469.5 283.1h0M472.2 274.7h0M470.6 286.1h0M472.3 277h0M465.9 278.2h0M473.9 283.4h0M465.8 282.5h0M473.6 278.2h0M468.4 276.5h0M476.7 285.9h0M471.7 279.2h0M471.8 287.3h0M482.5 277.2h0M476.3 285.6h0M468 281.8h0M475.8 280.6h0M470.3 284.4h0M471.4 286.1h0M472.5 280.7h0M479.5 277.7h0M473.9 289.5h0M480.6 285.2h0M469 276.7h0M479.2 282h0M470.2 277.7h0M476.5 290.2h0M471.8 289.4h0M485.3 281.1h0M469.1 280.8h0M472.1 283.5h0M479.3 279.4h0M466.4 279h0M468.7 286.5h0M473.1 283.1h0M474.9 285.7h0M479.8 279.4h0M477.9 280.8h0M475.7 286.8h0M468.2 277.8h0M485.1 278h0M473.6 274.2h0M481.5 278.7h0M478.6 281.1h0M481.7 282.6h0M477.8 281.4h0M474 286h0M479.7 277.8h0M469.6 285.7h0M474.2 280.1h0M480.2 277.6h0M473.1 282h0M474.9 291.1h0M481.9 277.9h0M467.8 282.7h0M473.7 277.1h0M480 281h0M480.5 281.8h0M480.4 277.7h0M471 279.4h0M479.6 278.2h0M470.2 286.2h0M483 279.8h0M483.8 279.8h0M476 274.7h0M466.8 279.2h0M470.2 287.6h0M474.4 287.8h0M477.2 280.2h0M467.9 285h0M469.4 278.7h0M482 282h0M474.4 277.7h0M478.3 278.9h0M467.2 278.6h0M475.3 284.9h0M470.7 274.8h0M478.8 277.7h0M483.7 279.1h0M468.2 289.1h0M473.3 281.1h0M482.4 282.6h0M479.8 282.6h0M477.2 276.7h0M478.8 278.6h0M483.2 278.1h0M482 284.1h0M475.7 285.7h0M474.1 288h0M466.1 279.3h0M466 278.5h0M476.7 277h0M483.1 279.8h0M472.3 281.5h0M480 284.7h0M473.2 277.8h0M468.2 281.1h0M471.5 291.1h0M471.7 284.9h0M469 288.7h0M473.8 276h0M469.8 285.2h0M474.4 280.5h0M474.7 278.6h0M476.1 281.2h0M482.9 278.2h0M472.5 292.1h0M472.4 285.5h0M474.5 286.8h0M480.8 279.3h0M468.1 280.1h0M469.9 279.6h0M474.8 281.6h0M477.2 285.2h0M471.4 286.8h0M477.5 278.6h0M480.7 276.8h0M481.6 283.6h0M475.1 275.5h0M477 289h0M479.8 281.4h0M482 280.1h0M476 284.8h0M484.3 279.9h0M480.1 280h0M477.6 286.5h0M469.2 276h0M477.4 285.6h0M469.6 288.6h0M482.4 278.8h0M476.6 286.7h0M476.2 285.2h0M473.1 291.1h0M480.8 285.6h0M468 284h0M471.9 282.1h0M469.6 283.4h0M475.8 284.3h0M474.4 278.2h0M481.6 281.3h0M470.8 278h0M471.6 278.3h0M472.7 286.1h0M472.7 284.2h0M473.1 291.7h0M474.4 286.8h0M473 276.7h0M469.4 288.8h0M472.5 286.4h0M472.4 283h0M475.3 284h0M485 279.7h0M474 281.7h0M483.5 282.7h0M482.4 276.6h0M468.3 285.9h0M472.5 273.4h0M477.6 277.8h0M473.4 277.6h0M480.1 284.8h0M470.7 284.3h0M478.8 280.1h0M475.7 279.4h0M472.7 287.4h0M476 288h0M470 283.1h0M477.6 286.6h0M476.3 280.4h0M481 281.6h0M470.8 289.2h0M482.8 283.6h0M475 286.3h0M475 284.9h0M469.3 289.1h0M468.6 283.2h0M483.5 282.2h0M465.6 283.6h0M475.8 276.6h0M475.6 277.8h0M480.6 282h0M472.2 278.3h0M468.7 283.5h0M476 276.8h0M472.2 289.8h0M477.4 283.6h0M473.7 283.4h0M470 285.1h0M479 279.4h0M471.5 289.7h0M474.9 284.1h0M473.1 284h0M470.3 279.6h0M466.3 278.6h0M474 291.3h0M466.7 280.4h0M480.2 283.5h0M472.3 290.7h0M476 287.9h0M478.8 287.4h0M482.3 280.6h0M480.5 281.6h0M474.8 289.9h0M470.4 286.4h0M475.8 288.6h0M467.9 283h0M476.2 279.6h0M484 279.4h0M474.1 278.3h0M473.6 288.9h0M480.4 280h0M477.6 279h0M471 286.4h0M478 279.1h0M476.5 283.2h0M482.9 281.1h0M466.9 284.3h0M472.3 287.7h0M475.2 290.6h0M474.1 278.2h0M472.8 292.5h0M478.6 280.1h0M473.2 285h0M473.9 292.2h0M468.9 291.6h0M468.7 289.9h0M465.2 293.2h0M464.1 292.9h0M466.3 293.6h0M465.5 293.1h0M472.3 291.8h0M473.2 292.5h0M467.3 293.3h0M468.4 289.6h0M467.8 287.9h0M472 292.6h0M463.6 295.5h0M467 292.2h0M468.2 289.2h0M470.8 294h0M465.3 296.3h0M470.7 295.4h0M469.7 291h0M470.7 292.7h0M468 292h0M469.4 289.6h0M466 295.9h0M466 294.9h0M469.7 294.4h0M469.2 290.1h0M471 290.7h0M466.6 295.4h0M473.3 293.3h0M463.2 295.9h0M473.3 292.7h0M467.3 295.6h0M462.3 293h0M466.3 294.1h0M468.5 290h0M466 289.5h0M464.1 297.8h0M464.1 293.6h0M466.3 293.9h0M468.3 288.7h0M472.1 292.9h0M465.4 292.1h0M467.3 296.1h0M470.5 292.7h0M466.5 289h0M466.7 295.7h0M463.6 296.4h0M467.1 294.1h0M470.3 296.6h0M466.1 294.9h0M466.4 294.9h0M468.9 291h0M464.4 297.4h0M461.9 296h0M464.4 296.8h0M465.2 293.7h0M465.1 295.9h0M463 296.7h0M465.1 291.7h0M466.8 295h0M469.1 289.5h0M466.4 288.6h0M467.5 296.6h0M464.9 292.3h0M464.4 294.2h0M471.2 294.3h0M468.6 293.6h0M473.2 293.1h0M462.5 294.6h0M471.9 292.9h0M462.4 295.9h0M469.6 293.3h0M464.3 290.2h0M470.1 289.9h0M470.2 291.4h0M466.4 293.6h0M464.9 296.3h0M466.6 297.7h0M491 277.5h0M488.5 279.4h0M488.4 277.8h0M490.9 277.8h0M487.8 280.5h0M490.8 279.2h0M488.7 278.8h0M488.1 276.2h0M491.2 276.4h0M490.7 279.1h0M491.2 285.2h0M488.6 288.8h0M491 285.4h0M492.5 286.3h0M492.7 283.7h0M489.2 288h0M494.2 286.2h0M488.6 285.1h0M489.3 288.8h0M488.6 289h0M487.9 284.3h0M488.5 286.2h0M486 286.2h0M495.5 286.3h0M488.2 288.8h0M486.9 287.3h0M492.7 288.3h0M489.2 284h0M486.5 288.5h0M494 283.5h0M486.1 288.1h0M490 286.5h0M490.1 288.4h0M492 287.3h0M493.9 285.7h0M492.5 286.8h0M487.5 288h0M494.4 287.5h0M487.7 283.3h0M492.5 288.8h0M495.7 286.4h0M488 287.5h0M490.6 283.4h0M492.4 286.3h0M487 284.8h0M488 288.6h0M488.2 285.6h0M488.4 286.7h0M490.7 287.5h0M492 283.4h0M494.9 284.9h0M493.1 285.5h0M494.4 284.2h0M489.1 288.5h0M493.8 288.7h0M486.6 288.9h0M487.3 287.9h0M491.8 283.3h0M490.4 290.3h0M487.9 288.4h0M492.2 285.8h0" stroke="#d4d4d7" stroke-width="1.64" stroke-linecap="round" fill="none"/>
<path d="M482.5 277.7h0M468.6 293.8h0M490.8 278.4h0M486.4 278.5h0M486.8 287.5h0M487.7 287.5h0M488.6 287.9h0" stroke="#c4bcf0" stroke-width="1.16" stroke-linecap="round" fill="none"/>
<path d="M473.8 275.4h0M485.5 278.2h0M470.5 280.2h0M477.7 282.8h0M487.2 278.1h0M489.8 279.7h0M488.9 280h0M488.2 276.7h0M488.3 277h0M487.9 278.4h0M487.7 277h0M489.7 276.9h0M491.5 284.1h0M488.1 285.2h0M494.4 287.7h0M492.2 283.7h0M493.9 283.8h0" stroke="#8f80f0" stroke-width="1.16" stroke-linecap="round" fill="none"/>
<path d="M486.3 278h0M466.9 294.1h0M490.7 278.1h0M489.2 275.7h0M489.5 277.7h0M489.3 279h0M488.8 276.3h0M492.1 276.3h0M489.7 277.9h0M488.7 279.1h0M487.3 280.7h0M488.5 277.7h0M493.3 286.4h0M488.5 285.4h0M489.3 282.7h0M488.7 282.6h0M485.9 284.1h0" stroke="#5a46ee" stroke-width="1.16" stroke-linecap="round" fill="none"/>
<line x1="457.7" y1="269.5" x2="457.7" y2="301.35" stroke="#000" stroke-width="0.9"/>
<line x1="457.25" y1="300.9" x2="499.2" y2="300.9" stroke="#000" stroke-width="0.95"/>
<line x1="455.1" y1="276.17" x2="457.7" y2="276.17" stroke="#000" stroke-width="0.7"/>
<text transform="translate(453.8 278.47) scale(0.92 1)" font-size="6.5" text-anchor="end" stroke="#111" stroke-width="0.06">3</text>
<line x1="455.1" y1="284.22" x2="457.7" y2="284.22" stroke="#000" stroke-width="0.7"/>
<text transform="translate(453.8 286.52) scale(0.92 1)" font-size="6.5" text-anchor="end" stroke="#111" stroke-width="0.06">0</text>
<line x1="455.1" y1="292.17" x2="457.7" y2="292.17" stroke="#000" stroke-width="0.7"/>
<text transform="translate(453.8 294.47) scale(0.92 1)" font-size="6.5" text-anchor="end" stroke="#111" stroke-width="0.06">−3</text>
<line x1="455.1" y1="300.21" x2="457.7" y2="300.21" stroke="#000" stroke-width="0.7"/>
<text transform="translate(453.8 302.51) scale(0.92 1)" font-size="6.5" text-anchor="end" stroke="#111" stroke-width="0.06">−6</text>
<line x1="465.5" y1="300.9" x2="465.5" y2="302.9" stroke="#000" stroke-width="0.6"/>
<text transform="translate(463.9 310.4) scale(0.92 1)" font-size="6.5" text-anchor="middle" stroke="#111" stroke-width="0.06">−4</text>
<line x1="476.8" y1="300.9" x2="476.8" y2="302.9" stroke="#000" stroke-width="0.6"/>
<text transform="translate(476.8 310.4) scale(0.92 1)" font-size="6.5" text-anchor="middle" stroke="#111" stroke-width="0.06">0</text>
<line x1="488.2" y1="300.9" x2="488.2" y2="302.9" stroke="#000" stroke-width="0.6"/>
<text transform="translate(488.2 310.4) scale(0.92 1)" font-size="6.5" text-anchor="middle" stroke="#111" stroke-width="0.06">4</text>
<text transform="translate(478.3 267.2)" font-size="7.2" text-anchor="middle" fill="#1a1a1a">Xcl1</text>
<rect x="502.3" y="275" width="4.9" height="22.5" fill="url(#cb)"/>
<text transform="translate(508.7 280.35)" font-size="5.9" fill="#2a2a2a">6</text>
<text transform="translate(508.7 286.6)" font-size="5.9" fill="#2a2a2a">4</text>
<text transform="translate(508.7 292.85)" font-size="5.9" fill="#2a2a2a">2</text>
<text transform="translate(508.7 299.4)" font-size="5.9" fill="#2a2a2a">0</text>
<defs><filter id="bl2" x="-10%" y="-10%" width="120%" height="120%"><feGaussianBlur stdDeviation="0.5"/></filter><linearGradient id="cb" x1="0" y1="0" x2="0" y2="1"><stop offset="0" stop-color="#2a1cf0"/><stop offset="0.5" stop-color="#8f84e4"/><stop offset="1" stop-color="#d6d4dc"/></linearGradient></defs>
<text transform="translate(217.8 232.5) rotate(-90)" font-size="9.3" text-anchor="middle" textLength="27" lengthAdjust="spacingAndGlyphs" stroke="#111" stroke-width="0.1">UMAP_2</text>
<text transform="translate(373.8 320.3)" font-size="9.5" text-anchor="middle" textLength="27.7" lengthAdjust="spacingAndGlyphs" stroke="#111" stroke-width="0.1">UMAP_1</text>
<text transform="translate(7 341.3) scale(1.1 1)" font-size="10.2" font-weight="bold" fill="#000" stroke="#000" stroke-width="0.3">H</text>
<text transform="translate(152 341.2) scale(1.1 1)" font-size="10.2" font-weight="bold" fill="#000" stroke="#000" stroke-width="0.3">I</text>
<text transform="translate(286.6 341.4) scale(1.1 1)" font-size="10.2" font-weight="bold" fill="#000" stroke="#000" stroke-width="0.3">J</text>
<line x1="39.8" y1="349.7" x2="39.8" y2="428.6" stroke="#000" stroke-width="1.15"/>
<line x1="36.6" y1="366.8" x2="39.8" y2="366.8" stroke="#000" stroke-width="0.9"/>
<text transform="translate(34.2 369.5) scale(0.92 1)" font-size="7.6" text-anchor="end" stroke="#111" stroke-width="0.08">2.5</text>
<line x1="36.6" y1="385.9" x2="39.8" y2="385.9" stroke="#000" stroke-width="0.9"/>
<text transform="translate(34.2 388.6) scale(0.92 1)" font-size="7.6" text-anchor="end" stroke="#111" stroke-width="0.08">0.0</text>
<line x1="36.6" y1="404.9" x2="39.8" y2="404.9" stroke="#000" stroke-width="0.9"/>
<text transform="translate(34.2 407.6) scale(0.92 1)" font-size="7.6" text-anchor="end" stroke="#111" stroke-width="0.08">−2.5</text>
<line x1="36.6" y1="423.9" x2="39.8" y2="423.9" stroke="#000" stroke-width="0.9"/>
<text transform="translate(34.2 426.6) scale(0.92 1)" font-size="7.6" text-anchor="end" stroke="#111" stroke-width="0.08">−5.0</text>
<text transform="translate(15.1 389.3) rotate(-90)" font-size="9.5" text-anchor="middle" textLength="29.4" lengthAdjust="spacingAndGlyphs" stroke="#111" stroke-width="0.1">UMAP_2</text>
<line x1="39.3" y1="428" x2="127.8" y2="428" stroke="#000" stroke-width="1.3"/>
<line x1="45.3" y1="428" x2="45.3" y2="431" stroke="#000" stroke-width="0.9"/>
<text transform="translate(45 440) scale(0.92 1)" font-size="7.6" text-anchor="middle" stroke="#111" stroke-width="0.08">−5.0</text>
<line x1="62.3" y1="428" x2="62.3" y2="431" stroke="#000" stroke-width="0.9"/>
<text transform="translate(62 440) scale(0.92 1)" font-size="7.6" text-anchor="middle" stroke="#111" stroke-width="0.08">−2.5</text>
<line x1="79.3" y1="428" x2="79.3" y2="431" stroke="#000" stroke-width="0.9"/>
<text transform="translate(79.3 440) scale(0.92 1)" font-size="7.6" text-anchor="middle" stroke="#111" stroke-width="0.08">0.0</text>
<line x1="96.3" y1="428" x2="96.3" y2="431" stroke="#000" stroke-width="0.9"/>
<text transform="translate(96.3 440) scale(0.92 1)" font-size="7.6" text-anchor="middle" stroke="#111" stroke-width="0.08">2.5</text>
<line x1="113.1" y1="428" x2="113.1" y2="431" stroke="#000" stroke-width="0.9"/>
<text transform="translate(113.1 440) scale(0.92 1)" font-size="7.6" text-anchor="middle" stroke="#111" stroke-width="0.08">5.0</text>
<text transform="translate(81.3 452)" font-size="9.7" text-anchor="middle" textLength="29.2" lengthAdjust="spacingAndGlyphs" stroke="#111" stroke-width="0.1">UMAP_1</text>
<path d="M59.5 370.6h0M62.9 365h0M77.1 395.6h0M94.6 373.8h0M76.7 402.7h0M73.3 376.8h0M87.1 366.4h0M58.3 382.5h0M71 388h0M74.6 381.6h0M61.7 374.9h0M68.2 355.3h0M88.8 389h0M72.7 353.1h0M93.9 380.6h0M89.3 381.8h0M64.1 392.3h0M87.7 379.5h0M77.8 367.5h0M93 364.7h0M72.9 376.6h0M77.7 393.5h0M52.3 376.7h0M78.4 393.1h0M77.3 390.6h0M70 368.8h0M90 364h0M60.5 367.2h0M71.3 391.9h0M76.6 377.9h0M80.7 382.5h0M66 369.5h0M88.3 383.7h0M82.1 384h0M72.2 395.9h0M64.5 370.3h0M73.2 394.9h0M55 381.7h0M93.7 365.8h0M85.6 368.2h0M71.6 376.2h0M66.8 391h0M78 402.4h0M89.2 381.3h0M85.2 396.2h0M85.4 394.4h0M59.9 369.1h0M66.3 387.8h0M72.9 373.4h0M71.3 391.4h0M97.7 368.9h0M53.9 375.1h0M73.6 357.8h0M89.7 362.3h0M60.6 386.3h0M54.6 375h0M87.9 365.6h0M90.4 375.3h0M90.3 389h0M66.7 373.6h0M55.2 380.5h0M53.5 382.1h0M71.5 370.9h0M68.7 379.2h0M86.9 379.4h0M84.9 398.6h0M78.4 357.6h0M67.9 375.1h0M84 400.3h0M89.8 367.6h0M56.6 384.9h0M91.2 388.3h0M73.6 375.8h0M95.3 379.3h0M72.6 374.1h0M82.5 394.3h0M74.7 394.2h0M80.1 364.9h0M81.4 377.4h0M61.4 397.8h0M74.2 404.6h0M75.2 382h0M81.6 370.8h0M70.4 396.4h0M82.7 401.3h0M84.9 391.6h0M76.2 367.1h0M67.8 371.7h0M86.6 384.2h0M85.9 374.9h0M82 372.3h0M87.3 372.6h0M64 364h0M73 397.1h0M57.1 379.8h0M67.9 390.1h0M82 360.4h0M76.6 401.6h0M61.6 369.4h0M64.2 374.6h0M78.5 362.7h0M70.2 364.2h0M94.3 365.5h0M86.9 378.1h0M82.7 370.7h0M56.9 392h0M60.2 390.6h0M72.2 394.5h0M71.8 370.5h0M79 387.3h0M67.4 388.4h0M73.1 397.5h0M83.5 396.7h0M86.9 378.5h0M80.2 362.7h0M68.1 358.8h0M83.7 367.3h0M70.7 352.7h0M81.9 391.9h0M81.8 368.5h0M86.8 380.1h0M72.6 370.8h0M71 401.2h0M75 365.3h0M57.3 379.1h0M85.1 384.6h0M57.3 390.8h0M81.6 392.9h0M59.3 389.7h0M82.1 360.9h0M60.2 389.2h0M80.5 379h0M81.9 399.8h0M63.1 395.7h0M92.9 367.3h0M66 391h0M74.3 370.2h0M54.5 368.2h0M61.2 376.7h0M66.2 401.9h0M78.9 388.9h0M73.5 365.7h0M59.6 385h0M69.8 377.7h0M61.5 394.7h0M90.7 371.4h0M83.9 392.1h0M76.4 367.8h0M65.8 371h0M86.7 394.9h0M77.6 393.1h0M83.4 372.8h0M76.8 369.5h0M62.4 383.9h0M84.1 395.1h0M69 400.3h0M97.2 374.1h0M69.8 389.5h0M62.6 397h0M63.5 364.1h0M88.4 369.6h0M93.3 382.6h0M60.6 387.4h0M60.5 376.5h0M70.8 353.2h0M62.1 379.4h0M67.4 401.6h0M78.1 363.8h0M86.9 388.7h0M76.6 393.9h0M71.8 373.1h0M93.4 362.8h0M85.3 393.8h0M90.5 386.8h0M88.2 385.6h0M69.5 365h0M74 354h0M67.8 394.5h0M59.3 378.2h0M83.1 379.1h0M75.6 358.2h0M92.6 386.8h0M75.8 384.6h0M80.7 376.2h0M56.3 373.2h0M96.5 370.5h0M74.9 386.5h0M76 371.7h0M78 374.2h0M79.7 393.9h0M87.6 392.1h0M81.3 399.2h0M77.8 364.2h0M85.5 365.4h0M74.8 363.4h0M82.5 359.3h0M73.7 373.9h0M59.4 378.8h0M83.2 369.6h0M84 398.2h0M67.7 359.3h0M71.9 353.9h0M68.9 378.3h0M76.7 373.3h0M83.1 391h0M81.2 376.9h0M82.8 383.5h0M76.7 384.7h0M94.7 379.3h0M73.1 394.2h0M75.3 370.4h0M87.5 388.2h0M71.5 369.4h0M89.9 367.9h0M94.6 364.9h0M75.5 352.9h0M78 362.7h0M70.3 371.7h0M53.9 371.7h0M58.3 364.4h0M54.7 373.3h0M76.4 373.2h0M83.1 390.2h0M83.4 373.5h0M69.1 387.2h0M78.5 382.1h0M74.1 351.9h0M83.6 382.3h0M90.3 390.2h0M67.2 383.6h0M79.4 385.5h0M83.1 362.1h0M57.5 387.7h0M81.5 383h0M79.9 400.9h0M72.5 392.3h0M68.9 375h0M75 404.5h0M87.7 383.9h0M65.8 376.6h0M78.9 373h0M71.5 384.2h0M84.3 369.1h0M55.4 381.6h0M77.8 374.4h0M61.8 364.9h0M71.1 374.6h0M78 382.6h0M96.6 360.9h0M68.5 368.4h0M74.1 407.9h0M71.1 361.8h0M67.3 396h0M80.7 364.6h0M81.5 387.1h0M59 371.7h0M62.9 390.8h0M59.6 395.5h0M84.2 368h0M86.1 381.8h0M58.4 390.3h0M74.5 392.5h0M85.8 383.5h0M71.9 384.8h0M93 374.3h0M64.1 388.5h0M86.2 386h0M76.8 385.4h0M77.8 383.7h0M56.1 380.8h0M88.9 363.9h0M76.5 393h0M81.5 381.2h0M94.3 370.1h0M67 363.4h0M95 365.4h0M56.7 389.3h0M64.7 384.4h0M81.5 363h0M74.1 363.4h0M74.6 352.2h0M64.7 368.7h0M72 355.7h0M82.8 365.7h0M78.7 403.2h0M75.1 361.5h0M90.4 375.9h0M57.1 380.3h0M66.7 378.5h0M72.9 367.6h0M84.2 385.8h0M56.6 373.9h0M67 362.9h0M80 388.3h0M94.2 363.4h0M77.4 360.5h0M53.9 365.7h0M61 386.4h0M60.8 371.6h0M69.1 400.5h0M68.5 354h0M92.1 384.9h0M78.1 361.7h0M52.9 382.9h0M61.7 384.5h0M80 373.4h0M81.3 383.9h0M71.6 360.1h0M57.7 390.2h0M80.2 399h0M95.8 374.2h0M76 390.2h0M86.2 373.9h0M73.8 360.9h0M93.9 366.1h0M94.4 376.7h0M53.7 373.3h0M91 381.9h0M89.1 383.3h0M60.5 386h0M77.1 399.5h0M72.8 361h0M86.6 364.4h0M64.7 390.5h0M65.8 402.5h0M84.2 363.9h0M93.2 382.3h0M92.5 375.4h0M91.1 382.4h0M66.7 381h0M76.7 392.4h0M63 397.9h0M64.3 398.6h0M62.7 365.2h0M69.5 367.7h0M79.6 381.3h0M80.4 360.2h0M69.4 379.8h0M87.4 383.8h0M53.8 375.8h0M80.3 396.7h0M63.5 390h0M98.5 370.2h0M83.8 397.7h0M77.9 371.7h0M86.2 375.3h0M65.9 397.1h0M76.9 372.5h0M63.7 387.5h0M74.7 358.7h0M69.7 393.9h0M92.6 370.5h0M65.4 369.8h0M74.2 398.1h0M96.8 370.5h0M70.6 375.2h0M89.3 384.1h0M57.3 385.9h0M89.8 361.3h0M66 390h0M63.1 378.6h0M74 402h0M74.7 404.3h0M52.9 367.7h0M81.2 386.6h0M85.6 393.5h0M98.8 368.2h0M72.9 402.5h0M64.6 360.9h0M55.6 375.9h0M71 356.5h0M88.3 388.9h0M81.1 383.9h0M77.4 384.5h0M96.5 376.6h0M59.8 380.6h0M58.4 378.8h0M61.9 371.4h0M84.2 390.4h0M55.6 371.9h0M56.9 373.7h0M57.3 380.5h0M91.8 365.8h0M82.4 361.7h0M85.5 395.1h0M60.5 393.3h0M88 384.6h0M78.3 407.3h0M82.3 391.2h0M99.1 366.2h0M83.6 387.4h0M74.6 363.6h0M67.6 388.3h0M72.6 392.8h0M88.7 370.4h0M96.5 377.2h0M69.1 402.4h0M66.8 389.8h0M76.3 373.5h0M76.1 372.2h0M73 358.3h0M79.3 362.6h0M76.9 379.9h0M77.7 369h0M90.6 379.2h0M78.7 369.1h0M69.8 364.2h0M79.5 371.1h0M67.3 392.7h0M70.3 372.1h0M90.2 368.2h0M82.6 377.3h0M56.8 382.7h0M68.1 391.6h0M74.4 394.4h0M70 395.6h0M51.8 367.9h0M94.3 363.9h0M71.8 397.2h0M74.7 381.1h0M78.8 381.3h0M72.7 375.4h0M73.5 365.5h0M77 380.9h0M70 372.5h0M71.8 402.9h0M69.1 397.9h0M90.9 368.7h0M77.4 390.5h0M73.9 364.5h0M58.1 374.2h0M62.8 376.4h0M80.8 378.7h0M75.4 407.7h0M71 374.6h0M82.5 362.9h0M56.5 390h0M58 373.5h0M68 380.8h0M87.7 384.4h0M53.8 370.5h0M85.7 376.8h0M78.9 389.9h0M89.3 388.3h0M96.6 370.7h0M86.2 361.7h0M89.6 384.2h0M83.3 393.7h0M80.6 383.9h0M95.5 365.8h0M61.3 378.9h0M82.3 383.5h0M77.1 372.1h0M82.3 393.6h0M97.1 369.9h0M80.9 393.7h0M66.4 381.7h0M55 369.1h0M80.6 397h0M66 388.1h0M58.4 381.6h0M78.5 384.4h0M63.6 389.5h0M78.1 373.5h0M67.2 380.1h0M68.4 357.8h0M89.2 386.9h0M93.8 379h0M94.6 374.6h0M76 403.2h0M71.8 359.3h0M67 360h0M81.4 366.1h0M76.6 390h0M60.4 384.3h0M62.2 387.4h0M67.7 399.7h0M77.7 381.7h0M64.6 369.9h0M62 388.2h0M67.6 394.9h0M59.2 368.6h0M86.6 363.8h0M74.3 360.4h0M71.5 384.7h0M55.6 381.8h0M53.5 369.3h0M82.6 371.1h0M71.2 359.4h0M79.3 361.8h0M68.5 367.4h0M85.9 381.8h0M92.7 381.9h0M71.7 370.2h0M93.8 369.9h0M81.1 387.7h0M58.4 371.2h0M74.3 396.3h0M66 385.3h0M69 396.5h0M60.4 390.7h0M92.8 373.7h0M55.2 371.8h0M64.4 392.7h0M59 369.3h0M63.6 396.5h0M84.1 376.8h0M86.3 390.2h0M93.3 371.8h0M61.1 371.4h0M74 388.8h0M81.2 374.2h0M69.6 353.9h0M84 378.7h0M66.2 387h0M77.5 401.1h0M82.3 365h0M77.5 392.5h0M90.5 371.3h0M69.6 394h0M66.5 387.4h0M69.9 383.3h0M87.6 368.9h0M73.1 353.3h0M72.2 395.9h0M95.7 366.5h0M70.8 399.7h0M98.1 371.9h0M61.5 381.7h0M70 363.5h0M62.6 383.2h0M66.4 385.3h0M87 384.5h0M62.7 388h0M66.2 369.8h0M78.9 375.1h0M57.9 371.6h0M56.7 373.1h0M81.6 380.9h0M60.2 379.6h0M64.1 377.6h0M77.8 398.5h0M95.5 376.8h0M80.2 367.5h0M58.3 386.7h0M92.8 368.7h0M78.1 360.1h0M89.6 386.9h0M67.6 372.2h0M69.6 357.1h0M75.4 377.9h0M63 389.9h0M75.5 376.5h0M90.3 388.8h0M65.4 369.4h0M66.2 386.1h0M68.8 372.6h0M76.8 367.2h0M69.1 385.6h0M62.8 367.4h0M78.6 376.6h0M60.4 392.8h0M63.4 391.9h0M73.1 357h0M69.5 389.4h0M78.7 382.4h0M84 369h0M53.8 374.1h0M77.3 370.6h0M56.4 374.6h0M53.6 376.4h0M85.1 373.4h0M84.7 364.1h0M74.8 367.1h0M82.7 392.9h0M60.2 391.6h0M68.1 378.6h0M90.9 363.1h0M59.3 363h0M72.8 374.6h0M62.8 375.4h0M82 362.1h0M86.4 397.4h0M55.7 377.3h0M53.3 371.3h0M64.2 400h0M86.8 363.2h0M66.1 395h0M94.9 381.8h0M85.9 384.6h0M90.1 379.2h0M66.9 394.5h0M71.6 376.4h0M81.7 396.1h0M79.4 374.2h0M62 364.7h0M92.2 374.5h0M94.6 372.3h0M90.1 364.8h0M69.5 383.9h0M83.5 372.5h0M63.9 392.6h0M85.9 381.4h0M82.7 390.2h0M87.7 386.8h0M85.2 394.2h0M64.7 401.7h0M78 367.3h0M71.5 373.6h0M72.6 363.5h0M74.8 359h0M65.8 393.4h0M60.2 380.2h0M85.6 395.7h0M69.8 388.5h0M81.4 400.9h0M73.8 380.2h0M69.2 386h0M67.6 368.3h0M77.2 356.4h0M71.9 400.4h0M69 367h0M76 383.4h0M64.8 397.7h0M87.1 365h0M76 386.9h0M69.3 368.7h0M76.2 378.2h0M72.6 377.8h0M92 363.7h0M76.5 393.7h0M56.9 369.7h0M68.4 369.4h0M86.5 379.9h0M89.1 377.2h0M56.6 384.8h0M85.3 380.1h0M78.1 377.6h0M76.7 409.8h0M61 369.3h0M81.2 388.3h0M71.7 397.5h0M98 372.7h0M80.3 388.2h0M76.4 401.4h0M53.1 368.4h0M66.4 380.7h0M83.9 378.2h0M75.6 391.8h0M73.3 379.9h0M66.3 364.5h0M87.7 393.3h0M71.6 354.3h0M65.6 393.5h0M59.5 383.5h0M66.9 377h0M68.7 386h0M85 385.8h0M84.7 376.3h0M93.8 369.7h0M70.1 390.9h0M64.8 373.6h0M61.2 389.7h0M59.4 372.9h0M78.6 364.4h0M72.2 359.1h0M54.4 372.3h0M59.4 373.2h0M65.1 392.4h0M58.2 373.5h0M56 372.7h0M88.2 368.1h0M95.7 373.2h0M69.2 384.1h0M57 377.1h0M78.8 383.8h0M80.4 378h0M67.8 356.3h0M75.7 387.1h0M90.9 389.6h0M72.6 368.5h0M94.9 375h0M83.4 388.6h0M86.7 395.2h0M83.2 368h0M66.4 392.6h0M87.2 362.5h0M97.4 372h0M91.8 373.9h0M88.9 384.3h0M73.3 370.7h0M71.3 396.7h0M77.3 406.2h0M62 386.6h0M87 382.4h0M71.3 397.2h0M60.9 397.3h0M69.1 394h0M90.3 369.1h0M76.4 359.7h0M55.9 381.9h0M70.1 393.5h0M61.2 376.8h0M59.7 394.9h0M72 374.3h0M70.1 390.8h0M78.5 357.2h0M71.3 360.2h0M66 383.3h0M78.4 367.2h0M67.6 367.7h0M72 355h0M64.6 364.8h0M85.3 394.7h0M64.7 387.9h0M61.3 383.3h0M79.8 362.9h0M84.4 388.7h0M66 400.1h0M56.7 364h0M75.7 379.3h0M82 388.4h0M65.4 399.9h0M71.4 361.2h0M56.3 375h0M81.1 364.9h0M80.8 377.8h0M68.7 397.3h0M74.1 398.6h0M65.5 399.7h0M69.4 376.9h0M89.2 385.9h0M70 392.1h0M93.9 381.2h0M64.3 396.9h0M84.4 373.2h0M56.1 366.4h0M86.2 383.9h0M88.7 360.7h0M91.2 370.3h0M80 365.3h0M52.9 377.4h0M67.7 383h0M88 387h0M81.4 368.4h0M95.7 368.1h0M85.8 374.8h0M71.3 357.5h0M87.3 376.8h0M92.7 377.8h0M65.3 389.9h0M69.9 376.9h0M77 402.3h0M77.6 365.5h0M90.8 379h0M59 394.7h0M76.9 393.6h0M73.3 373h0M89.6 367.6h0M58.7 393.1h0M95.3 362.3h0M90 365.3h0M89.5 384h0M71.4 361.8h0M90.8 371.4h0M79.5 388.6h0M67.6 367.7h0M72.1 375.6h0M88 371.7h0M94.7 381.7h0M58 394h0M95.7 374.3h0M71.4 356.7h0M56.4 373h0M91.6 367.9h0M83.7 367.6h0M73.8 371.2h0M64.4 376h0M73.3 391.5h0M87.9 369.5h0M73.4 366h0M74.4 380h0M78.5 398.1h0M58.7 375.6h0M64 366h0M67.7 357.7h0M74.2 359.9h0M93 380.8h0M96.1 368.2h0M72.2 392.3h0M81.8 364.7h0M73.4 385.1h0M77.9 399.1h0M58.3 378.8h0M70.5 358.6h0M78 400.7h0M58.9 391.3h0M53.7 371.6h0M62.3 397.1h0M81.8 372.9h0M84.7 383.7h0M71.3 383h0M75.2 379.9h0M73.8 360.1h0M76.7 361h0M98.6 369.3h0M68.6 399.3h0M87.4 375.7h0M73.3 359.1h0M91.1 368.1h0M94.1 370.5h0M66.1 371.8h0M77.7 393.3h0M67.2 369.7h0M64 377.2h0M87 378.2h0M74.9 354.1h0M56.5 370.8h0M80.9 365.9h0M64.6 373.6h0M69.1 388.3h0M69.2 378.9h0M70.1 356.4h0M62.1 371.1h0M70.2 373.2h0M86.5 394.5h0M74.8 391.1h0M98.3 367.8h0M70.5 402.2h0M74.3 376.8h0M93.8 371.6h0M81.3 362.5h0M53.1 368.6h0M61.8 379h0M90.3 370.5h0M81.6 371.9h0M71.9 355.3h0M84.7 366.2h0M64.2 398.7h0M61.9 368.3h0M81.6 380.4h0M61.3 396h0M60.5 363.8h0M65.3 385.1h0M68 384.1h0M84.6 395.3h0M80.3 364.7h0M68.5 365.1h0M79.1 379.3h0M92.9 373.1h0M60.6 370.9h0M67.7 392.7h0M54.4 383.3h0M81.3 360.2h0M81.6 359.6h0M73.7 381.8h0M62.4 378.2h0M99.5 367.6h0M62 380.1h0M68.1 369.4h0M55.9 374.2h0M75.1 373.3h0M72.8 358.4h0M72.3 378.3h0M75.3 385.4h0M86.4 390.7h0M71.2 360.8h0M64.4 362.3h0M65.1 398.2h0M72.4 399.1h0M58.5 384.6h0M73.4 376.3h0M72.1 404.1h0M56.1 380h0M68.3 359.5h0M84 372.5h0M76.5 377.4h0M59.7 378h0M69.5 404.9h0M72.1 390.1h0M92.5 367.3h0M69.3 394.1h0M76.9 360.2h0M52.6 373.6h0M82.6 374.2h0M72.2 383.4h0M83.5 400.1h0M84.1 392.5h0M58.6 365.1h0M68.1 382.7h0M67.4 378.7h0M78.9 361.4h0M82.7 364.9h0M72.4 362.2h0M69.9 376.9h0M72.7 404.6h0M61.9 365.5h0M63.8 371h0M89 381.5h0M87.2 371.4h0M85.1 388.2h0M58.5 394.3h0M80.7 373.5h0M64 399.6h0M64 400.2h0M70.9 374.9h0M80.9 390.4h0M86.3 361.7h0M76.5 403.7h0M65.4 374.1h0M60.1 389.8h0M59.7 381.1h0M54.4 385.2h0M70.8 357.3h0M90.6 381.2h0M93.8 369.2h0M55.9 372.2h0M77.7 399.3h0M81.5 359.1h0M64 362.6h0M74.3 379.1h0M61.1 382.2h0M79 386.1h0M73.7 401.3h0M74 355.2h0M80.4 380.5h0M73.6 386.9h0M88.7 366h0M89.6 362.6h0M86.4 381.1h0M64.8 380.6h0M88.4 365.1h0M69.8 354h0M95.3 375.4h0M56.7 372h0M74.4 372.2h0M94.5 366.1h0M78.1 392.6h0M73.9 391.7h0M73.3 363.2h0M65.8 370.7h0M58.2 384.1h0M55.5 375.5h0M71.7 380.8h0M81.9 396h0M62.7 395h0M85.1 391.4h0M95.9 366.8h0M75.1 363.5h0M82.2 397.6h0M85.1 411h0M83.2 411.1h0M83.4 410.5h0M84.9 412.1h0M84.7 410.2h0M84.8 409.8h0M80.9 407.4h0M85.6 411.9h0M85.3 409.9h0M80.5 409.4h0M83.1 409.3h0M85.9 410.2h0M84.4 410.1h0M85.2 411.1h0M83.6 410.1h0M42.7 416h0M44.2 416.5h0M43.3 416.4h0M43.3 416.1h0M81.3 384.1h0M72.2 389.3h0M57.8 370.3h0M61.1 378.9h0M89.9 367.6h0M60.3 386.4h0M82.6 366h0M73.7 396.4h0M69.4 381.7h0M66 363.8h0M67.6 390.1h0M62.6 377.2h0M83.2 373h0M61.5 370.4h0M88 379h0M83.2 394.8h0M68.2 392.3h0M62.2 386.8h0M83.2 373.7h0M87.8 370.6h0M59.7 383.8h0M69 367.8h0M65.6 367.5h0M65.2 364.4h0M83.1 370.7h0M82 393.4h0M81.6 382.8h0M58.1 376.4h0M69.1 396.5h0M68.9 372.9h0M68.6 386.7h0M68.7 392.4h0M65.4 379.8h0M63.3 385h0M82.3 379.1h0M70.1 364.7h0M83.3 369.2h0M62.2 375.3h0M64 384h0M83.4 365h0M73.5 388.6h0M66 373.5h0M60.3 372.5h0M68.8 388.5h0M81 378.4h0M67.2 392.8h0M81.3 377h0M65.7 370.6h0M62.8 370.3h0M64.9 377.8h0M84.4 386.5h0M76.9 376.6h0M79 399.2h0M59.7 368.9h0M65.2 391.2h0M80.9 390.8h0M85 371.9h0M63.9 382.5h0M83.8 384.6h0M68.8 380.7h0M80.4 391.7h0M75 369.4h0M70.5 365.6h0M68.4 382.3h0M64.1 388.7h0M74.8 369.6h0M61.4 381.4h0M61.4 383.8h0M79.3 384h0M84.1 388.5h0M67 395.2h0M55.8 381.2h0M80.4 366.3h0M63.6 375.5h0M72.2 394h0M60.1 383.8h0M88.4 381.4h0M76.9 394.2h0M61.1 382.9h0M78.9 390.8h0M72.7 391.9h0M68.6 388h0M82.5 367.9h0M71.7 397.2h0M56.7 376.8h0M79.6 375.6h0M73.3 393.2h0M77.5 379.9h0M81.8 377.5h0M82.1 389.1h0M62.7 375.4h0M83.7 363.1h0M73.6 371.7h0M71.5 395.8h0M84.7 387h0M62.4 381.1h0M79.3 383.6h0M58.3 377.5h0M84.9 379.7h0M61.6 381.1h0M82.3 374.3h0M67.4 365.7h0M68 379.3h0M60.5 371.2h0M63.3 384.5h0M62.1 377.8h0M60.5 381.6h0M71.9 390.5h0M92.1 368.3h0M91.7 371.4h0M69.5 368.3h0M75.7 374.8h0M68.6 392.3h0M83.5 371h0M70.1 398.1h0M59.4 384.8h0M70.6 393.4h0M88.3 382.8h0M77.3 392.2h0M82.5 377.7h0M69.2 365h0M80.6 374.4h0M83.6 389.7h0M73.2 366.9h0M75.9 362.6h0M79.2 369.6h0M90.4 369.9h0M73.8 396.4h0M64.5 374.5h0M78.3 393.4h0M61.7 383.5h0M78.8 376.4h0M77.5 366h0M79.8 367h0M72.8 373.6h0" stroke="#82b30a" stroke-width="1.1" stroke-linecap="round" fill="none" stroke-opacity="0.9"/>
<path d="M60.6 422.6h0M43 417.9h0M46.2 415.7h0M58 418.1h0M59.1 421.8h0M54.9 424.2h0M73 410h0M58.1 413.7h0M61.9 417.5h0M54.6 410.7h0M70.8 414.6h0M70.6 407.4h0M67.7 413.7h0M46.1 418.2h0M53.7 402.1h0M54.5 407.2h0M45.1 414.6h0M48.4 408.1h0M53.8 410.9h0M58.2 407.7h0M66.4 406h0M55.1 424.4h0M60.8 421.3h0M56.7 400.5h0M51.8 419.6h0M45.4 419.9h0M59.6 415.6h0M64 405.4h0M68.4 404.4h0M65.1 417.4h0M70.4 407.6h0M63.4 406.1h0M56.9 410.7h0M61.6 407.8h0M68.3 408.1h0M68.3 417.9h0M47.6 414.5h0M53 406.2h0M69.3 414.4h0M67.6 413.6h0M55.4 415.7h0M59.6 405.8h0M67 404.8h0M63.7 416.6h0M47.9 412.3h0M65.5 414.8h0M47.2 413.7h0M71.1 413.4h0M63.8 404.8h0M63.4 408.7h0M45.2 415.9h0M51.8 416.3h0M63.7 416.3h0M48.1 410.4h0M52.2 419.5h0M49 413.1h0M57.9 415h0M50.3 416.7h0M55.4 401.1h0M58.2 419.2h0M51.3 408.7h0M56.3 404.4h0M49.8 409.9h0M73.2 408.7h0M70.9 410.5h0M55.5 399.3h0M59.5 423.7h0M61.6 420.7h0M60.2 408.5h0M54.2 419.1h0M52.9 401.4h0M53.3 416.4h0M54.9 400.4h0M55.7 417.7h0M64.3 418h0M60.5 417.9h0M57.6 424.6h0M52.1 422.6h0M54.9 416.6h0M54 406h0M53.1 421.2h0M63.5 414.7h0M58.5 405.9h0M60.6 424.2h0M56.5 404.2h0M54.8 412.8h0M61.8 408.5h0M58.7 402.4h0M53.8 418.9h0M55.7 414.7h0M55.3 400.9h0M69 410.7h0M47.2 409.1h0M68.3 411.1h0M63.3 419.1h0M58.2 419.3h0M67.2 414.9h0M61 413h0M55.3 401.8h0M54.9 408.6h0M49 407.9h0M64.6 418.1h0M65.6 417.4h0M58.1 413.7h0M64.7 417.8h0M63.1 409.1h0M62 405.6h0M55.7 424.1h0M44.3 417.8h0M47.2 413.5h0M73.8 411.2h0M55.4 402.2h0M45.6 418.4h0M59.1 419.1h0M53.3 419.4h0M67.2 414.1h0M52.7 399.8h0M59 409h0M47 411.3h0M64.9 408.9h0M54.6 418.1h0M62.7 412.5h0M57.5 404.8h0M56.4 409.4h0M60.2 408.5h0M58.9 410.7h0M66.1 408.3h0M59.5 407.3h0M51.1 403.3h0M52 424.3h0M60.5 417h0M65.2 421.2h0M55.7 403.8h0M63.8 416h0M64.1 414.6h0M57.4 424.4h0M61.3 410.8h0M46.1 419.8h0M58.1 423.9h0M51.6 409h0M55.6 414.5h0M68.1 406.8h0M68.5 409h0M59.5 412.1h0M55.6 400.7h0M52.7 409.1h0M54.6 421.4h0M44.8 416.1h0M52.8 417.3h0M67.2 418.5h0M68.7 411.2h0M57 414h0M53.9 402.6h0M49.9 409.8h0M70.5 414.7h0M53.3 405.8h0M56.1 402.7h0M57.8 413.9h0M65.6 404.9h0M66.4 414.4h0M48.1 421h0M65.2 418h0M62.4 405.8h0M60.3 423.6h0M46.9 419.1h0M52.6 408.7h0M52.9 423h0M62.1 417.7h0M61.9 413.6h0M51.3 401.9h0M45.7 416.7h0M49 421.9h0M58.8 408.2h0M57.3 412h0M52.8 410.4h0M56.2 421.5h0M47.2 419.3h0M54.9 416.4h0M60.4 404.6h0M56.7 423.9h0M63.2 417.6h0M58.7 405.1h0M63.6 407.8h0M60.8 422h0M51.6 409.3h0M52 415.9h0M55.8 413.6h0M67.2 413h0M71.2 414.6h0M50.2 406.7h0M48.9 411.7h0M70.6 412.7h0M53.4 404.5h0M52 413.9h0M53.8 421h0M59.5 419.9h0M60.2 409.9h0M58.4 419.8h0M63.4 411.9h0M56.2 423.6h0M50.7 415h0M50.6 417.7h0M62.3 413.4h0M61.4 413.2h0M55.8 424.1h0M55 405.6h0M69.9 408.4h0M59.3 420h0M48.8 415.7h0M65 418.4h0M71.2 412.9h0M59.5 405.1h0M55.7 414h0M60.5 410.8h0M54.6 423.1h0M60.1 405.6h0M64.3 419.5h0M64.2 408.8h0M63.7 412.5h0M53.1 404.5h0M58.6 423.5h0M65 415.6h0M65 408h0M52.7 414.3h0M48.9 419.4h0M56.4 411.4h0M45.8 413.3h0M57.9 422.9h0M61.4 422.1h0M65.7 417.1h0M64.9 420.1h0M53.8 404.9h0M70.1 413.5h0M51 419.2h0M63.4 407.1h0M61.7 420.5h0M64.7 407.1h0M67.7 410.5h0M57.2 400.1h0M58.7 399.6h0M61.5 423.4h0M51.8 404h0M45.3 415.2h0M48.9 417h0M54.2 417.3h0M49.2 411h0M50.4 405.2h0M63 419.1h0M61.3 410.5h0M63.8 412h0M50.8 401.9h0M62.9 411.6h0M50 415.8h0M64.5 420.2h0M61.4 405.9h0M49.9 418.3h0M59.8 410.9h0M71.9 407.7h0M65.1 411.1h0M62.7 405.8h0M57.2 414.2h0M55.5 413.3h0M63.1 421.1h0M61.2 417h0M56.7 417.4h0M60.6 418.1h0M72.3 410.3h0M54.9 401.9h0M51 401.2h0M49.8 419.3h0M50.7 411.5h0M58.4 417.6h0M46.7 417.2h0M71.1 412.6h0M58.6 406.3h0M58.7 418.3h0M73.4 411.7h0M47 405.4h0M57.3 404h0M68.5 408.9h0M70.1 391h0M59.6 391.7h0M64.7 392.9h0M61.5 403.7h0M64.9 396.2h0M65.3 403.7h0M64.1 394h0M65.6 391h0M68.8 389.1h0M60.4 394.7h0M65.2 400.7h0M57.3 398.4h0M71.1 405.3h0M69.3 405.3h0M58 394.5h0M59.5 402.7h0M68.7 396.5h0M66.7 391.5h0M63.7 399.4h0M74.8 409.5h0M69.8 407.3h0M72.4 405.9h0M68.4 398h0M68.9 395.7h0M60.4 400.6h0M62.4 397.1h0M73.9 407.7h0M72.3 405.6h0" stroke="#F8766D" stroke-width="1.1" stroke-linecap="round" fill="none" stroke-opacity="0.9"/>
<path d="M111.7 394.5h0M116.2 387.5h0M114.5 384h0M118.1 392.3h0M106.6 390.5h0M107.1 383.4h0M105.1 402.2h0M111.3 387.6h0M114.4 397.8h0M117.1 392.9h0M113.9 397.8h0M115.5 387.5h0M114 388.3h0M117.5 385.2h0M102.3 401.5h0M123.2 389.8h0M120.6 391.3h0M113.9 381.8h0M122.2 385h0M114.4 384.8h0M110.6 398.3h0M120.9 395.8h0M115.3 395h0M122.9 390h0M119 397.4h0M109.2 389.5h0M106.4 391.4h0M104.6 400.5h0M107.4 383.4h0M117.7 396.2h0M115.4 389.1h0M117.3 392.6h0M104.9 388.6h0M112.6 381.6h0M120.2 394.9h0M108.8 381.8h0M113.1 395.1h0M111.5 394.2h0M108.2 391h0M117.8 392.8h0M113.8 394.6h0M106.8 394.8h0M110.5 384.5h0M117.5 383.2h0M118.2 397.4h0M110.2 384.8h0M120.4 394.4h0M107.6 389.4h0M106.5 386.9h0M120.5 383.5h0M114.7 396.8h0M105.1 401.2h0M122.8 391.3h0M108.5 385.4h0M116 386.8h0M107.6 395.3h0M119.6 383.7h0M118.6 388.5h0M115.4 383.1h0M107.4 387.4h0M118.4 390.2h0M108.6 395.8h0M116.3 394.3h0M105.4 398.1h0M118.1 398.6h0M121.4 394.5h0M110 393.8h0M122.8 389.9h0M107.2 390.6h0M115 387.9h0M116.9 395h0M109.5 391.9h0M111.2 384.4h0M108 396.4h0M121.1 392.7h0M106.3 387.9h0M120.9 393.7h0M105.1 391.3h0M107.7 392h0M115.5 383.3h0M111.5 398.9h0M119.4 391.7h0M118.7 383.8h0M114.6 390.2h0M114.4 387.2h0M110.8 394.9h0M123.4 388.8h0M110.5 388.7h0M121.7 388.3h0M109.1 383.4h0M119.1 390h0M121.3 391.4h0M116 384.3h0M119.3 396.6h0M110.4 388.3h0M112.4 391.4h0M111.5 392h0M105.3 388h0M114.9 392.2h0M118 386.2h0M117 383.8h0M105.6 399h0M116 390h0M115.4 396h0M118.4 391.1h0M111.5 399.1h0M109.1 382.4h0M115.2 395.8h0M107.5 399.5h0M105.9 392.9h0M118.2 395.8h0M121.3 386.7h0M107.7 389.8h0M105.3 383.5h0M108.5 394.4h0M104.7 401.3h0M106.2 389h0M110.8 387.8h0M106.7 395.6h0M104.8 399.3h0M107.8 392.9h0M117.2 396.6h0M112 387.4h0M105.9 391.8h0M114 395.3h0M105.1 386.2h0M107.6 384.1h0M105 401.2h0M113.9 392.4h0M107.1 395.1h0M119 386.4h0M119.3 384.4h0M105.2 397.6h0M109.5 400.9h0M114.6 383.3h0M111.2 399.9h0M109.4 389.9h0M124.6 391.6h0M107.1 394.3h0M105.6 388.6h0M112 384.4h0M110.6 402.5h0M111.5 398.9h0M122.1 385.8h0M118.8 387.9h0M110.8 395.9h0M109.3 384.6h0M113.4 398.3h0M113.9 385.8h0M120.8 395.9h0M117.4 388.9h0M107.3 400.4h0M119.4 387.5h0M116.2 387.5h0M106.2 388.1h0M113.2 382.7h0M108 389.1h0M115.5 396.9h0M119 387.8h0M105.6 391.9h0M111 388.7h0M109.1 390.6h0M109.3 395.8h0M109 390.1h0M122.3 393.2h0M117.8 397.4h0M123.4 391.4h0M105.1 386.5h0M106.7 385.8h0M117.1 396h0M111 402h0M110 384h0M113 399.8h0M106.8 400.3h0M114.9 401.6h0M121.4 394.5h0M118.2 394.8h0M105.9 401.2h0M120.7 391.7h0M108.2 396.9h0M107.7 389.1h0M121.7 386.1h0M104.5 389.2h0M109.2 389.6h0M121.5 387.1h0M107.3 397.5h0M113 397.1h0M105.2 400h0M109.9 399.9h0M120.8 395.3h0M111.4 389.6h0M106.5 385.7h0M118.1 393.7h0M107.7 393.4h0M106.4 386.6h0M112 395.9h0M103.3 397.5h0M114.6 382.5h0M107.1 396.4h0M113.4 397.9h0M107.3 391h0M116.7 394.3h0M112.6 386.2h0M119.2 398.3h0M118.8 383.2h0M109.5 399.9h0M116.2 385h0M104.7 392.4h0M103.7 401.1h0M113.8 385.5h0M114.9 400.9h0M117.4 389.1h0M111.2 383.8h0M121.4 395.9h0M105.4 394.8h0M124 388.6h0M113.7 389.2h0M117.2 386.7h0M122.1 384.3h0M104.8 400h0M108.9 394.4h0M104.6 386.6h0M116.6 382.9h0M113.4 400.1h0M124.2 390h0M110.3 390.1h0M103.9 398.4h0M116.8 388h0M109 396.8h0M112 382.1h0M115.2 396.4h0M110.3 387.5h0M120.3 394.5h0M106 398.8h0M106.8 383.8h0M113.4 397.7h0M115 383h0M109 385.1h0M107 400.3h0M106 402h0" stroke="#00BFC4" stroke-width="1.1" stroke-linecap="round" fill="none" stroke-opacity="0.9"/>
<path d="M114.2 363.3h0M111.9 369.1h0M114 362.7h0M114.4 368.4h0M113 366h0M112.6 365.9h0M113.6 367.7h0M109.4 364.2h0M113.7 369.5h0M109.4 371.2h0M109.3 361.8h0M111.1 361.5h0M110 361.1h0M113.2 374.4h0M112.4 368.4h0M113.6 364.2h0M114.8 362.4h0M108.1 369.9h0M112.8 374.4h0M108.1 363.4h0M111.4 363.4h0M110.3 365.7h0M113.7 371.6h0M115.6 371h0M112.8 369.9h0M111.7 359.2h0M112.8 364.3h0M115.1 366.9h0M110.2 371.8h0M115 369.6h0M108.7 363h0M112.7 371.3h0M109.2 363.1h0M115.6 363.9h0M110.7 367.4h0M109 372.2h0M110 369.5h0M112.5 372.3h0M114.2 367.5h0M110.3 360.8h0M107.9 365.7h0M110.2 363.9h0M111.5 368.3h0M110.7 360.6h0M111.6 369h0M109 361.5h0M109 365.8h0M116.9 364.5h0M108.9 365.3h0M112 364.8h0M109.9 366.1h0M109.7 368.8h0M112 366.7h0M108.2 361.9h0M108.2 363.2h0M114.5 369h0M108.6 371.4h0M110.3 366.7h0M110.2 374.4h0M112.4 373.3h0M110.1 368.1h0M110.6 368.1h0M116.1 362.5h0M111.5 375.9h0M111.2 365.4h0M111 373.1h0M112.2 370.2h0M110.6 373.9h0M112.2 368.4h0M111.7 369.3h0M110.4 367.1h0M115.6 368.8h0M112.9 373.8h0M111.3 364.5h0M110 362.7h0M109 361.2h0M111.7 363.3h0M110.4 367.8h0M107.5 360.8h0M116.6 369.4h0M110.8 362.4h0M115.7 368.5h0M115.5 368.9h0M111.3 367.7h0M109.8 361.3h0M111.3 363.4h0M111.7 364.3h0M110.5 362.1h0M107.8 361.8h0M114.4 362.2h0M108.6 365.3h0M110.6 366.8h0M108.7 363.8h0M111.1 372.9h0M113.2 367.4h0M112 373h0M110.8 361.4h0M109.7 361.2h0M109.3 367.8h0M114.2 361.5h0M115.4 365.7h0M115.5 366.2h0M108.3 362h0M113.6 369.1h0M110.6 363.7h0M109.5 366.4h0M109.6 372.5h0M112 368.9h0M113.2 371h0M112.7 358.7h0M107.9 360h0M116.5 371.1h0M112.3 370.8h0M108.8 362.4h0M115 367.1h0M104.2 367.1h0M101.5 367.4h0M105.6 363.9h0M103.4 363.9h0M103.1 367h0M103.6 363.6h0M102.8 361.5h0M101.6 365.3h0M102.1 362.6h0M100.6 370.3h0M100.8 366.1h0M104.5 369.4h0M106.9 358.4h0M106 362.4h0M107.5 378.4h0M106.9 377.3h0M107.1 382h0M104.8 379.5h0M108.1 384.1h0M104.9 379.6h0M105 382.3h0M109 378.7h0M107.4 377.9h0" stroke="#C77CFF" stroke-width="1.1" stroke-linecap="round" fill="none" stroke-opacity="0.9"/>
<path d="M70.5 357.6h0M61.5 384.5h0M93.8 393.5h0M87 396.5h0M75.5 403.5h0M79.5 399.5h0M110.5 398h0M58.5 378.5h0" stroke="#F8766D" stroke-width="1.08" stroke-linecap="round" fill="none"/>
<path d="M95.5 366.5h0M97 372h0M92.5 376h0M95 378.5h0M99 362h0M54.8 406.5h0M106.2 379.5h0M113.5 373h0" stroke="#00BFC4" stroke-width="1.08" stroke-linecap="round" fill="none"/>
<path d="M44 417h0M44.8 418.3h0M103 401.5h0M112 383.5h0" stroke="#82b30a" stroke-width="1.08" stroke-linecap="round" fill="none"/>
<path d="M103.5 389.5h0M102.8 392h0M106 377.5h0" stroke="#C77CFF" stroke-width="1.08" stroke-linecap="round" fill="none"/>
<circle cx="54.8" cy="344.3" r="1.05" fill="#F8766D"/>
<text transform="translate(59.1 346.4)" font-size="6" fill="#333" textLength="16.5" lengthAdjust="spacingAndGlyphs">CD4 T</text>
<circle cx="54.8" cy="351.2" r="1.05" fill="#C77CFF"/>
<text transform="translate(59.1 353.3)" font-size="6" fill="#333" textLength="11.5" lengthAdjust="spacingAndGlyphs">NKT</text>
<circle cx="79.3" cy="344.3" r="1.05" fill="#82b30a"/>
<text transform="translate(83.6 346.4)" font-size="6" fill="#333" textLength="59.2" lengthAdjust="spacingAndGlyphs">CD8_T1 (memory-like)</text>
<circle cx="79.3" cy="351.2" r="1.05" fill="#00BFC4"/>
<text transform="translate(83.6 353.3)" font-size="6" fill="#333" textLength="57" lengthAdjust="spacingAndGlyphs">CD8_T2 (effector-like)</text>
<line x1="184.1" y1="348.7" x2="184.1" y2="428.6" stroke="#000" stroke-width="1.15"/>
<line x1="180.9" y1="366" x2="184.1" y2="366" stroke="#000" stroke-width="0.9"/>
<text transform="translate(179 368.7) scale(0.92 1)" font-size="7.6" text-anchor="end" stroke="#111" stroke-width="0.08">2.5</text>
<line x1="180.9" y1="385.3" x2="184.1" y2="385.3" stroke="#000" stroke-width="0.9"/>
<text transform="translate(179 388) scale(0.92 1)" font-size="7.6" text-anchor="end" stroke="#111" stroke-width="0.08">0.0</text>
<line x1="180.9" y1="404.3" x2="184.1" y2="404.3" stroke="#000" stroke-width="0.9"/>
<text transform="translate(179 407) scale(0.92 1)" font-size="7.6" text-anchor="end" stroke="#111" stroke-width="0.08">−2.5</text>
<line x1="180.9" y1="423.6" x2="184.1" y2="423.6" stroke="#000" stroke-width="0.9"/>
<text transform="translate(179 426.3) scale(0.92 1)" font-size="7.6" text-anchor="end" stroke="#111" stroke-width="0.08">−5.0</text>
<text transform="translate(160 389) rotate(-90)" font-size="9.5" text-anchor="middle" textLength="29.4" lengthAdjust="spacingAndGlyphs" stroke="#111" stroke-width="0.1">UMAP_2</text>
<line x1="183.6" y1="428" x2="277" y2="428" stroke="#000" stroke-width="1.3"/>
<line x1="189.6" y1="428" x2="189.6" y2="431" stroke="#000" stroke-width="0.9"/>
<text transform="translate(189.3 440) scale(0.92 1)" font-size="7.6" text-anchor="middle" stroke="#111" stroke-width="0.08">−5.0</text>
<line x1="207.5" y1="428" x2="207.5" y2="431" stroke="#000" stroke-width="0.9"/>
<text transform="translate(207.2 440) scale(0.92 1)" font-size="7.6" text-anchor="middle" stroke="#111" stroke-width="0.08">−2.5</text>
<line x1="225.4" y1="428" x2="225.4" y2="431" stroke="#000" stroke-width="0.9"/>
<text transform="translate(225.4 440) scale(0.92 1)" font-size="7.6" text-anchor="middle" stroke="#111" stroke-width="0.08">0.0</text>
<line x1="243.3" y1="428" x2="243.3" y2="431" stroke="#000" stroke-width="0.9"/>
<text transform="translate(243.3 440) scale(0.92 1)" font-size="7.6" text-anchor="middle" stroke="#111" stroke-width="0.08">2.5</text>
<line x1="261.1" y1="428" x2="261.1" y2="431" stroke="#000" stroke-width="0.9"/>
<text transform="translate(261.1 440) scale(0.92 1)" font-size="7.6" text-anchor="middle" stroke="#111" stroke-width="0.08">5.0</text>
<text transform="translate(225.7 451.9)" font-size="9.7" text-anchor="middle" textLength="29.2" lengthAdjust="spacingAndGlyphs" stroke="#111" stroke-width="0.1">UMAP_1</text>
<path d="M222.2 378.3h0M203.4 414.2h0M224 355.5h0M204.3 410.7h0M229.1 409.7h0M221.7 385.6h0M194.4 420.3h0M226.5 384h0M257.4 383.6h0M222.5 359.3h0M218.9 400.6h0M226.6 372.3h0M198.6 383.7h0M258.2 368.4h0M236.5 374h0M207.8 371.6h0M201.1 408.8h0M217.3 362.4h0M214.2 405.9h0M217.3 374.1h0M210.7 377h0M203.4 395.2h0M203.1 386.6h0M234.9 370.6h0M226.2 374.8h0M217.7 381.7h0M209.6 367.5h0M224.9 358.5h0M219.9 361.4h0M232.4 368.7h0M219.5 373h0M259.6 402.2h0M226.3 385.6h0M263.4 392.2h0M223.5 403h0M255.5 398.2h0M234.7 364.7h0M235.8 382.9h0M209.3 405.1h0M201.4 367.8h0M257.6 362h0M215.7 397.6h0M223.2 381.2h0M202.1 419.1h0M190.2 415.4h0M219.6 353.6h0M204.2 370.9h0M264.1 398.4h0M227.3 381.6h0M236.9 366.4h0M235 365h0M236.8 364.2h0M202.2 376.9h0M214.6 367.7h0M203 368.2h0M229.1 393.9h0M260.7 360h0M197 412.2h0M270.8 384.7h0M227.3 363.5h0M209.1 372.6h0M220.5 375.7h0M266.6 389.9h0M234.5 383.2h0M237 369.6h0M214.7 406.5h0M191 413.6h0M197.9 368.6h0M272.6 391.2h0M210.4 376.7h0M212.9 393h0M206 411.5h0M210.7 400.1h0M220.5 372.3h0M238.4 387.2h0M238.3 380.2h0M241.8 369.2h0M262.9 396.9h0M210 423.4h0M223.7 407.4h0M196.4 420.8h0M211.8 369.4h0M258.2 397h0M257.4 398.5h0M201.8 413.7h0M224 376.3h0M194.6 420.5h0M258 367.1h0M222.6 402.5h0M232.3 394.4h0M196 419.7h0M271.7 387h0M252.8 382.7h0M212.1 415.8h0M204.7 396.3h0M203 408.3h0M245.9 366.2h0M223 371.3h0M203.2 382.1h0M207.5 390.8h0M214.4 406.9h0M199.5 365.7h0M269.8 394.4h0M226.3 393.2h0M231 369.8h0M237.9 378.1h0M202 417.8h0M234.5 382h0M258.7 388.2h0M206.5 411.9h0M216.5 383h0M269.6 393.4h0M265.9 387.6h0M264.2 398.3h0M190.6 412.8h0M228 395.5h0M193.1 409.2h0M209.3 418.9h0M199 408.2h0M216 355.9h0M272.1 390.2h0M264.8 390.8h0M196.3 405.9h0M205.3 377.6h0M214.6 400.4h0M237.5 369.1h0M241.2 378.3h0M225.9 376.1h0M252.9 386h0M220.1 367.6h0M216.9 402.8h0M200.5 414.3h0M228 368.7h0M259.4 400.1h0M214.4 357.2h0M267.2 384.7h0M193.2 413h0M233.4 384.2h0M201.6 401.9h0M262.4 367.6h0M210.5 370.1h0M207.1 367.7h0M224 354.5h0M270.1 384.9h0M207 382.8h0M212.1 411.4h0M256.7 367.6h0M230.8 379.5h0M204.2 394.3h0M265.2 382.8h0M204.6 392.7h0M235.6 381.8h0M203 420.7h0M253.9 393.2h0M214.2 361.4h0M240 376.7h0M214.7 401.2h0M209.7 405.6h0M239.5 366.2h0M241.4 375.1h0M218.5 389.7h0M256.8 360.8h0M220.7 373.8h0M213.7 380h0M238.3 378.8h0M269.6 386.1h0M205 422.2h0M195.6 415.2h0M206.7 380.9h0M260.9 367.2h0M216.8 409.1h0M201.9 414.5h0M227.6 366.8h0M206.3 385.8h0M238.2 368.8h0M256.9 367.7h0M206.9 374.4h0M259.9 372.2h0M207.2 406.3h0M210.5 416.4h0M210.8 388h0M195.7 404.8h0M224.7 384.1h0M262.4 400.5h0M211.6 368.1h0M219.3 375.9h0M205.9 407.2h0M207.4 365.9h0M259.7 372.8h0M222.6 387.7h0M238.5 384.5h0M207.2 383.6h0M224.4 376.6h0M233.4 368.6h0M254.3 396.2h0M206.4 369.8h0M228.2 385.4h0M199 381h0M264.2 362.7h0M202.6 367h0M257.7 393.2h0M215.8 407.4h0M208.6 418.4h0M223.8 354.8h0M216.2 390.1h0M210.6 376.5h0M262.3 369.5h0M191 417.9h0M193 412.5h0M209.5 406.7h0M216.8 379.5h0M204.2 390h0M200.1 372.7h0M219.5 389.6h0M214.5 406.9h0M231.8 371.2h0M221.3 384.6h0M233.7 371.7h0M217.2 386.2h0M235.9 381.5h0M219.8 361h0M218.7 369.5h0M222.6 363.5h0M265 389.5h0M197.1 408h0M232.9 381.3h0M224.5 372.8h0M194.7 411.9h0M208.2 376.6h0M192.7 421.2h0M232.4 380.6h0M251.1 369.6h0M207.1 396.2h0M255 373.6h0M229.1 383.2h0M214.7 368.5h0M239.6 381.1h0M240.9 375.8h0M218.2 391.2h0M262.2 358.4h0M200.2 411h0M261 381.4h0M242.9 374.4h0M215.3 374h0M227.7 395.7h0M222.6 391.3h0M209.5 380.4h0M198.2 422.1h0M207.3 410.8h0M211.1 364.2h0M228.8 366h0M245.8 367.1h0M209 411h0M203.5 420.9h0M211 372.6h0M253.9 368.8h0M200.7 411.4h0M224.8 402.6h0M204.4 421.9h0M200.1 409.1h0M220.7 362.7h0M229 370.7h0M252.6 365.6h0M223.3 405.2h0M263 387.7h0M210.5 393.2h0M211.4 397h0M212.8 381.3h0M261.3 389.7h0M214 384.6h0M238.7 372.4h0M262 369.4h0M203.2 391.7h0M253.1 368.1h0M255.3 364.6h0M221.9 363.2h0M212.6 371.4h0M255.4 386.9h0M226 372.1h0M258.8 394.8h0M206.2 409.6h0M218.2 360h0M268.7 395.9h0M219.8 364h0M259.2 360.9h0M231.4 379.4h0M219.7 363.2h0M233.8 387.7h0M196.1 403.6h0M204.8 410.1h0M261.7 398h0M260.5 361.2h0M208.8 406.4h0M220.8 392.6h0M199.2 409.6h0M245.5 367.9h0M227.9 386.5h0M261.5 385.9h0M253.2 391.3h0M202.5 407.3h0M266.9 384.7h0M234 385.8h0M265.2 387.4h0M259.2 365.6h0M189.3 417.5h0M223 355.3h0M218.1 397.4h0M194 415.6h0M266.6 397.5h0M210 422.4h0M218.9 354.5h0M213.4 406.2h0M224.8 406.9h0M212.2 371.4h0M221.1 382.6h0M210.4 414.9h0M194.3 416.1h0M255.8 382.8h0M258.4 400.4h0M207.2 411.7h0M220.1 371.6h0M199.2 406.1h0M221.2 352.4h0M196 408.3h0M257.3 370.3h0M239.8 366.2h0M227.4 395.2h0M234.7 385.7h0M206.5 375h0M245.5 367.4h0M196.5 406.6h0M250.2 397.6h0M225.8 363.6h0M205.1 410.8h0M228.7 369.6h0M263.8 387.4h0M200.4 376.3h0M213.5 410.5h0M234 393h0M229.4 373.3h0M205.3 419.7h0M213.8 371.5h0M223.7 388.9h0M256.7 368.5h0M240.3 380h0M252 395.9h0M218.6 373.5h0M199.3 372.3h0M225.5 371h0M211.3 419.8h0M238.5 381h0M205.6 386.1h0M226.7 373.5h0M206.3 369.2h0M216.3 364.5h0M229.4 369.3h0M228.6 395.9h0M205.9 379.3h0M206.1 383.9h0M197.2 401.1h0M219.4 385.2h0M237.2 384.3h0M239.6 366.8h0M203.1 376.8h0M217.6 383.3h0M207.2 380.8h0M218.6 381.9h0M259.2 393.5h0M219.4 405.9h0M212.8 366.3h0M211.6 374.1h0M222.4 355.9h0M263.5 391.1h0M227.7 363.8h0M224.6 368.3h0M202.7 374.8h0M221.9 389.5h0M231.4 397.7h0M260 401.6h0M218 389h0M231.2 378.1h0M201.1 376.1h0M187.8 416.1h0M268.2 391.4h0M211.5 374h0M253.6 360.6h0M204.7 419.4h0M222.5 360.1h0M199.3 372.4h0M205 400.4h0M198.9 395.2h0M196.8 409.2h0M198.1 420.5h0M221.3 406h0M222.7 367h0M226.5 401.6h0M211.2 364.8h0M216.7 364.1h0M227 400.6h0M210.4 413.9h0M224.6 358.6h0M205 395.9h0M212.7 387.5h0M220.7 381.5h0M198.3 415.3h0M219.7 383.2h0M196.8 421.5h0M199.9 413.5h0M202.6 369.6h0M214.1 362.1h0M221.3 385.5h0M258.2 382.3h0M199.8 412.3h0M225.8 367.4h0M211.4 363.6h0M227.3 378h0M207.5 364.6h0M200.6 404.3h0M205.7 363.9h0M222.2 378.2h0M207 420h0M242.6 374.8h0M246.1 365.6h0M209.9 391.2h0M195.9 406.1h0M265.6 389.1h0M257.4 383.6h0M219.2 409.3h0M253.4 390.3h0M216.1 375.7h0M220.4 361.8h0M243.7 362.6h0M213.6 364.2h0M202.9 405.5h0M261.5 402.1h0M191.9 407.4h0M244 364.2h0M209.8 392.2h0M207.9 368.8h0M261.8 390.3h0M214.4 413.2h0M219.7 395.5h0M230.8 377.4h0M226 377.5h0M212.7 372.7h0M215.5 383.6h0M241.5 366.6h0M203.5 402.1h0M212.1 384.1h0M252.4 381.2h0M202.4 416.3h0M222 399.5h0M214.9 387.4h0M227.8 383.1h0M267.6 384.9h0M238.3 379.2h0M217.5 409.9h0M227.4 379.4h0M238.8 385.7h0M226.9 357.7h0M266.5 386.7h0M217.3 370.7h0M229 385.4h0M216.5 401.7h0M216.4 394.8h0M220.9 355.2h0M198.9 383h0M223.1 398.9h0M262.9 402.4h0M218.7 365h0M265.2 387.7h0M236.1 362h0M200.7 372.2h0M232.4 375.2h0M262.3 384.4h0M196.1 404.7h0M225.4 366.7h0M216.8 408.6h0M196.2 367.3h0M229.9 388.4h0M205.7 414.2h0M259 391.7h0M211.1 416.8h0M195.3 402.6h0M233.3 383.1h0M205.5 422.9h0M226.1 374h0M233.9 369.3h0M201.8 415.9h0M225.3 388.6h0M264.5 390.5h0M223.1 395.6h0M209.4 410.2h0M242 366.9h0M207.6 387.6h0M234.7 374.2h0M220.3 382.2h0M258.9 396.8h0M192.1 414h0M200.5 374.4h0M213.5 417.4h0M218.3 389.7h0M225.4 376.1h0M207.6 371h0M207 414.3h0M206 404.6h0M194.4 419.1h0M238.9 382.1h0M225.2 360.9h0M262.5 393.4h0M229.8 358.3h0M225.6 361.6h0M204.6 379.5h0M260.2 367.8h0M227.1 389h0M236.3 372.2h0M245.2 367.2h0M234.7 363h0M254.2 359.1h0M216.6 370.4h0M210.1 366.1h0M199.3 371.6h0M218 355.4h0M259.4 399.7h0M214.4 406.9h0M264.6 393.3h0M225.1 384h0M257.7 388.9h0M220.7 372.7h0M211.8 409.8h0M200.5 384.7h0M219.4 367.2h0M217.2 370.4h0M212.6 386.4h0M262.5 365h0M224.9 402.5h0M227.3 408.6h0M219.4 386.3h0M212.4 361.4h0M225.6 388.9h0M218.2 363h0M210.8 396.4h0M267.3 386.5h0M240.3 362h0M266.5 392.3h0M219.2 364.5h0M193.3 419.7h0M203.8 372.9h0M230.7 390.6h0M215.1 399.8h0M267.2 388.8h0M268.4 394.3h0M216.1 378.7h0M196.8 369.7h0M254.1 388.6h0M213.2 402.4h0M219.8 413.8h0M253.5 398.9h0M233 372h0M209.8 384.4h0M209.8 376.7h0M238.2 363.7h0M193.7 414.9h0M195.8 421h0M215.9 362h0M219.2 367.8h0M262.6 363.4h0M214.1 404h0M217.3 354.2h0M265.6 381.5h0M260.5 382.8h0M257.6 364.8h0M207.9 392.2h0M264.6 383.1h0M203.5 412.6h0M223.2 384.2h0M210.6 366.5h0M201 414.6h0M232.6 385.7h0M217.7 410.1h0M209.6 386.9h0M207.7 368h0M204.2 365.8h0M230.3 368.3h0M215.3 355.5h0M199.5 413.8h0M221.4 360h0M218 409.6h0M238.8 367.3h0M211.4 378.4h0M227 379.6h0M219.9 368.3h0M249.2 358.4h0M209.5 371.8h0M215.7 367h0M255.3 377.5h0M199.9 422.3h0M203.1 400.2h0M236.4 368.7h0M261.4 364.1h0M259.9 392.3h0M222.7 384.4h0M228.6 379.7h0M210.1 411.3h0M259.9 396h0M227.9 389.9h0M203.2 377.3h0M226.6 400.1h0M229 411.1h0M211.6 362.4h0M258.5 363.7h0M222.4 399.6h0M216.4 399.7h0M260.5 369.7h0M225.9 369.6h0M217.4 402.3h0M219.8 352h0M213 399.2h0M219.7 388.6h0M211.6 396.2h0M225.3 408.5h0M225.1 364.6h0M253.1 387.4h0M211.2 383.8h0M203.4 403.6h0M208.5 394.4h0M210 409.6h0M217 372.8h0" stroke="#1a9ab6" stroke-width="1.44" stroke-linecap="round" fill="none"/>
<path d="M230.1 389.2h0M221.2 378.2h0M223.7 384.8h0M213.1 382.6h0M218.3 361.6h0M206 379.5h0M221.3 407h0M222.8 399.1h0M222.5 397.3h0M217.3 359.4h0M230 397.2h0M213.7 395.4h0M225.4 364.3h0M227 364.1h0M229.5 389.5h0M221.2 372h0M213.3 386h0M215.7 356.6h0M208 375.6h0M217.7 401.6h0M227.3 391.4h0M231.1 367.2h0M215.6 371.3h0M220.1 360.4h0M221.7 398h0M208.3 382.7h0M226.6 393.9h0M215.2 374.9h0M212.2 360.8h0M210.2 366.4h0M243.8 366.2h0M212.6 359.8h0M214.5 401.4h0M218.1 364.1h0M203.1 390.2h0M230.3 363.4h0M223.1 395.4h0M226.4 370.8h0M211.9 362.4h0M221.4 358.2h0M212.7 375.8h0M202 366.6h0M217.7 367.5h0M213.3 380.8h0M242.7 363.1h0M236.4 388.1h0M207.1 396.3h0M235.6 377.9h0M221.9 357.5h0M205.4 379.4h0M208.3 375h0M212.1 394.3h0M226.9 376.1h0M216.7 385h0M205.1 371.9h0M220.7 395.7h0M220.8 402.7h0M200.9 368.3h0M217.5 392.2h0M214.8 371.7h0M223 366.2h0M210.2 385h0M197.3 366.8h0M221.5 367.3h0M210.2 365.7h0M234.7 364.5h0M209.1 367.3h0M215.7 402.3h0M213 370.9h0M217.2 391.3h0M210.8 401.7h0M199 373.7h0M230.2 363.6h0M225.4 397.6h0M236.2 369.4h0M215.7 392.8h0M221.1 372h0M241.6 374h0M228.8 372.1h0M216.3 361.4h0M213.9 396.4h0M223 370.7h0M215.8 367.7h0M200 385.9h0M239 362.5h0M242.6 375.6h0M201.5 367.5h0M229.7 382.3h0M205.3 372.1h0M209.1 377.2h0M222.9 358.2h0M241.1 380.5h0M210.1 372.5h0M209.9 391.7h0M214.5 357h0M229.7 361.8h0M225.9 406h0M211.6 373.9h0M202 387.7h0M232.8 382.3h0M207.2 367.5h0M228.5 394.5h0M202.4 364.6h0M229.7 372.8h0M220.4 355.6h0M225.2 365.5h0M205.4 381h0M224.5 397h0M223.4 391.3h0M206.4 386.2h0M215.7 400.6h0M221.3 392.3h0M223.1 405.5h0M224.9 368.8h0M223.9 374.3h0M218.9 371.3h0M212.7 378.6h0M220.6 402.5h0M204.6 391.3h0M228 391.6h0M208.7 371.8h0M216.4 368.2h0M214.5 394.3h0M232.6 362.3h0M234.8 378.4h0M206.3 368.8h0M215.3 360.3h0M211.2 394.4h0M226.8 368.6h0M216.7 364.3h0M229.8 399.5h0M222.2 369.1h0M204.7 377.3h0M241.5 367.8h0M230.7 385.7h0M231.3 377h0M214.6 381.3h0M225.3 364.3h0M243.2 362.2h0M211 393.1h0M217.3 387.3h0M224.7 395.3h0M242.1 368.1h0M212.2 381h0M239.9 369.8h0M210.1 396.6h0M209.7 392h0M209.7 396h0M221.7 402.2h0M238.5 373.2h0M206.7 368h0M225.1 401.8h0M221.2 406.6h0M202.8 388.2h0M211.3 372.4h0M225.8 367.9h0M230.5 388h0M219.2 404.2h0M217.2 362.7h0M240.1 379h0M229.4 386.5h0M202 386.7h0M232.1 396.9h0M204 376.8h0M229.5 387.8h0M219.4 391.2h0M226.2 358.6h0M199.4 379h0M209.9 364.5h0M230.7 372h0M236.9 373.8h0M213 392.7h0M207.9 363.6h0M227.7 371.6h0M222.5 387.7h0M235.7 386h0M208.4 379.3h0M209.3 386.3h0M212.8 370.1h0M225.8 374.7h0M228.3 377.5h0M246 368.4h0M218 402.7h0M222.7 356.4h0M220.9 360.7h0M214.6 392.2h0M234.9 391h0M219.3 369.3h0M231.3 365.6h0M217.6 388.7h0M232.1 361.7h0M228.1 369.8h0M209.3 393.5h0M206.8 386.9h0M203.7 390.2h0M219.2 359h0M212.8 392.3h0M212.7 388.9h0M231.3 390h0M217.9 396.8h0M220.8 379.3h0M233.2 378.8h0M201.4 372.6h0M233.2 382h0M229.7 372.1h0M197.6 374.9h0M230 381.5h0M239 372.5h0M235.6 389.3h0M235.1 371.8h0M213.7 368h0M230.9 392.8h0M212.4 364.6h0M206.6 396.4h0M201.4 370.4h0M224.5 373.3h0M238.4 384.9h0M205.7 392.3h0M232.2 392.6h0M233.8 383.6h0M221.8 359.2h0M210.3 387.9h0M198.3 365.9h0M216.5 381.7h0M207.6 390h0M229.7 399.5h0M218.7 367.9h0M199.9 370.9h0M225.3 387.2h0M244.6 368h0M229.9 366.5h0M208.3 376.2h0M239.7 364.8h0M244.8 369h0M218.3 364.6h0M217 396.6h0M213.4 376.5h0M228.5 362.9h0M222.9 396.1h0M214.6 393.3h0M204.2 366.1h0M207.1 379.5h0M208.7 399.9h0M232.7 388.4h0M240 365.7h0M217.2 357.4h0M233.6 383.3h0M219.7 384.5h0M238.6 379.4h0M228.1 362.6h0M233.6 387.6h0M223.5 381.1h0M205.9 393.4h0M210.7 369.8h0M224.8 368.9h0M228.4 384.5h0M210.2 393h0M225 392.8h0M207.1 376.1h0M233.4 393.2h0M217.7 371.3h0M211.1 372.8h0M198.8 372.4h0M230.5 394.3h0M240.7 364.4h0M212.7 394.8h0M220 388.5h0M241.5 371.6h0M216.8 397.3h0M204.6 391.9h0M242.7 368.6h0M202.2 391.5h0M223.7 369.1h0M228 390.1h0M205 364.3h0M230.9 375.6h0M207.7 385.9h0M227.7 407.7h0M232.1 410.1h0M231.3 409.2h0M226.5 407.9h0M226.9 407.3h0M228.7 408.9h0M188 415.9h0M226.1 393.5h0M211.1 385.7h0M202.8 381.4h0M214.4 368.7h0M207.6 370.6h0M211.7 365.6h0M213.8 374.8h0M233.4 383.9h0M201.5 368.9h0M206.2 371.6h0M236.7 373.2h0M223.2 372.5h0M204.3 381.3h0M216.7 392h0M202.8 379.3h0M237.9 370.1h0M230 375.7h0M227.9 365h0M235.6 367.7h0M230.8 377h0M226.3 374.2h0M219.9 369.6h0M220.8 372.2h0M226.5 381.5h0M214.5 386.4h0M227.2 381h0M230.2 378.6h0M224.8 368.6h0M203.7 375.1h0M218.3 372.3h0M210.4 374.2h0M227.9 375.6h0M213.9 391.4h0M211.1 367.7h0M236.2 368.5h0M195.3 412.5h0M193.5 408.3h0M206.4 415.1h0M200.8 403.4h0M200.6 415.3h0M207.8 415.1h0M194.7 405.1h0M203.1 421.8h0M213 406.6h0M207.2 409.2h0M213.2 411.4h0M204.6 409.3h0M194.9 418.7h0M198.6 415.5h0M207.5 406.3h0M201.2 404h0M205.3 421.9h0M209.9 410.7h0M188.7 415.2h0M200 401.2h0M199.7 417.2h0M205.4 412.4h0M189.9 417.1h0M215 412.8h0M199.2 417.9h0M207.9 411.8h0M198.1 406.2h0M194.8 400.7h0M205 419h0M201.5 417.5h0M212.4 410.6h0M200.9 419.7h0M207 404.3h0M197 402.2h0M213.9 409.5h0M207.8 425.9h0M198.4 408.9h0M213.4 412.8h0M202.5 414.5h0M198 409h0M193.3 415.9h0M196.5 408.9h0M206.4 416.3h0M203.4 410.3h0M205.2 402.1h0M198.8 412.8h0M196.6 421.1h0M197 415.3h0M193.8 410h0M198.4 418.6h0M213.3 413.9h0M215 412.2h0M195.5 421.3h0M197.3 419.1h0M195.4 412h0M193.5 414.2h0M205.7 412.9h0M201.2 400.8h0M191.5 415.8h0M215.5 395.9h0M206 398.5h0M200.7 396.5h0M215.6 389.6h0M210.5 391h0M205.6 393h0M209.9 397.4h0M214.8 390.2h0M201.4 400.5h0M213 399.6h0M213.9 393.8h0M218.9 404.3h0M210.3 402.8h0M258.1 383.9h0M259.2 388.2h0M258.8 397.6h0M261 384.9h0M253 393.5h0M256.1 386.5h0M259.6 391.8h0M255.3 390h0M254.2 399.7h0M257.4 390.1h0M267.7 389.6h0M262.3 401.8h0M267.7 384.6h0M253.7 391h0M263.6 387.6h0M271.2 386.2h0M257.1 387.6h0M255.6 384.8h0M269.9 398.4h0M265.4 394.6h0M252 390.8h0M258 387.1h0M260.4 398.6h0M254.3 383h0M254.9 391.6h0M272.2 388.1h0M262.6 382.1h0M256.1 391h0M258.5 385.2h0M258.6 392.8h0M257.9 401.6h0M266.8 385.1h0M258.7 385.2h0M256.3 400.2h0M261.9 390.1h0M270 387.6h0M255.3 398h0M268.6 389.6h0M256.7 396.4h0M258.4 396.9h0M265.2 395.8h0M265.7 385.9h0M264.2 397.3h0M256.9 398.9h0M259.4 382.1h0M264.5 383.1h0M256.9 399.5h0M249.3 402.1h0M263.3 384.3h0M264.6 394.4h0M256.8 382h0M267.8 386.2h0M267.9 392.9h0M263.2 384h0M256.1 387.2h0M273.4 390.4h0M252.6 385.7h0M263.8 398h0M258.2 387.2h0M270.4 382h0M266.6 387.4h0M269.9 391.6h0M266.3 388.5h0M267.4 383.7h0M252.4 391.4h0M270.9 386.9h0M261.3 399.8h0M269.3 395.7h0M260.8 398h0M262.4 368h0M261 358.9h0M259.7 363.4h0M256.5 371.3h0M260.7 366.2h0M261.5 366.2h0M254.7 358.1h0M255.1 358.6h0M259.6 360.1h0M256.2 365.2h0M256.1 366.8h0M262.4 366.4h0M261 365.8h0M258.3 363.5h0M260.6 362.8h0M257.9 365.9h0M262.3 360h0M261.8 359.8h0M255.5 365.2h0M256.2 359.3h0M259.3 359.8h0M257.7 360.1h0M256 362.1h0M257.6 367.6h0M255.2 360.6h0M257.1 372.2h0M256.7 370.9h0M257 363.3h0M259.6 362.5h0M257.9 368.5h0M259.6 369.9h0M260.9 370.5h0M257.3 359.5h0M253.8 368.2h0M258.1 370.1h0M257.6 363.4h0M262.9 371.4h0M255.5 365.7h0M257 359.7h0M258.3 371.8h0M261 365.1h0M261.1 364.2h0M256.1 358.8h0M258 361.2h0M260.7 365.8h0M260.8 371.4h0M258.8 364.9h0M256.7 359.5h0M262.3 365.4h0M257.3 359.5h0M256.3 364h0M258.2 370.4h0M259 369.2h0M260.7 363.6h0M261.9 368.8h0M255.1 363.4h0M252.2 363.3h0M247.3 367.2h0M250.8 363.1h0M250.9 360.7h0M254.1 376.9h0M254.6 377.4h0M250.1 379.1h0M254.7 378.7h0" stroke="#d56a16" stroke-width="1.44" stroke-linecap="round" fill="none"/>
<path d="M201 381.1h0M260.2 398.4h0M213.3 371.3h0M222.3 403.1h0M270.2 391.4h0M221.3 378.9h0M223.9 387.8h0M207.7 409.7h0M191.1 413.6h0M266.9 389.7h0M237.8 376.1h0M211.8 374.2h0M221.1 385.5h0M191.4 417.8h0M214.3 368.1h0M212.3 413.8h0M219.7 361.2h0M262.7 394.8h0M249 401.6h0M270.1 391.2h0M216.1 383h0M235.6 372.2h0M233.8 375.3h0M240.9 374.3h0M213.1 360.8h0M191 407.5h0M245.2 368h0M223.1 362.7h0M212.7 418.3h0M230.1 409.6h0M217.1 364.8h0M209.2 390.9h0M242.6 367.4h0M212.5 378.3h0M209.9 417.8h0M269.9 393.7h0M231.5 362.7h0M208.5 388.1h0M215.8 353.2h0M258.1 384.7h0M233.8 366.9h0M227.7 373.3h0M212.1 366.8h0M213.7 364.2h0M244.1 366.5h0M215.5 415.1h0M258.4 398.9h0M227.1 400.6h0M214.2 372.2h0M226.6 363h0M209.3 405.8h0M202 385.7h0M198.3 405.1h0M203.3 367.4h0M224.2 383.8h0M232.7 409.5h0M222.9 364.9h0M223 369.2h0M225.9 391.3h0M234.2 386.6h0M205.1 366.5h0M196.6 400.3h0M197.1 412.7h0M199.8 423.4h0M225.9 363.1h0M196.2 422.4h0M212.6 367.7h0M196.3 405.8h0M202.2 416.2h0M222.3 400.9h0M204.8 367.9h0M222.9 370.6h0M205.7 364.3h0M214.4 407.1h0M213.8 389.4h0M260 372.8h0M206.6 417.4h0M258 388h0M262.2 398.7h0M222.2 380h0M215 359.8h0M229.4 387.8h0M259.2 392.7h0M211.7 362.3h0M208.6 374.9h0M229.9 393.5h0M228.1 399.2h0M237.6 383.3h0M267.7 393.7h0M214.2 410.8h0M210.2 392.3h0M223.5 356.3h0M212.9 403.3h0M221 356h0M258.3 385.9h0M262.6 390.6h0M227.5 380.8h0M217.1 382.4h0M195.8 409.3h0M204.2 379.8h0M253.9 392.5h0M221.6 377.8h0M216 353.3h0M221.1 379.3h0M218 375.4h0M189.4 415.9h0M201.4 407.6h0M270.3 394.6h0M251.3 401h0M206.3 418.3h0M200.9 367h0M198.6 378.3h0M258.9 391.1h0M199.4 371.7h0M204.5 386.1h0M221.1 402.3h0M213 388.4h0M213.1 412.9h0M202.6 379.7h0M205.5 375.5h0M213.2 354.7h0M216.5 360.7h0M217.3 400.6h0M203.4 365.2h0M265.6 386.3h0M223.1 376.2h0M254.1 397.9h0M256.9 393.8h0M205.6 372h0M211.4 379.8h0M223.4 363.5h0M192.7 415.4h0M201.9 411.2h0M203.2 387.5h0M199.9 378.5h0M191.3 419.5h0M257.4 363.2h0M265.6 389.9h0M217.9 358.2h0M258.5 367h0M261.4 382.1h0M229.9 391.4h0M197.7 372.2h0M207.1 384.9h0M230.5 379.7h0M226.4 383.9h0M213.9 373.5h0M256.3 385.9h0M212 415.4h0M214 367.3h0M259.2 385.4h0M193 410.9h0M273.6 388.8h0M232.4 390.8h0M262 384h0M197.2 409.6h0M204.7 383.3h0M195.1 418.9h0M240.7 375.6h0M200.4 404.6h0M208.1 421.2h0M190 413.4h0M250.9 393h0M262.7 360.3h0M233.3 375.6h0M223.2 401.6h0M220 365.7h0M268.4 391.9h0M227.9 385.3h0M223.8 398.5h0M239.8 371.8h0M244.1 368.5h0M216.2 407.5h0M208.9 421.7h0M213.2 396.6h0M258.2 393.3h0M236.1 375.1h0M204.5 381.7h0M265.7 386.8h0M242.3 378.4h0M268.3 392.5h0M189.1 414.3h0M195 412.1h0M204.1 422.1h0M205.3 383.2h0M220.1 402.2h0M209 382.2h0M217.2 354.7h0M262.9 386.5h0M220.9 363.8h0M254.1 384.2h0M221.3 405.1h0M215.3 387.5h0M204 407.7h0M215.3 414.5h0M228.8 389.7h0M221.9 358.4h0M220.8 382.4h0M215 352.8h0M226 378.1h0M196.8 368.1h0M243.6 364.6h0M258.3 394.5h0M220.6 386h0M236.9 382.5h0M223.8 386.9h0M232.1 389.9h0M204.1 421.5h0M233.2 368.7h0M208 389.9h0M230.8 390.8h0M223 401.4h0M214.8 372.3h0M233.2 382.6h0M226.5 380.7h0M199.7 405.5h0M195.4 411.3h0M213.5 361.2h0M242.5 371.2h0M194.3 406.9h0M215.7 407.3h0M214.1 414.9h0M237.5 382.7h0M211 398.3h0M239.5 364.8h0M218.4 408.5h0M222 405.8h0M207.3 418.2h0M217.8 373h0M231.8 374.1h0M209.5 382.8h0M227.3 369.8h0M210.8 394.6h0M236.4 382.8h0M207 419h0M208.2 398.7h0M201.2 399.2h0M255.5 391.6h0M239.5 377.8h0M200.5 375h0M199.7 377.5h0M200.8 371.7h0M258.9 380.9h0M221.8 389.9h0M266.1 387.8h0M222.8 362.2h0M218.2 360.3h0M206.2 403.5h0M215.1 378.4h0M198.6 422.8h0M213.9 359h0M200.8 385.9h0M225.4 394.6h0M209.4 390.3h0M211 403.6h0M190.9 413.3h0M204 404.7h0M220.2 392.7h0M263.3 364.7h0M196.4 374.9h0M218.3 360.5h0M201.7 408.1h0M234.6 391.4h0M265.8 391.5h0M210.1 384.4h0M195.2 419.1h0M225.3 375h0M259.9 394.9h0M256.3 360.8h0M220 357.3h0M218.4 365h0M205.7 380.8h0M227.2 374.2h0M265 397.5h0M209.2 406.3h0M206.7 420.1h0M255.4 390.9h0M236.9 362.6h0M237.5 373.7h0M215.8 361.9h0M222.4 370.1h0M218.7 362.8h0M263.7 394.2h0M222.2 376.2h0M233.1 374.2h0M266.8 389.3h0M262.8 395.8h0M267.3 383.4h0M229.4 362.6h0M231.7 373.4h0M228.8 379.4h0M204 381.8h0M204.2 366.7h0M237.2 365.4h0M266.4 389.6h0M211.1 412h0M204.1 405.5h0M192.2 420.1h0M219.9 386.9h0M202.1 364.4h0M222.2 378.7h0M208.2 374.2h0M213.2 367.1h0M235.5 385.1h0M210.7 371.2h0M207.1 376.8h0M227.1 378.8h0M205.6 395.5h0M223.1 362.6h0M209.3 388.2h0M202.3 413.4h0M204.5 409.4h0M255.5 397.9h0M210 416.8h0" stroke="#1a9ab6" stroke-width="1.44" stroke-linecap="round" fill="none"/>
<circle cx="220.8" cy="376.9" r="25.4" fill="none" stroke="#222" stroke-width="0.85" stroke-dasharray="1.8 1.4"/>
<circle cx="261.7" cy="390.5" r="13.6" fill="none" stroke="#9a9a9a" stroke-width="0.6" stroke-dasharray="1 1"/>
<circle cx="188.5" cy="344.6" r="1.05" fill="#1a9ab6"/>
<text transform="translate(192 346.7)" font-size="6" fill="#333" textLength="16.2" lengthAdjust="spacingAndGlyphs">Cured</text>
<circle cx="188.5" cy="351.2" r="1.05" fill="#d56a16"/>
<text transform="translate(192 353.3)" font-size="6" fill="#333" textLength="24" lengthAdjust="spacingAndGlyphs">Relapsed</text>
<line x1="320.75" y1="348.25" x2="320.75" y2="428.7" stroke="#000" stroke-width="1.15"/>
<line x1="317.55" y1="365.75" x2="320.75" y2="365.75" stroke="#000" stroke-width="0.9"/>
<text transform="translate(315.95 368.45) scale(0.92 1)" font-size="7.6" text-anchor="end" stroke="#111" stroke-width="0.08">2.5</text>
<line x1="317.55" y1="385.25" x2="320.75" y2="385.25" stroke="#000" stroke-width="0.9"/>
<text transform="translate(315.95 387.95) scale(0.92 1)" font-size="7.6" text-anchor="end" stroke="#111" stroke-width="0.08">0.0</text>
<line x1="317.55" y1="404.5" x2="320.75" y2="404.5" stroke="#000" stroke-width="0.9"/>
<text transform="translate(315.95 407.2) scale(0.92 1)" font-size="7.6" text-anchor="end" stroke="#111" stroke-width="0.08">−2.5</text>
<line x1="317.55" y1="424" x2="320.75" y2="424" stroke="#000" stroke-width="0.9"/>
<text transform="translate(315.95 426.7) scale(0.92 1)" font-size="7.6" text-anchor="end" stroke="#111" stroke-width="0.08">−5.0</text>
<text transform="translate(296.1 388.75) rotate(-90)" font-size="9.5" text-anchor="middle" textLength="29.4" lengthAdjust="spacingAndGlyphs" stroke="#111" stroke-width="0.1">UMAP_2</text>
<line x1="320.25" y1="428.1" x2="413.75" y2="428.1" stroke="#000" stroke-width="1.3"/>
<line x1="326.25" y1="428.1" x2="326.25" y2="431.1" stroke="#000" stroke-width="0.9"/>
<text transform="translate(325.95 440.1) scale(0.92 1)" font-size="7.6" text-anchor="middle" stroke="#111" stroke-width="0.08">−5.0</text>
<line x1="344.5" y1="428.1" x2="344.5" y2="431.1" stroke="#000" stroke-width="0.9"/>
<text transform="translate(344.2 440.1) scale(0.92 1)" font-size="7.6" text-anchor="middle" stroke="#111" stroke-width="0.08">−2.5</text>
<line x1="362.5" y1="428.1" x2="362.5" y2="431.1" stroke="#000" stroke-width="0.9"/>
<text transform="translate(362.5 440.1) scale(0.92 1)" font-size="7.6" text-anchor="middle" stroke="#111" stroke-width="0.08">0.0</text>
<line x1="380.5" y1="428.1" x2="380.5" y2="431.1" stroke="#000" stroke-width="0.9"/>
<text transform="translate(380.5 440.1) scale(0.92 1)" font-size="7.6" text-anchor="middle" stroke="#111" stroke-width="0.08">2.5</text>
<line x1="398.75" y1="428.1" x2="398.75" y2="431.1" stroke="#000" stroke-width="0.9"/>
<text transform="translate(398.75 440.1) scale(0.92 1)" font-size="7.6" text-anchor="middle" stroke="#111" stroke-width="0.08">5.0</text>
<text transform="translate(414.5 451.5)" font-size="9.7" text-anchor="middle" textLength="29.2" lengthAdjust="spacingAndGlyphs" stroke="#111" stroke-width="0.1">UMAP_1</text>
<line x1="421.75" y1="428.1" x2="513" y2="428.1" stroke="#000" stroke-width="1.3"/>
<line x1="427.5" y1="428.1" x2="427.5" y2="431.1" stroke="#000" stroke-width="0.9"/>
<text transform="translate(427.2 440.1) scale(0.92 1)" font-size="7.6" text-anchor="middle" stroke="#111" stroke-width="0.08">−5.0</text>
<line x1="445.5" y1="428.1" x2="445.5" y2="431.1" stroke="#000" stroke-width="0.9"/>
<text transform="translate(445.2 440.1) scale(0.92 1)" font-size="7.6" text-anchor="middle" stroke="#111" stroke-width="0.08">−2.5</text>
<line x1="463.25" y1="428.1" x2="463.25" y2="431.1" stroke="#000" stroke-width="0.9"/>
<text transform="translate(463.25 440.1) scale(0.92 1)" font-size="7.6" text-anchor="middle" stroke="#111" stroke-width="0.08">0.0</text>
<line x1="481.25" y1="428.1" x2="481.25" y2="431.1" stroke="#000" stroke-width="0.9"/>
<text transform="translate(481.25 440.1) scale(0.92 1)" font-size="7.6" text-anchor="middle" stroke="#111" stroke-width="0.08">2.5</text>
<line x1="499.25" y1="428.1" x2="499.25" y2="431.1" stroke="#000" stroke-width="0.9"/>
<text transform="translate(499.25 440.1) scale(0.92 1)" font-size="7.6" text-anchor="middle" stroke="#111" stroke-width="0.08">5.0</text>
<text transform="translate(370.8 343.8)" font-size="8.6" text-anchor="middle" textLength="25.8" lengthAdjust="spacingAndGlyphs" stroke="#111" stroke-width="0.08">Cured</text>
<text transform="translate(469 343.8)" font-size="8.6" text-anchor="middle" textLength="38.6" lengthAdjust="spacingAndGlyphs" stroke="#111" stroke-width="0.08">Relapsed</text>
<path d="M353.8 368.8h0M346.2 363.7h0M358.4 381.2h0M342.2 387.9h0M343.3 396.9h0M353 399.4h0M335.9 367.2h0M344.6 363.2h0M367 395.9h0M349.6 387.3h0M348.4 399.4h0M364.9 368h0M380.5 371.2h0M355.3 361.8h0M364.2 400.4h0M351.2 368.3h0M358.8 362.2h0M365.2 371.8h0M339.7 369.1h0M352.8 392.2h0M336.2 372.6h0M342.5 383.5h0M358.9 366.9h0M358.4 399.9h0M369.6 373.6h0M340.1 383.5h0M348.9 385.3h0M345.8 365.4h0M335.7 373.6h0M343.3 360.9h0M375.4 385.9h0M350.1 367.2h0M363.4 381h0M348.6 398.1h0M348.7 381.4h0M352.3 362.9h0M363.2 386.1h0M363.7 360h0M338.7 374.7h0M368.3 379.3h0M352.7 369.8h0M354.5 359.6h0M370 390.2h0M353.9 377.4h0M354.7 380.8h0M370.8 388.8h0M348.1 385.2h0M369.8 359.8h0M357.1 386.9h0M380.7 366.5h0M361.4 363.2h0M363.7 358.7h0M351.8 393.6h0M354.9 389.7h0M367.9 388.4h0M343.4 364.1h0M346.8 363.5h0M360.4 379.5h0M357.5 405.7h0M376.8 377.5h0M370.7 375h0M361.7 375.2h0M360.4 363.9h0M365.8 400.4h0M361.1 361.8h0M356.2 398.2h0M353.7 357.5h0M359.2 369.9h0M369 366.5h0M378.9 362.4h0M366.2 391.7h0M352.1 398h0M349.5 360.8h0M360.1 399.4h0M378.1 368.4h0M351.5 386.8h0M343.1 393.5h0M381.4 374.8h0M379.4 370.5h0M341.3 381.2h0M368.7 371.1h0M356.6 366.6h0M334.8 380.5h0M336.5 375.1h0M371.7 382.5h0M355.9 400.2h0M339.5 371.2h0M370.5 371.4h0M353 382.2h0M368.6 364.2h0M364.8 387.5h0M367.4 379.7h0M346.5 368.6h0M363.2 399.1h0M340.7 387.7h0M340.9 367.2h0M353.9 351.8h0M344.7 382.2h0M360.7 362.3h0M364.4 394.1h0M379 376.8h0M368.4 386.3h0M346.8 390.2h0M363.8 385.2h0M379.9 360.5h0M352.4 372.9h0M367.2 384h0M369.7 396.3h0M365 382.9h0M347 402.5h0M374.3 378.3h0M350.9 364.9h0M354.6 375.8h0M361.2 396.1h0M352.3 354.6h0M337.5 374.1h0M368.4 382.4h0M375.8 365.4h0M359.4 390.6h0M362.2 395.5h0M348 397.8h0M350.7 367.4h0M359 367.7h0M344.9 392.1h0M364.9 363.4h0M360.8 359.9h0M365.5 396.3h0M369.3 379.5h0M371.3 379.3h0M374.1 380.8h0M348.4 380.3h0M357.7 356.4h0M337.5 377.9h0M346.1 368.4h0M379.5 377.8h0M351.8 375.8h0M351.9 355.3h0M353.7 354.9h0M346.4 391.6h0M372.7 373.8h0M367.5 373h0M351.4 394.8h0M352.3 378.9h0M352.1 358.9h0M368.3 368.1h0M366.3 363.8h0M382 370.8h0M343.7 396h0M357.4 357.6h0M354.7 376.4h0M365.5 359.2h0M349.1 377.7h0M376.5 378.1h0M375.3 373.4h0M350.1 353.4h0M337.6 376h0M375.5 375.9h0M344.6 385.5h0M361.6 387.8h0M364.5 368.8h0M366.4 363.5h0M369.5 383.6h0M354.4 373.7h0M353.6 373.9h0M345.3 368.3h0M378.5 384.4h0M354.6 386.4h0M362.7 384.7h0M367.2 383.9h0M369 365.6h0M345.4 361.9h0M343.5 385.1h0M352.1 382.7h0M341 392.8h0M351 381.8h0M361.4 374.1h0M337.9 363.9h0M367.8 361.4h0M351.5 390.3h0M354.7 361.4h0M352.9 376.2h0M368.9 382.3h0M335.9 367.1h0M376.2 371.6h0M338.1 371.8h0M341.4 379.6h0M350.1 396.8h0M354.3 371.3h0M344.7 377.8h0M380.7 374.9h0M338.2 367.2h0M381.1 369.5h0M349.6 395.7h0M363.2 365.8h0M356.8 354h0M371.1 374.4h0M368.2 369.5h0M350.4 390.4h0M369.6 381.9h0M356.1 363.9h0M342.1 393.7h0M355.6 358.1h0M367.3 396.3h0M348.4 365.3h0M341.4 364.4h0M381.7 368.1h0M349.1 366.9h0M370.4 380.3h0M381.2 365.6h0M341.7 376.5h0M349.7 373.4h0M337 385.2h0M347.2 398.5h0M384.8 367h0M340.2 371.1h0M350.1 385.8h0M383.6 371.9h0M359.3 387.2h0M346 371h0M356.3 356.6h0M354.3 397.3h0M370.2 375.7h0M357.8 403.7h0M361.7 401.2h0M344.9 371.9h0M370.5 390.9h0M358.4 396.7h0M357.7 405.7h0M342.7 363.9h0M351.6 387.5h0M356.5 378.4h0M371.6 391.8h0M352.5 360.9h0M370.7 391.1h0M381.5 376h0M336.3 378.5h0M376.9 369.8h0M346.3 392h0M364.1 358.8h0M345.1 372.8h0M349.5 358.2h0M371.3 367.1h0M356.8 403.5h0M348.4 367.3h0M378.1 383.9h0M360.4 382.8h0M361.8 406.9h0M375.4 362.1h0M352.1 401.3h0M356 356.9h0M365.1 359h0M349.2 366.8h0M337.7 370.8h0M352.9 357.5h0M357.2 375.3h0M368.6 372.5h0M377.1 366.4h0M362 406.9h0M379.8 363.5h0M363.2 382.5h0M373.3 363.1h0M354.8 355.4h0M338.5 370.4h0M346.1 400.3h0M377.8 380.1h0M338.4 368.3h0M361.8 367.2h0M337.9 389.6h0M369.7 396.1h0M364.3 390.8h0M361 379.5h0M340.6 366.2h0M348.1 374.3h0M374.8 385.8h0M371.3 372.6h0M347.1 378.7h0M345.6 379.8h0M363.9 378.6h0M352.8 365h0M346.9 399.3h0M363.1 392.6h0M374.4 387.3h0M339.1 376.1h0M353.3 394.8h0M336.8 375.4h0M342.7 364.1h0M364.5 388.8h0M350.4 374.3h0M360.9 381.4h0M367.8 361.4h0M360.5 381.7h0M376.1 382.7h0M365.7 396h0M371.5 397h0M382 365.8h0M339.7 391h0M375.1 369.2h0M343.7 375.9h0M351.6 364.6h0M344.5 389.8h0M353.4 392.5h0M362.2 385h0M352 394.2h0M372.2 376.8h0M340.6 367.8h0M355.2 366.3h0M352.7 370.1h0M360.8 362.5h0M363.6 368.7h0M356.5 380.1h0M362.7 379.7h0M348 399.2h0M344.7 390.8h0M338.8 382.2h0M371.7 384.7h0M360.2 358.8h0M362.1 378.4h0M343.9 392.2h0M342.7 363h0M355.1 354.7h0M370.5 396.8h0M372.8 387.1h0M354.5 355.6h0M351.7 399.4h0M375.4 383.6h0M377.8 364.9h0M358.5 372.7h0M363.5 373.6h0M350.1 388h0M351.3 379.4h0M366.7 373.1h0M352.8 375.2h0M350.6 387.4h0M352.1 363.1h0M369.9 364.1h0M378 375.8h0M346.5 390.9h0M368.4 379h0M347.7 365.2h0M363.1 370h0M359.8 371h0M341.2 382.7h0M345.5 384.6h0M361.8 402.4h0M353.6 391.3h0M371.4 366.6h0M365 371.4h0M365.6 388.8h0M371.3 363.2h0M348.9 358.1h0M364.9 379.7h0M360.3 374.1h0M348.9 394.4h0M358.7 367.1h0M365.2 399h0M363.2 366.7h0M333.7 367.3h0M340.6 395.1h0M358.8 364.7h0M349.5 357.6h0M349.8 386.9h0M340.5 384.1h0M340.7 381.9h0M358.2 358.4h0M356.2 366.6h0M337.9 364.6h0M360.9 362.7h0M354 365.2h0M345.8 389.7h0M344.4 400.6h0M343.9 386.4h0M374.6 373.9h0M361 375h0M358.6 375.8h0M357.1 354.1h0M358.2 362.6h0M378.2 379.5h0M348.5 375.7h0M359 357.1h0M340.7 381.2h0M362.5 384.4h0M363.1 392.3h0M349.4 366.4h0M363.9 388.3h0M335.8 379.1h0M372.4 366.7h0M340.6 378.3h0M364.3 361.9h0M359.5 405h0M342.5 377.5h0M351.5 388.4h0M355.5 374.6h0M369.3 388.1h0M357 382.6h0M357.6 387.5h0M358.6 376.7h0M341.7 395.5h0M374.4 362.8h0M357.6 366h0M373.5 373.1h0M351.9 399.8h0M356.7 384.5h0M347.2 393.2h0M338.7 381.2h0M355.3 387h0M361.7 386.9h0M358.1 356.3h0M352.4 371h0M353.6 363h0M351.4 394.3h0M371.5 361.6h0M369.3 385.9h0M370.8 391.9h0M366.8 371.2h0M358.8 365.3h0M349 370.6h0M349.7 368.9h0M366.1 365.5h0M348.8 368.9h0M348.8 377.5h0M374.8 364.7h0M366.2 380.2h0M381 363.4h0M366.1 360h0M348.7 360.7h0M382.4 369.9h0M379.3 362.8h0M351.5 398.1h0M346 389.5h0M344.2 388.3h0M339.9 385.6h0M350.4 378.6h0M354.1 387h0M349.6 381.6h0M363.6 390.9h0M361.2 404.6h0M367.3 386.6h0M377 363.2h0M360.4 369.9h0M350.8 375.5h0M355.8 404h0M344.5 369.8h0M370.6 384.7h0M379.9 372.4h0M353.2 389.2h0M368.1 374.8h0M361 362.4h0M353.5 389.1h0M343 397.3h0M338.7 378h0M346.9 370.2h0M342.1 375.3h0M360.5 365.2h0M365.2 396.8h0M376.9 360.4h0M359.7 368.3h0M353.4 393.7h0M360.4 388h0M370.3 386.3h0M358.8 361h0M339.5 373.6h0M364.9 363.3h0M360.1 397.8h0M354.6 361.7h0M349.5 374.5h0M377.2 374.9h0M370.5 389.2h0M345.3 392.1h0M369.2 408.5h0M364.9 409.6h0M365.7 409.1h0M365.7 409.5h0M365.1 408.3h0M364.1 408.6h0M366.1 407.7h0M324.9 417.6h0M325.2 417.5h0M367.1 386.4h0M368.8 370.5h0M354.9 384.6h0M356.5 381.2h0M364.1 383.5h0M344.4 371.7h0M364.1 375.4h0M364 365.3h0M350.2 367.6h0M352.2 384.8h0M343.3 379.7h0M344.1 372.2h0M348.5 388.7h0M359.1 380h0M355.8 369.3h0M360.9 386.4h0M356 376.8h0M358.1 382.6h0M375 369.3h0M371.3 383.1h0M373.6 370.3h0M354.1 362h0M363.1 387.5h0M372.5 376.7h0M354.3 397.4h0M375.8 374.9h0M368.6 380.8h0M367.5 382.7h0M364.3 391.2h0M353 394h0M354.1 374.2h0M347.8 381.9h0M354.1 391.1h0M358.7 394.6h0M372.2 382.2h0M358.3 378.1h0M342.9 374.2h0M372.8 380.8h0M346.4 388.6h0M349.9 390.3h0M357.4 381.2h0M364.5 391.7h0M353.5 362.1h0M342.8 366.5h0M356.9 382.1h0M366.4 378.5h0M358.8 384.7h0M373.1 375.4h0M359.7 365h0M357.3 382.8h0M348.5 380.5h0M347.8 387.9h0M362.6 370.6h0M371.2 366.2h0M348.1 385.7h0M350.4 365.3h0M371.6 381.1h0M364.1 366.7h0M348.3 383.3h0M369.4 372.5h0M365.3 378.2h0M360.5 372.1h0M352.9 389.9h0M355.7 394.1h0M366.1 376.5h0M375.1 374.4h0" stroke="#82b30a" stroke-width="1.4" stroke-linecap="round" fill="none"/>
<path d="M347.7 412.4h0M347.1 408.7h0M344.2 402.6h0M349.3 403.8h0M336.2 397.6h0M353.2 411.2h0M337.6 404.5h0M342.8 422.3h0M347.3 415.3h0M332.5 411.7h0M332.9 405h0M342.7 406.6h0M334.2 413.1h0M334.4 409.5h0M346.4 412.5h0M335.6 405.6h0M332.5 415.6h0M348.4 406.3h0M348.1 408.3h0M339.9 410.4h0M331.2 419.3h0M350.6 418.5h0M337.6 404.3h0M346.3 402.5h0M332 404.3h0M341.4 405.5h0M345 411.6h0M337.4 399.2h0M339.3 410.1h0M335.8 420.4h0M330.1 420h0M355.7 407h0M345.6 410.2h0M338.2 410.3h0M345.2 415.1h0M342.9 403.5h0M348.4 408.8h0M337.4 424.3h0M333.3 416.6h0M343.3 409.3h0M335 399.5h0M327.4 413.1h0M334.3 412.7h0M331.4 410.1h0M326.5 416.2h0M348 408.2h0M334 410.4h0M349.5 406.2h0M347.2 413h0M338.3 415.9h0M348.3 416.4h0M331.2 418.5h0M332.8 423.4h0M352 408h0M338 409.7h0M339.9 403h0M346.2 413.9h0M342.1 408h0M339.3 418.4h0M332.6 423.2h0M335.6 406.9h0M346.4 417.5h0M330.8 420.1h0M352.4 406.8h0M338.9 404.6h0M339 407.3h0M338.5 414.4h0M353.5 409.2h0M348 406.7h0M349.5 419.7h0M355.7 409.3h0M333.8 412h0M345.6 415.3h0M334.9 403.9h0M338.6 412h0M350.6 416.9h0M346.3 420.7h0M348 415.6h0M352.5 406h0M342.6 408.2h0M346.8 409.5h0M331.3 411.9h0M331.9 401.4h0M339.4 416.7h0M340 418.7h0M337.4 399.1h0M351.5 415.7h0M331.4 403h0M331.9 404.5h0M338.9 423.6h0M330.7 415.8h0M335.4 407.1h0M330.4 403.3h0M338.1 422.1h0M344.6 423.8h0M340.9 404h0M340.9 422.8h0M351 416.1h0M338.9 422.3h0M350.2 404.8h0M325.4 416.5h0M332.4 403.2h0M329.4 406.9h0M345.7 409h0M332.6 403.2h0M350.2 412.2h0M338.1 402.8h0M337.1 420h0M339.8 424h0M331.4 422.3h0M335.6 406.1h0M341.6 407.1h0M336 406.9h0M335.6 400.6h0M340.8 419.6h0M333.2 417.5h0M349.4 413.4h0M335.4 415.4h0M351.1 410.4h0M334.5 404.3h0M343.9 408.6h0M339.9 408.5h0M340 414.2h0M341.2 414.8h0M344.1 416.2h0M329.2 419.2h0M338.5 416.4h0M334.9 410.3h0M338.8 399.8h0M335.7 419h0M339.1 407.1h0M346.4 409.8h0M330.2 403.8h0M333.8 413h0M341.4 405.5h0" stroke="#F8766D" stroke-width="1.4" stroke-linecap="round" fill="none"/>
<path d="M392 396.2h0M397 394.3h0M394.7 396.1h0M399.6 388.8h0M406.6 396.2h0M398.4 385.3h0M396.4 393.8h0M400.2 392.4h0M407.7 391.6h0M406.8 391.3h0M402.9 394.6h0M404.3 394h0M396.2 399.3h0M408.5 391h0M407.1 384.1h0M407.9 386.6h0M406.9 382.5h0M390.4 387.2h0M401.7 382.9h0M402 394.6h0M392.1 393.8h0M390 389.4h0M396.4 402.9h0M401.5 380.4h0M399.1 398.1h0M404.7 393h0M389.7 381.8h0M402.4 389.2h0M390 382.7h0M388.4 397.2h0M402 392.7h0M404.8 390.8h0M402.2 392h0M405.3 394.6h0M392.6 385.5h0M395.4 397h0M404.7 397h0M408.5 386.2h0M405.1 392.9h0M400.9 399.1h0M391.2 389.9h0M392.8 394.2h0M404.9 393h0M390.5 385.2h0M404.8 386.8h0M390.6 393.7h0M389.7 385.5h0M397.3 381.8h0M395.9 395.9h0M395.6 384.3h0M400.4 388.5h0M396.3 395.6h0M392 389.6h0M397.8 388.1h0M392.2 399.2h0M397.1 383h0M398.5 395.4h0M404.6 389.4h0M394.6 391.6h0M409.6 389.7h0M403.4 396.4h0M393.8 390.2h0M405.2 394h0M390.9 399.3h0M400.6 399.7h0M391.1 386.6h0M396.3 391.7h0M390.7 384.6h0M394.2 386.6h0M394.7 383.5h0M393.4 391.9h0M391.4 394.4h0M396.4 382.7h0M398.9 400.5h0M404.9 394h0M400.2 398.6h0M398 385.4h0M399.1 399.6h0M392.8 390.7h0M397 383.5h0M407.9 388.3h0M401.4 390.9h0M392.4 394.6h0M391.5 395h0M405.2 382.1h0M396.7 398.8h0M401.9 387.4h0M389.9 393.3h0M403.4 400.1h0M395.6 400h0M392 387h0M389.1 399.6h0M393.8 381.8h0M394.7 390.1h0M398.3 398.8h0M392.1 394.5h0M409.2 387.3h0M391.7 396.6h0M405.8 393.2h0M400.7 394.2h0M400.4 382.7h0M397 386.7h0M395.9 394h0M391 382.5h0M404.3 391.1h0M393.2 392.2h0M398.3 398.2h0M410.4 385.1h0M398.3 380.3h0M389.3 399.2h0M393.4 393.3h0M395.4 381.8h0M396.1 400.7h0M396.8 389.8h0M389.8 397.8h0M391.9 401h0M398.5 380.6h0M398.1 392.7h0M393.9 395.1h0" stroke="#00BFC4" stroke-width="1.4" stroke-linecap="round" fill="none"/>
<path d="M395.9 372.4h0M398 365.9h0M394.8 370.6h0M398.2 366.7h0M398.7 368h0M398.6 368.8h0M397 374.1h0M394.9 364.9h0M395.7 372.7h0M395.5 361.3h0M397 362.1h0M398 366.2h0M400.2 363.7h0M394.6 360.7h0M398.2 370h0M395.2 368.1h0M396.7 359.2h0M395.6 362.1h0M394.8 367.8h0M396.3 361.6h0M395.1 362h0M393.9 368.7h0M396.9 366.1h0M396.5 361.3h0M399.6 368.7h0M400.2 363.3h0M399 360.7h0M401.2 369.1h0M396.2 361.4h0M399.3 363.6h0M394.5 365.7h0M396.7 368.2h0M396.9 366.7h0M400.5 362.6h0M393.6 362.9h0M398.5 369.4h0M395.1 361.9h0M397.3 373.6h0M396 369.8h0M399 363.6h0M393.5 362.8h0M392.6 361.5h0M394.4 370.1h0M398.9 371.7h0M394.3 360.2h0M393.4 364.5h0M393.7 363.5h0M395 363h0M395.9 357h0M399.6 364.1h0M399.7 362.4h0M393.6 369.5h0M399.1 370.2h0M395.9 363.2h0M400.4 363.3h0M400.9 365.6h0M397.6 372.3h0M389.5 352.7h0M390.9 363.4h0M385.4 365.8h0M389.2 361.2h0M386.7 364.5h0M384.7 363.7h0M386.2 363.8h0M390.5 374.8h0M392.3 379.6h0M392.2 379.2h0M391.2 379.6h0" stroke="#C77CFF" stroke-width="1.4" stroke-linecap="round" fill="none"/>
<circle cx="357.5" cy="376.25" r="25.5" fill="none" stroke="#222" stroke-width="0.85" stroke-dasharray="1.8 1.4"/>
<circle cx="399" cy="390.5" r="13.8" fill="none" stroke="#9a9a9a" stroke-width="0.6" stroke-dasharray="1 1"/>
<path d="M460.4 366.4h0M478.8 379.2h0M435.9 367.9h0M451.6 397.4h0M470.5 376.6h0M463.9 394.9h0M454.5 351.4h0M457.4 361.2h0M449.9 386.3h0M460.2 354.5h0M461.2 378.4h0M476.2 380.3h0M475.9 391h0M457.4 403.5h0M444.3 364.1h0M471.1 370.6h0M442.6 391.1h0M444.4 382.6h0M447.6 376.7h0M480.9 380h0M461 402.5h0M450.1 367.4h0M460.5 364.9h0M452.9 382.3h0M441.2 392.3h0M439.3 384.4h0M441.3 375.5h0M440.8 379h0M457.3 401.1h0M474.6 373.7h0M460.9 380.4h0M455.3 360.1h0M438.6 389.6h0M470.6 373.1h0M463.2 392.3h0M467.7 374.3h0M464.6 387.9h0M443.6 372.6h0M476.4 366.9h0M457.7 377.2h0M464.7 384.1h0M472.6 392.3h0M441.1 377.4h0M455.7 402.4h0M444.7 381.2h0M461.6 404.1h0M457.8 397.7h0M454.3 402.5h0M439 370.7h0M459.2 361.3h0M484 365h0M449.6 400.9h0M448.3 387.8h0M454.8 352.4h0M443.8 396h0M481.8 367.3h0M442.6 382.2h0M444.5 369.7h0M440.2 380.2h0M443.9 363.8h0M439.1 374.4h0M439.6 372.3h0M458.3 363.7h0M460.7 385.1h0M457.5 377.6h0M455.5 395.3h0M457.2 401.7h0M455 377.6h0M478.8 366.6h0M453.2 399h0M447.8 364.3h0M444.4 367.9h0M471.4 394.2h0M442.6 392.8h0M469.9 375.6h0M481.2 369.4h0M459.9 390.6h0M464.9 391.9h0M479 371.2h0M475.9 383.6h0M446.2 370h0M458.9 357.9h0M476.2 377.3h0M473.5 374.6h0M456.9 375.9h0M452.2 366.8h0M456 369.2h0M444.6 384.3h0M450.7 400.4h0M458.5 374h0M457.9 393.2h0M477 364.5h0M473.4 370.1h0M454.8 371.7h0M460.3 389.4h0M465.3 390.6h0M446.1 364.2h0M460.5 361.9h0M462 388.1h0M445.2 373.9h0M441.1 376.6h0M461.7 374.5h0M452 398.2h0M465.5 360.1h0M478.3 364.9h0M444.8 372.2h0M442.3 386.9h0M452.4 361.9h0M471.5 389.6h0M477.7 370.2h0M459.7 362.8h0M436.5 385.3h0M470.4 366.7h0M438.1 374h0M447.6 368.9h0M437.4 373.2h0M448.5 377.4h0M448.9 395.2h0M435.8 372.3h0M449.1 367.6h0M455 372.9h0M461.1 355.9h0M435.5 376.1h0M439.6 364.5h0M481.4 373.4h0M467.5 392.3h0M474.8 372.1h0M459 359.3h0M453.9 359.2h0M451.1 393.7h0M472.6 383.4h0M467.6 387.2h0M474.7 380.8h0M463 389h0M475.8 374.4h0M454.3 376.8h0M446.8 393h0M471.5 389.6h0M464.4 374.3h0M464.9 394.6h0M459.9 384.1h0M474.3 382.4h0M459.7 388.3h0M459.8 395.9h0M438.6 387.8h0M452 394.7h0M483.4 366h0M456.1 399.1h0M468 369.4h0M462.1 367.9h0M456.8 402.9h0M451.5 364.7h0M471.6 359.8h0M474.4 361.7h0M446.5 394.4h0M484.2 369.7h0M482.7 371.3h0M464.4 394.7h0M481.1 365.1h0M445.4 381.2h0M469.3 365h0M447.5 381.3h0M451.9 375h0M465.9 398.7h0M472.2 387.2h0M477.9 373.8h0M448.7 387.5h0M446 362.6h0M467.3 398.2h0M475.1 371h0M452 401.8h0M453.8 397.2h0M451.9 372.4h0M477.7 384.3h0M450.5 378.8h0M470.2 394.8h0M441.5 395.9h0M470.4 369.1h0M463.5 401.8h0M472.6 360.7h0M445.9 389.3h0M440.7 372.6h0M462.3 387.8h0M476.2 387.5h0M462.4 388.1h0M441.8 376.7h0M477.6 370.1h0M461.4 403.7h0M457.4 387.6h0M464.7 399h0M455.1 362h0M449 380.1h0M460.1 399.3h0M435.9 377.8h0M449.2 376.2h0M458.6 389.5h0M482.6 364.6h0M465.9 360.5h0M464.3 396.7h0M459.9 360.4h0M465.7 388.4h0M462.1 402.9h0M448.9 394.3h0M461.4 395.4h0M468.1 359.1h0M460.2 402.6h0M463.9 385.4h0M440 390.2h0M454.7 378.9h0M470.6 374.8h0M451.1 368.4h0M467.6 380.2h0M473 390.4h0M440.3 368.4h0M456.3 362.1h0M460 371.5h0M466.2 396.4h0M459.1 354.3h0M448.8 399.4h0M476.2 376h0M472 359.1h0M445.2 389.1h0M469.5 365.2h0M455.1 359.6h0M447.3 385.2h0M460.1 354.5h0M442.8 367.3h0M468.1 369.5h0M443 368.3h0M449.7 368.9h0M450.9 390.1h0M484.2 365.1h0M476.8 362.4h0M456.8 370.4h0M479.8 371.8h0M476 366.7h0M465 396.9h0M443.9 369h0M474.1 372.1h0M474.2 382.7h0M468.8 380.8h0M477.7 366.9h0M448 370.6h0M438.9 369h0M465.8 371.9h0M461.3 389.6h0M474.5 364.1h0M459.1 377.7h0M473.4 370.3h0M448.6 388.2h0M451.1 394.3h0M480 369h0M478.3 374.6h0M472.3 376.1h0M466.3 384.9h0M446.6 398.2h0M461.7 375.8h0M439.3 383.5h0M482.4 371.7h0M469.9 392.8h0M449.5 367.6h0M465.7 400.2h0M462.8 386.7h0M463 363.4h0M465.2 396.5h0M438.8 376.4h0M461.3 387.2h0M457 367.1h0M451.6 391.8h0M447.2 372h0M460.9 383.3h0M470.5 378.4h0M472.1 386.3h0M450.7 402.3h0M459 354.5h0M469.5 373.2h0M439.4 389.9h0M461.8 370.4h0M476.2 367.7h0M458 358.7h0M459.2 393.3h0M466.7 373.3h0M461.4 380h0M445.6 372.5h0M476.7 371.5h0M483.5 369.4h0M451.5 382.1h0M465.5 386h0M452.5 355.3h0M450.2 370.8h0M458.3 361.7h0M467.2 368.3h0M451.8 378.5h0M445 392.3h0M442.2 385.5h0M440.6 373.2h0M459 400.3h0M455.1 351.8h0M477.7 374.1h0M442.1 367.1h0M460.1 363.8h0M456.8 354.3h0M478.6 373.8h0M459.7 365.9h0M471.6 370.7h0M478 383.3h0M440.9 376.6h0M441.2 366.6h0M471.5 384.3h0M460 375.7h0M437.6 387.4h0M436.3 369.2h0M456.3 389.5h0M455.5 378.9h0M457.5 377.8h0M476.8 374.7h0M462.2 400.9h0M460.8 387.5h0M460.5 406.4h0M471.7 380.3h0M471.8 366.9h0M464.2 383.3h0M472.1 365.4h0M450.2 400.1h0M445.7 391.9h0M458.4 354.1h0M474.9 376.3h0M477.2 381.1h0M451.8 358h0M439.4 383.5h0M481.1 375.1h0M454.1 399h0M479.5 380h0M468.5 411.1h0M467.6 410.4h0M469.6 409.3h0M468.8 411.2h0M469.9 411.2h0M426.5 415.2h0M469.4 367.2h0M458.5 389.9h0M457.2 371.5h0M471.3 364.5h0M455.2 382.3h0M474.2 376.6h0M446.7 378.2h0M472.1 366.8h0M453.4 387.6h0M452.3 378.1h0M472.4 371.6h0M458.5 379.7h0M470.8 377.5h0M441.2 363.9h0M464.1 374.5h0M459.4 394.2h0M450.3 370.9h0M461.3 363.7h0M458.7 379.5h0M459.1 396.5h0M446.3 381.9h0M447.3 369.4h0M458.2 381.8h0M459.7 374h0M438.7 379.8h0M465.9 390.4h0M454.2 369.4h0M468.1 383.3h0M449.1 385.7h0M447.7 379.1h0M467 372.5h0M471.5 374.8h0M466.1 373.1h0M464.7 377.8h0M457.4 383.1h0M445.5 373.5h0M462.4 396.8h0M470.7 372.5h0M453.1 362.8h0M452.7 374.7h0M463.3 367.4h0M456.7 381.2h0M457 373.6h0M458 390.6h0M458.4 374h0M454.7 394.6h0M466.8 385.8h0" stroke="#82b30a" stroke-width="1.4" stroke-linecap="round" fill="none"/>
<path d="M434.5 415.5h0M459.5 408.3h0M441.6 406.7h0M455.8 412.6h0M448.9 411h0M451.2 413.8h0M446 414.5h0M441.7 410.3h0M442.9 404.8h0M441.2 417.9h0M447.4 419h0M432.3 424.1h0M449.1 417.6h0M444.5 405.5h0M430.8 421.1h0M443.9 408h0M439.3 411.8h0M444.3 422.2h0M442 412.9h0M429 416.8h0M440.3 411.2h0M450.9 421.7h0M451.3 407.2h0M450.2 418.3h0M430.6 405.8h0M450.9 414.9h0M447.9 420.1h0M430.1 417.6h0M437.1 417.7h0M448.9 420.4h0M444.4 403.5h0M450.4 419.9h0M454.6 412.7h0M429.8 415.6h0M442 414h0M436.5 421.3h0M451.2 416.4h0M432.4 407.9h0M436.3 414.8h0M441.2 413.2h0M434.4 414.8h0M430.3 420h0M432.8 415.2h0M439.5 409.1h0M433.6 413.3h0M452 414.9h0M436 398.8h0M436.3 422.5h0M435.6 400.6h0M432 402.2h0M437.3 412.2h0M434.8 413.7h0M451.1 411.3h0M442.4 424.5h0M428 420.6h0M448.7 413.1h0M437.9 399h0M435 418.2h0M439 400.9h0M438.2 420.2h0M437.5 416.5h0M439.1 411.7h0M443.3 408h0M429 415.8h0M433.6 399.2h0M441.7 414.6h0M438.7 405.3h0M440.9 412.5h0M453.3 407.2h0M438.5 414.8h0M433.7 422.6h0M429.4 412.1h0M451.3 412.9h0M448 417.2h0M440 415.9h0M446 419.1h0M440.7 403.7h0M435.2 398.4h0M447.5 412.7h0M444.6 412.5h0M429.1 407.7h0M432.6 403.5h0M440.5 401.8h0M435.3 415.8h0M427.3 415.7h0M445.3 415.7h0M446.4 414.8h0M435.5 400h0M435.6 398.1h0M450 411.8h0M434.3 401.9h0M436.8 405.7h0M432.5 406h0M448.9 417.9h0M440.4 411.3h0M429.9 414.7h0" stroke="#F8766D" stroke-width="1.4" stroke-linecap="round" fill="none"/>
<path d="M497.4 393.3h0M501.4 388.4h0M494.1 395.7h0M495.2 399.5h0M498 403.3h0M505.3 381.2h0M500.4 388h0M500.8 394.4h0M499.1 394.2h0M497.7 383.7h0M502.6 387.8h0M488.6 403h0M488.6 397.7h0M491.8 392.3h0M497.1 385h0M504.6 393.4h0M504.6 386.5h0M495.1 390h0M501.6 395.2h0M490.4 385.7h0M491.7 399.9h0M508.3 391.6h0M496.7 384.7h0M502.6 382.6h0M495.5 395.3h0M502.3 391.4h0M491.5 382.7h0M511.1 390.5h0M498.5 387.3h0M502.7 389h0M491 388.6h0M497.7 400.9h0M492.8 382.9h0M493.5 392.1h0M501.8 394.7h0M504 392.7h0M489.8 399.1h0M505.8 386.2h0M498.6 394.8h0M494.1 383.2h0M498.8 401h0M493.1 381.5h0M508.4 390.4h0M502.2 386.1h0M491.1 393h0M495 401h0M495.6 399.3h0M490.7 385.9h0M493.5 395.2h0M499.7 394.7h0M497.6 400.3h0M492.5 399.6h0M489.7 398.1h0M491.3 399.7h0M507.8 394.6h0M505.1 386.9h0M498.3 402.2h0M501.4 387.7h0M500.7 389.8h0M500.7 389.7h0M491.8 383.4h0M493 383.5h0M498.6 402.7h0M507.5 394.2h0M508 394.2h0M496.4 397.6h0M500.6 395h0M496.9 383.1h0M493.6 389.7h0M495.8 395.2h0M491.2 382.6h0M493.6 391.1h0M499.7 385.5h0M496.2 396.2h0M503.8 392.7h0M493 393.2h0M504.8 397h0M501.6 382.7h0M491.8 399.9h0M493.3 385.1h0M506.4 392.5h0M506.5 396.4h0M498.6 391.3h0M506.3 395.1h0M507.9 385.3h0" stroke="#00BFC4" stroke-width="1.4" stroke-linecap="round" fill="none"/>
<path d="M499.7 367.8h0M496.9 368.6h0M499.7 366.8h0M494.9 367.2h0M496.9 363.9h0M498.6 369.9h0M495.9 364.3h0M499.7 372.4h0M495.2 364.2h0M498.5 368.7h0M497.1 361.8h0M497.9 360.9h0M496.5 365h0M493.6 367h0M501.4 358.8h0M493.8 362.6h0M500.1 370.9h0M498 370.4h0M494.4 359h0M500.9 369.2h0M495.5 369.3h0M500.8 363.7h0M495.6 369h0M496.9 366.2h0M495.4 359.4h0M494.6 357.5h0M495.8 369.9h0M500.4 361.8h0M497.4 364.7h0M497.8 358.1h0M498.3 360h0M499.1 368.1h0M495.7 364.2h0M496.3 361h0M503.2 366.1h0M495.1 370.4h0M496.1 366.5h0M501.1 366.1h0M498.2 361.6h0M496.7 369.7h0M487.7 355.4h0M484.5 374.2h0M493.3 365.3h0M486.5 355.5h0M485.8 364.5h0M491.5 378.8h0M493.3 379.5h0M494.3 378.1h0" stroke="#C77CFF" stroke-width="1.4" stroke-linecap="round" fill="none"/>
<circle cx="458.25" cy="376.25" r="25.5" fill="none" stroke="#222" stroke-width="0.85" stroke-dasharray="1.8 1.4"/>
<circle cx="499.75" cy="390.5" r="13.8" fill="none" stroke="#9a9a9a" stroke-width="0.6" stroke-dasharray="1 1"/>
<text transform="translate(7.4 473.4) scale(1.1 1)" font-size="10.2" font-weight="bold" fill="#000" stroke="#000" stroke-width="0.3">K</text>
<text transform="translate(271.6 473.4) scale(1.1 1)" font-size="10.2" font-weight="bold" fill="#000" stroke="#000" stroke-width="0.3">L</text>
<text transform="translate(46.2 483.8)" font-size="9.6" textLength="94.8" lengthAdjust="spacingAndGlyphs" stroke="#111" stroke-width="0.05">CD8-T1 (Memory-like)</text>
<rect x="13.3" y="491.7" width="47.95" height="5.1" fill="#13538b"/>
<line x1="79.5" y1="494.25" x2="82.9" y2="494.25" stroke="#000" stroke-width="0.9"/>
<text transform="translate(85.8 496.55)" font-size="6.3" textLength="66.7" lengthAdjust="spacingAndGlyphs">Biocarta_TCRA_pathway</text>
<rect x="13.3" y="499.62" width="49.7" height="5.1" fill="#13538b"/>
<line x1="79.5" y1="502.17" x2="82.9" y2="502.17" stroke="#000" stroke-width="0.9"/>
<text transform="translate(85.8 504.47)" font-size="6.3" textLength="61.6" lengthAdjust="spacingAndGlyphs">Biocarta_TCR_pathway</text>
<rect x="13.3" y="507.53" width="47.95" height="5.1" fill="#13538b"/>
<line x1="79.5" y1="510.08" x2="82.9" y2="510.08" stroke="#000" stroke-width="0.9"/>
<text transform="translate(85.8 512.38)" font-size="6.3" textLength="93.3" lengthAdjust="spacingAndGlyphs">Reactome_innate_immune_system</text>
<rect x="13.3" y="515.45" width="52.2" height="5.1" fill="#13538b"/>
<line x1="79.5" y1="518" x2="82.9" y2="518" stroke="#000" stroke-width="0.9"/>
<text transform="translate(85.8 520.3)" font-size="6.3" textLength="127.3" lengthAdjust="spacingAndGlyphs">WP_cancer_immunotherapy_by_PD1_blockade</text>
<rect x="13.3" y="523.37" width="50.95" height="5.1" fill="#13538b"/>
<line x1="79.5" y1="525.92" x2="82.9" y2="525.92" stroke="#000" stroke-width="0.9"/>
<text transform="translate(85.8 528.22)" font-size="6.3" textLength="170.8" lengthAdjust="spacingAndGlyphs">Reactome_translocation_of_zap_70_to_immunological_synapse</text>
<rect x="13.3" y="531.28" width="52.7" height="5.1" fill="#13538b"/>
<line x1="79.5" y1="533.83" x2="82.9" y2="533.83" stroke="#000" stroke-width="0.9"/>
<text transform="translate(85.8 536.13)" font-size="6.3" textLength="159.1" lengthAdjust="spacingAndGlyphs">Reactome_Phosphorylation_of_CD3_and_TCR_zeta_chains</text>
<rect x="13.3" y="539.2" width="49.7" height="5.1" fill="#13538b"/>
<line x1="79.5" y1="541.75" x2="82.9" y2="541.75" stroke="#000" stroke-width="0.9"/>
<text transform="translate(85.8 544.05)" font-size="6.3" textLength="61.7" lengthAdjust="spacingAndGlyphs">Biocarta_IL12_pathway</text>
<rect x="13.3" y="547.12" width="57.7" height="5.1" fill="#13538b"/>
<line x1="79.5" y1="549.67" x2="82.9" y2="549.67" stroke="#000" stroke-width="0.9"/>
<text transform="translate(85.8 551.97)" font-size="6.3" textLength="103.6" lengthAdjust="spacingAndGlyphs">Hallmark_interferon_gamma_response</text>
<rect x="13.3" y="555.03" width="54.7" height="5.1" fill="#13538b"/>
<line x1="79.5" y1="557.58" x2="82.9" y2="557.58" stroke="#000" stroke-width="0.9"/>
<text transform="translate(85.8 559.88)" font-size="6.3" textLength="98.1" lengthAdjust="spacingAndGlyphs">Hallmark_interferon_alpha_response</text>
<rect x="13.3" y="562.95" width="50.45" height="5.1" fill="#13538b"/>
<line x1="79.5" y1="565.5" x2="82.9" y2="565.5" stroke="#000" stroke-width="0.9"/>
<text transform="translate(85.8 567.8)" font-size="6.3" textLength="99.9" lengthAdjust="spacingAndGlyphs">Hallmark_TNFA_signaling_VIA_NFKB</text>
<rect x="13.3" y="570.87" width="44.7" height="5.1" fill="#13538b"/>
<line x1="79.5" y1="573.42" x2="82.9" y2="573.42" stroke="#000" stroke-width="0.9"/>
<text transform="translate(85.8 575.72)" font-size="6.3" textLength="71.4" lengthAdjust="spacingAndGlyphs">Hallmark_MYC_targets_V1</text>
<rect x="13.3" y="578.78" width="46.7" height="5.1" fill="#13538b"/>
<line x1="79.5" y1="581.33" x2="82.9" y2="581.33" stroke="#000" stroke-width="0.9"/>
<text transform="translate(85.8 583.63)" font-size="6.3" textLength="95.2" lengthAdjust="spacingAndGlyphs">Hallmark_IL6_JAK_STAT3_signaling</text>
<rect x="13.3" y="586.7" width="49.95" height="5.1" fill="#13538b"/>
<line x1="79.5" y1="589.25" x2="82.9" y2="589.25" stroke="#000" stroke-width="0.9"/>
<text transform="translate(85.8 591.55)" font-size="6.3" textLength="118.9" lengthAdjust="spacingAndGlyphs">GSE16522_memory_vs_naive_CD8_Tcell_up</text>
<rect x="13.3" y="594.62" width="46.7" height="5.1" fill="#13538b"/>
<line x1="79.5" y1="597.17" x2="82.9" y2="597.17" stroke="#000" stroke-width="0.9"/>
<text transform="translate(85.8 599.47)" font-size="6.3" textLength="76.2" lengthAdjust="spacingAndGlyphs">Biocarta_glycolysis_pathway</text>
<rect x="13.3" y="602.53" width="54.7" height="5.1" fill="#13538b"/>
<line x1="79.5" y1="605.08" x2="82.9" y2="605.08" stroke="#000" stroke-width="0.9"/>
<text transform="translate(85.8 607.38)" font-size="6.3" textLength="98.8" lengthAdjust="spacingAndGlyphs">WP_glycolysis_and_gluconeogenesis</text>
<rect x="13.3" y="610.45" width="49.95" height="5.1" fill="#13538b"/>
<line x1="79.5" y1="613" x2="82.9" y2="613" stroke="#000" stroke-width="0.9"/>
<text transform="translate(85.8 615.3)" font-size="6.3" textLength="55.7" lengthAdjust="spacingAndGlyphs">Reactome_glycolysis</text>
<rect x="13.3" y="488.4" width="66.2" height="129.6" fill="none" stroke="#000" stroke-width="0.9"/>
<line x1="13.3" y1="618" x2="13.3" y2="620.4" stroke="#000" stroke-width="0.7"/>
<text transform="translate(13.3 629.6) scale(0.93 1)" font-size="7.1" text-anchor="middle" stroke="#111" stroke-width="0.14">0.0</text>
<line x1="29" y1="618" x2="29" y2="620.4" stroke="#000" stroke-width="0.7"/>
<text transform="translate(29 629.6) scale(0.93 1)" font-size="7.1" text-anchor="middle" stroke="#111" stroke-width="0.14">0.5</text>
<line x1="44.7" y1="618" x2="44.7" y2="620.4" stroke="#000" stroke-width="0.7"/>
<text transform="translate(44.7 629.6) scale(0.93 1)" font-size="7.1" text-anchor="middle" stroke="#111" stroke-width="0.14">1.0</text>
<line x1="60.4" y1="618" x2="60.4" y2="620.4" stroke="#000" stroke-width="0.7"/>
<text transform="translate(60.4 629.6) scale(0.93 1)" font-size="7.1" text-anchor="middle" stroke="#111" stroke-width="0.14">1.5</text>
<line x1="76.1" y1="618" x2="76.1" y2="620.4" stroke="#000" stroke-width="0.7"/>
<text transform="translate(76.1 629.6) scale(0.93 1)" font-size="7.1" text-anchor="middle" stroke="#111" stroke-width="0.14">2.0</text>
<text transform="translate(45 640.6) scale(0.8 1)" font-size="9" text-anchor="middle" stroke="#111" stroke-width="0.18">Normalized enrichment</text>
<text transform="translate(45 651.4) scale(0.8 1)" font-size="9" text-anchor="middle" stroke="#111" stroke-width="0.18">score (p &lt; 0.05)</text>
<rect x="174.4" y="488.3" width="6.6" height="5" fill="#13538b"/>
<text transform="translate(183.5 493.3)" font-size="7" fill="#1a1a1a" textLength="65.8" lengthAdjust="spacingAndGlyphs">Upregulated in cured</text>
<rect x="174.4" y="497.5" width="6.6" height="5" fill="#c8102e"/>
<text transform="translate(183.5 502.5)" font-size="7" fill="#1a1a1a" textLength="70.5" lengthAdjust="spacingAndGlyphs">Upregulated in relapse</text>
<text transform="translate(280 483.8)" font-size="9.5" textLength="91.2" lengthAdjust="spacingAndGlyphs" stroke="#111" stroke-width="0.05">CD8-T2 (Effector-like)</text>
<rect x="304.25" y="491.65" width="27" height="5.2" fill="#13538b"/>
<line x1="337" y1="494.25" x2="340.4" y2="494.25" stroke="#000" stroke-width="0.9"/>
<text transform="translate(342.9 496.55)" font-size="6.3" textLength="77.5" lengthAdjust="spacingAndGlyphs">Biocarta_tcytotoxic_pathway</text>
<rect x="304.25" y="500.08" width="26.25" height="5.2" fill="#13538b"/>
<line x1="337" y1="502.68" x2="340.4" y2="502.68" stroke="#000" stroke-width="0.9"/>
<text transform="translate(342.9 504.98)" font-size="6.3" textLength="60.8" lengthAdjust="spacingAndGlyphs">Biocarta_tcra_pathway</text>
<rect x="304.25" y="508.51" width="27.5" height="5.2" fill="#13538b"/>
<line x1="337" y1="511.11" x2="340.4" y2="511.11" stroke="#000" stroke-width="0.9"/>
<text transform="translate(342.9 513.41)" font-size="6.3" textLength="77.5" lengthAdjust="spacingAndGlyphs">Go_T_cell receptor_complex</text>
<rect x="304.25" y="516.94" width="26.5" height="5.2" fill="#13538b"/>
<line x1="337" y1="519.54" x2="340.4" y2="519.54" stroke="#000" stroke-width="0.9"/>
<text transform="translate(342.9 521.84)" font-size="6.3" textLength="104.1" lengthAdjust="spacingAndGlyphs">Go_T_cell receptor_signaling_pathway</text>
<rect x="304.25" y="525.36" width="27.5" height="5.2" fill="#13538b"/>
<line x1="337" y1="527.96" x2="340.4" y2="527.96" stroke="#000" stroke-width="0.9"/>
<text transform="translate(342.9 530.26)" font-size="6.3" textLength="156.5" lengthAdjust="spacingAndGlyphs">Go_positive_regulation_of_interferon_gamma_production</text>
<rect x="304.25" y="533.79" width="26.75" height="5.2" fill="#13538b"/>
<line x1="337" y1="536.39" x2="340.4" y2="536.39" stroke="#000" stroke-width="0.9"/>
<text transform="translate(342.9 538.69)" font-size="6.3" textLength="152.9" lengthAdjust="spacingAndGlyphs">Go_tumor_necrosis_factor_mediated_signaling_pathway</text>
<rect x="304.25" y="542.22" width="30.25" height="5.2" fill="#13538b"/>
<line x1="337" y1="544.82" x2="340.4" y2="544.82" stroke="#000" stroke-width="0.9"/>
<text transform="translate(342.9 547.12)" font-size="6.3" textLength="105.2" lengthAdjust="spacingAndGlyphs">GSE9650_naive_vs_EFF_CD8_Tcell_DN</text>
<rect x="304.25" y="550.65" width="29.5" height="5.2" fill="#13538b"/>
<line x1="337" y1="553.25" x2="340.4" y2="553.25" stroke="#000" stroke-width="0.9"/>
<text transform="translate(342.9 555.55)" font-size="6.3" textLength="113.1" lengthAdjust="spacingAndGlyphs">Kaech_naive_vs_day8_EFF_CD8_Tcell_DN</text>
<rect x="304.25" y="559.08" width="27.5" height="5.2" fill="#13538b"/>
<line x1="337" y1="561.68" x2="340.4" y2="561.68" stroke="#000" stroke-width="0.9"/>
<text transform="translate(342.9 563.98)" font-size="6.3" textLength="116.6" lengthAdjust="spacingAndGlyphs">Kaech_naive_vs_day15_EFF_CD8_Tcell_DN</text>
<rect x="304.25" y="567.51" width="27.5" height="5.2" fill="#13538b"/>
<line x1="337" y1="570.11" x2="340.4" y2="570.11" stroke="#000" stroke-width="0.9"/>
<text transform="translate(342.9 572.41)" font-size="6.3" textLength="146.8" lengthAdjust="spacingAndGlyphs">Go_regulation_of_mitochondrial_membrane_potential</text>
<rect x="304.25" y="575.94" width="23" height="5.2" fill="#13538b"/>
<line x1="337" y1="578.54" x2="340.4" y2="578.54" stroke="#000" stroke-width="0.9"/>
<text transform="translate(342.9 580.84)" font-size="6.3" textLength="97.6" lengthAdjust="spacingAndGlyphs">Hallmark_oxidative_phosphorylation</text>
<rect x="304.25" y="584.36" width="25.75" height="5.2" fill="#13538b"/>
<line x1="337" y1="586.96" x2="340.4" y2="586.96" stroke="#000" stroke-width="0.9"/>
<text transform="translate(342.9 589.26)" font-size="6.3" textLength="55.4" lengthAdjust="spacingAndGlyphs">Reactome_glycolysis</text>
<rect x="279.5" y="592.79" width="24.75" height="5.2" fill="#c8102e"/>
<line x1="337" y1="595.39" x2="340.4" y2="595.39" stroke="#000" stroke-width="0.9"/>
<text transform="translate(342.9 597.69)" font-size="6.3" textLength="84.6" lengthAdjust="spacingAndGlyphs">Reactome_signaling_by_notch1</text>
<rect x="279" y="601.22" width="25.25" height="5.2" fill="#c8102e"/>
<line x1="337" y1="603.82" x2="340.4" y2="603.82" stroke="#000" stroke-width="0.9"/>
<text transform="translate(342.9 606.12)" font-size="6.3" textLength="171" lengthAdjust="spacingAndGlyphs">Reactome_notch1_intracellular_domain_regulates_transcription</text>
<rect x="275.5" y="609.65" width="28.75" height="5.2" fill="#c8102e"/>
<line x1="337" y1="612.25" x2="340.4" y2="612.25" stroke="#000" stroke-width="0.9"/>
<text transform="translate(342.9 614.55)" font-size="6.3" textLength="107.7" lengthAdjust="spacingAndGlyphs">Kaech_naive_vs_day8_eff_CD8_Tcell_up</text>
<line x1="303.95" y1="488.8" x2="303.95" y2="618" stroke="#111" stroke-width="1.2"/>
<rect x="271.3" y="488.8" width="65.7" height="129.2" fill="none" stroke="#000" stroke-width="0.9"/>
<line x1="273" y1="618" x2="273" y2="620.4" stroke="#000" stroke-width="0.7"/>
<text transform="translate(272.8 630) scale(0.95 1)" font-size="7.1" text-anchor="middle" stroke="#111" stroke-width="0.14">−2</text>
<line x1="304.25" y1="618" x2="304.25" y2="620.4" stroke="#000" stroke-width="0.7"/>
<text transform="translate(304.25 630) scale(0.95 1)" font-size="7.1" text-anchor="middle" stroke="#111" stroke-width="0.14">0</text>
<line x1="334.75" y1="618" x2="334.75" y2="620.4" stroke="#000" stroke-width="0.7"/>
<text transform="translate(334.75 630) scale(0.95 1)" font-size="7.1" text-anchor="middle" stroke="#111" stroke-width="0.14">2</text>
<text transform="translate(304.5 640.6) scale(0.8 1)" font-size="9" text-anchor="middle" stroke="#111" stroke-width="0.18">Normalized enrichment</text>
<text transform="translate(304.5 651.4) scale(0.8 1)" font-size="9" text-anchor="middle" stroke="#111" stroke-width="0.18">score (p &lt; 0.05)</text>
<rect x="0.5" y="0.5" width="519" height="657" fill="none" stroke="#000" stroke-width="1"/>
<rect x="0" y="0" width="520" height="1.3" fill="#000"/>
<rect x="0" y="656.2" width="520" height="1.8" fill="#000"/>
<rect x="518.7" y="0" width="1.3" height="658" fill="#000"/>
</svg>
</body>
</html>
